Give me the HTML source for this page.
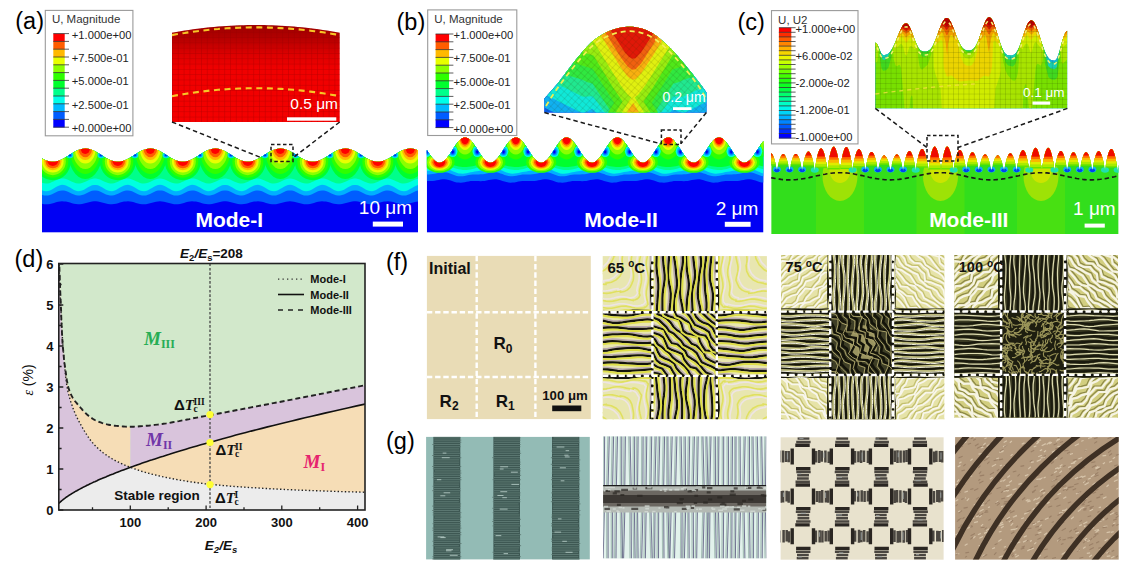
<!DOCTYPE html>
<html><head><meta charset="utf-8"><style>
html,body{margin:0;padding:0;background:#fff;}
body{width:1131px;height:568px;overflow:hidden;position:relative;}
svg{position:absolute;left:0;top:0;}
</style></head><body>
<svg width="1131" height="568" viewBox="0 0 1131 568">
<text x="15.3" y="29.3" text-anchor="start" style="font-family:'Liberation Sans',sans-serif;font-size:23.5px;font-weight:normal" fill="#000">(a)</text>
<text x="396.5" y="30.3" text-anchor="start" style="font-family:'Liberation Sans',sans-serif;font-size:23.5px;font-weight:normal" fill="#000">(b)</text>
<text x="737.5" y="29.5" text-anchor="start" style="font-family:'Liberation Sans',sans-serif;font-size:23.5px;font-weight:normal" fill="#000">(c)</text>
<text x="14.5" y="267" text-anchor="start" style="font-family:'Liberation Sans',sans-serif;font-size:23.5px;font-weight:normal" fill="#000">(d)</text>
<text x="386" y="269.5" text-anchor="start" style="font-family:'Liberation Sans',sans-serif;font-size:23.5px;font-weight:normal" fill="#000">(f)</text>
<text x="386" y="449" text-anchor="start" style="font-family:'Liberation Sans',sans-serif;font-size:23.5px;font-weight:normal" fill="#000">(g)</text>
<rect x="45.3" y="10.4" width="87.6" height="125.4" fill="#fff" stroke="#9a9a9a" stroke-width="1.1"/>
<text x="51.9" y="23.4" style="font-family:'Liberation Sans',sans-serif;font-size:11.5px" fill="#333">U, Magnitude</text>
<rect x="53.3" y="33.6" width="11.4" height="8.1" fill="#ff0000"/>
<rect x="53.3" y="41.4" width="11.4" height="8.1" fill="#ff5d00"/>
<rect x="53.3" y="49.2" width="11.4" height="8.1" fill="#ffb900"/>
<rect x="53.3" y="57" width="11.4" height="8.1" fill="#e8ff00"/>
<rect x="53.3" y="64.8" width="11.4" height="8.1" fill="#8bff00"/>
<rect x="53.3" y="72.6" width="11.4" height="8.1" fill="#2eff00"/>
<rect x="53.3" y="80.4" width="11.4" height="8.1" fill="#00ff2e"/>
<rect x="53.3" y="88.2" width="11.4" height="8.1" fill="#00ff8b"/>
<rect x="53.3" y="96" width="11.4" height="8.1" fill="#00ffe8"/>
<rect x="53.3" y="103.8" width="11.4" height="8.1" fill="#00b9ff"/>
<rect x="53.3" y="111.6" width="11.4" height="8.1" fill="#005dff"/>
<rect x="53.3" y="119.4" width="11.4" height="8.1" fill="#0000ff"/>
<line x1="53.3" y1="33.6" x2="69" y2="33.6" stroke="#333" stroke-width="0.8"/>
<line x1="53.3" y1="41.4" x2="69" y2="41.4" stroke="#333" stroke-width="0.8"/>
<line x1="53.3" y1="49.2" x2="69" y2="49.2" stroke="#333" stroke-width="0.8"/>
<line x1="53.3" y1="57" x2="69" y2="57" stroke="#333" stroke-width="0.8"/>
<line x1="53.3" y1="64.8" x2="69" y2="64.8" stroke="#333" stroke-width="0.8"/>
<line x1="53.3" y1="72.6" x2="69" y2="72.6" stroke="#333" stroke-width="0.8"/>
<line x1="53.3" y1="80.4" x2="69" y2="80.4" stroke="#333" stroke-width="0.8"/>
<line x1="53.3" y1="88.2" x2="69" y2="88.2" stroke="#333" stroke-width="0.8"/>
<line x1="53.3" y1="96" x2="69" y2="96" stroke="#333" stroke-width="0.8"/>
<line x1="53.3" y1="103.8" x2="69" y2="103.8" stroke="#333" stroke-width="0.8"/>
<line x1="53.3" y1="111.6" x2="69" y2="111.6" stroke="#333" stroke-width="0.8"/>
<line x1="53.3" y1="119.4" x2="69" y2="119.4" stroke="#333" stroke-width="0.8"/>
<line x1="53.3" y1="127.2" x2="69" y2="127.2" stroke="#333" stroke-width="0.8"/>
<text x="71.8" y="38.5" style="font-family:'Liberation Sans',sans-serif;font-size:11.2px" fill="#222">+1.000e+00</text>
<text x="71.8" y="61.9" style="font-family:'Liberation Sans',sans-serif;font-size:11.2px" fill="#222">+7.500e-01</text>
<text x="71.8" y="85.3" style="font-family:'Liberation Sans',sans-serif;font-size:11.2px" fill="#222">+5.000e-01</text>
<text x="71.8" y="108.7" style="font-family:'Liberation Sans',sans-serif;font-size:11.2px" fill="#222">+2.500e-01</text>
<text x="71.8" y="132.1" style="font-family:'Liberation Sans',sans-serif;font-size:11.2px" fill="#222">+0.000e+00</text>
<rect x="427.7" y="9.9" width="89.1" height="125.6" fill="#fff" stroke="#9a9a9a" stroke-width="1.1"/>
<text x="434.3" y="22.9" style="font-family:'Liberation Sans',sans-serif;font-size:11.5px" fill="#333">U, Magnitude</text>
<rect x="435.6" y="34" width="13.5" height="8.1" fill="#ff0000"/>
<rect x="435.6" y="41.8" width="13.5" height="8.1" fill="#ff5d00"/>
<rect x="435.6" y="49.6" width="13.5" height="8.1" fill="#ffb900"/>
<rect x="435.6" y="57.4" width="13.5" height="8.1" fill="#e8ff00"/>
<rect x="435.6" y="65.2" width="13.5" height="8.1" fill="#8bff00"/>
<rect x="435.6" y="73" width="13.5" height="8.1" fill="#2eff00"/>
<rect x="435.6" y="80.8" width="13.5" height="8.1" fill="#00ff2e"/>
<rect x="435.6" y="88.6" width="13.5" height="8.1" fill="#00ff8b"/>
<rect x="435.6" y="96.4" width="13.5" height="8.1" fill="#00ffe8"/>
<rect x="435.6" y="104.2" width="13.5" height="8.1" fill="#00b9ff"/>
<rect x="435.6" y="112" width="13.5" height="8.1" fill="#005dff"/>
<rect x="435.6" y="119.8" width="13.5" height="8.1" fill="#0000ff"/>
<line x1="435.6" y1="34" x2="453.4" y2="34" stroke="#333" stroke-width="0.8"/>
<line x1="435.6" y1="41.8" x2="453.4" y2="41.8" stroke="#333" stroke-width="0.8"/>
<line x1="435.6" y1="49.6" x2="453.4" y2="49.6" stroke="#333" stroke-width="0.8"/>
<line x1="435.6" y1="57.4" x2="453.4" y2="57.4" stroke="#333" stroke-width="0.8"/>
<line x1="435.6" y1="65.2" x2="453.4" y2="65.2" stroke="#333" stroke-width="0.8"/>
<line x1="435.6" y1="73" x2="453.4" y2="73" stroke="#333" stroke-width="0.8"/>
<line x1="435.6" y1="80.8" x2="453.4" y2="80.8" stroke="#333" stroke-width="0.8"/>
<line x1="435.6" y1="88.6" x2="453.4" y2="88.6" stroke="#333" stroke-width="0.8"/>
<line x1="435.6" y1="96.4" x2="453.4" y2="96.4" stroke="#333" stroke-width="0.8"/>
<line x1="435.6" y1="104.2" x2="453.4" y2="104.2" stroke="#333" stroke-width="0.8"/>
<line x1="435.6" y1="112" x2="453.4" y2="112" stroke="#333" stroke-width="0.8"/>
<line x1="435.6" y1="119.8" x2="453.4" y2="119.8" stroke="#333" stroke-width="0.8"/>
<line x1="435.6" y1="127.6" x2="453.4" y2="127.6" stroke="#333" stroke-width="0.8"/>
<text x="453.5" y="38.9" style="font-family:'Liberation Sans',sans-serif;font-size:11.2px" fill="#222">+1.000e+00</text>
<text x="453.5" y="62.3" style="font-family:'Liberation Sans',sans-serif;font-size:11.2px" fill="#222">+7.500e-01</text>
<text x="453.5" y="85.7" style="font-family:'Liberation Sans',sans-serif;font-size:11.2px" fill="#222">+5.000e-01</text>
<text x="453.5" y="109.1" style="font-family:'Liberation Sans',sans-serif;font-size:11.2px" fill="#222">+2.500e-01</text>
<text x="453.5" y="132.5" style="font-family:'Liberation Sans',sans-serif;font-size:11.2px" fill="#222">+0.000e+00</text>
<rect x="771.5" y="10.6" width="86.5" height="133.3" fill="#fff" stroke="#9a9a9a" stroke-width="1.1"/>
<text x="778.1" y="23.6" style="font-family:'Liberation Sans',sans-serif;font-size:11.5px" fill="#333">U, U2</text>
<rect x="778.9" y="27.7" width="12.4" height="4.9" fill="#ff0000"/>
<rect x="778.9" y="32.3" width="12.4" height="4.9" fill="#ff2c00"/>
<rect x="778.9" y="36.9" width="12.4" height="4.9" fill="#ff5800"/>
<rect x="778.9" y="41.5" width="12.4" height="4.9" fill="#ff8500"/>
<rect x="778.9" y="46.1" width="12.4" height="4.9" fill="#ffb000"/>
<rect x="778.9" y="50.7" width="12.4" height="4.9" fill="#f6d400"/>
<rect x="778.9" y="55.3" width="12.4" height="4.9" fill="#ebf500"/>
<rect x="778.9" y="59.9" width="12.4" height="4.9" fill="#c7ff00"/>
<rect x="778.9" y="64.5" width="12.4" height="4.9" fill="#9bff00"/>
<rect x="778.9" y="69.1" width="12.4" height="4.9" fill="#6eff00"/>
<rect x="778.9" y="73.7" width="12.4" height="4.9" fill="#42ff00"/>
<rect x="778.9" y="78.3" width="12.4" height="4.9" fill="#21ff0c"/>
<rect x="778.9" y="82.9" width="12.4" height="4.9" fill="#0cff21"/>
<rect x="778.9" y="87.5" width="12.4" height="4.9" fill="#00ff42"/>
<rect x="778.9" y="92.1" width="12.4" height="4.9" fill="#00ff6e"/>
<rect x="778.9" y="96.7" width="12.4" height="4.9" fill="#00ff9b"/>
<rect x="778.9" y="101.3" width="12.4" height="4.9" fill="#00ffc7"/>
<rect x="778.9" y="105.9" width="12.4" height="4.9" fill="#00f5eb"/>
<rect x="778.9" y="110.5" width="12.4" height="4.9" fill="#00d4f6"/>
<rect x="778.9" y="115.1" width="12.4" height="4.9" fill="#00b1ff"/>
<rect x="778.9" y="119.7" width="12.4" height="4.9" fill="#0085ff"/>
<rect x="778.9" y="124.3" width="12.4" height="4.9" fill="#0058ff"/>
<rect x="778.9" y="128.9" width="12.4" height="4.9" fill="#002cff"/>
<rect x="778.9" y="133.5" width="12.4" height="4.9" fill="#0000ff"/>
<line x1="778.9" y1="27.7" x2="795.6" y2="27.7" stroke="#333" stroke-width="0.8"/>
<line x1="778.9" y1="32.3" x2="795.6" y2="32.3" stroke="#333" stroke-width="0.8"/>
<line x1="778.9" y1="36.9" x2="795.6" y2="36.9" stroke="#333" stroke-width="0.8"/>
<line x1="778.9" y1="41.5" x2="795.6" y2="41.5" stroke="#333" stroke-width="0.8"/>
<line x1="778.9" y1="46.1" x2="795.6" y2="46.1" stroke="#333" stroke-width="0.8"/>
<line x1="778.9" y1="50.7" x2="795.6" y2="50.7" stroke="#333" stroke-width="0.8"/>
<line x1="778.9" y1="55.3" x2="795.6" y2="55.3" stroke="#333" stroke-width="0.8"/>
<line x1="778.9" y1="59.9" x2="795.6" y2="59.9" stroke="#333" stroke-width="0.8"/>
<line x1="778.9" y1="64.5" x2="795.6" y2="64.5" stroke="#333" stroke-width="0.8"/>
<line x1="778.9" y1="69.1" x2="795.6" y2="69.1" stroke="#333" stroke-width="0.8"/>
<line x1="778.9" y1="73.7" x2="795.6" y2="73.7" stroke="#333" stroke-width="0.8"/>
<line x1="778.9" y1="78.3" x2="795.6" y2="78.3" stroke="#333" stroke-width="0.8"/>
<line x1="778.9" y1="82.9" x2="795.6" y2="82.9" stroke="#333" stroke-width="0.8"/>
<line x1="778.9" y1="87.5" x2="795.6" y2="87.5" stroke="#333" stroke-width="0.8"/>
<line x1="778.9" y1="92.1" x2="795.6" y2="92.1" stroke="#333" stroke-width="0.8"/>
<line x1="778.9" y1="96.7" x2="795.6" y2="96.7" stroke="#333" stroke-width="0.8"/>
<line x1="778.9" y1="101.3" x2="795.6" y2="101.3" stroke="#333" stroke-width="0.8"/>
<line x1="778.9" y1="105.9" x2="795.6" y2="105.9" stroke="#333" stroke-width="0.8"/>
<line x1="778.9" y1="110.5" x2="795.6" y2="110.5" stroke="#333" stroke-width="0.8"/>
<line x1="778.9" y1="115.1" x2="795.6" y2="115.1" stroke="#333" stroke-width="0.8"/>
<line x1="778.9" y1="119.7" x2="795.6" y2="119.7" stroke="#333" stroke-width="0.8"/>
<line x1="778.9" y1="124.3" x2="795.6" y2="124.3" stroke="#333" stroke-width="0.8"/>
<line x1="778.9" y1="128.9" x2="795.6" y2="128.9" stroke="#333" stroke-width="0.8"/>
<line x1="778.9" y1="133.5" x2="795.6" y2="133.5" stroke="#333" stroke-width="0.8"/>
<line x1="778.9" y1="138.1" x2="795.6" y2="138.1" stroke="#333" stroke-width="0.8"/>
<text x="795.5" y="32.6" style="font-family:'Liberation Sans',sans-serif;font-size:11.2px" fill="#222">+1.000e+00</text>
<text x="795.5" y="59.8" style="font-family:'Liberation Sans',sans-serif;font-size:11.2px" fill="#222">+6.000e-02</text>
<text x="795.5" y="87" style="font-family:'Liberation Sans',sans-serif;font-size:11.2px" fill="#222">-2.000e-02</text>
<text x="795.5" y="114.2" style="font-family:'Liberation Sans',sans-serif;font-size:11.2px" fill="#222">-1.200e-01</text>
<text x="795.5" y="141.4" style="font-family:'Liberation Sans',sans-serif;font-size:11.2px" fill="#222">-1.000e+00</text>
<clipPath id="clipA"><path d="M42 158.5 L43 159.1 L44 159.6 L45 160 L46 160.4 L47 160.8 L48 161.1 L49 161.4 L50 161.6 L51 161.7 L52 161.8 L53 161.8 L54 161.8 L55 161.7 L56 161.5 L57 161.3 L58 161 L59 160.6 L60 160.3 L61 159.8 L62 159.4 L63 158.8 L64 158.3 L65 157.7 L66 157.1 L67 156.5 L68 155.9 L69 155.2 L70 154.6 L71 154 L72 153.3 L73 152.7 L74 152.2 L75 151.6 L76 151.1 L77 150.6 L78 150.2 L79 149.8 L80 149.4 L81 149.2 L82 148.9 L83 148.8 L84 148.7 L85 148.6 L86 148.6 L87 148.7 L88 148.8 L89 149 L90 149.3 L91 149.6 L92 149.9 L93 150.3 L94 150.8 L95 151.3 L96 151.8 L97 152.4 L98 153 L99 153.6 L100 154.2 L101 154.8 L102 155.5 L103 156.1 L104 156.7 L105 157.4 L106 158 L107 158.5 L108 159.1 L109 159.6 L110 160 L111 160.4 L112 160.8 L113 161.1 L114 161.4 L115 161.6 L116 161.7 L117 161.8 L118 161.8 L119 161.8 L120 161.7 L121 161.5 L122 161.3 L123 161 L124 160.6 L125 160.3 L126 159.8 L127 159.4 L128 158.8 L129 158.3 L130 157.7 L131 157.1 L132 156.5 L133 155.9 L134 155.2 L135 154.6 L136 154 L137 153.3 L138 152.7 L139 152.2 L140 151.6 L141 151.1 L142 150.6 L143 150.2 L144 149.8 L145 149.4 L146 149.2 L147 148.9 L148 148.8 L149 148.7 L150 148.6 L151 148.6 L152 148.7 L153 148.8 L154 149 L155 149.3 L156 149.6 L157 149.9 L158 150.3 L159 150.8 L160 151.3 L161 151.8 L162 152.4 L163 153 L164 153.6 L165 154.2 L166 154.8 L167 155.5 L168 156.1 L169 156.7 L170 157.4 L171 158 L172 158.5 L173 159.1 L174 159.6 L175 160 L176 160.4 L177 160.8 L178 161.1 L179 161.4 L180 161.6 L181 161.7 L182 161.8 L183 161.8 L184 161.8 L185 161.7 L186 161.5 L187 161.3 L188 161 L189 160.6 L190 160.3 L191 159.8 L192 159.4 L193 158.8 L194 158.3 L195 157.7 L196 157.1 L197 156.5 L198 155.9 L199 155.2 L200 154.6 L201 154 L202 153.3 L203 152.7 L204 152.2 L205 151.6 L206 151.1 L207 150.6 L208 150.2 L209 149.8 L210 149.4 L211 149.2 L212 148.9 L213 148.8 L214 148.7 L215 148.6 L216 148.6 L217 148.7 L218 148.8 L219 149 L220 149.3 L221 149.6 L222 149.9 L223 150.3 L224 150.8 L225 151.3 L226 151.8 L227 152.4 L228 153 L229 153.6 L230 154.2 L231 154.8 L232 155.5 L233 156.1 L234 156.7 L235 157.4 L236 158 L237 158.5 L238 159.1 L239 159.6 L240 160 L241 160.4 L242 160.8 L243 161.1 L244 161.4 L245 161.6 L246 161.7 L247 161.8 L248 161.8 L249 161.8 L250 161.7 L251 161.5 L252 161.3 L253 161 L254 160.6 L255 160.3 L256 159.8 L257 159.4 L258 158.8 L259 158.3 L260 157.7 L261 157.1 L262 156.5 L263 155.9 L264 155.2 L265 154.6 L266 154 L267 153.3 L268 152.7 L269 152.2 L270 151.6 L271 151.1 L272 150.6 L273 150.2 L274 149.8 L275 149.4 L276 149.2 L277 148.9 L278 148.8 L279 148.7 L280 148.6 L281 148.6 L282 148.7 L283 148.8 L284 149 L285 149.3 L286 149.6 L287 149.9 L288 150.3 L289 150.8 L290 151.3 L291 151.8 L292 152.4 L293 153 L294 153.6 L295 154.2 L296 154.8 L297 155.5 L298 156.1 L299 156.7 L300 157.4 L301 158 L302 158.5 L303 159.1 L304 159.6 L305 160 L306 160.4 L307 160.8 L308 161.1 L309 161.4 L310 161.6 L311 161.7 L312 161.8 L313 161.8 L314 161.8 L315 161.7 L316 161.5 L317 161.3 L318 161 L319 160.6 L320 160.3 L321 159.8 L322 159.4 L323 158.8 L324 158.3 L325 157.7 L326 157.1 L327 156.5 L328 155.9 L329 155.2 L330 154.6 L331 154 L332 153.3 L333 152.7 L334 152.2 L335 151.6 L336 151.1 L337 150.6 L338 150.2 L339 149.8 L340 149.4 L341 149.2 L342 148.9 L343 148.8 L344 148.7 L345 148.6 L346 148.6 L347 148.7 L348 148.8 L349 149 L350 149.3 L351 149.6 L352 149.9 L353 150.3 L354 150.8 L355 151.3 L356 151.8 L357 152.4 L358 153 L359 153.6 L360 154.2 L361 154.8 L362 155.5 L363 156.1 L364 156.7 L365 157.4 L366 158 L367 158.5 L368 159.1 L369 159.6 L370 160 L371 160.4 L372 160.8 L373 161.1 L374 161.4 L375 161.6 L376 161.7 L377 161.8 L378 161.8 L379 161.8 L380 161.7 L381 161.5 L382 161.3 L383 161 L384 160.6 L385 160.3 L386 159.8 L387 159.4 L388 158.8 L389 158.3 L390 157.7 L391 157.1 L392 156.5 L393 155.9 L394 155.2 L395 154.6 L396 154 L397 153.3 L398 152.7 L399 152.2 L400 151.6 L401 151.1 L402 150.6 L403 150.2 L404 149.8 L405 149.4 L406 149.2 L407 148.9 L408 148.8 L409 148.7 L410 148.6 L411 148.6 L412 148.7 L413 148.8 L414 149 L415 149.3 L416 149.6 L417 149.9 L418 150.3 L418 232.6 L42 232.6Z"/></clipPath>
<g clip-path="url(#clipA)">
<rect x="42" y="140" width="376" height="92.6" fill="#0000f4"/>
<path d="M42 140 L418 140 L418 201.4 L416 201.7 L414 202.2 L412 202.8 L410 203.3 L408 203.8 L406 204.2 L404 204.3 L402 204.2 L400 203.9 L398 203.5 L396 202.9 L394 202.3 L392 201.8 L390 201.5 L388 201.3 L386 201.4 L384 201.6 L382 202.1 L380 202.6 L378 203.2 L376 203.7 L374 204.1 L372 204.3 L370 204.3 L368 204 L366 203.6 L364 203.1 L362 202.5 L360 201.9 L358 201.5 L356 201.3 L354 201.3 L352 201.5 L350 201.9 L348 202.5 L346 203.1 L344 203.6 L342 204 L340 204.3 L338 204.3 L336 204.1 L334 203.7 L332 203.2 L330 202.6 L328 202.1 L326 201.6 L324 201.4 L322 201.3 L320 201.5 L318 201.8 L316 202.3 L314 202.9 L312 203.5 L310 203.9 L308 204.2 L306 204.3 L304 204.2 L302 203.8 L300 203.3 L298 202.8 L296 202.2 L294 201.7 L292 201.4 L290 201.3 L288 201.4 L286 201.7 L284 202.2 L282 202.8 L280 203.3 L278 203.8 L276 204.2 L274 204.3 L272 204.2 L270 203.9 L268 203.5 L266 202.9 L264 202.3 L262 201.8 L260 201.5 L258 201.3 L256 201.4 L254 201.6 L252 202.1 L250 202.6 L248 203.2 L246 203.7 L244 204.1 L242 204.3 L240 204.3 L238 204 L236 203.6 L234 203.1 L232 202.5 L230 201.9 L228 201.5 L226 201.3 L224 201.3 L222 201.5 L220 201.9 L218 202.5 L216 203.1 L214 203.6 L212 204 L210 204.3 L208 204.3 L206 204.1 L204 203.7 L202 203.2 L200 202.6 L198 202.1 L196 201.6 L194 201.4 L192 201.3 L190 201.5 L188 201.8 L186 202.3 L184 202.9 L182 203.5 L180 203.9 L178 204.2 L176 204.3 L174 204.2 L172 203.8 L170 203.3 L168 202.8 L166 202.2 L164 201.7 L162 201.4 L160 201.3 L158 201.4 L156 201.7 L154 202.2 L152 202.8 L150 203.3 L148 203.8 L146 204.2 L144 204.3 L142 204.2 L140 203.9 L138 203.5 L136 202.9 L134 202.3 L132 201.8 L130 201.5 L128 201.3 L126 201.4 L124 201.6 L122 202.1 L120 202.6 L118 203.2 L116 203.7 L114 204.1 L112 204.3 L110 204.3 L108 204 L106 203.6 L104 203.1 L102 202.5 L100 201.9 L98 201.5 L96 201.3 L94 201.3 L92 201.5 L90 201.9 L88 202.5 L86 203.1 L84 203.6 L82 204 L80 204.3 L78 204.3 L76 204.1 L74 203.7 L72 203.2 L70 202.6 L68 202.1 L66 201.6 L64 201.4 L62 201.3 L60 201.5 L58 201.8 L56 202.3 L54 202.9 L52 203.5 L50 203.9 L48 204.2 L46 204.3 L44 204.2 L42 203.8Z" fill="#005dff"/>
<path d="M42 140 L418 140 L418 190.6 L416 191.1 L414 192 L412 192.9 L410 193.9 L408 194.8 L406 195.4 L404 195.6 L402 195.5 L400 194.9 L398 194.2 L396 193.2 L394 192.2 L392 191.3 L390 190.7 L388 190.4 L386 190.5 L384 191 L382 191.7 L380 192.7 L378 193.7 L376 194.6 L374 195.2 L372 195.6 L370 195.5 L368 195.1 L366 194.4 L364 193.4 L362 192.4 L360 191.5 L358 190.8 L356 190.4 L354 190.4 L352 190.8 L350 191.5 L348 192.4 L346 193.4 L344 194.4 L342 195.1 L340 195.5 L338 195.6 L336 195.2 L334 194.6 L332 193.7 L330 192.7 L328 191.7 L326 191 L324 190.5 L322 190.4 L320 190.7 L318 191.3 L316 192.2 L314 193.2 L312 194.2 L310 194.9 L308 195.5 L306 195.6 L304 195.4 L302 194.8 L300 193.9 L298 192.9 L296 192 L294 191.1 L292 190.6 L290 190.4 L288 190.6 L286 191.1 L284 192 L282 192.9 L280 193.9 L278 194.8 L276 195.4 L274 195.6 L272 195.5 L270 194.9 L268 194.2 L266 193.2 L264 192.2 L262 191.3 L260 190.7 L258 190.4 L256 190.5 L254 191 L252 191.7 L250 192.7 L248 193.7 L246 194.6 L244 195.2 L242 195.6 L240 195.5 L238 195.1 L236 194.4 L234 193.4 L232 192.4 L230 191.5 L228 190.8 L226 190.4 L224 190.4 L222 190.8 L220 191.5 L218 192.4 L216 193.4 L214 194.4 L212 195.1 L210 195.5 L208 195.6 L206 195.2 L204 194.6 L202 193.7 L200 192.7 L198 191.7 L196 191 L194 190.5 L192 190.4 L190 190.7 L188 191.3 L186 192.2 L184 193.2 L182 194.2 L180 194.9 L178 195.5 L176 195.6 L174 195.4 L172 194.8 L170 193.9 L168 192.9 L166 192 L164 191.1 L162 190.6 L160 190.4 L158 190.6 L156 191.1 L154 192 L152 192.9 L150 193.9 L148 194.8 L146 195.4 L144 195.6 L142 195.5 L140 194.9 L138 194.2 L136 193.2 L134 192.2 L132 191.3 L130 190.7 L128 190.4 L126 190.5 L124 191 L122 191.7 L120 192.7 L118 193.7 L116 194.6 L114 195.2 L112 195.6 L110 195.5 L108 195.1 L106 194.4 L104 193.4 L102 192.4 L100 191.5 L98 190.8 L96 190.4 L94 190.4 L92 190.8 L90 191.5 L88 192.4 L86 193.4 L84 194.4 L82 195.1 L80 195.5 L78 195.6 L76 195.2 L74 194.6 L72 193.7 L70 192.7 L68 191.7 L66 191 L64 190.5 L62 190.4 L60 190.7 L58 191.3 L56 192.2 L54 193.2 L52 194.2 L50 194.9 L48 195.5 L46 195.6 L44 195.4 L42 194.8Z" fill="#00b0ff"/>
<path d="M42 140 L418 140 L418 185 L416 185.7 L414 186.7 L412 187.9 L410 189.1 L408 190.2 L406 190.9 L404 191.2 L402 191 L400 190.4 L398 189.4 L396 188.2 L394 187 L392 185.9 L390 185.2 L388 184.8 L386 184.9 L384 185.5 L382 186.4 L380 187.6 L378 188.8 L376 189.9 L374 190.8 L372 191.2 L370 191.1 L368 190.6 L366 189.7 L364 188.5 L362 187.3 L360 186.2 L358 185.3 L356 184.9 L354 184.9 L352 185.3 L350 186.2 L348 187.3 L346 188.5 L344 189.7 L342 190.6 L340 191.1 L338 191.2 L336 190.8 L334 189.9 L332 188.8 L330 187.6 L328 186.4 L326 185.5 L324 184.9 L322 184.8 L320 185.2 L318 185.9 L316 187 L314 188.2 L312 189.4 L310 190.4 L308 191 L306 191.2 L304 190.9 L302 190.2 L300 189.1 L298 187.9 L296 186.7 L294 185.7 L292 185 L290 184.8 L288 185 L286 185.7 L284 186.7 L282 187.9 L280 189.1 L278 190.2 L276 190.9 L274 191.2 L272 191 L270 190.4 L268 189.4 L266 188.2 L264 187 L262 185.9 L260 185.2 L258 184.8 L256 184.9 L254 185.5 L252 186.4 L250 187.6 L248 188.8 L246 189.9 L244 190.8 L242 191.2 L240 191.1 L238 190.6 L236 189.7 L234 188.5 L232 187.3 L230 186.2 L228 185.3 L226 184.9 L224 184.9 L222 185.3 L220 186.2 L218 187.3 L216 188.5 L214 189.7 L212 190.6 L210 191.1 L208 191.2 L206 190.8 L204 189.9 L202 188.8 L200 187.6 L198 186.4 L196 185.5 L194 184.9 L192 184.8 L190 185.2 L188 185.9 L186 187 L184 188.2 L182 189.4 L180 190.4 L178 191 L176 191.2 L174 190.9 L172 190.2 L170 189.1 L168 187.9 L166 186.7 L164 185.7 L162 185 L160 184.8 L158 185 L156 185.7 L154 186.7 L152 187.9 L150 189.1 L148 190.2 L146 190.9 L144 191.2 L142 191 L140 190.4 L138 189.4 L136 188.2 L134 187 L132 185.9 L130 185.2 L128 184.8 L126 184.9 L124 185.5 L122 186.4 L120 187.6 L118 188.8 L116 189.9 L114 190.8 L112 191.2 L110 191.1 L108 190.6 L106 189.7 L104 188.5 L102 187.3 L100 186.2 L98 185.3 L96 184.9 L94 184.9 L92 185.3 L90 186.2 L88 187.3 L86 188.5 L84 189.7 L82 190.6 L80 191.1 L78 191.2 L76 190.8 L74 189.9 L72 188.8 L70 187.6 L68 186.4 L66 185.5 L64 184.9 L62 184.8 L60 185.2 L58 185.9 L56 187 L54 188.2 L52 189.4 L50 190.4 L48 191 L46 191.2 L44 190.9 L42 190.2Z" fill="#00ffe0"/>
<path d="M42 140 L418 140 L418 178.7 L416 179.2 L414 180 L412 180.9 L410 181.9 L408 182.7 L406 183.3 L404 183.5 L402 183.4 L400 182.9 L398 182.1 L396 181.2 L394 180.2 L392 179.4 L390 178.8 L388 178.5 L386 178.6 L384 179.1 L382 179.8 L380 180.7 L378 181.7 L376 182.5 L374 183.2 L372 183.5 L370 183.4 L368 183 L366 182.3 L364 181.4 L362 180.5 L360 179.6 L358 178.9 L356 178.5 L354 178.5 L352 178.9 L350 179.6 L348 180.5 L346 181.4 L344 182.3 L342 183 L340 183.4 L338 183.5 L336 183.2 L334 182.5 L332 181.7 L330 180.7 L328 179.8 L326 179.1 L324 178.6 L322 178.5 L320 178.8 L318 179.4 L316 180.2 L314 181.2 L312 182.1 L310 182.9 L308 183.4 L306 183.5 L304 183.3 L302 182.7 L300 181.9 L298 180.9 L296 180 L294 179.2 L292 178.7 L290 178.5 L288 178.7 L286 179.2 L284 180 L282 180.9 L280 181.9 L278 182.7 L276 183.3 L274 183.5 L272 183.4 L270 182.9 L268 182.1 L266 181.2 L264 180.2 L262 179.4 L260 178.8 L258 178.5 L256 178.6 L254 179.1 L252 179.8 L250 180.7 L248 181.7 L246 182.5 L244 183.2 L242 183.5 L240 183.4 L238 183 L236 182.3 L234 181.4 L232 180.5 L230 179.6 L228 178.9 L226 178.5 L224 178.5 L222 178.9 L220 179.6 L218 180.5 L216 181.4 L214 182.3 L212 183 L210 183.4 L208 183.5 L206 183.2 L204 182.5 L202 181.7 L200 180.7 L198 179.8 L196 179.1 L194 178.6 L192 178.5 L190 178.8 L188 179.4 L186 180.2 L184 181.2 L182 182.1 L180 182.9 L178 183.4 L176 183.5 L174 183.3 L172 182.7 L170 181.9 L168 180.9 L166 180 L164 179.2 L162 178.7 L160 178.5 L158 178.7 L156 179.2 L154 180 L152 180.9 L150 181.9 L148 182.7 L146 183.3 L144 183.5 L142 183.4 L140 182.9 L138 182.1 L136 181.2 L134 180.2 L132 179.4 L130 178.8 L128 178.5 L126 178.6 L124 179.1 L122 179.8 L120 180.7 L118 181.7 L116 182.5 L114 183.2 L112 183.5 L110 183.4 L108 183 L106 182.3 L104 181.4 L102 180.5 L100 179.6 L98 178.9 L96 178.5 L94 178.5 L92 178.9 L90 179.6 L88 180.5 L86 181.4 L84 182.3 L82 183 L80 183.4 L78 183.5 L76 183.2 L74 182.5 L72 181.7 L70 180.7 L68 179.8 L66 179.1 L64 178.6 L62 178.5 L60 178.8 L58 179.4 L56 180.2 L54 181.2 L52 182.1 L50 182.9 L48 183.4 L46 183.5 L44 183.3 L42 182.7Z" fill="#00ff8b"/>
<ellipse cx="20.3" cy="148" rx="18" ry="31" fill="#00ff2e"/>
<ellipse cx="52.8" cy="161.2" rx="18" ry="19" fill="#00ff2e"/>
<ellipse cx="85.3" cy="148" rx="18" ry="31" fill="#00ff2e"/>
<ellipse cx="117.8" cy="161.2" rx="18" ry="19" fill="#00ff2e"/>
<ellipse cx="150.3" cy="148" rx="18" ry="31" fill="#00ff2e"/>
<ellipse cx="182.8" cy="161.2" rx="18" ry="19" fill="#00ff2e"/>
<ellipse cx="215.3" cy="148" rx="18" ry="31" fill="#00ff2e"/>
<ellipse cx="247.8" cy="161.2" rx="18" ry="19" fill="#00ff2e"/>
<ellipse cx="280.3" cy="148" rx="18" ry="31" fill="#00ff2e"/>
<ellipse cx="312.8" cy="161.2" rx="18" ry="19" fill="#00ff2e"/>
<ellipse cx="345.3" cy="148" rx="18" ry="31" fill="#00ff2e"/>
<ellipse cx="377.8" cy="161.2" rx="18" ry="19" fill="#00ff2e"/>
<ellipse cx="410.3" cy="148" rx="18" ry="31" fill="#00ff2e"/>
<ellipse cx="442.8" cy="161.2" rx="18" ry="19" fill="#00ff2e"/>
<ellipse cx="20.3" cy="148" rx="15.5" ry="26" fill="#2eff00"/>
<ellipse cx="52.8" cy="161.2" rx="15.5" ry="16.5" fill="#2eff00"/>
<ellipse cx="85.3" cy="148" rx="15.5" ry="26" fill="#2eff00"/>
<ellipse cx="117.8" cy="161.2" rx="15.5" ry="16.5" fill="#2eff00"/>
<ellipse cx="150.3" cy="148" rx="15.5" ry="26" fill="#2eff00"/>
<ellipse cx="182.8" cy="161.2" rx="15.5" ry="16.5" fill="#2eff00"/>
<ellipse cx="215.3" cy="148" rx="15.5" ry="26" fill="#2eff00"/>
<ellipse cx="247.8" cy="161.2" rx="15.5" ry="16.5" fill="#2eff00"/>
<ellipse cx="280.3" cy="148" rx="15.5" ry="26" fill="#2eff00"/>
<ellipse cx="312.8" cy="161.2" rx="15.5" ry="16.5" fill="#2eff00"/>
<ellipse cx="345.3" cy="148" rx="15.5" ry="26" fill="#2eff00"/>
<ellipse cx="377.8" cy="161.2" rx="15.5" ry="16.5" fill="#2eff00"/>
<ellipse cx="410.3" cy="148" rx="15.5" ry="26" fill="#2eff00"/>
<ellipse cx="442.8" cy="161.2" rx="15.5" ry="16.5" fill="#2eff00"/>
<ellipse cx="20.3" cy="148" rx="13" ry="21" fill="#8bff00"/>
<ellipse cx="52.8" cy="161.2" rx="13" ry="14" fill="#8bff00"/>
<ellipse cx="85.3" cy="148" rx="13" ry="21" fill="#8bff00"/>
<ellipse cx="117.8" cy="161.2" rx="13" ry="14" fill="#8bff00"/>
<ellipse cx="150.3" cy="148" rx="13" ry="21" fill="#8bff00"/>
<ellipse cx="182.8" cy="161.2" rx="13" ry="14" fill="#8bff00"/>
<ellipse cx="215.3" cy="148" rx="13" ry="21" fill="#8bff00"/>
<ellipse cx="247.8" cy="161.2" rx="13" ry="14" fill="#8bff00"/>
<ellipse cx="280.3" cy="148" rx="13" ry="21" fill="#8bff00"/>
<ellipse cx="312.8" cy="161.2" rx="13" ry="14" fill="#8bff00"/>
<ellipse cx="345.3" cy="148" rx="13" ry="21" fill="#8bff00"/>
<ellipse cx="377.8" cy="161.2" rx="13" ry="14" fill="#8bff00"/>
<ellipse cx="410.3" cy="148" rx="13" ry="21" fill="#8bff00"/>
<ellipse cx="442.8" cy="161.2" rx="13" ry="14" fill="#8bff00"/>
<ellipse cx="20.3" cy="148" rx="10.5" ry="15.5" fill="#e8ff00"/>
<ellipse cx="52.8" cy="161.2" rx="10.8" ry="11.3" fill="#e8ff00"/>
<ellipse cx="85.3" cy="148" rx="10.5" ry="15.5" fill="#e8ff00"/>
<ellipse cx="117.8" cy="161.2" rx="10.8" ry="11.3" fill="#e8ff00"/>
<ellipse cx="150.3" cy="148" rx="10.5" ry="15.5" fill="#e8ff00"/>
<ellipse cx="182.8" cy="161.2" rx="10.8" ry="11.3" fill="#e8ff00"/>
<ellipse cx="215.3" cy="148" rx="10.5" ry="15.5" fill="#e8ff00"/>
<ellipse cx="247.8" cy="161.2" rx="10.8" ry="11.3" fill="#e8ff00"/>
<ellipse cx="280.3" cy="148" rx="10.5" ry="15.5" fill="#e8ff00"/>
<ellipse cx="312.8" cy="161.2" rx="10.8" ry="11.3" fill="#e8ff00"/>
<ellipse cx="345.3" cy="148" rx="10.5" ry="15.5" fill="#e8ff00"/>
<ellipse cx="377.8" cy="161.2" rx="10.8" ry="11.3" fill="#e8ff00"/>
<ellipse cx="410.3" cy="148" rx="10.5" ry="15.5" fill="#e8ff00"/>
<ellipse cx="442.8" cy="161.2" rx="10.8" ry="11.3" fill="#e8ff00"/>
<ellipse cx="20.3" cy="148" rx="8.5" ry="12" fill="#ffb900"/>
<ellipse cx="52.8" cy="161.2" rx="8.8" ry="9" fill="#ffb900"/>
<ellipse cx="85.3" cy="148" rx="8.5" ry="12" fill="#ffb900"/>
<ellipse cx="117.8" cy="161.2" rx="8.8" ry="9" fill="#ffb900"/>
<ellipse cx="150.3" cy="148" rx="8.5" ry="12" fill="#ffb900"/>
<ellipse cx="182.8" cy="161.2" rx="8.8" ry="9" fill="#ffb900"/>
<ellipse cx="215.3" cy="148" rx="8.5" ry="12" fill="#ffb900"/>
<ellipse cx="247.8" cy="161.2" rx="8.8" ry="9" fill="#ffb900"/>
<ellipse cx="280.3" cy="148" rx="8.5" ry="12" fill="#ffb900"/>
<ellipse cx="312.8" cy="161.2" rx="8.8" ry="9" fill="#ffb900"/>
<ellipse cx="345.3" cy="148" rx="8.5" ry="12" fill="#ffb900"/>
<ellipse cx="377.8" cy="161.2" rx="8.8" ry="9" fill="#ffb900"/>
<ellipse cx="410.3" cy="148" rx="8.5" ry="12" fill="#ffb900"/>
<ellipse cx="442.8" cy="161.2" rx="8.8" ry="9" fill="#ffb900"/>
<ellipse cx="20.3" cy="148" rx="6.8" ry="9.3" fill="#ff5d00"/>
<ellipse cx="52.8" cy="161.2" rx="7.2" ry="7" fill="#ff5d00"/>
<ellipse cx="85.3" cy="148" rx="6.8" ry="9.3" fill="#ff5d00"/>
<ellipse cx="117.8" cy="161.2" rx="7.2" ry="7" fill="#ff5d00"/>
<ellipse cx="150.3" cy="148" rx="6.8" ry="9.3" fill="#ff5d00"/>
<ellipse cx="182.8" cy="161.2" rx="7.2" ry="7" fill="#ff5d00"/>
<ellipse cx="215.3" cy="148" rx="6.8" ry="9.3" fill="#ff5d00"/>
<ellipse cx="247.8" cy="161.2" rx="7.2" ry="7" fill="#ff5d00"/>
<ellipse cx="280.3" cy="148" rx="6.8" ry="9.3" fill="#ff5d00"/>
<ellipse cx="312.8" cy="161.2" rx="7.2" ry="7" fill="#ff5d00"/>
<ellipse cx="345.3" cy="148" rx="6.8" ry="9.3" fill="#ff5d00"/>
<ellipse cx="377.8" cy="161.2" rx="7.2" ry="7" fill="#ff5d00"/>
<ellipse cx="410.3" cy="148" rx="6.8" ry="9.3" fill="#ff5d00"/>
<ellipse cx="442.8" cy="161.2" rx="7.2" ry="7" fill="#ff5d00"/>
<ellipse cx="20.3" cy="148" rx="4.8" ry="6" fill="#ff0000"/>
<ellipse cx="52.8" cy="161.2" rx="5.3" ry="4.8" fill="#ff0000"/>
<ellipse cx="85.3" cy="148" rx="4.8" ry="6" fill="#ff0000"/>
<ellipse cx="117.8" cy="161.2" rx="5.3" ry="4.8" fill="#ff0000"/>
<ellipse cx="150.3" cy="148" rx="4.8" ry="6" fill="#ff0000"/>
<ellipse cx="182.8" cy="161.2" rx="5.3" ry="4.8" fill="#ff0000"/>
<ellipse cx="215.3" cy="148" rx="4.8" ry="6" fill="#ff0000"/>
<ellipse cx="247.8" cy="161.2" rx="5.3" ry="4.8" fill="#ff0000"/>
<ellipse cx="280.3" cy="148" rx="4.8" ry="6" fill="#ff0000"/>
<ellipse cx="312.8" cy="161.2" rx="5.3" ry="4.8" fill="#ff0000"/>
<ellipse cx="345.3" cy="148" rx="4.8" ry="6" fill="#ff0000"/>
<ellipse cx="377.8" cy="161.2" rx="5.3" ry="4.8" fill="#ff0000"/>
<ellipse cx="410.3" cy="148" rx="4.8" ry="6" fill="#ff0000"/>
<ellipse cx="442.8" cy="161.2" rx="5.3" ry="4.8" fill="#ff0000"/>
<ellipse cx="4.8" cy="155" rx="3.6" ry="3.2" fill="#00e8e0"/>
<ellipse cx="4.8" cy="155" rx="2.4" ry="2.2" fill="#00a0ff"/>
<ellipse cx="4.8" cy="155" rx="1.4" ry="1.3" fill="#0030f0"/>
<ellipse cx="36.1" cy="155" rx="3.6" ry="3.2" fill="#00e8e0"/>
<ellipse cx="36.1" cy="155" rx="2.4" ry="2.2" fill="#00a0ff"/>
<ellipse cx="36.1" cy="155" rx="1.4" ry="1.3" fill="#0030f0"/>
<ellipse cx="69.8" cy="155" rx="3.6" ry="3.2" fill="#00e8e0"/>
<ellipse cx="69.8" cy="155" rx="2.4" ry="2.2" fill="#00a0ff"/>
<ellipse cx="69.8" cy="155" rx="1.4" ry="1.3" fill="#0030f0"/>
<ellipse cx="101.1" cy="155" rx="3.6" ry="3.2" fill="#00e8e0"/>
<ellipse cx="101.1" cy="155" rx="2.4" ry="2.2" fill="#00a0ff"/>
<ellipse cx="101.1" cy="155" rx="1.4" ry="1.3" fill="#0030f0"/>
<ellipse cx="134.8" cy="155" rx="3.6" ry="3.2" fill="#00e8e0"/>
<ellipse cx="134.8" cy="155" rx="2.4" ry="2.2" fill="#00a0ff"/>
<ellipse cx="134.8" cy="155" rx="1.4" ry="1.3" fill="#0030f0"/>
<ellipse cx="166.1" cy="155" rx="3.6" ry="3.2" fill="#00e8e0"/>
<ellipse cx="166.1" cy="155" rx="2.4" ry="2.2" fill="#00a0ff"/>
<ellipse cx="166.1" cy="155" rx="1.4" ry="1.3" fill="#0030f0"/>
<ellipse cx="199.8" cy="155" rx="3.6" ry="3.2" fill="#00e8e0"/>
<ellipse cx="199.8" cy="155" rx="2.4" ry="2.2" fill="#00a0ff"/>
<ellipse cx="199.8" cy="155" rx="1.4" ry="1.3" fill="#0030f0"/>
<ellipse cx="231.1" cy="155" rx="3.6" ry="3.2" fill="#00e8e0"/>
<ellipse cx="231.1" cy="155" rx="2.4" ry="2.2" fill="#00a0ff"/>
<ellipse cx="231.1" cy="155" rx="1.4" ry="1.3" fill="#0030f0"/>
<ellipse cx="264.8" cy="155" rx="3.6" ry="3.2" fill="#00e8e0"/>
<ellipse cx="264.8" cy="155" rx="2.4" ry="2.2" fill="#00a0ff"/>
<ellipse cx="264.8" cy="155" rx="1.4" ry="1.3" fill="#0030f0"/>
<ellipse cx="296.1" cy="155" rx="3.6" ry="3.2" fill="#00e8e0"/>
<ellipse cx="296.1" cy="155" rx="2.4" ry="2.2" fill="#00a0ff"/>
<ellipse cx="296.1" cy="155" rx="1.4" ry="1.3" fill="#0030f0"/>
<ellipse cx="329.8" cy="155" rx="3.6" ry="3.2" fill="#00e8e0"/>
<ellipse cx="329.8" cy="155" rx="2.4" ry="2.2" fill="#00a0ff"/>
<ellipse cx="329.8" cy="155" rx="1.4" ry="1.3" fill="#0030f0"/>
<ellipse cx="361.1" cy="155" rx="3.6" ry="3.2" fill="#00e8e0"/>
<ellipse cx="361.1" cy="155" rx="2.4" ry="2.2" fill="#00a0ff"/>
<ellipse cx="361.1" cy="155" rx="1.4" ry="1.3" fill="#0030f0"/>
<ellipse cx="394.8" cy="155" rx="3.6" ry="3.2" fill="#00e8e0"/>
<ellipse cx="394.8" cy="155" rx="2.4" ry="2.2" fill="#00a0ff"/>
<ellipse cx="394.8" cy="155" rx="1.4" ry="1.3" fill="#0030f0"/>
<ellipse cx="426.1" cy="155" rx="3.6" ry="3.2" fill="#00e8e0"/>
<ellipse cx="426.1" cy="155" rx="2.4" ry="2.2" fill="#00a0ff"/>
<ellipse cx="426.1" cy="155" rx="1.4" ry="1.3" fill="#0030f0"/>
</g>
<clipPath id="clipB"><path d="M426.8 149.9 L427.8 151.5 L428.8 153 L429.8 154.5 L430.8 156 L431.8 157.3 L432.8 158.5 L433.8 159.6 L434.8 160.6 L435.8 161.4 L436.8 162 L437.8 162.4 L438.8 162.7 L439.8 162.7 L440.8 162.6 L441.8 162.3 L442.8 161.8 L443.8 161.1 L444.8 160.2 L445.8 159.2 L446.8 158.1 L447.8 156.8 L448.8 155.4 L449.8 154 L450.8 152.5 L451.8 150.9 L452.8 149.4 L453.8 147.8 L454.8 146.3 L455.8 144.8 L456.8 143.5 L457.8 142.2 L458.8 141 L459.8 140 L460.8 139.1 L461.8 138.4 L462.8 137.9 L463.8 137.6 L464.8 137.5 L465.8 137.5 L466.8 137.8 L467.8 138.2 L468.8 138.8 L469.8 139.6 L470.8 140.5 L471.8 141.6 L472.8 142.8 L473.8 144.2 L474.8 145.6 L475.8 147.1 L476.8 148.6 L477.8 150.2 L478.8 151.7 L479.8 153.3 L480.8 154.8 L481.8 156.2 L482.8 157.5 L483.7 158.7 L484.7 159.8 L485.7 160.7 L486.7 161.5 L487.7 162.1 L488.7 162.5 L489.7 162.7 L490.7 162.7 L491.7 162.6 L492.7 162.2 L493.7 161.7 L494.7 161 L495.7 160.1 L496.7 159.1 L497.7 157.9 L498.7 156.6 L499.7 155.2 L500.7 153.7 L501.7 152.2 L502.7 150.7 L503.7 149.1 L504.7 147.6 L505.7 146.1 L506.7 144.6 L507.7 143.2 L508.7 142 L509.7 140.9 L510.7 139.9 L511.7 139 L512.7 138.4 L513.7 137.9 L514.7 137.6 L515.7 137.5 L516.7 137.5 L517.7 137.8 L518.7 138.3 L519.7 138.9 L520.7 139.7 L521.7 140.7 L522.7 141.8 L523.7 143 L524.7 144.4 L525.7 145.8 L526.7 147.3 L527.7 148.9 L528.7 150.4 L529.7 152 L530.7 153.5 L531.7 155 L532.7 156.4 L533.7 157.7 L534.7 158.9 L535.7 159.9 L536.7 160.8 L537.7 161.6 L538.7 162.2 L539.7 162.5 L540.7 162.7 L541.7 162.7 L542.7 162.5 L543.7 162.2 L544.7 161.6 L545.7 160.8 L546.7 159.9 L547.7 158.9 L548.7 157.7 L549.7 156.4 L550.7 155 L551.7 153.5 L552.7 152 L553.7 150.4 L554.7 148.9 L555.7 147.3 L556.7 145.8 L557.7 144.4 L558.7 143 L559.7 141.8 L560.7 140.7 L561.7 139.7 L562.7 138.9 L563.7 138.3 L564.7 137.8 L565.7 137.5 L566.7 137.5 L567.7 137.6 L568.7 137.9 L569.7 138.4 L570.7 139 L571.7 139.9 L572.7 140.9 L573.7 142 L574.7 143.2 L575.7 144.6 L576.7 146.1 L577.7 147.6 L578.7 149.1 L579.7 150.7 L580.7 152.2 L581.7 153.7 L582.7 155.2 L583.7 156.6 L584.7 157.9 L585.7 159.1 L586.7 160.1 L587.7 161 L588.7 161.7 L589.7 162.2 L590.7 162.6 L591.7 162.7 L592.7 162.7 L593.7 162.5 L594.7 162.1 L595.6 161.5 L596.6 160.7 L597.6 159.8 L598.6 158.7 L599.6 157.5 L600.6 156.2 L601.6 154.8 L602.6 153.3 L603.6 151.7 L604.6 150.2 L605.6 148.6 L606.6 147.1 L607.6 145.6 L608.6 144.2 L609.6 142.8 L610.6 141.6 L611.6 140.5 L612.6 139.6 L613.6 138.8 L614.6 138.2 L615.6 137.8 L616.6 137.5 L617.6 137.5 L618.6 137.6 L619.6 137.9 L620.6 138.4 L621.6 139.1 L622.6 140 L623.6 141 L624.6 142.2 L625.6 143.4 L626.6 144.8 L627.6 146.3 L628.6 147.8 L629.6 149.3 L630.6 150.9 L631.6 152.5 L632.6 154 L633.6 155.4 L634.6 156.8 L635.6 158.1 L636.6 159.2 L637.6 160.2 L638.6 161.1 L639.6 161.8 L640.6 162.3 L641.6 162.6 L642.6 162.7 L643.6 162.7 L644.6 162.4 L645.6 162 L646.6 161.4 L647.6 160.6 L648.6 159.6 L649.6 158.5 L650.6 157.3 L651.6 156 L652.6 154.5 L653.6 153 L654.6 151.5 L655.6 149.9 L656.6 148.4 L657.6 146.9 L658.6 145.4 L659.6 144 L660.6 142.6 L661.6 141.4 L662.6 140.4 L663.6 139.5 L664.6 138.7 L665.6 138.1 L666.6 137.7 L667.6 137.5 L668.6 137.5 L669.6 137.6 L670.6 138 L671.6 138.5 L672.6 139.3 L673.6 140.1 L674.6 141.2 L675.6 142.4 L676.6 143.7 L677.6 145 L678.6 146.5 L679.6 148 L680.6 149.6 L681.6 151.2 L682.6 152.7 L683.6 154.2 L684.6 155.6 L685.6 157 L686.6 158.3 L687.6 159.4 L688.6 160.4 L689.6 161.2 L690.6 161.9 L691.6 162.4 L692.6 162.6 L693.6 162.7 L694.6 162.7 L695.6 162.4 L696.6 161.9 L697.6 161.3 L698.6 160.4 L699.6 159.5 L700.6 158.3 L701.6 157.1 L702.6 155.8 L703.6 154.3 L704.6 152.8 L705.6 151.3 L706.6 149.7 L707.5 148.2 L708.5 146.6 L709.5 145.2 L710.5 143.8 L711.5 142.5 L712.5 141.3 L713.5 140.2 L714.5 139.3 L715.5 138.6 L716.5 138 L717.5 137.7 L718.5 137.5 L719.5 137.5 L720.5 137.7 L721.5 138.1 L722.5 138.6 L723.5 139.4 L724.5 140.3 L725.5 141.4 L726.5 142.6 L727.5 143.9 L728.5 145.3 L729.5 146.7 L730.5 148.3 L731.5 149.8 L732.5 151.4 L733.5 152.9 L734.5 154.4 L735.5 155.9 L736.5 157.2 L737.5 158.4 L738.5 159.6 L739.5 160.5 L740.5 161.3 L741.5 162 L742.5 162.4 L743.5 162.7 L744.5 162.7 L745.5 162.6 L746.5 162.3 L747.5 161.8 L748.5 161.1 L749.5 160.3 L750.5 159.3 L751.5 158.2 L752.5 156.9 L753.5 155.5 L754.5 154.1 L755.5 152.6 L756.5 151 L757.5 149.5 L758.5 147.9 L759.5 146.4 L760.5 144.9 L761.5 143.5 L762.5 142.3 L763.5 141.1 L763.5 232.6 L426.8 232.6Z"/></clipPath>
<g clip-path="url(#clipB)">
<rect x="426.8" y="130" width="336.7" height="102.6" fill="#0000f4"/>
<path d="M426.8 130 L763.5 130 L763.5 182.6 L761.5 182.4 L759.5 181.9 L757.5 181.2 L755.5 180.5 L753.5 179.9 L751.5 179.5 L749.6 179.3 L747.6 179.3 L745.6 179.5 L743.6 179.9 L741.6 180.3 L739.6 180.7 L737.6 181 L735.6 181.1 L733.6 181.1 L731.6 181.1 L729.6 181 L727.6 180.9 L725.6 181 L723.7 181.3 L721.7 181.6 L719.7 182 L717.7 182.4 L715.7 182.6 L713.7 182.7 L711.7 182.5 L709.7 182.1 L707.7 181.5 L705.7 180.9 L703.7 180.2 L701.7 179.7 L699.7 179.3 L697.8 179.2 L695.8 179.4 L693.8 179.7 L691.8 180.1 L689.8 180.5 L687.8 180.9 L685.8 181.1 L683.8 181.2 L681.8 181.1 L679.8 181 L677.8 180.9 L675.8 181 L673.8 181.1 L671.9 181.4 L669.9 181.8 L667.9 182.2 L665.9 182.5 L663.9 182.7 L661.9 182.6 L659.9 182.4 L657.9 181.9 L655.9 181.2 L653.9 180.5 L651.9 179.9 L649.9 179.5 L647.9 179.3 L646 179.3 L644 179.5 L642 179.9 L640 180.3 L638 180.7 L636 181 L634 181.1 L632 181.1 L630 181.1 L628 181 L626 180.9 L624 181 L622 181.3 L620.1 181.6 L618.1 182 L616.1 182.4 L614.1 182.6 L612.1 182.7 L610.1 182.5 L608.1 182.1 L606.1 181.5 L604.1 180.9 L602.1 180.2 L600.1 179.7 L598.1 179.3 L596.1 179.2 L594.2 179.4 L592.2 179.7 L590.2 180.1 L588.2 180.5 L586.2 180.9 L584.2 181.1 L582.2 181.2 L580.2 181.1 L578.2 181 L576.2 180.9 L574.2 181 L572.2 181.1 L570.2 181.4 L568.3 181.8 L566.3 182.2 L564.3 182.5 L562.3 182.7 L560.3 182.6 L558.3 182.4 L556.3 181.9 L554.3 181.2 L552.3 180.5 L550.3 179.9 L548.3 179.5 L546.3 179.3 L544.3 179.3 L542.4 179.5 L540.4 179.9 L538.4 180.3 L536.4 180.7 L534.4 181 L532.4 181.1 L530.4 181.1 L528.4 181.1 L526.4 181 L524.4 180.9 L522.4 181 L520.4 181.3 L518.4 181.6 L516.5 182 L514.5 182.4 L512.5 182.6 L510.5 182.7 L508.5 182.5 L506.5 182.1 L504.5 181.5 L502.5 180.9 L500.5 180.2 L498.5 179.7 L496.5 179.3 L494.5 179.2 L492.5 179.4 L490.6 179.7 L488.6 180.1 L486.6 180.5 L484.6 180.9 L482.6 181.1 L480.6 181.2 L478.6 181.1 L476.6 181 L474.6 180.9 L472.6 181 L470.6 181.1 L468.6 181.4 L466.6 181.8 L464.7 182.2 L462.7 182.5 L460.7 182.7 L458.7 182.6 L456.7 182.4 L454.7 181.9 L452.7 181.2 L450.7 180.5 L448.7 179.9 L446.7 179.5 L444.7 179.3 L442.7 179.3 L440.7 179.5 L438.8 179.9 L436.8 180.3 L434.8 180.7 L432.8 181 L430.8 181.1 L428.8 181.1 L426.8 181.1Z" fill="#005dff"/>
<path d="M426.8 130 L763.5 130 L763.5 176.2 L761.5 175.9 L759.5 175.3 L757.5 174.5 L755.5 173.8 L753.5 173 L751.5 172.5 L749.6 172.2 L747.6 172.2 L745.6 172.4 L743.6 172.8 L741.6 173.3 L739.6 173.7 L737.6 174 L735.6 174.3 L733.6 174.3 L731.6 174.4 L729.6 174.4 L727.6 174.4 L725.6 174.6 L723.7 174.9 L721.7 175.3 L719.7 175.7 L717.7 176.1 L715.7 176.3 L713.7 176.3 L711.7 176.1 L709.7 175.6 L707.7 174.9 L705.7 174.1 L703.7 173.4 L701.7 172.8 L699.7 172.3 L697.8 172.2 L695.8 172.3 L693.8 172.6 L691.8 173 L689.8 173.5 L687.8 173.9 L685.8 174.2 L683.8 174.3 L681.8 174.4 L679.8 174.4 L677.8 174.4 L675.8 174.5 L673.8 174.7 L671.9 175.1 L669.9 175.5 L667.9 175.9 L665.9 176.2 L663.9 176.3 L661.9 176.2 L659.9 175.9 L657.9 175.3 L655.9 174.5 L653.9 173.8 L651.9 173 L649.9 172.5 L647.9 172.2 L646 172.2 L644 172.4 L642 172.8 L640 173.3 L638 173.7 L636 174 L634 174.3 L632 174.3 L630 174.4 L628 174.4 L626 174.4 L624 174.6 L622 174.9 L620.1 175.3 L618.1 175.7 L616.1 176.1 L614.1 176.3 L612.1 176.3 L610.1 176.1 L608.1 175.6 L606.1 174.9 L604.1 174.1 L602.1 173.4 L600.1 172.8 L598.1 172.3 L596.1 172.2 L594.2 172.3 L592.2 172.6 L590.2 173 L588.2 173.5 L586.2 173.9 L584.2 174.2 L582.2 174.3 L580.2 174.4 L578.2 174.4 L576.2 174.4 L574.2 174.5 L572.2 174.7 L570.2 175.1 L568.3 175.5 L566.3 175.9 L564.3 176.2 L562.3 176.3 L560.3 176.2 L558.3 175.9 L556.3 175.3 L554.3 174.5 L552.3 173.7 L550.3 173 L548.3 172.5 L546.3 172.2 L544.3 172.2 L542.4 172.4 L540.4 172.8 L538.4 173.3 L536.4 173.7 L534.4 174 L532.4 174.3 L530.4 174.4 L528.4 174.4 L526.4 174.4 L524.4 174.4 L522.4 174.6 L520.4 174.9 L518.4 175.3 L516.5 175.7 L514.5 176.1 L512.5 176.3 L510.5 176.3 L508.5 176.1 L506.5 175.6 L504.5 174.9 L502.5 174.1 L500.5 173.4 L498.5 172.7 L496.5 172.3 L494.5 172.2 L492.5 172.3 L490.6 172.6 L488.6 173 L486.6 173.5 L484.6 173.9 L482.6 174.2 L480.6 174.3 L478.6 174.4 L476.6 174.4 L474.6 174.4 L472.6 174.5 L470.6 174.7 L468.6 175.1 L466.6 175.5 L464.7 175.9 L462.7 176.2 L460.7 176.3 L458.7 176.2 L456.7 175.9 L454.7 175.3 L452.7 174.5 L450.7 173.7 L448.7 173 L446.7 172.5 L444.7 172.2 L442.7 172.2 L440.7 172.4 L438.8 172.8 L436.8 173.3 L434.8 173.7 L432.8 174 L430.8 174.3 L428.8 174.4 L426.8 174.4Z" fill="#00b0ff"/>
<path d="M426.8 130 L763.5 130 L763.5 173.4 L761.5 172.9 L759.5 172.1 L757.5 171.2 L755.5 170.3 L753.5 169.5 L751.5 168.8 L749.6 168.4 L747.6 168.2 L745.6 168.3 L743.6 168.6 L741.6 169 L739.6 169.5 L737.6 169.9 L735.6 170.4 L733.6 170.7 L731.6 171.1 L729.6 171.4 L727.6 171.7 L725.6 172.1 L723.7 172.5 L721.7 173 L719.7 173.3 L717.7 173.6 L715.7 173.7 L713.7 173.5 L711.7 173.1 L709.7 172.5 L707.7 171.7 L705.7 170.8 L703.7 169.9 L701.7 169.1 L699.7 168.6 L697.8 168.3 L695.8 168.2 L693.8 168.4 L691.8 168.8 L689.8 169.2 L687.8 169.7 L685.8 170.2 L683.8 170.6 L681.8 170.9 L679.8 171.2 L677.8 171.6 L675.8 171.9 L673.8 172.3 L671.9 172.7 L669.9 173.2 L667.9 173.5 L665.9 173.7 L663.9 173.7 L661.9 173.4 L659.9 172.8 L657.9 172.1 L655.9 171.2 L653.9 170.3 L651.9 169.5 L649.9 168.8 L647.9 168.4 L646 168.2 L644 168.3 L642 168.6 L640 169 L638 169.5 L636 169.9 L634 170.4 L632 170.7 L630 171.1 L628 171.4 L626 171.7 L624 172.1 L622 172.5 L620.1 173 L618.1 173.3 L616.1 173.6 L614.1 173.7 L612.1 173.5 L610.1 173.1 L608.1 172.5 L606.1 171.7 L604.1 170.8 L602.1 169.9 L600.1 169.1 L598.1 168.6 L596.1 168.3 L594.2 168.2 L592.2 168.4 L590.2 168.8 L588.2 169.2 L586.2 169.7 L584.2 170.2 L582.2 170.6 L580.2 170.9 L578.2 171.2 L576.2 171.6 L574.2 171.9 L572.2 172.3 L570.2 172.7 L568.3 173.2 L566.3 173.5 L564.3 173.7 L562.3 173.7 L560.3 173.4 L558.3 172.8 L556.3 172.1 L554.3 171.2 L552.3 170.3 L550.3 169.5 L548.3 168.8 L546.3 168.4 L544.3 168.2 L542.4 168.3 L540.4 168.6 L538.4 169 L536.4 169.5 L534.4 169.9 L532.4 170.4 L530.4 170.7 L528.4 171.1 L526.4 171.4 L524.4 171.7 L522.4 172.1 L520.4 172.5 L518.4 173 L516.5 173.3 L514.5 173.6 L512.5 173.7 L510.5 173.5 L508.5 173.1 L506.5 172.5 L504.5 171.7 L502.5 170.8 L500.5 169.9 L498.5 169.1 L496.5 168.6 L494.5 168.3 L492.5 168.2 L490.6 168.4 L488.6 168.8 L486.6 169.2 L484.6 169.7 L482.6 170.2 L480.6 170.6 L478.6 170.9 L476.6 171.2 L474.6 171.6 L472.6 171.9 L470.6 172.3 L468.6 172.8 L466.6 173.2 L464.7 173.5 L462.7 173.7 L460.7 173.6 L458.7 173.4 L456.7 172.8 L454.7 172.1 L452.7 171.2 L450.7 170.3 L448.7 169.5 L446.7 168.8 L444.7 168.4 L442.7 168.2 L440.7 168.3 L438.8 168.6 L436.8 169 L434.8 169.5 L432.8 169.9 L430.8 170.4 L428.8 170.7 L426.8 171.1Z" fill="#00ffe0"/>
<path d="M426.8 130 L763.5 130 L763.5 169.3 L761.5 168.8 L759.5 168.2 L757.5 167.6 L755.5 167 L753.5 166.4 L751.5 165.9 L749.6 165.5 L747.6 165.2 L745.6 165 L743.6 165 L741.6 165.2 L739.6 165.4 L737.6 165.8 L735.6 166.3 L733.6 166.9 L731.6 167.5 L729.6 168.1 L727.6 168.7 L725.6 169.2 L723.7 169.6 L721.7 169.9 L719.7 170 L717.7 170 L715.7 169.8 L713.7 169.5 L711.7 169 L709.7 168.5 L707.7 167.9 L705.7 167.3 L703.7 166.7 L701.7 166.2 L699.7 165.7 L697.8 165.3 L695.8 165.1 L693.8 165 L691.8 165.1 L689.8 165.3 L687.8 165.6 L685.8 166.1 L683.8 166.6 L681.8 167.2 L679.8 167.8 L677.8 168.4 L675.8 169 L673.8 169.4 L671.9 169.7 L669.9 169.9 L667.9 170 L665.9 169.9 L663.9 169.7 L661.9 169.3 L659.9 168.8 L657.9 168.2 L655.9 167.6 L653.9 167 L651.9 166.4 L649.9 165.9 L647.9 165.5 L646 165.2 L644 165 L642 165 L640 165.2 L638 165.4 L636 165.8 L634 166.3 L632 166.9 L630 167.5 L628 168.1 L626 168.7 L624 169.2 L622 169.6 L620.1 169.9 L618.1 170 L616.1 170 L614.1 169.8 L612.1 169.5 L610.1 169 L608.1 168.5 L606.1 167.9 L604.1 167.3 L602.1 166.7 L600.1 166.2 L598.1 165.7 L596.1 165.3 L594.2 165.1 L592.2 165 L590.2 165.1 L588.2 165.3 L586.2 165.6 L584.2 166.1 L582.2 166.6 L580.2 167.2 L578.2 167.8 L576.2 168.4 L574.2 169 L572.2 169.4 L570.2 169.8 L568.3 169.9 L566.3 170 L564.3 169.9 L562.3 169.7 L560.3 169.3 L558.3 168.8 L556.3 168.2 L554.3 167.6 L552.3 167 L550.3 166.4 L548.3 165.9 L546.3 165.5 L544.3 165.2 L542.4 165 L540.4 165 L538.4 165.2 L536.4 165.4 L534.4 165.8 L532.4 166.3 L530.4 166.9 L528.4 167.5 L526.4 168.1 L524.4 168.7 L522.4 169.2 L520.4 169.6 L518.4 169.9 L516.5 170 L514.5 170 L512.5 169.8 L510.5 169.5 L508.5 169 L506.5 168.5 L504.5 167.9 L502.5 167.3 L500.5 166.7 L498.5 166.2 L496.5 165.7 L494.5 165.3 L492.5 165.1 L490.6 165 L488.6 165.1 L486.6 165.3 L484.6 165.6 L482.6 166.1 L480.6 166.6 L478.6 167.2 L476.6 167.8 L474.6 168.4 L472.6 169 L470.6 169.4 L468.6 169.8 L466.6 169.9 L464.7 170 L462.7 169.9 L460.7 169.6 L458.7 169.3 L456.7 168.8 L454.7 168.2 L452.7 167.6 L450.7 167 L448.7 166.4 L446.7 165.9 L444.7 165.5 L442.7 165.2 L440.7 165 L438.8 165 L436.8 165.2 L434.8 165.4 L432.8 165.8 L430.8 166.3 L428.8 166.9 L426.8 167.5Z" fill="#00ff8b"/>
<path d="M426.8 130 L763.5 130 L763.5 166.4 L761.5 166 L759.5 165.6 L757.5 165.1 L755.5 164.6 L753.5 164.1 L751.5 163.7 L749.6 163.4 L747.6 163.2 L745.6 163 L743.6 163 L741.6 163.1 L739.6 163.3 L737.6 163.7 L735.6 164.1 L733.6 164.5 L731.6 165 L729.6 165.5 L727.6 166 L725.6 166.4 L723.7 166.7 L721.7 166.9 L719.7 167 L717.7 167 L715.7 166.8 L713.7 166.6 L711.7 166.2 L709.7 165.8 L707.7 165.3 L705.7 164.9 L703.7 164.4 L701.7 163.9 L699.7 163.6 L697.8 163.3 L695.8 163.1 L693.8 163 L691.8 163.1 L689.8 163.2 L687.8 163.5 L685.8 163.9 L683.8 164.3 L681.8 164.8 L679.8 165.3 L677.8 165.7 L675.8 166.2 L673.8 166.5 L671.9 166.8 L669.9 167 L667.9 167 L665.9 166.9 L663.9 166.7 L661.9 166.4 L659.9 166 L657.9 165.6 L655.9 165.1 L653.9 164.6 L651.9 164.1 L649.9 163.7 L647.9 163.4 L646 163.2 L644 163 L642 163 L640 163.1 L638 163.3 L636 163.7 L634 164.1 L632 164.5 L630 165 L628 165.5 L626 166 L624 166.4 L622 166.7 L620.1 166.9 L618.1 167 L616.1 167 L614.1 166.8 L612.1 166.6 L610.1 166.2 L608.1 165.8 L606.1 165.3 L604.1 164.9 L602.1 164.4 L600.1 163.9 L598.1 163.5 L596.1 163.3 L594.2 163.1 L592.2 163 L590.2 163.1 L588.2 163.2 L586.2 163.5 L584.2 163.9 L582.2 164.3 L580.2 164.8 L578.2 165.3 L576.2 165.7 L574.2 166.2 L572.2 166.5 L570.2 166.8 L568.3 167 L566.3 167 L564.3 166.9 L562.3 166.7 L560.3 166.4 L558.3 166 L556.3 165.6 L554.3 165.1 L552.3 164.6 L550.3 164.1 L548.3 163.7 L546.3 163.4 L544.3 163.1 L542.4 163 L540.4 163 L538.4 163.1 L536.4 163.3 L534.4 163.7 L532.4 164.1 L530.4 164.5 L528.4 165 L526.4 165.5 L524.4 166 L522.4 166.4 L520.4 166.7 L518.4 166.9 L516.5 167 L514.5 167 L512.5 166.8 L510.5 166.6 L508.5 166.2 L506.5 165.8 L504.5 165.3 L502.5 164.9 L500.5 164.4 L498.5 163.9 L496.5 163.5 L494.5 163.3 L492.5 163.1 L490.6 163 L488.6 163.1 L486.6 163.2 L484.6 163.5 L482.6 163.9 L480.6 164.3 L478.6 164.8 L476.6 165.3 L474.6 165.7 L472.6 166.2 L470.6 166.5 L468.6 166.8 L466.6 167 L464.7 167 L462.7 166.9 L460.7 166.7 L458.7 166.4 L456.7 166 L454.7 165.6 L452.7 165.1 L450.7 164.6 L448.7 164.1 L446.7 163.7 L444.7 163.4 L442.7 163.1 L440.7 163 L438.8 163 L436.8 163.1 L434.8 163.3 L432.8 163.7 L430.8 164.1 L428.8 164.5 L426.8 165Z" fill="#00ff2e"/>
<ellipse cx="414.2" cy="137.5" rx="13" ry="22" fill="#2eff00"/>
<ellipse cx="439.6" cy="162.3" rx="15" ry="10.5" fill="#2eff00"/>
<ellipse cx="465" cy="137.5" rx="13" ry="22" fill="#2eff00"/>
<ellipse cx="490.4" cy="162.3" rx="15" ry="10.5" fill="#2eff00"/>
<ellipse cx="515.8" cy="137.5" rx="13" ry="22" fill="#2eff00"/>
<ellipse cx="541.2" cy="162.3" rx="15" ry="10.5" fill="#2eff00"/>
<ellipse cx="566.6" cy="137.5" rx="13" ry="22" fill="#2eff00"/>
<ellipse cx="592" cy="162.3" rx="15" ry="10.5" fill="#2eff00"/>
<ellipse cx="617.4" cy="137.5" rx="13" ry="22" fill="#2eff00"/>
<ellipse cx="642.8" cy="162.3" rx="15" ry="10.5" fill="#2eff00"/>
<ellipse cx="668.2" cy="137.5" rx="13" ry="22" fill="#2eff00"/>
<ellipse cx="693.6" cy="162.3" rx="15" ry="10.5" fill="#2eff00"/>
<ellipse cx="719" cy="137.5" rx="13" ry="22" fill="#2eff00"/>
<ellipse cx="744.4" cy="162.3" rx="15" ry="10.5" fill="#2eff00"/>
<ellipse cx="769.8" cy="137.5" rx="13" ry="22" fill="#2eff00"/>
<ellipse cx="795.2" cy="162.3" rx="15" ry="10.5" fill="#2eff00"/>
<ellipse cx="414.2" cy="137.5" rx="10" ry="17" fill="#8bff00"/>
<ellipse cx="439.6" cy="162.3" rx="12.5" ry="9" fill="#8bff00"/>
<ellipse cx="465" cy="137.5" rx="10" ry="17" fill="#8bff00"/>
<ellipse cx="490.4" cy="162.3" rx="12.5" ry="9" fill="#8bff00"/>
<ellipse cx="515.8" cy="137.5" rx="10" ry="17" fill="#8bff00"/>
<ellipse cx="541.2" cy="162.3" rx="12.5" ry="9" fill="#8bff00"/>
<ellipse cx="566.6" cy="137.5" rx="10" ry="17" fill="#8bff00"/>
<ellipse cx="592" cy="162.3" rx="12.5" ry="9" fill="#8bff00"/>
<ellipse cx="617.4" cy="137.5" rx="10" ry="17" fill="#8bff00"/>
<ellipse cx="642.8" cy="162.3" rx="12.5" ry="9" fill="#8bff00"/>
<ellipse cx="668.2" cy="137.5" rx="10" ry="17" fill="#8bff00"/>
<ellipse cx="693.6" cy="162.3" rx="12.5" ry="9" fill="#8bff00"/>
<ellipse cx="719" cy="137.5" rx="10" ry="17" fill="#8bff00"/>
<ellipse cx="744.4" cy="162.3" rx="12.5" ry="9" fill="#8bff00"/>
<ellipse cx="769.8" cy="137.5" rx="10" ry="17" fill="#8bff00"/>
<ellipse cx="795.2" cy="162.3" rx="12.5" ry="9" fill="#8bff00"/>
<ellipse cx="414.2" cy="137.5" rx="7.5" ry="12.5" fill="#e8ff00"/>
<ellipse cx="439.6" cy="162.3" rx="10.5" ry="7.6" fill="#e8ff00"/>
<ellipse cx="465" cy="137.5" rx="7.5" ry="12.5" fill="#e8ff00"/>
<ellipse cx="490.4" cy="162.3" rx="10.5" ry="7.6" fill="#e8ff00"/>
<ellipse cx="515.8" cy="137.5" rx="7.5" ry="12.5" fill="#e8ff00"/>
<ellipse cx="541.2" cy="162.3" rx="10.5" ry="7.6" fill="#e8ff00"/>
<ellipse cx="566.6" cy="137.5" rx="7.5" ry="12.5" fill="#e8ff00"/>
<ellipse cx="592" cy="162.3" rx="10.5" ry="7.6" fill="#e8ff00"/>
<ellipse cx="617.4" cy="137.5" rx="7.5" ry="12.5" fill="#e8ff00"/>
<ellipse cx="642.8" cy="162.3" rx="10.5" ry="7.6" fill="#e8ff00"/>
<ellipse cx="668.2" cy="137.5" rx="7.5" ry="12.5" fill="#e8ff00"/>
<ellipse cx="693.6" cy="162.3" rx="10.5" ry="7.6" fill="#e8ff00"/>
<ellipse cx="719" cy="137.5" rx="7.5" ry="12.5" fill="#e8ff00"/>
<ellipse cx="744.4" cy="162.3" rx="10.5" ry="7.6" fill="#e8ff00"/>
<ellipse cx="769.8" cy="137.5" rx="7.5" ry="12.5" fill="#e8ff00"/>
<ellipse cx="795.2" cy="162.3" rx="10.5" ry="7.6" fill="#e8ff00"/>
<ellipse cx="414.2" cy="137.5" rx="6.2" ry="10" fill="#ffb900"/>
<ellipse cx="439.6" cy="162.3" rx="8.8" ry="6.4" fill="#ffb900"/>
<ellipse cx="465" cy="137.5" rx="6.2" ry="10" fill="#ffb900"/>
<ellipse cx="490.4" cy="162.3" rx="8.8" ry="6.4" fill="#ffb900"/>
<ellipse cx="515.8" cy="137.5" rx="6.2" ry="10" fill="#ffb900"/>
<ellipse cx="541.2" cy="162.3" rx="8.8" ry="6.4" fill="#ffb900"/>
<ellipse cx="566.6" cy="137.5" rx="6.2" ry="10" fill="#ffb900"/>
<ellipse cx="592" cy="162.3" rx="8.8" ry="6.4" fill="#ffb900"/>
<ellipse cx="617.4" cy="137.5" rx="6.2" ry="10" fill="#ffb900"/>
<ellipse cx="642.8" cy="162.3" rx="8.8" ry="6.4" fill="#ffb900"/>
<ellipse cx="668.2" cy="137.5" rx="6.2" ry="10" fill="#ffb900"/>
<ellipse cx="693.6" cy="162.3" rx="8.8" ry="6.4" fill="#ffb900"/>
<ellipse cx="719" cy="137.5" rx="6.2" ry="10" fill="#ffb900"/>
<ellipse cx="744.4" cy="162.3" rx="8.8" ry="6.4" fill="#ffb900"/>
<ellipse cx="769.8" cy="137.5" rx="6.2" ry="10" fill="#ffb900"/>
<ellipse cx="795.2" cy="162.3" rx="8.8" ry="6.4" fill="#ffb900"/>
<ellipse cx="414.2" cy="137.5" rx="5.2" ry="8.2" fill="#ff5d00"/>
<ellipse cx="439.6" cy="162.3" rx="7.2" ry="5.5" fill="#ff5d00"/>
<ellipse cx="465" cy="137.5" rx="5.2" ry="8.2" fill="#ff5d00"/>
<ellipse cx="490.4" cy="162.3" rx="7.2" ry="5.5" fill="#ff5d00"/>
<ellipse cx="515.8" cy="137.5" rx="5.2" ry="8.2" fill="#ff5d00"/>
<ellipse cx="541.2" cy="162.3" rx="7.2" ry="5.5" fill="#ff5d00"/>
<ellipse cx="566.6" cy="137.5" rx="5.2" ry="8.2" fill="#ff5d00"/>
<ellipse cx="592" cy="162.3" rx="7.2" ry="5.5" fill="#ff5d00"/>
<ellipse cx="617.4" cy="137.5" rx="5.2" ry="8.2" fill="#ff5d00"/>
<ellipse cx="642.8" cy="162.3" rx="7.2" ry="5.5" fill="#ff5d00"/>
<ellipse cx="668.2" cy="137.5" rx="5.2" ry="8.2" fill="#ff5d00"/>
<ellipse cx="693.6" cy="162.3" rx="7.2" ry="5.5" fill="#ff5d00"/>
<ellipse cx="719" cy="137.5" rx="5.2" ry="8.2" fill="#ff5d00"/>
<ellipse cx="744.4" cy="162.3" rx="7.2" ry="5.5" fill="#ff5d00"/>
<ellipse cx="769.8" cy="137.5" rx="5.2" ry="8.2" fill="#ff5d00"/>
<ellipse cx="795.2" cy="162.3" rx="7.2" ry="5.5" fill="#ff5d00"/>
<ellipse cx="414.2" cy="137.5" rx="4.2" ry="6.8" fill="#ff0000"/>
<ellipse cx="439.6" cy="162.3" rx="5.5" ry="4.6" fill="#ff0000"/>
<ellipse cx="465" cy="137.5" rx="4.2" ry="6.8" fill="#ff0000"/>
<ellipse cx="490.4" cy="162.3" rx="5.5" ry="4.6" fill="#ff0000"/>
<ellipse cx="515.8" cy="137.5" rx="4.2" ry="6.8" fill="#ff0000"/>
<ellipse cx="541.2" cy="162.3" rx="5.5" ry="4.6" fill="#ff0000"/>
<ellipse cx="566.6" cy="137.5" rx="4.2" ry="6.8" fill="#ff0000"/>
<ellipse cx="592" cy="162.3" rx="5.5" ry="4.6" fill="#ff0000"/>
<ellipse cx="617.4" cy="137.5" rx="4.2" ry="6.8" fill="#ff0000"/>
<ellipse cx="642.8" cy="162.3" rx="5.5" ry="4.6" fill="#ff0000"/>
<ellipse cx="668.2" cy="137.5" rx="4.2" ry="6.8" fill="#ff0000"/>
<ellipse cx="693.6" cy="162.3" rx="5.5" ry="4.6" fill="#ff0000"/>
<ellipse cx="719" cy="137.5" rx="4.2" ry="6.8" fill="#ff0000"/>
<ellipse cx="744.4" cy="162.3" rx="5.5" ry="4.6" fill="#ff0000"/>
<ellipse cx="769.8" cy="137.5" rx="4.2" ry="6.8" fill="#ff0000"/>
<ellipse cx="795.2" cy="162.3" rx="5.5" ry="4.6" fill="#ff0000"/>
<ellipse cx="401.9" cy="151.3" rx="4.8" ry="5.8" fill="#00ffe0"/>
<ellipse cx="401.9" cy="151.5" rx="3.4" ry="4.2" fill="#00b0ff"/>
<ellipse cx="401.9" cy="151.7" rx="2.2" ry="2.8" fill="#005dff"/>
<ellipse cx="401.9" cy="151.8" rx="1.2" ry="1.6" fill="#0000f0"/>
<ellipse cx="426.5" cy="151.3" rx="4.8" ry="5.8" fill="#00ffe0"/>
<ellipse cx="426.5" cy="151.5" rx="3.4" ry="4.2" fill="#00b0ff"/>
<ellipse cx="426.5" cy="151.7" rx="2.2" ry="2.8" fill="#005dff"/>
<ellipse cx="426.5" cy="151.8" rx="1.2" ry="1.6" fill="#0000f0"/>
<ellipse cx="452.7" cy="151.3" rx="4.8" ry="5.8" fill="#00ffe0"/>
<ellipse cx="452.7" cy="151.5" rx="3.4" ry="4.2" fill="#00b0ff"/>
<ellipse cx="452.7" cy="151.7" rx="2.2" ry="2.8" fill="#005dff"/>
<ellipse cx="452.7" cy="151.8" rx="1.2" ry="1.6" fill="#0000f0"/>
<ellipse cx="477.3" cy="151.3" rx="4.8" ry="5.8" fill="#00ffe0"/>
<ellipse cx="477.3" cy="151.5" rx="3.4" ry="4.2" fill="#00b0ff"/>
<ellipse cx="477.3" cy="151.7" rx="2.2" ry="2.8" fill="#005dff"/>
<ellipse cx="477.3" cy="151.8" rx="1.2" ry="1.6" fill="#0000f0"/>
<ellipse cx="503.5" cy="151.3" rx="4.8" ry="5.8" fill="#00ffe0"/>
<ellipse cx="503.5" cy="151.5" rx="3.4" ry="4.2" fill="#00b0ff"/>
<ellipse cx="503.5" cy="151.7" rx="2.2" ry="2.8" fill="#005dff"/>
<ellipse cx="503.5" cy="151.8" rx="1.2" ry="1.6" fill="#0000f0"/>
<ellipse cx="528.1" cy="151.3" rx="4.8" ry="5.8" fill="#00ffe0"/>
<ellipse cx="528.1" cy="151.5" rx="3.4" ry="4.2" fill="#00b0ff"/>
<ellipse cx="528.1" cy="151.7" rx="2.2" ry="2.8" fill="#005dff"/>
<ellipse cx="528.1" cy="151.8" rx="1.2" ry="1.6" fill="#0000f0"/>
<ellipse cx="554.3" cy="151.3" rx="4.8" ry="5.8" fill="#00ffe0"/>
<ellipse cx="554.3" cy="151.5" rx="3.4" ry="4.2" fill="#00b0ff"/>
<ellipse cx="554.3" cy="151.7" rx="2.2" ry="2.8" fill="#005dff"/>
<ellipse cx="554.3" cy="151.8" rx="1.2" ry="1.6" fill="#0000f0"/>
<ellipse cx="578.9" cy="151.3" rx="4.8" ry="5.8" fill="#00ffe0"/>
<ellipse cx="578.9" cy="151.5" rx="3.4" ry="4.2" fill="#00b0ff"/>
<ellipse cx="578.9" cy="151.7" rx="2.2" ry="2.8" fill="#005dff"/>
<ellipse cx="578.9" cy="151.8" rx="1.2" ry="1.6" fill="#0000f0"/>
<ellipse cx="605.1" cy="151.3" rx="4.8" ry="5.8" fill="#00ffe0"/>
<ellipse cx="605.1" cy="151.5" rx="3.4" ry="4.2" fill="#00b0ff"/>
<ellipse cx="605.1" cy="151.7" rx="2.2" ry="2.8" fill="#005dff"/>
<ellipse cx="605.1" cy="151.8" rx="1.2" ry="1.6" fill="#0000f0"/>
<ellipse cx="629.7" cy="151.3" rx="4.8" ry="5.8" fill="#00ffe0"/>
<ellipse cx="629.7" cy="151.5" rx="3.4" ry="4.2" fill="#00b0ff"/>
<ellipse cx="629.7" cy="151.7" rx="2.2" ry="2.8" fill="#005dff"/>
<ellipse cx="629.7" cy="151.8" rx="1.2" ry="1.6" fill="#0000f0"/>
<ellipse cx="655.9" cy="151.3" rx="4.8" ry="5.8" fill="#00ffe0"/>
<ellipse cx="655.9" cy="151.5" rx="3.4" ry="4.2" fill="#00b0ff"/>
<ellipse cx="655.9" cy="151.7" rx="2.2" ry="2.8" fill="#005dff"/>
<ellipse cx="655.9" cy="151.8" rx="1.2" ry="1.6" fill="#0000f0"/>
<ellipse cx="680.5" cy="151.3" rx="4.8" ry="5.8" fill="#00ffe0"/>
<ellipse cx="680.5" cy="151.5" rx="3.4" ry="4.2" fill="#00b0ff"/>
<ellipse cx="680.5" cy="151.7" rx="2.2" ry="2.8" fill="#005dff"/>
<ellipse cx="680.5" cy="151.8" rx="1.2" ry="1.6" fill="#0000f0"/>
<ellipse cx="706.7" cy="151.3" rx="4.8" ry="5.8" fill="#00ffe0"/>
<ellipse cx="706.7" cy="151.5" rx="3.4" ry="4.2" fill="#00b0ff"/>
<ellipse cx="706.7" cy="151.7" rx="2.2" ry="2.8" fill="#005dff"/>
<ellipse cx="706.7" cy="151.8" rx="1.2" ry="1.6" fill="#0000f0"/>
<ellipse cx="731.3" cy="151.3" rx="4.8" ry="5.8" fill="#00ffe0"/>
<ellipse cx="731.3" cy="151.5" rx="3.4" ry="4.2" fill="#00b0ff"/>
<ellipse cx="731.3" cy="151.7" rx="2.2" ry="2.8" fill="#005dff"/>
<ellipse cx="731.3" cy="151.8" rx="1.2" ry="1.6" fill="#0000f0"/>
<ellipse cx="757.5" cy="151.3" rx="4.8" ry="5.8" fill="#00ffe0"/>
<ellipse cx="757.5" cy="151.5" rx="3.4" ry="4.2" fill="#00b0ff"/>
<ellipse cx="757.5" cy="151.7" rx="2.2" ry="2.8" fill="#005dff"/>
<ellipse cx="757.5" cy="151.8" rx="1.2" ry="1.6" fill="#0000f0"/>
<ellipse cx="782.1" cy="151.3" rx="4.8" ry="5.8" fill="#00ffe0"/>
<ellipse cx="782.1" cy="151.5" rx="3.4" ry="4.2" fill="#00b0ff"/>
<ellipse cx="782.1" cy="151.7" rx="2.2" ry="2.8" fill="#005dff"/>
<ellipse cx="782.1" cy="151.8" rx="1.2" ry="1.6" fill="#0000f0"/>
</g>
<clipPath id="clipC"><path d="M771.2 153.2 L771.7 153.6 L772.2 154.2 L772.7 155 L773.2 156 L773.7 157.3 L774.2 158.7 L774.7 160.4 L775.2 162.3 L775.7 164.4 L776.2 166.9 L776.7 170.1 L777.2 169.4 L777.7 166.7 L778.2 164.4 L778.7 162.5 L779.2 160.7 L779.7 159.2 L780.2 157.9 L780.7 156.8 L781.2 155.9 L781.7 155.1 L782.2 154.6 L782.7 154.3 L783.2 154.2 L783.7 154.3 L784.2 154.6 L784.7 155.1 L785.2 155.8 L785.7 156.8 L786.2 157.9 L786.7 159.2 L787.2 160.7 L787.7 162.4 L788.2 164.4 L788.7 166.6 L789.2 169.4 L789.7 170.2 L790.2 167.2 L790.7 164.8 L791.2 162.8 L791.7 161 L792.2 159.4 L792.7 158 L793.2 156.8 L793.7 155.8 L794.2 155 L794.7 154.4 L795.2 154.1 L795.7 153.9 L796.2 154 L796.7 154.2 L797.2 154.7 L797.7 155.4 L798.2 156.3 L798.7 157.3 L799.2 158.6 L799.7 160.1 L800.2 161.8 L800.7 163.8 L801.2 166 L801.7 168.6 L802.2 171.1 L802.7 167.3 L803.2 164.5 L803.7 162.1 L804.2 160 L804.7 158.1 L805.2 156.5 L805.7 155.1 L806.2 153.9 L806.7 153 L807.2 152.2 L807.7 151.8 L808.2 151.5 L808.7 151.5 L809.2 151.8 L809.7 152.2 L810.2 153 L810.7 153.9 L811.2 155.1 L811.7 156.5 L812.2 158.1 L812.7 160 L813.2 162.1 L813.7 164.5 L814.2 167.3 L814.7 171.1 L815.2 167.5 L815.7 164.1 L816.2 161.2 L816.7 158.7 L817.2 156.5 L817.7 154.5 L818.2 152.8 L818.7 151.4 L819.2 150.2 L819.7 149.3 L820.2 148.7 L820.7 148.4 L821.2 148.3 L821.7 148.5 L822.2 149 L822.7 149.7 L823.2 150.8 L823.7 152.1 L824.2 153.6 L824.7 155.4 L825.2 157.5 L825.7 159.9 L826.2 162.6 L826.7 165.7 L827.2 169.6 L827.7 168.3 L828.2 164.4 L828.7 161.2 L829.2 158.4 L829.7 156 L830.2 153.8 L830.7 151.9 L831.2 150.3 L831.7 149 L832.2 148 L832.7 147.3 L833.2 146.8 L833.7 146.7 L834.2 146.8 L834.7 147.3 L835.2 148 L835.7 149 L836.2 150.4 L836.7 151.9 L837.2 153.8 L837.7 156 L838.2 158.4 L838.7 161.2 L839.2 164.4 L839.7 168.3 L840.2 169.5 L840.7 165.4 L841.2 162.1 L841.7 159.2 L842.2 156.7 L842.7 154.5 L843.2 152.6 L843.7 151 L844.2 149.6 L844.7 148.5 L845.2 147.7 L845.7 147.2 L846.2 147 L846.7 147.1 L847.2 147.4 L847.7 148.1 L848.2 149 L848.7 150.3 L849.2 151.8 L849.7 153.6 L850.2 155.6 L850.7 158 L851.2 160.6 L851.7 163.7 L852.2 167.3 L852.7 170.9 L853.2 166.7 L853.7 163.6 L854.2 160.9 L854.7 158.5 L855.2 156.5 L855.7 154.6 L856.2 153.1 L856.7 151.8 L857.2 150.7 L857.7 149.9 L858.2 149.4 L858.7 149.1 L859.2 149.1 L859.7 149.4 L860.2 149.9 L860.7 150.7 L861.2 151.8 L861.7 153.1 L862.2 154.7 L862.7 156.5 L863.2 158.6 L863.7 161 L864.2 163.7 L864.7 166.8 L865.2 171.1 L865.7 168.2 L866.2 165.3 L866.7 162.8 L867.2 160.7 L867.7 158.8 L868.2 157.1 L868.7 155.7 L869.2 154.5 L869.7 153.5 L870.2 152.8 L870.7 152.3 L871.2 152 L871.7 151.9 L872.2 152.1 L872.7 152.5 L873.2 153.1 L873.7 154 L874.2 155.1 L874.7 156.4 L875.2 158 L875.7 159.8 L876.2 161.8 L876.7 164.1 L877.2 166.7 L877.7 170 L878.2 169.5 L878.7 167 L879.2 164.9 L879.7 163.1 L880.2 161.5 L880.7 160.1 L881.2 158.9 L881.7 157.9 L882.2 157 L882.7 156.4 L883.2 155.9 L883.7 155.6 L884.2 155.5 L884.7 155.6 L885.2 155.9 L885.7 156.4 L886.2 157 L886.7 157.9 L887.2 158.9 L887.7 160.2 L888.2 161.6 L888.7 163.2 L889.2 165 L889.7 167.1 L890.2 169.6 L890.7 170.2 L891.2 167.3 L891.7 165 L892.2 163 L892.7 161.2 L893.2 159.7 L893.7 158.3 L894.2 157.2 L894.7 156.2 L895.2 155.5 L895.7 154.9 L896.2 154.6 L896.7 154.4 L897.2 154.5 L897.7 154.7 L898.2 155.2 L898.7 155.8 L899.2 156.7 L899.7 157.8 L900.2 159 L900.7 160.5 L901.2 162.1 L901.7 164 L902.2 166.2 L902.7 168.7 L903.2 171 L903.7 167.1 L904.2 164.3 L904.7 161.8 L905.2 159.6 L905.7 157.7 L906.2 156.1 L906.7 154.6 L907.2 153.4 L907.7 152.5 L908.2 151.7 L908.7 151.3 L909.2 151 L909.7 151 L910.2 151.3 L910.7 151.8 L911.2 152.5 L911.7 153.5 L912.2 154.7 L912.7 156.1 L913.2 157.8 L913.7 159.7 L914.2 161.9 L914.7 164.4 L915.2 167.3 L915.7 171.2 L916.2 167.5 L916.7 164.2 L917.2 161.4 L917.7 159 L918.2 156.8 L918.7 154.9 L919.2 153.3 L919.7 151.9 L920.2 150.8 L920.7 149.9 L921.2 149.3 L921.7 149 L922.2 148.9 L922.7 149.1 L923.2 149.6 L923.7 150.3 L924.2 151.3 L924.7 152.6 L925.2 154.1 L925.7 155.9 L926.2 158 L926.7 160.3 L927.2 162.9 L927.7 166 L928.2 169.8 L928.7 168.2 L929.2 164.3 L929.7 161.1 L930.2 158.3 L930.7 155.8 L931.2 153.7 L931.7 151.8 L932.2 150.2 L932.7 148.9 L933.2 147.9 L933.7 147.2 L934.2 146.7 L934.7 146.6 L935.2 146.8 L935.7 147.2 L936.2 147.9 L936.7 149 L937.2 150.3 L937.7 151.9 L938.2 153.8 L938.7 156 L939.2 158.4 L939.7 161.3 L940.2 164.5 L940.7 168.4 L941.2 169.3 L941.7 165.2 L942.2 161.8 L942.7 159 L943.2 156.4 L943.7 154.2 L944.2 152.2 L944.7 150.6 L945.1 149.2 L945.6 148.1 L946.1 147.3 L946.6 146.8 L947.1 146.6 L947.6 146.7 L948.1 147.1 L948.6 147.7 L949.1 148.7 L949.6 149.9 L950.1 151.5 L950.6 153.3 L951.1 155.4 L951.6 157.8 L952.1 160.5 L952.6 163.6 L953.1 167.3 L953.6 170.9 L954.1 166.9 L954.6 163.9 L955.1 161.3 L955.6 159 L956.1 157 L956.6 155.3 L957.1 153.8 L957.6 152.5 L958.1 151.5 L958.6 150.8 L959.1 150.3 L959.6 150 L960.1 150 L960.6 150.3 L961.1 150.8 L961.6 151.6 L962.1 152.6 L962.6 153.9 L963.1 155.4 L963.6 157.2 L964.1 159.2 L964.6 161.4 L965.1 164 L965.6 167.1 L966.1 171.2 L966.6 168.1 L967.1 165.3 L967.6 162.9 L968.1 160.8 L968.6 159 L969.1 157.3 L969.6 155.9 L970.1 154.7 L970.6 153.8 L971.1 153 L971.6 152.5 L972.1 152.3 L972.6 152.2 L973.1 152.4 L973.6 152.8 L974.1 153.4 L974.6 154.3 L975.1 155.4 L975.6 156.7 L976.1 158.2 L976.6 160 L977.1 162 L977.6 164.2 L978.1 166.9 L978.6 170.2 L979.1 169.3 L979.6 166.6 L980.1 164.4 L980.6 162.5 L981.1 160.8 L981.6 159.3 L982.1 158 L982.6 156.9 L983.1 156 L983.6 155.3 L984.1 154.8 L984.6 154.5 L985.1 154.4 L985.6 154.5 L986.1 154.8 L986.6 155.3 L987.1 156.1 L987.6 157 L988.1 158.1 L988.6 159.4 L989.1 160.9 L989.6 162.6 L990.1 164.6 L990.6 166.8 L991.1 169.5 L991.6 170.2 L992.1 167.5 L992.6 165.4 L993.1 163.5 L993.6 161.9 L994.1 160.4 L994.6 159.2 L995.1 158.1 L995.6 157.2 L996.1 156.5 L996.6 156 L997.1 155.6 L997.6 155.5 L998.1 155.6 L998.6 155.8 L999.1 156.2 L999.6 156.9 L1000.1 157.7 L1000.6 158.7 L1001.1 159.9 L1001.6 161.2 L1002.1 162.8 L1002.6 164.6 L1003.1 166.6 L1003.6 169 L1004.1 171 L1004.6 167.6 L1005.1 165.1 L1005.6 162.9 L1006.1 161 L1006.6 159.3 L1007.1 157.8 L1007.6 156.5 L1008.1 155.4 L1008.6 154.6 L1009.1 154 L1009.6 153.5 L1010.1 153.3 L1010.6 153.3 L1011.1 153.6 L1011.6 154 L1012.1 154.7 L1012.6 155.5 L1013.1 156.6 L1013.6 157.9 L1014.1 159.4 L1014.6 161.1 L1015.1 163.1 L1015.6 165.3 L1016.1 167.9 L1016.6 171.4 L1017.1 167.7 L1017.6 164.5 L1018.1 161.9 L1018.6 159.5 L1019.1 157.5 L1019.6 155.7 L1020.1 154.1 L1020.6 152.8 L1021.1 151.7 L1021.6 150.9 L1022.1 150.4 L1022.6 150.1 L1023.1 150 L1023.6 150.2 L1024.1 150.7 L1024.6 151.4 L1025.1 152.3 L1025.6 153.6 L1026.1 155 L1026.6 156.7 L1027.1 158.7 L1027.6 160.9 L1028.1 163.4 L1028.6 166.3 L1029.1 170 L1029.6 168.2 L1030.1 164.6 L1030.6 161.6 L1031.1 158.9 L1031.6 156.6 L1032.1 154.5 L1032.6 152.7 L1033.1 151.2 L1033.6 150 L1034.1 149 L1034.6 148.3 L1035.1 147.9 L1035.6 147.8 L1036.1 148 L1036.6 148.4 L1037.1 149.1 L1037.6 150.1 L1038.1 151.4 L1038.6 152.9 L1039.1 154.7 L1039.6 156.8 L1040.1 159.1 L1040.6 161.8 L1041.1 164.9 L1041.6 168.7 L1042.1 169.3 L1042.6 165.4 L1043.1 162.3 L1043.6 159.5 L1044.1 157.1 L1044.6 155 L1045.1 153.1 L1045.6 151.6 L1046.1 150.3 L1046.6 149.2 L1047.1 148.5 L1047.6 148 L1048.1 147.8 L1048.6 147.9 L1049.1 148.3 L1049.6 148.9 L1050.1 149.8 L1050.6 151 L1051.1 152.5 L1051.6 154.2 L1052.1 156.2 L1052.6 158.5 L1053.1 161.1 L1053.6 164.1 L1054.1 167.6 L1054.6 170.8 L1055.1 167 L1055.6 164.2 L1056.1 161.7 L1056.6 159.6 L1057.1 157.7 L1057.6 156 L1058.1 154.6 L1058.6 153.4 L1059.1 152.4 L1059.6 151.7 L1060.1 151.3 L1060.6 151 L1061.1 151 L1061.6 151.3 L1062.1 151.8 L1062.6 152.5 L1063.1 153.5 L1063.6 154.7 L1064.1 156.2 L1064.6 157.9 L1065.1 159.8 L1065.6 162 L1066.1 164.5 L1066.6 167.4 L1067.1 171.4 L1067.6 168.1 L1068.1 165.3 L1068.6 162.9 L1069.1 160.8 L1069.6 158.9 L1070.1 157.3 L1070.6 155.9 L1071.1 154.7 L1071.6 153.8 L1072.1 153 L1072.6 152.5 L1073.1 152.3 L1073.6 152.2 L1074.1 152.4 L1074.6 152.8 L1075.1 153.5 L1075.6 154.3 L1076.1 155.4 L1076.6 156.7 L1077.1 158.3 L1077.6 160 L1078.1 162 L1078.6 164.3 L1079.1 166.9 L1079.6 170.2 L1080.1 168.9 L1080.6 165.9 L1081.1 163.4 L1081.6 161.3 L1082.1 159.4 L1082.6 157.7 L1083.1 156.2 L1083.6 155 L1084.1 154 L1084.6 153.2 L1085.1 152.6 L1085.6 152.3 L1086.1 152.2 L1086.6 152.3 L1087.1 152.7 L1087.6 153.3 L1088.1 154.1 L1088.6 155.1 L1089.1 156.4 L1089.6 157.9 L1090.1 159.6 L1090.6 161.5 L1091.1 163.7 L1091.6 166.2 L1092.1 169.3 L1092.6 169.7 L1093.1 166.3 L1093.6 163.6 L1094.1 161.2 L1094.6 159.1 L1095.1 157.3 L1095.6 155.7 L1096.1 154.3 L1096.6 153.2 L1097.1 152.3 L1097.6 151.7 L1098.1 151.3 L1098.6 151.1 L1099.1 151.2 L1099.6 151.5 L1100.1 152.1 L1100.6 152.9 L1101.1 153.9 L1101.6 155.2 L1102.1 156.7 L1102.6 158.4 L1103.1 160.4 L1103.6 162.6 L1104.1 165.2 L1104.6 168.3 L1105.1 170.6 L1105.6 166.5 L1106.1 163.4 L1106.6 160.7 L1107.1 158.3 L1107.6 156.2 L1108.1 154.4 L1108.6 152.8 L1109.1 151.5 L1109.6 150.5 L1110.1 149.7 L1110.6 149.2 L1111.1 148.9 L1111.6 148.9 L1112.1 149.2 L1112.6 149.8 L1113.1 150.6 L1113.6 151.7 L1114.1 153 L1114.6 154.6 L1115.1 156.5 L1115.6 158.6 L1116.1 161 L1116.6 163.7 L1117.1 167 L1117.6 171.4 L1118.1 167.6 L1118.6 164.5 L1118.6 234 L771.2 234Z"/></clipPath>
<g clip-path="url(#clipC)">
<rect x="771.2" y="130" width="347.4" height="104" fill="#32de1c"/>
<rect x="816" y="160" width="48" height="80" fill="#48e012"/>
<ellipse cx="840" cy="176" rx="17.5" ry="25" fill="#9ee206"/>
<ellipse cx="840" cy="170" rx="10.5" ry="13" fill="#cce400"/>
<rect x="916.5" y="160" width="48" height="80" fill="#48e012"/>
<ellipse cx="940.5" cy="176" rx="17.5" ry="25" fill="#9ee206"/>
<ellipse cx="940.5" cy="170" rx="10.5" ry="13" fill="#cce400"/>
<rect x="1017" y="160" width="48" height="80" fill="#48e012"/>
<ellipse cx="1041" cy="176" rx="17.5" ry="25" fill="#9ee206"/>
<ellipse cx="1041" cy="170" rx="10.5" ry="13" fill="#cce400"/>
<rect x="764.3" y="151" width="12.6" height="14.6" fill="#60e400"/>
<rect x="764.3" y="151" width="12.6" height="13" fill="#a8ec00"/>
<rect x="764.3" y="151" width="12.6" height="10.6" fill="#e0ec00"/>
<rect x="764.3" y="151" width="12.6" height="8.7" fill="#f8b800"/>
<rect x="764.3" y="151" width="12.6" height="6.7" fill="#ff6800"/>
<rect x="764.3" y="151" width="12.6" height="4.5" fill="#ee0a00"/>
<rect x="776.9" y="152.2" width="12.6" height="13" fill="#60e400"/>
<rect x="776.9" y="152.2" width="12.6" height="11.4" fill="#a8ec00"/>
<rect x="776.9" y="152.2" width="12.6" height="9.1" fill="#e0ec00"/>
<rect x="776.9" y="152.2" width="12.6" height="7.3" fill="#f8b800"/>
<rect x="776.9" y="152.2" width="12.6" height="5.5" fill="#ff6800"/>
<rect x="776.9" y="152.2" width="12.6" height="3.4" fill="#ee0a00"/>
<rect x="789.5" y="151.9" width="12.6" height="13.4" fill="#60e400"/>
<rect x="789.5" y="151.9" width="12.6" height="11.8" fill="#a8ec00"/>
<rect x="789.5" y="151.9" width="12.6" height="9.5" fill="#e0ec00"/>
<rect x="789.5" y="151.9" width="12.6" height="7.7" fill="#f8b800"/>
<rect x="789.5" y="151.9" width="12.6" height="5.8" fill="#ff6800"/>
<rect x="789.5" y="151.9" width="12.6" height="3.7" fill="#ee0a00"/>
<rect x="802.1" y="149.5" width="12.6" height="16.7" fill="#60e400"/>
<rect x="802.1" y="149.5" width="12.6" height="15.2" fill="#a8ec00"/>
<rect x="802.1" y="149.5" width="12.6" height="12.7" fill="#e0ec00"/>
<rect x="802.1" y="149.5" width="12.6" height="10.6" fill="#f8b800"/>
<rect x="802.1" y="149.5" width="12.6" height="8.4" fill="#ff6800"/>
<rect x="802.1" y="149.5" width="12.6" height="6.1" fill="#ee0a00"/>
<rect x="814.8" y="146.3" width="12.6" height="21.8" fill="#60e400"/>
<rect x="814.8" y="146.3" width="12.6" height="20.4" fill="#a8ec00"/>
<rect x="814.8" y="146.3" width="12.6" height="17.7" fill="#e0ec00"/>
<rect x="814.8" y="146.3" width="12.6" height="15.4" fill="#f8b800"/>
<rect x="814.8" y="146.3" width="12.6" height="12.6" fill="#ff6800"/>
<rect x="814.8" y="146.3" width="12.6" height="10.2" fill="#ee0a00"/>
<rect x="827.4" y="144.7" width="12.6" height="24.7" fill="#60e400"/>
<rect x="827.4" y="144.7" width="12.6" height="23.4" fill="#a8ec00"/>
<rect x="827.4" y="144.7" width="12.6" height="20.6" fill="#e0ec00"/>
<rect x="827.4" y="144.7" width="12.6" height="18.1" fill="#f8b800"/>
<rect x="827.4" y="144.7" width="12.6" height="15" fill="#ff6800"/>
<rect x="827.4" y="144.7" width="12.6" height="12.5" fill="#ee0a00"/>
<rect x="840" y="145" width="12.6" height="24.1" fill="#60e400"/>
<rect x="840" y="145" width="12.6" height="22.8" fill="#a8ec00"/>
<rect x="840" y="145" width="12.6" height="20.1" fill="#e0ec00"/>
<rect x="840" y="145" width="12.6" height="17.6" fill="#f8b800"/>
<rect x="840" y="145" width="12.6" height="14.6" fill="#ff6800"/>
<rect x="840" y="145" width="12.6" height="12.1" fill="#ee0a00"/>
<rect x="852.6" y="147.1" width="12.6" height="20.5" fill="#60e400"/>
<rect x="852.6" y="147.1" width="12.6" height="19" fill="#a8ec00"/>
<rect x="852.6" y="147.1" width="12.6" height="16.4" fill="#e0ec00"/>
<rect x="852.6" y="147.1" width="12.6" height="14.1" fill="#f8b800"/>
<rect x="852.6" y="147.1" width="12.6" height="11.5" fill="#ff6800"/>
<rect x="852.6" y="147.1" width="12.6" height="9.1" fill="#ee0a00"/>
<rect x="865.2" y="149.9" width="12.6" height="16.1" fill="#60e400"/>
<rect x="865.2" y="149.9" width="12.6" height="14.6" fill="#a8ec00"/>
<rect x="865.2" y="149.9" width="12.6" height="12.1" fill="#e0ec00"/>
<rect x="865.2" y="149.9" width="12.6" height="10.1" fill="#f8b800"/>
<rect x="865.2" y="149.9" width="12.6" height="7.9" fill="#ff6800"/>
<rect x="865.2" y="149.9" width="12.6" height="5.7" fill="#ee0a00"/>
<rect x="877.9" y="153.5" width="12.6" height="11.4" fill="#60e400"/>
<rect x="877.9" y="153.5" width="12.6" height="9.8" fill="#a8ec00"/>
<rect x="877.9" y="153.5" width="12.6" height="7.6" fill="#e0ec00"/>
<rect x="877.9" y="153.5" width="12.6" height="6" fill="#f8b800"/>
<rect x="877.9" y="153.5" width="12.6" height="4.3" fill="#ff6800"/>
<rect x="877.9" y="153.5" width="12.6" height="2.4" fill="#ee0a00"/>
<rect x="890.5" y="152.4" width="12.6" height="12.7" fill="#60e400"/>
<rect x="890.5" y="152.4" width="12.6" height="11.1" fill="#a8ec00"/>
<rect x="890.5" y="152.4" width="12.6" height="8.9" fill="#e0ec00"/>
<rect x="890.5" y="152.4" width="12.6" height="7.1" fill="#f8b800"/>
<rect x="890.5" y="152.4" width="12.6" height="5.3" fill="#ff6800"/>
<rect x="890.5" y="152.4" width="12.6" height="3.3" fill="#ee0a00"/>
<rect x="903.1" y="149" width="12.6" height="17.5" fill="#60e400"/>
<rect x="903.1" y="149" width="12.6" height="15.9" fill="#a8ec00"/>
<rect x="903.1" y="149" width="12.6" height="13.4" fill="#e0ec00"/>
<rect x="903.1" y="149" width="12.6" height="11.3" fill="#f8b800"/>
<rect x="903.1" y="149" width="12.6" height="9" fill="#ff6800"/>
<rect x="903.1" y="149" width="12.6" height="6.7" fill="#ee0a00"/>
<rect x="915.7" y="146.9" width="12.6" height="20.8" fill="#60e400"/>
<rect x="915.7" y="146.9" width="12.6" height="19.4" fill="#a8ec00"/>
<rect x="915.7" y="146.9" width="12.6" height="16.7" fill="#e0ec00"/>
<rect x="915.7" y="146.9" width="12.6" height="14.4" fill="#f8b800"/>
<rect x="915.7" y="146.9" width="12.6" height="11.8" fill="#ff6800"/>
<rect x="915.7" y="146.9" width="12.6" height="9.3" fill="#ee0a00"/>
<rect x="928.3" y="144.6" width="12.6" height="24.9" fill="#60e400"/>
<rect x="928.3" y="144.6" width="12.6" height="23.6" fill="#a8ec00"/>
<rect x="928.3" y="144.6" width="12.6" height="20.8" fill="#e0ec00"/>
<rect x="928.3" y="144.6" width="12.6" height="18.3" fill="#f8b800"/>
<rect x="928.3" y="144.6" width="12.6" height="15.2" fill="#ff6800"/>
<rect x="928.3" y="144.6" width="12.6" height="12.7" fill="#ee0a00"/>
<rect x="941" y="144.6" width="12.6" height="24.9" fill="#60e400"/>
<rect x="941" y="144.6" width="12.6" height="23.6" fill="#a8ec00"/>
<rect x="941" y="144.6" width="12.6" height="20.8" fill="#e0ec00"/>
<rect x="941" y="144.6" width="12.6" height="18.3" fill="#f8b800"/>
<rect x="941" y="144.6" width="12.6" height="15.2" fill="#ff6800"/>
<rect x="941" y="144.6" width="12.6" height="12.7" fill="#ee0a00"/>
<rect x="953.6" y="148" width="12.6" height="19" fill="#60e400"/>
<rect x="953.6" y="148" width="12.6" height="17.5" fill="#a8ec00"/>
<rect x="953.6" y="148" width="12.6" height="14.9" fill="#e0ec00"/>
<rect x="953.6" y="148" width="12.6" height="12.7" fill="#f8b800"/>
<rect x="953.6" y="148" width="12.6" height="10.3" fill="#ff6800"/>
<rect x="953.6" y="148" width="12.6" height="7.9" fill="#ee0a00"/>
<rect x="966.2" y="150.2" width="12.6" height="15.7" fill="#60e400"/>
<rect x="966.2" y="150.2" width="12.6" height="14.1" fill="#a8ec00"/>
<rect x="966.2" y="150.2" width="12.6" height="11.7" fill="#e0ec00"/>
<rect x="966.2" y="150.2" width="12.6" height="9.7" fill="#f8b800"/>
<rect x="966.2" y="150.2" width="12.6" height="7.6" fill="#ff6800"/>
<rect x="966.2" y="150.2" width="12.6" height="5.4" fill="#ee0a00"/>
<rect x="978.8" y="152.4" width="12.6" height="12.7" fill="#60e400"/>
<rect x="978.8" y="152.4" width="12.6" height="11.1" fill="#a8ec00"/>
<rect x="978.8" y="152.4" width="12.6" height="8.9" fill="#e0ec00"/>
<rect x="978.8" y="152.4" width="12.6" height="7.1" fill="#f8b800"/>
<rect x="978.8" y="152.4" width="12.6" height="5.3" fill="#ff6800"/>
<rect x="978.8" y="152.4" width="12.6" height="3.3" fill="#ee0a00"/>
<rect x="991.4" y="153.5" width="12.6" height="11.4" fill="#60e400"/>
<rect x="991.4" y="153.5" width="12.6" height="9.8" fill="#a8ec00"/>
<rect x="991.4" y="153.5" width="12.6" height="7.6" fill="#e0ec00"/>
<rect x="991.4" y="153.5" width="12.6" height="6" fill="#f8b800"/>
<rect x="991.4" y="153.5" width="12.6" height="4.3" fill="#ff6800"/>
<rect x="991.4" y="153.5" width="12.6" height="2.4" fill="#ee0a00"/>
<rect x="1004.1" y="151.3" width="12.6" height="14.2" fill="#60e400"/>
<rect x="1004.1" y="151.3" width="12.6" height="12.6" fill="#a8ec00"/>
<rect x="1004.1" y="151.3" width="12.6" height="10.2" fill="#e0ec00"/>
<rect x="1004.1" y="151.3" width="12.6" height="8.4" fill="#f8b800"/>
<rect x="1004.1" y="151.3" width="12.6" height="6.4" fill="#ff6800"/>
<rect x="1004.1" y="151.3" width="12.6" height="4.3" fill="#ee0a00"/>
<rect x="1016.7" y="148" width="12.6" height="19" fill="#60e400"/>
<rect x="1016.7" y="148" width="12.6" height="17.5" fill="#a8ec00"/>
<rect x="1016.7" y="148" width="12.6" height="14.9" fill="#e0ec00"/>
<rect x="1016.7" y="148" width="12.6" height="12.7" fill="#f8b800"/>
<rect x="1016.7" y="148" width="12.6" height="10.3" fill="#ff6800"/>
<rect x="1016.7" y="148" width="12.6" height="7.9" fill="#ee0a00"/>
<rect x="1029.3" y="145.8" width="12.6" height="22.7" fill="#60e400"/>
<rect x="1029.3" y="145.8" width="12.6" height="21.3" fill="#a8ec00"/>
<rect x="1029.3" y="145.8" width="12.6" height="18.6" fill="#e0ec00"/>
<rect x="1029.3" y="145.8" width="12.6" height="16.2" fill="#f8b800"/>
<rect x="1029.3" y="145.8" width="12.6" height="13.3" fill="#ff6800"/>
<rect x="1029.3" y="145.8" width="12.6" height="10.9" fill="#ee0a00"/>
<rect x="1041.9" y="145.8" width="12.6" height="22.7" fill="#60e400"/>
<rect x="1041.9" y="145.8" width="12.6" height="21.3" fill="#a8ec00"/>
<rect x="1041.9" y="145.8" width="12.6" height="18.6" fill="#e0ec00"/>
<rect x="1041.9" y="145.8" width="12.6" height="16.2" fill="#f8b800"/>
<rect x="1041.9" y="145.8" width="12.6" height="13.3" fill="#ff6800"/>
<rect x="1041.9" y="145.8" width="12.6" height="10.9" fill="#ee0a00"/>
<rect x="1054.5" y="149" width="12.6" height="17.5" fill="#60e400"/>
<rect x="1054.5" y="149" width="12.6" height="15.9" fill="#a8ec00"/>
<rect x="1054.5" y="149" width="12.6" height="13.4" fill="#e0ec00"/>
<rect x="1054.5" y="149" width="12.6" height="11.3" fill="#f8b800"/>
<rect x="1054.5" y="149" width="12.6" height="9" fill="#ff6800"/>
<rect x="1054.5" y="149" width="12.6" height="6.7" fill="#ee0a00"/>
<rect x="1067.2" y="150.2" width="12.6" height="15.7" fill="#60e400"/>
<rect x="1067.2" y="150.2" width="12.6" height="14.1" fill="#a8ec00"/>
<rect x="1067.2" y="150.2" width="12.6" height="11.7" fill="#e0ec00"/>
<rect x="1067.2" y="150.2" width="12.6" height="9.7" fill="#f8b800"/>
<rect x="1067.2" y="150.2" width="12.6" height="7.6" fill="#ff6800"/>
<rect x="1067.2" y="150.2" width="12.6" height="5.4" fill="#ee0a00"/>
<rect x="1079.8" y="150.2" width="12.6" height="15.7" fill="#60e400"/>
<rect x="1079.8" y="150.2" width="12.6" height="14.1" fill="#a8ec00"/>
<rect x="1079.8" y="150.2" width="12.6" height="11.7" fill="#e0ec00"/>
<rect x="1079.8" y="150.2" width="12.6" height="9.7" fill="#f8b800"/>
<rect x="1079.8" y="150.2" width="12.6" height="7.6" fill="#ff6800"/>
<rect x="1079.8" y="150.2" width="12.6" height="5.4" fill="#ee0a00"/>
<rect x="1092.4" y="149.1" width="12.6" height="17.3" fill="#60e400"/>
<rect x="1092.4" y="149.1" width="12.6" height="15.8" fill="#a8ec00"/>
<rect x="1092.4" y="149.1" width="12.6" height="13.3" fill="#e0ec00"/>
<rect x="1092.4" y="149.1" width="12.6" height="11.2" fill="#f8b800"/>
<rect x="1092.4" y="149.1" width="12.6" height="8.9" fill="#ff6800"/>
<rect x="1092.4" y="149.1" width="12.6" height="6.6" fill="#ee0a00"/>
<rect x="1105" y="146.9" width="12.6" height="20.8" fill="#60e400"/>
<rect x="1105" y="146.9" width="12.6" height="19.4" fill="#a8ec00"/>
<rect x="1105" y="146.9" width="12.6" height="16.7" fill="#e0ec00"/>
<rect x="1105" y="146.9" width="12.6" height="14.4" fill="#f8b800"/>
<rect x="1105" y="146.9" width="12.6" height="11.8" fill="#ff6800"/>
<rect x="1105" y="146.9" width="12.6" height="9.3" fill="#ee0a00"/>
<rect x="1117.6" y="148" width="12.6" height="19" fill="#60e400"/>
<rect x="1117.6" y="148" width="12.6" height="17.5" fill="#a8ec00"/>
<rect x="1117.6" y="148" width="12.6" height="14.9" fill="#e0ec00"/>
<rect x="1117.6" y="148" width="12.6" height="12.7" fill="#f8b800"/>
<rect x="1117.6" y="148" width="12.6" height="10.3" fill="#ff6800"/>
<rect x="1117.6" y="148" width="12.6" height="7.9" fill="#ee0a00"/>
<ellipse cx="776.9" cy="169.6" rx="4" ry="3" fill="#10b0f0"/>
<ellipse cx="776.9" cy="170.3" rx="2.6" ry="1.9" fill="#0040f0"/>
<ellipse cx="789.5" cy="169.6" rx="4" ry="3" fill="#10b0f0"/>
<ellipse cx="789.5" cy="170.3" rx="2.6" ry="1.9" fill="#0040f0"/>
<ellipse cx="802.1" cy="169.6" rx="4" ry="3" fill="#10b0f0"/>
<ellipse cx="802.1" cy="170.3" rx="2.6" ry="1.9" fill="#0040f0"/>
<ellipse cx="814.8" cy="170" rx="4" ry="2.8" fill="#20e0b0"/>
<ellipse cx="852.6" cy="170" rx="4" ry="2.8" fill="#20e0b0"/>
<ellipse cx="865.2" cy="169.6" rx="4" ry="3" fill="#10b0f0"/>
<ellipse cx="865.2" cy="170.3" rx="2.6" ry="1.9" fill="#0040f0"/>
<ellipse cx="877.9" cy="169.6" rx="4" ry="3" fill="#10b0f0"/>
<ellipse cx="877.9" cy="170.3" rx="2.6" ry="1.9" fill="#0040f0"/>
<ellipse cx="890.5" cy="169.6" rx="4" ry="3" fill="#10b0f0"/>
<ellipse cx="890.5" cy="170.3" rx="2.6" ry="1.9" fill="#0040f0"/>
<ellipse cx="903.1" cy="169.6" rx="4" ry="3" fill="#10b0f0"/>
<ellipse cx="903.1" cy="170.3" rx="2.6" ry="1.9" fill="#0040f0"/>
<ellipse cx="915.7" cy="170" rx="4" ry="2.8" fill="#20e0b0"/>
<ellipse cx="953.6" cy="170" rx="4" ry="2.8" fill="#20e0b0"/>
<ellipse cx="966.2" cy="169.6" rx="4" ry="3" fill="#10b0f0"/>
<ellipse cx="966.2" cy="170.3" rx="2.6" ry="1.9" fill="#0040f0"/>
<ellipse cx="978.8" cy="169.6" rx="4" ry="3" fill="#10b0f0"/>
<ellipse cx="978.8" cy="170.3" rx="2.6" ry="1.9" fill="#0040f0"/>
<ellipse cx="991.4" cy="169.6" rx="4" ry="3" fill="#10b0f0"/>
<ellipse cx="991.4" cy="170.3" rx="2.6" ry="1.9" fill="#0040f0"/>
<ellipse cx="1004" cy="169.6" rx="4" ry="3" fill="#10b0f0"/>
<ellipse cx="1004" cy="170.3" rx="2.6" ry="1.9" fill="#0040f0"/>
<ellipse cx="1016.7" cy="169.6" rx="4" ry="3" fill="#10b0f0"/>
<ellipse cx="1016.7" cy="170.3" rx="2.6" ry="1.9" fill="#0040f0"/>
<ellipse cx="1029.3" cy="170" rx="4" ry="2.8" fill="#20e0b0"/>
<ellipse cx="1054.5" cy="170" rx="4" ry="2.8" fill="#20e0b0"/>
<ellipse cx="1067.2" cy="169.6" rx="4" ry="3" fill="#10b0f0"/>
<ellipse cx="1067.2" cy="170.3" rx="2.6" ry="1.9" fill="#0040f0"/>
<ellipse cx="1079.8" cy="169.6" rx="4" ry="3" fill="#10b0f0"/>
<ellipse cx="1079.8" cy="170.3" rx="2.6" ry="1.9" fill="#0040f0"/>
<ellipse cx="1092.4" cy="169.6" rx="4" ry="3" fill="#10b0f0"/>
<ellipse cx="1092.4" cy="170.3" rx="2.6" ry="1.9" fill="#0040f0"/>
<ellipse cx="1105" cy="170" rx="4" ry="2.8" fill="#20e0b0"/>
<ellipse cx="1117.6" cy="170" rx="4" ry="2.8" fill="#20e0b0"/>
</g>
<path d="M771.2 177.7 L773.2 178.1 L775.2 178.5 L777.2 178.8 L779.2 179.1 L781.2 179.4 L783.2 179.6 L785.2 179.8 L787.2 179.9 L789.2 179.9 L791.2 179.9 L793.2 179.8 L795.2 179.7 L797.2 179.5 L799.2 179.3 L801.1 179 L803.1 178.7 L805.1 178.4 L807.1 178 L809.1 177.6 L811.1 177.1 L813.1 176.7 L815.1 176.2 L817.1 175.8 L819.1 175.4 L821.1 174.9 L823.1 174.5 L825.1 174.2 L827.1 173.8 L829.1 173.5 L831.1 173.2 L833.1 173 L835.1 172.9 L837.1 172.8 L839.1 172.7 L841.1 172.7 L843.1 172.8 L845.1 172.9 L847.1 173 L849.1 173.3 L851.1 173.5 L853.1 173.8 L855.1 174.2 L857.1 174.6 L859 175 L861 175.4 L863 175.8 L865 176.3 L867 176.7 L869 177.2 L871 177.6 L873 178 L875 178.4 L877 178.7 L879 179 L881 179.3 L883 179.5 L885 179.7 L887 179.8 L889 179.9 L891 179.9 L893 179.8 L895 179.7 L897 179.6 L899 179.4 L901 179.1 L903 178.8 L905 178.5 L907 178.1 L909 177.7 L911 177.3 L913 176.8 L915 176.4 L916.9 175.9 L918.9 175.5 L920.9 175.1 L922.9 174.7 L924.9 174.3 L926.9 173.9 L928.9 173.6 L930.9 173.3 L932.9 173.1 L934.9 172.9 L936.9 172.8 L938.9 172.7 L940.9 172.7 L942.9 172.7 L944.9 172.8 L946.9 173 L948.9 173.2 L950.9 173.4 L952.9 173.7 L954.9 174.1 L956.9 174.4 L958.9 174.8 L960.9 175.2 L962.9 175.7 L964.9 176.1 L966.9 176.6 L968.9 177 L970.9 177.5 L972.9 177.9 L974.8 178.3 L976.8 178.6 L978.8 178.9 L980.8 179.2 L982.8 179.5 L984.8 179.7 L986.8 179.8 L988.8 179.9 L990.8 179.9 L992.8 179.9 L994.8 179.8 L996.8 179.6 L998.8 179.5 L1000.8 179.2 L1002.8 178.9 L1004.8 178.6 L1006.8 178.2 L1008.8 177.8 L1010.8 177.4 L1012.8 177 L1014.8 176.5 L1016.8 176.1 L1018.8 175.7 L1020.8 175.2 L1022.8 174.8 L1024.8 174.4 L1026.8 174 L1028.8 173.7 L1030.8 173.4 L1032.7 173.2 L1034.7 173 L1036.7 172.8 L1038.7 172.7 L1040.7 172.7 L1042.7 172.7 L1044.7 172.8 L1046.7 172.9 L1048.7 173.1 L1050.7 173.3 L1052.7 173.6 L1054.7 173.9 L1056.7 174.3 L1058.7 174.7 L1060.7 175.1 L1062.7 175.5 L1064.7 176 L1066.7 176.4 L1068.7 176.9 L1070.7 177.3 L1072.7 177.7 L1074.7 178.1 L1076.7 178.5 L1078.7 178.8 L1080.7 179.1 L1082.7 179.4 L1084.7 179.6 L1086.7 179.8 L1088.7 179.9 L1090.6 179.9 L1092.6 179.9 L1094.6 179.8 L1096.6 179.7 L1098.6 179.5 L1100.6 179.3 L1102.6 179 L1104.6 178.7 L1106.6 178.4 L1108.6 178 L1110.6 177.6 L1112.6 177.1 L1114.6 176.7 L1116.6 176.2 L1118.6 175.8" fill="none" stroke="#1a1a1a" stroke-width="1.6" stroke-dasharray="4.5 3"/>
<defs><linearGradient id="gA" x1="0" y1="0" x2="0" y2="1"><stop offset="0" stop-color="#9e0000"/><stop offset="0.12" stop-color="#b00000"/><stop offset="0.3" stop-color="#dc0000"/><stop offset="0.45" stop-color="#f00000"/><stop offset="1" stop-color="#f40000"/></linearGradient><pattern id="meshA" x="172" y="0" width="5.8" height="5.3" patternUnits="userSpaceOnUse"><path d="M0 0H5.8M0 0V5.3" stroke="#900000" stroke-width="0.9" fill="none" opacity="0.55"/></pattern></defs>
<path d="M172 32.7 L176.2 31.9 L180.4 31.2 L184.6 30.6 L188.8 29.9 L193 29.3 L197.2 28.8 L201.3 28.3 L205.5 27.8 L209.7 27.3 L213.9 26.9 L218.1 26.6 L222.3 26.2 L226.5 25.9 L230.7 25.7 L234.9 25.5 L239.1 25.3 L243.3 25.2 L247.5 25.1 L251.7 25 L255.8 25 L260 25 L264.2 25.1 L268.4 25.2 L272.6 25.3 L276.8 25.5 L281 25.7 L285.2 25.9 L289.4 26.2 L293.6 26.6 L297.8 26.9 L302 27.3 L306.2 27.8 L310.4 28.3 L314.5 28.8 L318.7 29.3 L322.9 29.9 L327.1 30.6 L331.3 31.3 L335.5 32 L339.7 32.7 L339.7 121.9 L172 121.9Z" fill="url(#gA)"/>
<path d="M172 32.7 L176.2 31.9 L180.4 31.2 L184.6 30.6 L188.8 29.9 L193 29.3 L197.2 28.8 L201.3 28.3 L205.5 27.8 L209.7 27.3 L213.9 26.9 L218.1 26.6 L222.3 26.2 L226.5 25.9 L230.7 25.7 L234.9 25.5 L239.1 25.3 L243.3 25.2 L247.5 25.1 L251.7 25 L255.8 25 L260 25 L264.2 25.1 L268.4 25.2 L272.6 25.3 L276.8 25.5 L281 25.7 L285.2 25.9 L289.4 26.2 L293.6 26.6 L297.8 26.9 L302 27.3 L306.2 27.8 L310.4 28.3 L314.5 28.8 L318.7 29.3 L322.9 29.9 L327.1 30.6 L331.3 31.3 L335.5 32 L339.7 32.7 L339.7 121.9 L172 121.9Z" fill="url(#meshA)"/>
<path d="M172 35.1 L176.2 34.3 L180.4 33.6 L184.6 33 L188.8 32.3 L193 31.7 L197.2 31.2 L201.3 30.7 L205.5 30.2 L209.7 29.7 L213.9 29.3 L218.1 29 L222.3 28.6 L226.5 28.3 L230.7 28.1 L234.9 27.9 L239.1 27.7 L243.3 27.6 L247.5 27.5 L251.7 27.4 L255.8 27.4 L260 27.4 L264.2 27.5 L268.4 27.6 L272.6 27.7 L276.8 27.9 L281 28.1 L285.2 28.3 L289.4 28.6 L293.6 29 L297.8 29.3 L302 29.7 L306.2 30.2 L310.4 30.7 L314.5 31.2 L318.7 31.7 L322.9 32.3 L327.1 33 L331.3 33.7 L335.5 34.4 L339.7 35.1" fill="none" stroke="#f7c626" stroke-width="2.1" stroke-dasharray="6 4.6"/>
<path d="M172 96.2 L176.2 95.4 L180.4 94.7 L184.6 94 L188.8 93.3 L193 92.7 L197.2 92.1 L201.3 91.6 L205.5 91.1 L209.7 90.6 L213.9 90.2 L218.1 89.8 L222.3 89.5 L226.5 89.2 L230.7 88.9 L234.9 88.7 L239.1 88.5 L243.3 88.4 L247.5 88.3 L251.7 88.2 L255.8 88.2 L260 88.2 L264.2 88.3 L268.4 88.4 L272.6 88.5 L276.8 88.7 L281 88.9 L285.2 89.2 L289.4 89.5 L293.6 89.8 L297.8 90.2 L302 90.6 L306.2 91.1 L310.4 91.6 L314.5 92.1 L318.7 92.7 L322.9 93.3 L327.1 94 L331.3 94.7 L335.5 95.4 L339.7 96.2" fill="none" stroke="#f7c626" stroke-width="2.1" stroke-dasharray="6 4.6"/>
<text x="338" y="108.6" text-anchor="end" style="font-family:'Liberation Sans',sans-serif;font-size:15.5px" fill="#fff">0.5 μm</text>
<rect x="287" y="117.3" width="49.3" height="3.4" fill="#fff"/>
<path d="M172 122 L262 158" stroke="#1a1a1a" stroke-width="1.5" fill="none" stroke-dasharray="4.5 3"/>
<path d="M339.7 122 L294 157" stroke="#1a1a1a" stroke-width="1.5" fill="none" stroke-dasharray="4.5 3"/>
<rect x="271" y="144.6" width="22" height="16.8" fill="none" stroke="#1a1a1a" stroke-width="1.5" stroke-dasharray="3.5 2.5"/>
<defs><clipPath id="clipIB"><path d="M544.4 112.5 L544.4 98.4 L545.4 97.3 L546.7 95.9 L548.2 94.2 L549.9 92.3 L551.7 90.3 L553.7 88.1 L555.6 85.8 L557.6 83.4 L559.6 80.9 L561.7 78.1 L563.9 75.2 L566.1 72.2 L568.4 69.2 L570.7 66.2 L573 63.2 L575.2 60.5 L577.4 57.8 L579.6 55.2 L581.8 52.6 L584 50 L586.2 47.6 L588.4 45.2 L590.6 43.1 L592.8 41.1 L595 39.3 L597.2 37.7 L599.3 36.2 L601.5 34.9 L603.7 33.7 L605.9 32.6 L608.1 31.5 L610.4 30.6 L612.7 29.7 L615.1 29 L617.5 28.3 L620 27.7 L622.4 27.2 L624.9 26.9 L627.4 26.7 L629.8 26.7 L632.2 26.8 L634.7 27.1 L637.2 27.5 L639.6 28 L642.1 28.6 L644.5 29.4 L646.9 30.3 L649.2 31.4 L651.5 32.6 L653.7 34 L655.9 35.5 L658.1 37.1 L660.3 38.9 L662.4 40.8 L664.6 42.7 L666.8 44.7 L669 46.8 L671.3 49.1 L673.6 51.6 L675.8 54.1 L678.1 56.6 L680.2 59.2 L682.4 61.6 L684.4 64 L686.4 66.3 L688.3 68.7 L690.2 71 L692.1 73.3 L693.8 75.6 L695.5 77.7 L697.1 79.7 L698.5 81.6 L699.8 83.3 L701.1 85 L702.3 86.6 L703.3 88 L704.3 89.3 L705.1 90.5 L705.8 91.4 L706.4 92.2 L706.4 112.5Z"/></clipPath>
<pattern id="meshB" x="0" y="0" width="5" height="5" patternUnits="userSpaceOnUse" patternTransform="rotate(42)"><path d="M0 0H5M0 0V5" stroke="#303000" stroke-width="0.55" fill="none" opacity="0.4"/></pattern></defs>
<g clip-path="url(#clipIB)">
<rect x="540" y="22" width="170" height="92" fill="#1030e8"/>
<path d="M540.2 22.2l0 91.6 169.6 0 0 -91.6z" fill="#0860f0" fill-rule="evenodd"/>
<path d="M540.2 22.2l0 83.3 16.6 8.3 153 -0.3 0 -91.3z" fill="#10b0f0" fill-rule="evenodd"/>
<path d="M540.2 22.2l0 70 42.6 21.3 9.7 -4.7 4.7 5 71.6 0 4.4 -5 10 4.7 26.6 -13.3 0 -78z" fill="#10e8d8" fill-rule="evenodd"/>
<path d="M540.2 22.2l0 55 8.3 2.3 34.3 17.3 10 -0.6 13 17.6 54.4 0 13 -17.6 10 0.6 26.6 -13.3 0 -61.3z" fill="#20e890" fill-rule="evenodd"/>
<path d="M540.2 22.2l0 45 41.6 12.3 5.7 2.7 5 1.3 17 26 -2 4.3 51 0 -2 -4.3 17 -26 5 -1.3 5.7 -2.7 25.6 -7.7 0 -49.6z" fill="#30e840" fill-rule="evenodd"/>
<path d="M540.2 22.2l0 31 52.6 15.6 21.4 34 -6.7 11 51 0 -6.7 -11 20.7 -33.3 37.3 -11.7 0 -35.6z" fill="#50e818" fill-rule="evenodd"/>
<path d="M540.2 22.2l0 17 53.3 16.3 19.3 31.7 9.7 14.3 -7.7 12.3 36.4 0 -7.7 -12.3 9.7 -14.3 19.3 -31.7 37.3 -11.7 0 -21.6z" fill="#98ec10" fill-rule="evenodd"/>
<path d="M540.2 22.2l0 3 53.3 16.3 27.3 44 7 9.3 3.4 2.7 -10 16.3 23.6 0 -10 -16.3 3.4 -2.7 7 -9.3 28 -44.7 36.6 -11 0 -7.6z" fill="#e0f010" fill-rule="evenodd"/>
<path d="M626.2 113.5l13.6 0.3 -6.6 -11zM589.8 22.2l3.7 1.3 27.3 44 7 9.3 4.4 3 3.3 -0.6 5.7 -6 12 -18 19.3 -31.7 3.7 -1.3z" fill="#f8b010" fill-rule="evenodd"/>
<path d="M598.8 22.2l22 35.3 7 9.3 4.4 3 3.3 -0.6 5.7 -6 26 -40.7z" fill="#f06010" fill-rule="evenodd"/>
<path d="M605.5 22.2l19.3 30 4 4.6 3.4 2 3.3 -0.6 5.7 -6 19.3 -30z" fill="#e01808" fill-rule="evenodd"/>
<rect x="540" y="20" width="170" height="95" fill="url(#meshB)"/>
</g>
<path d="M546 106 L547.2 104.1 L548.8 101.5 L550.7 98.4 L552.9 95 L555.2 91.5 L557.6 88 L560.2 84.4 L563 80.6 L566 76.6 L569.1 72.6 L572.2 68.7 L575.2 65 L578.1 61.4 L581.1 57.9 L584 54.5 L586.9 51.2 L589.9 48.2 L592.8 45.5 L595.7 43.2 L598.6 41.1 L601.5 39.3 L604.4 37.7 L607.4 36.3 L610.4 35 L613.5 33.9 L616.7 32.9 L620 32.2 L623.3 31.6 L626.5 31.3 L629.8 31.2 L633.1 31.4 L636.3 31.8 L639.6 32.4 L642.9 33.3 L646.1 34.4 L649.2 35.8 L652.2 37.4 L655.2 39.3 L658.1 41.5 L661 43.9 L663.9 46.4 L666.8 49 L669.8 51.8 L672.8 54.9 L675.8 58.2 L678.8 61.5 L681.7 64.8 L684.4 68 L687 71.1 L689.6 74.3 L692.1 77.5 L694.5 80.6 L696.6 83.4 L698.5 86 L700.1 88.4 L701.5 90.6 L702.6 92.6 L703.6 94.4 L704.4 95.9 L705 97" fill="none" stroke="#f2ee50" stroke-width="1.8" stroke-dasharray="5 4"/>
<text x="705.6" y="101.7" text-anchor="end" style="font-family:'Liberation Sans',sans-serif;font-size:14px" fill="#fff">0.2 μm</text>
<rect x="673" y="107.2" width="18.5" height="2.8" fill="#fff"/>
<path d="M544.4 112.5 L661.5 144" stroke="#1a1a1a" stroke-width="1.5" fill="none" stroke-dasharray="4.5 3"/>
<path d="M706.4 112.5 L681 143.5" stroke="#1a1a1a" stroke-width="1.5" fill="none" stroke-dasharray="4.5 3"/>
<rect x="661.4" y="130" width="19.6" height="14.4" fill="none" stroke="#1a1a1a" stroke-width="1.5" stroke-dasharray="3.5 2.5"/>
<defs><clipPath id="clipIC"><path d="M875.3 42.6 L875.9 42.8 L876.4 43.2 L877 43.9 L877.6 44.9 L878.1 46.1 L878.7 47.4 L879.2 48.8 L879.8 50.1 L880.4 51.4 L880.9 52.6 L881.5 53.6 L882.1 54.3 L882.6 54.7 L883.2 54.9 L884.8 54.9 L886.5 54.6 L888.1 53.8 L889.7 52.3 L891.4 50.1 L893 47.2 L894.7 43.7 L896.3 39.8 L897.9 35.7 L899.6 31.7 L901.2 28.2 L902.8 25.5 L904.5 23.8 L906.1 23.2 L907.4 23.7 L908.7 25.3 L910.1 27.7 L911.4 30.8 L912.7 34.3 L914 37.9 L915.4 41.4 L916.7 44.6 L918 47.2 L919.3 49.1 L920.6 50.4 L922 51.1 L923.3 51.4 L924.6 51.4 L926.2 51.4 L927.7 51 L929.3 50.2 L930.9 48.7 L932.5 46.4 L934 43.3 L935.6 39.6 L937.2 35.4 L938.7 31.1 L940.3 26.9 L941.9 23.2 L943.5 20.4 L945 18.5 L946.6 17.9 L948.2 18.5 L949.7 20.3 L951.3 23.1 L952.9 26.7 L954.5 30.7 L956 34.9 L957.6 39 L959.2 42.6 L960.7 45.6 L962.3 47.8 L963.9 49.3 L965.5 50.1 L967 50.5 L968.6 50.5 L970.1 50.5 L971.6 50.1 L973 49.3 L974.5 47.8 L976 45.5 L977.5 42.4 L979 38.7 L980.4 34.6 L981.9 30.3 L983.4 26.1 L984.9 22.5 L986.3 19.6 L987.8 17.8 L989.3 17.2 L990.8 17.9 L992.3 20 L993.8 23.3 L995.3 27.5 L996.8 32.2 L998.3 37.1 L999.8 41.9 L1001.3 46.1 L1002.8 49.6 L1004.3 52.3 L1005.8 54 L1007.3 55 L1008.8 55.3 L1010.3 55.4 L1011.8 55.4 L1013.3 55 L1014.8 54.1 L1016.3 52.5 L1017.8 50.1 L1019.3 46.9 L1020.8 43 L1022.2 38.6 L1023.7 34 L1025.2 29.7 L1026.7 25.8 L1028.2 22.8 L1029.7 20.9 L1031.2 20.2 L1032.9 21 L1034.5 23.1 L1036.2 26.6 L1037.9 31 L1039.6 36 L1041.2 41.2 L1042.9 46.2 L1044.6 50.7 L1046.2 54.3 L1047.9 57.1 L1049.6 59 L1051.3 60 L1052.9 60.3 L1054.6 60.4 L1055.5 60 L1056.4 58.9 L1057.3 57.2 L1058.3 54.8 L1059.2 52 L1060.1 48.9 L1061 45.6 L1061.9 42.3 L1062.8 39.2 L1063.7 36.4 L1064.7 34 L1065.6 32.3 L1066.5 31.2 L1067.4 30.8 L1067.4 108.4 L875.3 108.4Z"/></clipPath>
<pattern id="meshC" x="875" y="0" width="5.2" height="5.2" patternUnits="userSpaceOnUse"><path d="M0 0H5.2M0 0V5.2" stroke="#203000" stroke-width="0.6" fill="none" opacity="0.45"/></pattern></defs>
<g clip-path="url(#clipIC)">
<rect x="875.3" y="10" width="192" height="98.3" fill="#40c8a0"/>
<path d="M875.5 10.2l0 98 191.6 0 0 -98z" fill="#10a8e0" fill-rule="evenodd"/>
<path d="M875.5 10.2l0 98 191.6 0 0 -98 -9.3 0 0 47 -1 3 -2 2 -3.3 -0.4 -1.7 -1 -2.3 -3.6 0 -47z" fill="#18d0b0" fill-rule="evenodd"/>
<path d="M875.5 10.2l0 98 191.6 0 0 -98 -8 0 0 45 -2.3 12 -2.3 2 -4 -1 -2.4 -2.4 -3 -12.3 0 -43.3 -28.3 0 0 42 -2 5.3 -2.7 2.3 -4.3 -0.6 -2.3 -2.7 -1.4 -3.7 0 -42.6 -114 0 0 42 -3 6.3 -2 1.3 -2.3 0 -2.3 -7.3 0 -42.3z" fill="#40d820" fill-rule="evenodd"/>
<path d="M875.5 10.2l0 98 191.6 0 0 -98 -7 0 -0.3 48.6 -2.3 17.7 -0.7 1.7 -2 1.6 -3.3 -0.3 -3 -2.3 -3.4 -13 -1.3 -13.7 0 -40.3 -25.3 0 -0.4 42.3 -2 9.3 -1 2.4 -2.3 2.3 -4.7 -1 -2.6 -3.3 -3 -11.7 0 -40.3 -29.4 0 0 39.3 -1.6 2 -2 0.7 -3 -0.4 -2.7 -2.3 0 -39.3 -33.3 0 0 39.3 -2 5 -3 2.3 -2.7 0 -1.3 -1 -2 -5.3 0 -40.3 -27.4 0 0 39.6 -0.6 6.4 -3 11.3 -2.4 2.7 -3 0.6 -1.6 -2.6 -2 -14 0 -44z" fill="#78e000" fill-rule="evenodd"/>
<path d="M1067.1 10.2l-6.3 0 0 44.3 0.7 7.3 1.3 2 4.3 -4.3zM893.1 10.2l0 39.3 0.7 10 1.7 6 1.6 0.7 2 -1.4 1 0.7 1 2.7 3.4 40 5 0 1 -10 1 -3 1 1.6 0.6 11.4 109.7 0 0.7 -17.4 1.6 -6.6 1 0.3 2.7 22.7 0.3 1 3 0 3.7 -41.4 1.3 -3 1.7 0.4 2 1.6 1.7 -4.3 0.6 -10 0 -41.3 -23.6 0 -0.4 48.3 -1.3 14.3 -1.3 5.4 -1.7 2.6 -2.7 -0.6 -4.6 -5.4 -2 -4.3 -2.4 -9.7 -1.6 -13 0 -37.6 -26.4 0 0 37.3 -2.3 5.3 -3 2 -4.3 -0.6 -1.7 -1.7 -2 -4.3 0 -38 -29.7 0 0 38 -0.6 5 -3.7 11.3 -5.7 5.3 -1.6 -1.3 -1 -2.7 -1.4 -9 -0.3 -46.6zM878.5 10.2l-3 0 0 52.6 1.3 -0.6 0.7 -1.7 1 -10.3z" fill="#a8e400" fill-rule="evenodd"/>
<path d="M1067.1 10.2l-5.6 0 0 35.6 1 1.7 4.6 -4.3zM1020.1 10.2l0.4 36.3 1 2.3 1 0.4 2.3 -4.4 2 -1.6 1.3 1.3 2.4 8 1 0.3 2.6 -9 1.7 -2 4.7 6 1.6 -2 0 -35.6zM933.5 10.2l0.3 56 1.3 7 5.4 15 1.3 20 52.3 0 1.4 -19.7 4 -11.7 1.3 -6.6 -0.3 -60 -24 0 0 36.6 -3 9.4 -2 2 -2.4 0.6 -3.6 -0.6 -2 -2 -3 -8 -0.4 -38zM894.5 10.2l0 35.3 2.3 2.3 4.3 -4.3 2 2.7 1.7 7.3 1.7 2.7 3 -9.4 1.6 -1 3.7 3.4 1.7 -3 0 -36zM877.1 10.2l-1.6 0 0 36.3 1.6 -1z" fill="#d0ec00" fill-rule="evenodd"/>
<path d="M1067.1 10.2l-4.6 0 0 31.3 4.6 -4zM1021.5 10.2l0 31.3 1.3 0 3.7 -6 1.3 0 2.3 3.7 1.4 0.6 3.3 -5 2.3 1.4 3 5.3 1 0 0 -31.3zM935.1 10.2l0 32 1.4 2 4.3 -4.4 1.7 1.4 1 9.6 0 13.4 1 6.3 2 5.7 2 0.6 1.6 -1.3 1.7 0 5.3 4.7 2.7 1.3 11 -1.3 6.7 0.6 6.6 -5.3 4.7 1.3 2 -4 1.3 -6.3 1 -24 1.4 -2 4 4 1 -2.3 0 -32 -21.4 0 -0.3 38.6 -3 11.7 -2.7 4.3 -1.6 1 -3.7 0 -3 -2.3 -3 -6.3 -2.3 -11 0 -36zM895.8 10.2l0 31.3 1.3 0 4.4 -5 1.6 1 2.7 5.3 1.3 -0.6 1.4 -3 1.6 -1.4 4.7 4 0.3 -31.6z" fill="#ecd400" fill-rule="evenodd"/>
<path d="M1067.1 10.2l-4 0 0 28.3 4 -4zM1022.5 10.2l0 28.6 4.3 -7 1.3 0 3.4 3 3.3 -3.6 1.7 1 4 6.6 0 -28.6zM998.8 10.2l-19.7 0 0 29.6 1.4 0.7 4 -5.7 1.6 1.4 2.7 16 2 -12.7 1.7 -5.3 1.3 -1.4 4 5.7 1 0.3zM936.1 10.2l0 29 5.7 -6.7 1.3 1 2.4 8.3 1.6 13.7 1 -11.7 2 -8 1.7 -1 4 5.7 1.3 0 0.4 -30.3zM896.8 10.2l0 28.6 5 -5.6 1.7 1 2.3 3.3 4.3 -3.3 4 4.6 0 -28.6z" fill="#f0a000" fill-rule="evenodd"/>
<path d="M1067.1 10.2l-2.6 0 0 24.3 2.6 -2.3zM1023.8 10.2l-0.3 24.6 3.6 -5.6 1 -0.4 3.4 2.4 3 -2.7 2.3 1.7 2.3 4.3 0 -24.3zM980.5 10.2l0 24.3 4.3 -5.3 1.7 1 1.6 3.6 1.4 0.7 3.3 -5.7 2 1 2.7 4.7 0 -24.3zM937.5 10.2l0 24.3 4.3 -6 2 1 2.7 5.7 1 -0.4 2 -4.3 1.6 -1.3 4.7 5.3 0 -24.3zM898.5 10.2l0 24.3 3 -3.7 1.3 0 3 3 4.3 -2.3 2.7 3 0 -24.3z" fill="#e86000" fill-rule="evenodd"/>
<path d="M1025.1 10.2l0 20 1.4 -2.7 1.6 -1 2.4 1.7 4.6 -1.7 2.4 3.3 0 -19.6zM982.1 10.2l0 19.6 2.7 -4 1.3 0 2.7 3.4 1 0 2 -3 1.3 -0.7 2 2 1 2.7 -0.3 -20zM939.5 10.2l-0.4 19.6 3 -4.3 2 1 2 3.3 1 0 2 -3 2 -1 3 4 0 -19.6zM900.5 10.2l-0.4 20.3 1.4 -1.7 1.3 -0.3 2.7 2.3 1.3 0 2.3 -1.6 2.4 1.6 -0.7 -20.6z" fill="#d81800" fill-rule="evenodd"/>
<path d="M901.8 23.5l0 3.3 1.3 0 2.4 1.7 3 -1 1.6 0.3 0 -4.3zM1031.1 10.2l0 10 -4.3 0.3 0 5 2 -0.7 3.3 1 2 -1.3 1.4 0.7 0.3 -4.7 -4.7 -0.3zM986.1 10.2l0 7 -1.6 0.3 0 6 2 -0.3 2 2.3 1.3 0 2.3 -2.3 2 1 0 -6.7 -2 -0.3 0 -7zM943.8 10.2l0 7.6 -2.3 0.4 0.3 5.3 1.7 -0.3 2.6 3 1 0 2.4 -2.7 2 0 0 -5.3 -2 -0.4 0 -7.6z" fill="#b80000" fill-rule="evenodd"/>
<rect x="870" y="10" width="200" height="100" fill="url(#meshC)"/>
</g>
<path d="M877 47.4 L877.6 48.4 L878.1 49.6 L878.7 50.9 L879.2 52.2 L879.8 53.6 L880.4 54.9 L880.9 56.1 L881.5 57.1 L882.1 57.8 L882.6 58.2 L883.2 58.4 L884.8 58.4 L886.5 58.1 L888.1 57.3 L889.7 55.8 L891.4 53.6 L893 50.7 L894.7 47.2 L896.3 43.3 L897.9 39.2 L899.6 35.2 L901.2 31.7 L902.8 29 L904.5 27.3 L906.1 26.7 L907.4 27.2 L908.7 28.8 L910.1 31.2 L911.4 34.3 L912.7 37.8 L914 41.4 L915.4 44.9 L916.7 48.1 L918 50.7 L919.3 52.6 L920.6 53.9 L922 54.6 L923.3 54.9 L924.6 54.9 L926.2 54.9 L927.7 54.5 L929.3 53.7 L930.9 52.2 L932.5 49.9 L934 46.8 L935.6 43.1 L937.2 38.9 L938.7 34.6 L940.3 30.4 L941.9 26.7 L943.5 23.9 L945 22 L946.6 21.4 L948.2 22 L949.7 23.8 L951.3 26.6 L952.9 30.2 L954.5 34.2 L956 38.4 L957.6 42.5 L959.2 46.1 L960.7 49.1 L962.3 51.3 L963.9 52.8 L965.5 53.6 L967 54 L968.6 54 L970.1 54 L971.6 53.6 L973 52.8 L974.5 51.3 L976 49 L977.5 45.9 L979 42.2 L980.4 38.1 L981.9 33.8 L983.4 29.6 L984.9 26 L986.3 23.1 L987.8 21.3 L989.3 20.7 L990.8 21.4 L992.3 23.5 L993.8 26.8 L995.3 31 L996.8 35.7 L998.3 40.6 L999.8 45.4 L1001.3 49.6 L1002.8 53.1 L1004.3 55.8 L1005.8 57.5 L1007.3 58.5 L1008.8 58.8 L1010.3 58.9 L1011.8 58.9 L1013.3 58.5 L1014.8 57.6 L1016.3 56 L1017.8 53.6 L1019.3 50.4 L1020.8 46.5 L1022.2 42.1 L1023.7 37.5 L1025.2 33.2 L1026.7 29.3 L1028.2 26.3 L1029.7 24.4 L1031.2 23.7 L1032.9 24.5 L1034.5 26.6 L1036.2 30.1 L1037.9 34.5 L1039.6 39.5 L1041.2 44.7 L1042.9 49.7 L1044.6 54.2 L1046.2 57.8 L1047.9 60.6 L1049.6 62.5 L1051.3 63.5 L1052.9 63.8 L1054.6 63.9 L1055.5 63.5 L1056.4 62.4 L1057.3 60.7 L1058.3 58.3 L1059.2 55.5 L1060.1 52.4 L1061 49.1 L1061.9 45.8 L1062.8 42.7 L1063.7 39.9" fill="none" stroke="#f4f070" stroke-width="1.5" stroke-dasharray="3.5 4"/>
<path d="M875.3 94 Q 935 86 975 84" fill="none" stroke="#f0e040" stroke-width="1.4" stroke-dasharray="4 4" opacity="0.8"/>
<text x="1064.5" y="96.6" text-anchor="end" style="font-family:'Liberation Sans',sans-serif;font-size:13.5px" fill="#fff">0.1 μm</text>
<rect x="1032.5" y="101.5" width="17.7" height="3.2" fill="#fff"/>
<path d="M875.3 108.4 L927 147.5" stroke="#1a1a1a" stroke-width="1.5" fill="none" stroke-dasharray="4.5 3"/>
<path d="M1067.4 108.4 L958 147.5" stroke="#1a1a1a" stroke-width="1.5" fill="none" stroke-dasharray="4.5 3"/>
<rect x="927" y="135.5" width="31" height="25.5" fill="none" stroke="#1a1a1a" stroke-width="1.5" stroke-dasharray="3.5 2.5"/>
<defs><clipPath id="clipD"><rect x="58.8" y="263.5" width="306.2" height="246.5"/></clipPath></defs>
<g clip-path="url(#clipD)">
<rect x="58.8" y="263.5" width="306.2" height="246.5" fill="#d2e8cb"/>
<path d="M58.8 258.5 L58.9 258.5 L59 258.5 L59 258.5 L59.1 259.9 L59.2 262.3 L59.3 264.7 L59.4 267.1 L59.5 269.6 L59.5 272.1 L59.6 274.6 L59.7 277.1 L59.8 279.7 L59.9 282.2 L60 284.8 L60.1 287.3 L60.2 289.9 L60.3 292.5 L60.4 295.1 L60.5 297.6 L60.6 300.2 L60.7 302.8 L60.9 305.6 L61 308.5 L61.1 311.5 L61.2 314.6 L61.3 317.7 L61.4 320.8 L61.6 323.9 L61.7 326.9 L61.8 329.8 L62 332.6 L62.1 335.3 L62.2 337.8 L62.4 340.2 L62.5 342.3 L62.7 344.3 L62.8 346.3 L62.9 348.1 L63.1 349.9 L63.3 351.6 L63.4 353.3 L63.6 354.9 L63.7 356.5 L63.9 358 L64.1 359.5 L64.2 361 L64.4 362.4 L64.6 363.9 L64.8 365.3 L65 366.8 L65.2 368.2 L65.4 369.7 L65.5 371.2 L65.7 372.6 L66 374.1 L66.2 375.6 L66.4 377.1 L66.6 378.5 L66.8 379.9 L67 381.3 L67.3 382.5 L67.5 383.8 L67.7 384.9 L68 385.9 L68.2 386.9 L68.4 387.7 L68.7 388.6 L69 389.4 L69.2 390.2 L69.5 390.9 L69.8 391.6 L70 392.3 L70.3 393 L70.6 393.7 L70.9 394.3 L71.2 394.9 L71.5 395.5 L71.8 396.1 L72.1 396.7 L72.4 397.2 L72.8 397.8 L73.1 398.3 L73.4 398.8 L73.8 399.4 L74.1 399.9 L74.5 400.4 L74.8 400.9 L75.2 401.4 L75.6 401.9 L76 402.3 L76.4 402.8 L76.8 403.3 L77.2 403.8 L77.6 404.3 L78 404.8 L78.4 405.3 L78.9 405.8 L79.3 406.3 L79.7 406.8 L80.2 407.3 L80.7 407.9 L81.1 408.4 L81.6 408.9 L82.1 409.5 L82.6 410 L83.1 410.6 L83.7 411.1 L84.2 411.7 L84.7 412.3 L85.3 412.8 L85.8 413.4 L86.4 413.9 L87 414.4 L87.6 415 L88.2 415.5 L88.8 416 L89.4 416.5 L90.1 417 L90.7 417.5 L91.4 417.9 L92 418.4 L92.7 418.8 L93.4 419.2 L94.1 419.6 L94.8 420 L95.6 420.4 L96.3 420.7 L97.1 421.1 L97.9 421.4 L98.6 421.7 L99.4 422 L100.3 422.3 L101.1 422.6 L101.9 422.9 L102.8 423.2 L103.7 423.4 L104.6 423.7 L105.5 424 L106.4 424.2 L107.4 424.4 L108.3 424.6 L109.3 424.8 L110.3 425 L111.3 425.2 L112.4 425.4 L113.4 425.5 L114.5 425.6 L115.6 425.8 L116.7 425.9 L117.8 426 L119 426.1 L120.2 426.3 L121.3 426.4 L122.6 426.5 L123.8 426.5 L125.1 426.6 L126.4 426.7 L127.7 426.7 L129 426.8 L130.4 426.8 L130.3 510 L58.8 510Z" fill="#f6ddb6"/>
<path d="M130.4 426.8 L131 426.8 L131.7 426.8 L132.4 426.7 L133.1 426.7 L133.8 426.7 L134.5 426.7 L135.2 426.6 L135.9 426.6 L136.6 426.6 L137.3 426.5 L138.1 426.5 L138.8 426.4 L139.5 426.4 L140.3 426.3 L141.1 426.2 L141.8 426.2 L142.6 426.1 L143.4 426 L144.2 426 L145 425.9 L145.8 425.8 L146.6 425.8 L147.4 425.7 L148.2 425.6 L149 425.5 L149.9 425.4 L150.7 425.4 L151.6 425.3 L152.4 425.2 L153.3 425.1 L154.2 425 L155 424.9 L155.9 424.8 L156.8 424.7 L157.7 424.6 L158.6 424.5 L159.6 424.4 L160.5 424.3 L161.4 424.1 L162.4 424 L163.3 423.8 L164.3 423.7 L165.3 423.5 L166.2 423.4 L167.2 423.2 L168.2 423 L169.2 422.9 L170.2 422.7 L171.3 422.5 L172.3 422.3 L173.3 422.1 L174.4 422 L175.5 421.8 L176.5 421.6 L177.6 421.4 L178.7 421.1 L179.8 420.9 L180.9 420.7 L182 420.5 L183.2 420.3 L184.3 420.1 L185.4 419.8 L186.6 419.6 L187.8 419.4 L188.9 419.2 L190.1 418.9 L191.3 418.7 L192.5 418.4 L193.8 418.2 L195 418 L196.2 417.7 L197.5 417.5 L198.8 417.2 L200 417 L201.3 416.7 L202.6 416.5 L203.9 416.3 L205.3 416 L206.6 415.8 L207.9 415.5 L209.3 415.3 L210.7 415 L212 414.8 L213.4 414.5 L214.8 414.2 L216.3 414 L217.7 413.7 L219.1 413.5 L220.6 413.2 L222.1 412.9 L223.6 412.6 L225 412.4 L226.6 412.1 L228.1 411.8 L229.6 411.5 L231.2 411.2 L232.7 410.9 L234.3 410.6 L235.9 410.3 L237.5 410 L239.1 409.7 L240.8 409.4 L242.4 409.1 L244.1 408.8 L245.7 408.4 L247.4 408.1 L249.1 407.8 L250.9 407.5 L252.6 407.1 L254.4 406.8 L256.1 406.5 L257.9 406.1 L259.7 405.8 L261.5 405.4 L263.4 405.1 L265.2 404.7 L267.1 404.4 L269 404 L270.9 403.6 L272.8 403.3 L274.7 402.9 L276.6 402.5 L278.6 402.1 L280.6 401.7 L282.6 401.4 L284.6 401 L286.7 400.6 L288.7 400.2 L290.8 399.8 L292.9 399.4 L295 398.9 L297.1 398.5 L299.3 398.1 L301.4 397.7 L303.6 397.3 L305.8 396.8 L308 396.4 L310.3 396 L312.5 395.5 L314.8 395.1 L317.1 394.6 L319.5 394.2 L321.8 393.7 L324.2 393.2 L326.6 392.8 L329 392.3 L331.4 391.8 L333.8 391.3 L336.3 390.9 L338.8 390.4 L341.3 389.9 L343.9 389.4 L346.4 388.9 L349 388.4 L351.6 387.9 L354.2 387.3 L356.9 386.8 L359.6 386.3 L362.3 385.8 L365 385.2 L365 510 L130.3 510Z" fill="#d9c4dc"/>
<path d="M58.8 258.5 L58.9 258.5 L59 259.5 L59 262 L59.1 264.6 L59.2 267.2 L59.3 269.7 L59.4 272.3 L59.5 274.8 L59.5 277.3 L59.6 279.8 L59.7 282.3 L59.8 284.8 L59.9 287.3 L60 289.8 L60.1 292.2 L60.2 294.7 L60.3 297.1 L60.4 299.5 L60.5 301.9 L60.6 304.3 L60.7 306.7 L60.9 309.1 L61 311.5 L61.1 313.9 L61.2 316.2 L61.3 318.6 L61.4 321 L61.6 323.3 L61.7 325.7 L61.8 328 L62 330.3 L62.1 332.6 L62.2 334.9 L62.4 337.1 L62.5 339.3 L62.7 341.6 L62.8 343.7 L62.9 345.9 L63.1 348.1 L63.3 350.2 L63.4 352.3 L63.6 354.3 L63.7 356.4 L63.9 358.4 L64.1 360.3 L64.2 362.3 L64.4 364.2 L64.6 366.1 L64.8 368 L65 370 L65.2 371.9 L65.4 373.8 L65.5 375.7 L65.7 377.6 L66 379.3 L66.2 381 L66.4 382.6 L66.6 384.1 L66.8 385.5 L67 386.8 L67.3 388 L67.5 389.2 L67.7 390.4 L68 391.5 L68.2 392.5 L68.4 393.6 L68.7 394.6 L69 395.6 L69.2 396.5 L69.5 397.5 L69.8 398.4 L70 399.3 L70.3 400.2 L70.6 401.1 L70.9 402 L71.2 402.9 L71.5 403.8 L71.8 404.7 L72.1 405.6 L72.4 406.5 L72.8 407.4 L73.1 408.4 L73.4 409.3 L73.8 410.2 L74.1 411.1 L74.5 412 L74.8 412.8 L75.2 413.7 L75.6 414.5 L76 415.4 L76.4 416.2 L76.8 417.1 L77.2 417.9 L77.6 418.7 L78 419.6 L78.4 420.4 L78.9 421.3 L79.3 422.1 L79.7 422.9 L80.2 423.8 L80.7 424.6 L81.1 425.4 L81.6 426.3 L82.1 427.1 L82.6 428 L83.1 428.9 L83.7 429.7 L84.2 430.6 L84.7 431.5 L85.3 432.4 L85.8 433.3 L86.4 434.2 L87 435.1 L87.6 436 L88.2 436.9 L88.8 437.8 L89.4 438.7 L90.1 439.6 L90.7 440.4 L91.4 441.3 L92 442.1 L92.7 442.9 L93.4 443.8 L94.1 444.5 L94.8 445.3 L95.6 446.1 L96.3 446.8 L97.1 447.6 L97.9 448.3 L98.6 449 L99.4 449.7 L100.3 450.4 L101.1 451.1 L101.9 451.8 L102.8 452.5 L103.7 453.2 L104.6 453.9 L105.5 454.5 L106.4 455.2 L107.4 455.8 L108.3 456.4 L109.3 457.1 L110.3 457.7 L111.3 458.3 L112.4 458.9 L113.4 459.5 L114.5 460.1 L115.6 460.7 L116.7 461.3 L117.8 461.9 L119 462.4 L120.2 463 L121.3 463.6 L122.6 464.1 L123.8 464.7 L125.1 465.2 L126.4 465.8 L127.7 466.3 L129 466.8 L130.4 467.4 L130.3 510 L58.8 510Z" fill="#d9c4dc"/>
<path d="M130.4 467.4 L131 467.1 L131.7 466.9 L132.4 466.6 L133.1 466.4 L133.8 466.1 L134.5 465.9 L135.2 465.6 L135.9 465.4 L136.6 465.1 L137.3 464.9 L138.1 464.6 L138.8 464.3 L139.5 464.1 L140.3 463.8 L141.1 463.6 L141.8 463.3 L142.6 463 L143.4 462.8 L144.2 462.5 L145 462.2 L145.8 462 L146.6 461.7 L147.4 461.4 L148.2 461.1 L149 460.8 L149.9 460.6 L150.7 460.3 L151.6 460 L152.4 459.7 L153.3 459.4 L154.2 459.1 L155 458.9 L155.9 458.6 L156.8 458.3 L157.7 458 L158.6 457.7 L159.6 457.4 L160.5 457.1 L161.4 456.8 L162.4 456.5 L163.3 456.2 L164.3 455.9 L165.3 455.6 L166.2 455.2 L167.2 454.9 L168.2 454.6 L169.2 454.3 L170.2 454 L171.3 453.7 L172.3 453.3 L173.3 453 L174.4 452.7 L175.5 452.4 L176.5 452 L177.6 451.7 L178.7 451.4 L179.8 451 L180.9 450.7 L182 450.4 L183.2 450 L184.3 449.7 L185.4 449.3 L186.6 449 L187.8 448.6 L188.9 448.3 L190.1 447.9 L191.3 447.6 L192.5 447.2 L193.8 446.9 L195 446.5 L196.2 446.2 L197.5 445.8 L198.8 445.4 L200 445.1 L201.3 444.7 L202.6 444.3 L203.9 443.9 L205.3 443.6 L206.6 443.2 L207.9 442.8 L209.3 442.4 L210.7 442 L212 441.6 L213.4 441.3 L214.8 440.9 L216.3 440.5 L217.7 440.1 L219.1 439.7 L220.6 439.3 L222.1 438.9 L223.6 438.5 L225 438.1 L226.6 437.6 L228.1 437.2 L229.6 436.8 L231.2 436.4 L232.7 436 L234.3 435.6 L235.9 435.1 L237.5 434.7 L239.1 434.3 L240.8 433.8 L242.4 433.4 L244.1 433 L245.7 432.5 L247.4 432.1 L249.1 431.7 L250.9 431.2 L252.6 430.8 L254.4 430.3 L256.1 429.8 L257.9 429.4 L259.7 428.9 L261.5 428.5 L263.4 428 L265.2 427.5 L267.1 427.1 L269 426.6 L270.9 426.1 L272.8 425.6 L274.7 425.2 L276.6 424.7 L278.6 424.2 L280.6 423.7 L282.6 423.2 L284.6 422.7 L286.7 422.2 L288.7 421.7 L290.8 421.2 L292.9 420.7 L295 420.2 L297.1 419.7 L299.3 419.2 L301.4 418.7 L303.6 418.1 L305.8 417.6 L308 417.1 L310.3 416.5 L312.5 416 L314.8 415.5 L317.1 414.9 L319.5 414.4 L321.8 413.9 L324.2 413.3 L326.6 412.8 L329 412.2 L331.4 411.6 L333.8 411.1 L336.3 410.5 L338.8 410 L341.3 409.4 L343.9 408.8 L346.4 408.2 L349 407.6 L351.6 407.1 L354.2 406.5 L356.9 405.9 L359.6 405.3 L362.3 404.7 L365 404.1 L365 510 L130.3 510Z" fill="#f6ddb6"/>
<path d="M58.8 503.4 L58.9 503.3 L59 503.2 L59.2 503 L59.3 502.9 L59.4 502.8 L59.5 502.7 L59.7 502.5 L59.8 502.4 L60 502.3 L60.1 502.1 L60.2 502 L60.4 501.9 L60.6 501.7 L60.7 501.6 L60.9 501.4 L61.1 501.3 L61.2 501.1 L61.4 501 L61.6 500.8 L61.8 500.7 L62 500.5 L62.2 500.3 L62.4 500.2 L62.6 500 L62.8 499.8 L63.1 499.6 L63.3 499.5 L63.5 499.3 L63.8 499.1 L64 498.9 L64.3 498.7 L64.5 498.5 L64.8 498.3 L65.1 498.1 L65.4 497.9 L65.7 497.7 L66 497.5 L66.3 497.2 L66.6 497 L66.9 496.8 L67.3 496.6 L67.6 496.3 L67.9 496.1 L68.3 495.8 L68.7 495.6 L69.1 495.3 L69.5 495.1 L69.9 494.8 L70.3 494.6 L70.7 494.3 L71.2 494 L71.6 493.7 L72.1 493.4 L72.5 493.2 L73 492.9 L73.5 492.6 L74.1 492.3 L74.6 491.9 L75.1 491.6 L75.7 491.3 L76.3 491 L76.9 490.7 L77.5 490.3 L78.1 490 L78.7 489.6 L79.4 489.3 L80.1 488.9 L80.7 488.5 L81.5 488.2 L82.2 487.8 L82.9 487.4 L83.7 487 L84.5 486.6 L85.3 486.2 L86.2 485.8 L87 485.3 L87.9 484.9 L88.8 484.5 L89.7 484 L90.7 483.6 L91.7 483.1 L92.7 482.6 L93.7 482.1 L94.8 481.7 L95.9 481.2 L97 480.7 L98.2 480.1 L99.4 479.6 L100.6 479.1 L101.8 478.6 L103.1 478 L104.5 477.4 L105.8 476.9 L107.2 476.3 L108.6 475.7 L110.1 475.1 L111.6 474.5 L113.2 473.9 L114.8 473.2 L116.4 472.6 L118.1 471.9 L119.8 471.3 L121.6 470.6 L123.4 469.9 L125.3 469.2 L127.3 468.5 L129.2 467.8 L131.3 467.7 L133.4 468.5 L135.5 469.2 L137.7 470 L140 470.7 L142.3 471.5 L144.7 472.2 L147.1 472.9 L149.7 473.6 L152.3 474.3 L154.9 474.9 L157.7 475.6 L160.5 476.2 L163.4 476.9 L166.3 477.5 L169.4 478.1 L172.5 478.7 L175.7 479.3 L179 480 L182.4 480.5 L185.9 481.1 L189.5 481.7 L193.1 482.2 L196.9 482.7 L200.8 483.2 L204.8 483.7 L208.9 484.1 L213.1 484.6 L217.4 485 L221.8 485.4 L226.4 485.8 L231.1 486.2 L235.9 486.5 L240.8 486.9 L245.9 487.3 L251.1 487.6 L256.5 487.9 L262 488.3 L267.6 488.6 L273.4 488.9 L279.4 489.2 L285.5 489.5 L291.8 489.8 L298.3 490.1 L304.9 490.3 L311.7 490.6 L318.7 490.8 L325.9 491.1 L333.3 491.3 L340.9 491.6 L348.7 491.8 L356.8 492 L365 492.2 L365 510 L58.8 510Z" fill="#ececec"/>
<path d="M58.8 503.4 L58.9 503.3 L59 503.2 L59.2 503 L59.3 502.9 L59.4 502.8 L59.5 502.7 L59.7 502.5 L59.8 502.4 L60 502.3 L60.1 502.1 L60.2 502 L60.4 501.9 L60.6 501.7 L60.7 501.6 L60.9 501.4 L61.1 501.3 L61.2 501.1 L61.4 501 L61.6 500.8 L61.8 500.7 L62 500.5 L62.2 500.3 L62.4 500.2 L62.6 500 L62.8 499.8 L63.1 499.6 L63.3 499.5 L63.5 499.3 L63.8 499.1 L64 498.9 L64.3 498.7 L64.5 498.5 L64.8 498.3 L65.1 498.1 L65.4 497.9 L65.7 497.7 L66 497.5 L66.3 497.2 L66.6 497 L66.9 496.8 L67.3 496.6 L67.6 496.3 L67.9 496.1 L68.3 495.8 L68.7 495.6 L69.1 495.3 L69.5 495.1 L69.9 494.8 L70.3 494.6 L70.7 494.3 L71.2 494 L71.6 493.7 L72.1 493.4 L72.5 493.2 L73 492.9 L73.5 492.6 L74.1 492.3 L74.6 491.9 L75.1 491.6 L75.7 491.3 L76.3 491 L76.9 490.7 L77.5 490.3 L78.1 490 L78.7 489.6 L79.4 489.3 L80.1 488.9 L80.7 488.5 L81.5 488.2 L82.2 487.8 L82.9 487.4 L83.7 487 L84.5 486.6 L85.3 486.2 L86.2 485.8 L87 485.3 L87.9 484.9 L88.8 484.5 L89.7 484 L90.7 483.6 L91.7 483.1 L92.7 482.6 L93.7 482.1 L94.8 481.7 L95.9 481.2 L97 480.7 L98.2 480.1 L99.4 479.6 L100.6 479.1 L101.8 478.6 L103.1 478 L104.5 477.4 L105.8 476.9 L107.2 476.3 L108.6 475.7 L110.1 475.1 L111.6 474.5 L113.2 473.9 L114.8 473.2 L116.4 472.6 L118.1 471.9 L119.8 471.3 L121.6 470.6 L123.4 469.9 L125.3 469.2 L127.3 468.5 L129.2 467.8 L131.3 467 L133.4 466.3 L135.5 465.5 L137.7 464.7 L140 463.9 L142.3 463.1 L144.7 462.3 L147.1 461.5 L149.7 460.6 L152.3 459.8 L154.9 458.9 L157.7 458 L160.5 457.1 L163.4 456.2 L166.3 455.2 L169.4 454.3 L172.5 453.3 L175.7 452.3 L179 451.3 L182.4 450.3 L185.9 449.2 L189.5 448.1 L193.1 447.1 L196.9 446 L200.8 444.8 L204.8 443.7 L208.9 442.5 L213.1 441.4 L217.4 440.2 L221.8 438.9 L226.4 437.7 L231.1 436.4 L235.9 435.1 L240.8 433.8 L245.9 432.5 L251.1 431.1 L256.5 429.8 L262 428.4 L267.6 426.9 L273.4 425.5 L279.4 424 L285.5 422.5 L291.8 421 L298.3 419.4 L304.9 417.8 L311.7 416.2 L318.7 414.6 L325.9 412.9 L333.3 411.2 L340.9 409.5 L348.7 407.7 L356.8 405.9 L365 404.1" fill="none" stroke="#111" stroke-width="1.6"/>
<path d="M58.8 254.3 L58.9 258.1 L59 262 L59.2 265.8 L59.3 269.6 L59.4 273.4 L59.5 277.1 L59.7 280.9 L59.8 284.6 L60 288.3 L60.1 291.9 L60.2 295.6 L60.4 299.2 L60.6 302.8 L60.7 306.3 L60.9 309.8 L61.1 313.4 L61.2 316.9 L61.4 320.4 L61.6 323.9 L61.8 327.4 L62 330.8 L62.2 334.2 L62.4 337.6 L62.6 340.9 L62.8 344.2 L63.1 347.4 L63.3 350.5 L63.5 353.6 L63.8 356.6 L64 359.6 L64.3 362.5 L64.5 365.3 L64.8 368.2 L65.1 371.1 L65.4 374 L65.7 376.8 L66 379.4 L66.3 381.9 L66.6 384.1 L66.9 386.1 L67.3 388 L67.6 389.8 L67.9 391.4 L68.3 393 L68.7 394.5 L69.1 396 L69.5 397.4 L69.9 398.8 L70.3 400.1 L70.7 401.5 L71.2 402.8 L71.6 404.1 L72.1 405.5 L72.5 406.8 L73 408.2 L73.5 409.6 L74.1 410.9 L74.6 412.2 L75.1 413.5 L75.7 414.8 L76.3 416 L76.9 417.3 L77.5 418.5 L78.1 419.8 L78.7 421 L79.4 422.2 L80.1 423.5 L80.7 424.7 L81.5 426 L82.2 427.3 L82.9 428.5 L83.7 429.8 L84.5 431.2 L85.3 432.5 L86.2 433.9 L87 435.2 L87.9 436.5 L88.8 437.9 L89.7 439.2 L90.7 440.5 L91.7 441.7 L92.7 442.9 L93.7 444.1 L94.8 445.3 L95.9 446.4 L97 447.5 L98.2 448.6 L99.4 449.7 L100.6 450.7 L101.8 451.8 L103.1 452.8 L104.5 453.8 L105.8 454.7 L107.2 455.7 L108.6 456.6 L110.1 457.6 L111.6 458.5 L113.2 459.4 L114.8 460.3 L116.4 461.2 L118.1 462 L119.8 462.9 L121.6 463.7 L123.4 464.5 L125.3 465.3 L127.3 466.1 L129.2 466.9 L131.3 467.7 L133.4 468.5 L135.5 469.2 L137.7 470 L140 470.7 L142.3 471.5 L144.7 472.2 L147.1 472.9 L149.7 473.6 L152.3 474.3 L154.9 474.9 L157.7 475.6 L160.5 476.2 L163.4 476.9 L166.3 477.5 L169.4 478.1 L172.5 478.7 L175.7 479.3 L179 480 L182.4 480.5 L185.9 481.1 L189.5 481.7 L193.1 482.2 L196.9 482.7 L200.8 483.2 L204.8 483.7 L208.9 484.1 L213.1 484.6 L217.4 485 L221.8 485.4 L226.4 485.8 L231.1 486.2 L235.9 486.5 L240.8 486.9 L245.9 487.3 L251.1 487.6 L256.5 487.9 L262 488.3 L267.6 488.6 L273.4 488.9 L279.4 489.2 L285.5 489.5 L291.8 489.8 L298.3 490.1 L304.9 490.3 L311.7 490.6 L318.7 490.8 L325.9 491.1 L333.3 491.3 L340.9 491.6 L348.7 491.8 L356.8 492 L365 492.2" fill="none" stroke="#222" stroke-width="1.4" stroke-dasharray="1.4 2.2"/>
<path d="M58.8 250.8 L58.9 254.1 L59 257.5 L59.2 261 L59.3 264.5 L59.4 268.2 L59.5 271.9 L59.7 275.6 L59.8 279.4 L60 283.2 L60.1 287 L60.2 290.9 L60.4 294.7 L60.6 298.5 L60.7 302.3 L60.9 306.5 L61.1 310.9 L61.2 315.5 L61.4 320.1 L61.6 324.7 L61.8 329.1 L62 333.3 L62.2 337.2 L62.4 340.7 L62.6 343.8 L62.8 346.6 L63.1 349.3 L63.3 351.9 L63.5 354.3 L63.8 356.7 L64 358.9 L64.3 361.1 L64.5 363.3 L64.8 365.4 L65.1 367.6 L65.4 369.8 L65.7 372 L66 374.2 L66.3 376.4 L66.6 378.6 L66.9 380.6 L67.3 382.5 L67.6 384.3 L67.9 385.9 L68.3 387.3 L68.7 388.5 L69.1 389.7 L69.5 390.9 L69.9 391.9 L70.3 393 L70.7 393.9 L71.2 394.9 L71.6 395.7 L72.1 396.6 L72.5 397.4 L73 398.2 L73.5 399 L74.1 399.8 L74.6 400.5 L75.1 401.3 L75.7 402 L76.3 402.7 L76.9 403.4 L77.5 404.2 L78.1 404.9 L78.7 405.6 L79.4 406.4 L80.1 407.2 L80.7 407.9 L81.5 408.7 L82.2 409.6 L82.9 410.4 L83.7 411.2 L84.5 412 L85.3 412.9 L86.2 413.7 L87 414.5 L87.9 415.2 L88.8 416 L89.7 416.7 L90.7 417.5 L91.7 418.1 L92.7 418.8 L93.7 419.4 L94.8 420 L95.9 420.5 L97 421 L98.2 421.5 L99.4 422 L100.6 422.4 L101.8 422.9 L103.1 423.3 L104.5 423.7 L105.8 424 L107.2 424.4 L108.6 424.7 L110.1 425 L111.6 425.3 L113.2 425.5 L114.8 425.7 L116.4 425.9 L118.1 426 L119.8 426.2 L121.6 426.4 L123.4 426.5 L125.3 426.6 L127.3 426.7 L129.2 426.8 L131.3 426.8 L133.4 426.7 L135.5 426.6 L137.7 426.5 L140 426.3 L142.3 426.1 L144.7 425.9 L147.1 425.7 L149.7 425.5 L152.3 425.2 L154.9 424.9 L157.7 424.6 L160.5 424.3 L163.4 423.8 L166.3 423.4 L169.4 422.9 L172.5 422.3 L175.7 421.7 L179 421.1 L182.4 420.4 L185.9 419.8 L189.5 419.1 L193.1 418.3 L196.9 417.6 L200.8 416.8 L204.8 416.1 L208.9 415.3 L213.1 414.6 L217.4 413.8 L221.8 413 L226.4 412.1 L231.1 411.2 L235.9 410.3 L240.8 409.4 L245.9 408.4 L251.1 407.4 L256.5 406.4 L262 405.3 L267.6 404.3 L273.4 403.1 L279.4 402 L285.5 400.8 L291.8 399.6 L298.3 398.3 L304.9 397 L311.7 395.7 L318.7 394.3 L325.9 392.9 L333.3 391.4 L340.9 390 L348.7 388.4 L356.8 386.9 L365 385.2" fill="none" stroke="#222" stroke-width="1.9" stroke-dasharray="5 3"/>
<line x1="210" y1="263.5" x2="210" y2="510" stroke="#444" stroke-width="1.3" stroke-dasharray="2.6 1.8"/>
</g>
<rect x="58.8" y="263.5" width="306.2" height="246.5" fill="none" stroke="#222" stroke-width="1.6"/>
<path d="M58.8 510H63.3M58.8 489.5H61.6M58.8 469H63.3M58.8 448.5H61.6M58.8 428H63.3M58.8 407.5H61.6M58.8 387H63.3M58.8 366.5H61.6M58.8 346H63.3M58.8 325.5H61.6M58.8 305H63.3M58.8 284.5H61.6M58.8 264H63.3M92.5 510V507.2M130.3 510V505.5M168.2 510V507.2M206.1 510V505.5M244 510V507.2M281.8 510V505.5M319.7 510V507.2M357.6 510V505.5" stroke="#222" stroke-width="1.3" fill="none"/>
<text x="53.5" y="514.7" text-anchor="end" style="font-family:'Liberation Sans',sans-serif;font-size:13px;font-weight:bold" fill="#111">0</text>
<text x="53.5" y="473.7" text-anchor="end" style="font-family:'Liberation Sans',sans-serif;font-size:13px;font-weight:bold" fill="#111">1</text>
<text x="53.5" y="432.7" text-anchor="end" style="font-family:'Liberation Sans',sans-serif;font-size:13px;font-weight:bold" fill="#111">2</text>
<text x="53.5" y="391.7" text-anchor="end" style="font-family:'Liberation Sans',sans-serif;font-size:13px;font-weight:bold" fill="#111">3</text>
<text x="53.5" y="350.7" text-anchor="end" style="font-family:'Liberation Sans',sans-serif;font-size:13px;font-weight:bold" fill="#111">4</text>
<text x="53.5" y="309.7" text-anchor="end" style="font-family:'Liberation Sans',sans-serif;font-size:13px;font-weight:bold" fill="#111">5</text>
<text x="53.5" y="268.7" text-anchor="end" style="font-family:'Liberation Sans',sans-serif;font-size:13px;font-weight:bold" fill="#111">6</text>
<text x="130.3" y="526.6" text-anchor="middle" style="font-family:'Liberation Sans',sans-serif;font-size:13px;font-weight:bold" fill="#111">100</text>
<text x="206.1" y="526.6" text-anchor="middle" style="font-family:'Liberation Sans',sans-serif;font-size:13px;font-weight:bold" fill="#111">200</text>
<text x="281.8" y="526.6" text-anchor="middle" style="font-family:'Liberation Sans',sans-serif;font-size:13px;font-weight:bold" fill="#111">300</text>
<text x="357.6" y="526.6" text-anchor="middle" style="font-family:'Liberation Sans',sans-serif;font-size:13px;font-weight:bold" fill="#111">400</text>
<circle cx="210" cy="414.6" r="3.6" fill="#ffff33"/>
<circle cx="210" cy="442.5" r="3.6" fill="#ffff33"/>
<circle cx="210" cy="484.6" r="3.6" fill="#ffff33"/>
<text x="221" y="550" text-anchor="middle" style="font-family:'Liberation Sans',sans-serif;font-size:13.5px;font-weight:bold;font-style:italic" fill="#111">E<tspan dy="3" font-size="9.5">2</tspan><tspan dy="-3">/E</tspan><tspan dy="3" font-size="9.5">s</tspan></text>
<text transform="translate(33,380) rotate(-90)" text-anchor="middle" style="font-family:'Liberation Serif',serif;font-size:14px;font-style:italic" fill="#111">ε<tspan style="font-family:'Liberation Sans',sans-serif;font-style:normal"> (%)</tspan></text>
<text x="211.5" y="257.7" text-anchor="middle" style="font-family:'Liberation Sans',sans-serif;font-size:13.5px;font-weight:bold" fill="#111"><tspan font-style="italic">E</tspan><tspan dy="3" font-size="9.5">2</tspan><tspan dy="-3" font-style="italic">/E</tspan><tspan dy="3" font-size="9.5">s</tspan><tspan dy="-3">=208</tspan></text>
<path d="M278 279.1H304" stroke="#333" stroke-width="1.3" stroke-dasharray="1.3 3.2"/>
<path d="M278 294.5H304" stroke="#111" stroke-width="1.6"/>
<path d="M278 310H304" stroke="#222" stroke-width="1.6" stroke-dasharray="5 5"/>
<text x="310.3" y="283.1" style="font-family:'Liberation Sans',sans-serif;font-size:11px;font-weight:bold" fill="#111">Mode-I</text>
<text x="310.3" y="298.5" style="font-family:'Liberation Sans',sans-serif;font-size:11px;font-weight:bold" fill="#111">Mode-II</text>
<text x="310.3" y="314" style="font-family:'Liberation Sans',sans-serif;font-size:11px;font-weight:bold" fill="#111">Mode-III</text>
<text x="144" y="345.2" style="font-family:'Liberation Serif',serif;font-size:19px;font-weight:bold;font-style:italic" fill="#27ad55">M<tspan dy="3" font-size="12" font-style="normal">III</tspan></text>
<text x="146" y="445.5" style="font-family:'Liberation Serif',serif;font-size:19px;font-weight:bold;font-style:italic" fill="#7136a8">M<tspan dy="3" font-size="12" font-style="normal">II</tspan></text>
<text x="303.6" y="467.5" style="font-family:'Liberation Serif',serif;font-size:19px;font-weight:bold;font-style:italic" fill="#e6246e">M<tspan dy="3" font-size="12" font-style="normal">I</tspan></text>
<text x="174" y="409.7" style="font-family:'Liberation Sans',sans-serif;font-size:15px;font-weight:bold" fill="#111">Δ<tspan style="font-family:'Liberation Serif',serif;font-style:italic">T</tspan></text><text x="193.5" y="405.2" style="font-family:'Liberation Serif',serif;font-size:9.5px;font-weight:bold" fill="#111">III</text><text x="193.5" y="412.2" style="font-family:'Liberation Serif',serif;font-size:9.5px;font-weight:bold" fill="#111">c</text>
<text x="215.5" y="454.5" style="font-family:'Liberation Sans',sans-serif;font-size:15px;font-weight:bold" fill="#111">Δ<tspan style="font-family:'Liberation Serif',serif;font-style:italic">T</tspan></text><text x="235" y="450" style="font-family:'Liberation Serif',serif;font-size:9.5px;font-weight:bold" fill="#111">II</text><text x="235" y="457" style="font-family:'Liberation Serif',serif;font-size:9.5px;font-weight:bold" fill="#111">c</text>
<text x="215" y="502.5" style="font-family:'Liberation Sans',sans-serif;font-size:15px;font-weight:bold" fill="#111">Δ<tspan style="font-family:'Liberation Serif',serif;font-style:italic">T</tspan></text><text x="234.5" y="498" style="font-family:'Liberation Serif',serif;font-size:9.5px;font-weight:bold" fill="#111">I</text><text x="234.5" y="505" style="font-family:'Liberation Serif',serif;font-size:9.5px;font-weight:bold" fill="#111">c</text>
<text x="114.3" y="499.5" style="font-family:'Liberation Sans',sans-serif;font-size:13.5px;font-weight:bold" fill="#111">Stable region</text>
<rect x="426.9" y="255.9" width="163.9" height="163.2" fill="#e9dcb6"/>
<line x1="476.7" y1="255.9" x2="476.7" y2="419.1" stroke="#fff" stroke-width="2.4" stroke-dasharray="5.4 2.8"/>
<line x1="535.4" y1="255.9" x2="535.4" y2="419.1" stroke="#fff" stroke-width="2.4" stroke-dasharray="5.4 2.8"/>
<line x1="426.9" y1="312.3" x2="590.8" y2="312.3" stroke="#fff" stroke-width="2.4" stroke-dasharray="5.4 2.8"/>
<line x1="426.9" y1="377" x2="590.8" y2="377" stroke="#fff" stroke-width="2.4" stroke-dasharray="5.4 2.8"/>
<text x="429" y="273.5" style="font-family:'Liberation Sans',sans-serif;font-size:16px;font-weight:bold" fill="#111">Initial</text>
<text x="493.5" y="349.4" style="font-family:'Liberation Sans',sans-serif;font-size:17px;font-weight:bold" fill="#111">R<tspan dy="3.5" font-size="12">0</tspan></text>
<text x="439.6" y="406.5" style="font-family:'Liberation Sans',sans-serif;font-size:17px;font-weight:bold" fill="#111">R<tspan dy="3.5" font-size="12">2</tspan></text>
<text x="495.7" y="406.5" style="font-family:'Liberation Sans',sans-serif;font-size:17px;font-weight:bold" fill="#111">R<tspan dy="3.5" font-size="12">1</tspan></text>
<text x="587.7" y="399.5" text-anchor="end" style="font-family:'Liberation Sans',sans-serif;font-size:13.2px;font-weight:bold" fill="#111">100 μm</text>
<rect x="552.2" y="405.5" width="29.1" height="5.7" fill="#111"/>
<defs><clipPath id="cf2"><rect x="602.7" y="256.1" width="164.2" height="163.2"/></clipPath><clipPath id="cf2t"><rect x="649.4" y="256.1" width="70.4" height="56.1"/></clipPath><clipPath id="cf2b"><rect x="649.4" y="375.9" width="70.4" height="43.4"/></clipPath><clipPath id="cf2l"><rect x="602.7" y="309.2" width="49.7" height="69.7"/></clipPath><clipPath id="cf2r"><rect x="716.8" y="309.2" width="50.1" height="69.7"/></clipPath><clipPath id="cf2c"><rect x="652.4" y="312.2" width="64.4" height="63.7"/></clipPath></defs>
<rect x="602.7" y="256.1" width="164.2" height="163.2" fill="#e8e6b0"/>
<g clip-path="url(#cf2)">
<path d="M647.5 256.1l-1 4.4 -0.3 4.3 0.7 4.4 1 4.4 0.7 4.4 -0.3 4.3 -1 4.4 -0.9 4.4 -0.1 4.4 0.7 4.3 1 4.4 -0.7 0.9 -0.5 0.9 -0.6 0.6 -0.9 0.5 -0.9 0.1 0 0.5 -4.6 0.7 -4.7 -0.4 -4.6 -1.1 -4.6 -0.8 -4.7 0.1 -4.6 1 -4.6 1 -4.7 0.1 -4.6 -0.8M640.6 256.1l-0.9 3.4 -0.4 3.3 0 3.4 0.6 3.3 0.8 3.4 0.7 3.3 0.2 3.4 -0.3 3.3 -0.8 3.4 -0.8 3.3 -0.5 3.4 0.8 2.2 -1 2 -1.6 1.6 -2 1 -2.2 0.4 0 0.3 -3.4 -0.8 -3.4 -0.6 -3.4 -0.1 -3.4 0.5 -3.3 0.9 -3.4 0.7 -3.4 0.3 -3.4 -0.3 -3.4 -0.7M631.8 256.1l-0.4 2.2 -0.2 2.2 0.1 2.2 0.3 2.2 0.5 2.2 0.5 2.1 0.5 2.2 0.4 2.2 0.1 2.2 -0.1 2.2 -0.3 2.2 -1.4 3.7 -1.7 3.4 -2.6 2.6 -3.4 1.7 -3.7 0.6 0 -1.2 -2 0.2 -1.9 0.3 -2 0.5 -2 0.5 -1.9 0.4 -2 0.3 -2 0.2 -1.9 -0.1 -2 -0.2M622.6 256.1l-0.2 0.9 -0.1 0.9 -0.1 0.8 0 0.9 0 0.9 0 0.9 0.1 0.9 0.1 0.9 0.2 0.8 0.2 0.9 0.2 0.9 -0.5 5.4 -2.4 4.8 -3.9 3.9 -4.8 2.4 -5.4 0.9 0 1.2 -0.4 0 -0.3 0 -0.4 0 -0.4 0 -0.3 0 -0.4 -0.1 -0.4 0 -0.3 0 -0.4 -0.1M615.3 256.1l0.1 -0.4 0 -0.5 0.1 -0.4 0 -0.4 0 -0.4 0.1 -0.5 0 -0.4 0 -0.4 0 -0.4 0 -0.5 0 -0.4 -2.3 7 -3.3 6.4 -5 5 -6.4 3.3 -7 1.1 0 -0.3 1.2 -0.3 1.3 -0.3 1.2 -0.1 1.2 -0.2 1.3 0 1.2 0 1.2 0.2 1.3 0.1 1.2 0.3M723 256.1l-0.6 4.4 -1 4.3 -0.8 4.4 0.2 4.4 1 4.4 0.9 4.3 0.3 4.4 -0.7 4.4 -1.1 4.4 -0.6 4.3 0.3 4.4 1 0.9 0.5 0.9 0.6 0.6 0.9 0.5 0.9 0.1 0 -0.8 4.2 1 4.2 0.8 4.2 0.1 4.2 -0.7 4.2 -1 4.3 -0.6 4.2 0.3 4.2 0.9 4.2 1 4.2 0.2M729.9 256.1l0 3.4 -0.6 3.3 -0.8 3.4 -0.7 3.3 -0.2 3.4 0.3 3.3 0.8 3.4 0.8 3.3 0.5 3.4 -0.1 3.3 -0.6 3.4 -0.1 2.2 1 2 1.6 1.6 2 1 2.2 0.4 0 1.1 3.1 0.1 3.1 -0.5 3.1 -0.7 3.1 -0.7 3.1 -0.5 3 0.1 3.1 0.5 3.1 0.7 3.1 0.7 3.1 0.4M735.8 256.1l0.4 2.2 0.5 2.2 0.5 2.2 0.5 2.2 0.3 2.2 0 2.1 -0.2 2.2 -0.5 2.2 -0.5 2.2 -0.5 2.2 -0.4 2.2 1.5 3.7 1.7 3.4 2.6 2.6 3.4 1.7 3.7 0.6 0 1.2 1.8 -0.1 1.8 -0.3 1.8 -0.3 1.8 -0.5 1.8 -0.4 1.9 -0.4 1.8 -0.3 1.8 -0.1 1.8 0.1 1.8 0.2M746.7 256.1l0.1 0.9 0.1 0.9 0.1 0.8 0 0.9 0 0.9 -0.1 0.9 -0.1 0.9 -0.1 0.9 -0.2 0.8 -0.2 0.9 -0.2 0.9 0.6 5.4 2.4 4.8 3.9 3.9 4.8 2.4 5.4 0.9 0 0.2 0.4 0.1 0.3 0.1 0.4 0.1 0.4 0.1 0.3 0.1 0.4 0 0.4 0.1 0.4 0.1 0.3 0 0.4 0.1M755.7 256.1l-0.1 -0.4 0 -0.5 -0.1 -0.4 -0.1 -0.4 -0.1 -0.4 -0.1 -0.5 -0.1 -0.4 -0.1 -0.4 -0.1 -0.4 -0.1 -0.5 -0.1 -0.4 1.2 7 3.3 6.4 5 5 6.4 3.3 7 1.1 0 -0.1 -1.1 0.3 -1 0.2 -1.1 0.3 -1.1 0.2 -1.1 0.1 -1 0.1 -1.1 0.1 -1.1 0 -1 -0.1 -1.1 -0.1M647 419.3l1.1 -4.4 0.5 -4.5 -0.4 -4.4 -1.1 -4.4 -0.8 -4.4 0.1 -4.4 0.9 -4.5 1 -4.4 -1 -0.9 -0.5 -0.9 -0.6 -0.6 -0.9 -0.5 -0.9 -0.1 0 0.4 -4.6 -1.1 -4.7 -0.5 -4.6 0.6 -4.6 1.1 -4.7 0.7 -4.6 -0.4 -4.6 -1 -4.7 -0.9 -4.6 0.1M641.3 419.3l-0.7 -3 -0.7 -3.1 -0.6 -3 -0.1 -3 0.4 -3 0.6 -3.1 0.8 -3 0.5 -3 -1.5 -2.2 -1 -2 -1.6 -1.6 -2 -1 -2.2 -0.4 0 1.2 -3.4 -0.3 -3.4 -0.7 -3.4 -0.8 -3.4 -0.5 -3.3 0 -3.4 0.5 -3.4 0.9 -3.4 0.7 -3.4 0.2M633.1 419.3l0.3 -1.4 0.1 -1.5 0.1 -1.4 0 -1.4 -0.2 -1.4 -0.2 -1.4 -0.3 -1.5 -0.3 -1.4 -0.8 -3.7 -1.7 -3.4 -2.6 -2.6 -3.4 -1.7 -3.7 -0.6 0 0.7 -2 -0.4 -1.9 -0.5 -2 -0.5 -2 -0.3 -1.9 -0.2 -2 0 -2 0.3 -1.9 0.3 -2 0.5M624.3 419.3l-0.1 0.4 0 0.4 -0.1 0.3 -0.1 0.4 -0.1 0.4 0 0.3 -0.1 0.4 -0.1 0.4 -1.2 -5.4 -2.4 -4.8 -3.9 -3.9 -4.8 -2.4 -5.4 -0.9 0 -0.6 -0.4 0.1 -0.3 0.1 -0.4 0.1 -0.4 0 -0.3 0.1 -0.4 0.1 -0.4 0.1 -0.3 0.1 -0.4 0.1M613.3 419.3l-0.1 2.2 0.2 2.1 0.4 2.2 0.5 2.2 0.5 2.2 0.5 2.2 0.2 2.1 0.1 2.2 -2.3 -7 -3.3 -6.4 -5 -5 -6.4 -3.3 -7 -1.1 0 0.5 1.2 -0.3 1.3 -0.3 1.2 -0.3 1.2 -0.3 1.3 -0.2 1.2 -0.2 1.2 -0.1 1.3 0 1.2 0.1M721.5 419.3l-0.8 -4.4 0.1 -4.5 0.8 -4.4 1.1 -4.4 0.3 -4.4 -0.6 -4.4 -1.1 -4.5 -0.7 -4.4 1.3 -0.9 0.5 -0.9 0.6 -0.6 0.9 -0.5 0.9 -0.1 0 0.9 4.2 0.3 4.2 -0.6 4.2 -1.1 4.2 -0.6 4.2 0.1 4.3 0.9 4.2 0.9 4.2 0.4 4.2 -0.5 4.2 -1M728.2 419.3l-0.5 -3 -0.1 -3.1 0.4 -3 0.7 -3 0.7 -3 0.5 -3.1 0.1 -3 -0.4 -3 -0.4 -2.2 1 -2 1.6 -1.6 2 -1 2.2 -0.4 0 0.2 3.1 -0.7 3.1 -0.6 3.1 -0.1 3.1 0.4 3.1 0.7 3 0.7 3.1 0.5 3.1 0.1 3.1 -0.5 3.1 -0.7M736.7 419.3l0.4 -1.4 0.3 -1.5 0.3 -1.4 0.2 -1.4 0.1 -1.4 0 -1.4 -0.1 -1.5 -0.2 -1.4 -0.3 -3.7 1.7 -3.4 2.6 -2.6 3.4 -1.7 3.7 -0.6 0 0.1 1.8 -0.5 1.8 -0.4 1.8 -0.3 1.8 -0.1 1.8 0 1.9 0.2 1.8 0.4 1.8 0.4 1.8 0.5 1.8 0.4M746.4 419.3l-0.1 0.4 -0.1 0.4 0 0.3 -0.1 0.4 -0.1 0.4 -0.1 0.3 -0.1 0.4 -0.1 0.4 1 -5.4 2.4 -4.8 3.9 -3.9 4.8 -2.4 5.4 -0.9 0 -0.9 0.4 0.1 0.3 0.1 0.4 0 0.4 0.1 0.3 0.1 0.4 0.1 0.4 0.1 0.4 0.1 0.3 0.1 0.4 0.1M756 419.3l-0.1 2.2 -0.3 2.1 -0.5 2.2 -0.5 2.2 -0.5 2.2 -0.4 2.2 -0.1 2.1 0.1 2.2 2.2 -7 3.3 -6.4 5 -5 6.4 -3.3 7 -1.1 0 1.1 -1.1 -0.2 -1 -0.2 -1.1 -0.2 -1.1 -0.3 -1.1 -0.2 -1 -0.3 -1.1 -0.2 -1.1 -0.3 -1 -0.2 -1.1 -0.1" fill="none" stroke="#e0e060" stroke-width="1.6"/>
<path d="M645.1 253.7l-1 4.4 -0.3 4.3 0.7 4.4 1 4.4 0.7 4.4 -0.3 4.3 -1 4.4 -0.9 4.4 -0.1 4.4 0.7 4.3 1 4.4 -0.7 0.9 -0.5 0.9 -0.6 0.6 -0.9 0.5 -0.9 0.1 0 0.5 -4.6 0.7 -4.7 -0.4 -4.6 -1.1 -4.6 -0.8 -4.7 0.1 -4.6 1 -4.6 1 -4.7 0.1 -4.6 -0.8M638.2 253.7l-0.9 3.4 -0.4 3.3 0 3.4 0.6 3.3 0.8 3.4 0.7 3.3 0.2 3.4 -0.3 3.3 -0.8 3.4 -0.8 3.3 -0.5 3.4 0.8 2.2 -1 2 -1.6 1.6 -2 1 -2.2 0.4 0 0.3 -3.4 -0.8 -3.4 -0.6 -3.4 -0.1 -3.4 0.5 -3.3 0.9 -3.4 0.7 -3.4 0.3 -3.4 -0.3 -3.4 -0.7M629.4 253.7l-0.4 2.2 -0.2 2.2 0.1 2.2 0.3 2.2 0.5 2.2 0.5 2.1 0.5 2.2 0.4 2.2 0.1 2.2 -0.1 2.2 -0.3 2.2 -1.4 3.7 -1.7 3.4 -2.6 2.6 -3.4 1.7 -3.7 0.6 0 -1.2 -2 0.2 -1.9 0.3 -2 0.5 -2 0.5 -1.9 0.4 -2 0.3 -2 0.2 -1.9 -0.1 -2 -0.2M620.2 253.7l-0.2 0.9 -0.1 0.9 -0.1 0.8 0 0.9 0 0.9 0 0.9 0.1 0.9 0.1 0.9 0.2 0.8 0.2 0.9 0.2 0.9 -0.5 5.4 -2.4 4.8 -3.9 3.9 -4.8 2.4 -5.4 0.9 0 1.2 -0.4 0 -0.3 0 -0.4 0 -0.4 0 -0.3 0 -0.4 -0.1 -0.4 0 -0.3 0 -0.4 -0.1M612.9 253.7l0.1 -0.4 0 -0.5 0.1 -0.4 0 -0.4 0 -0.4 0.1 -0.5 0 -0.4 0 -0.4 0 -0.4 0 -0.5 0 -0.4 -2.3 7 -3.3 6.4 -5 5 -6.4 3.3 -7 1.1 0 -0.3 1.2 -0.3 1.3 -0.3 1.2 -0.1 1.2 -0.2 1.3 0 1.2 0 1.2 0.2 1.3 0.1 1.2 0.3M725.4 253.7l-0.6 4.4 -1 4.3 -0.8 4.4 0.2 4.4 1 4.4 0.9 4.3 0.3 4.4 -0.7 4.4 -1.1 4.4 -0.6 4.3 0.3 4.4 1 0.9 0.5 0.9 0.6 0.6 0.9 0.5 0.9 0.1 0 -0.8 4.2 1 4.2 0.8 4.2 0.1 4.2 -0.7 4.2 -1 4.3 -0.6 4.2 0.3 4.2 0.9 4.2 1 4.2 0.2M732.3 253.7l0 3.4 -0.6 3.3 -0.8 3.4 -0.7 3.3 -0.2 3.4 0.3 3.3 0.8 3.4 0.8 3.3 0.5 3.4 -0.1 3.3 -0.6 3.4 -0.1 2.2 1 2 1.6 1.6 2 1 2.2 0.4 0 1.1 3.1 0.1 3.1 -0.5 3.1 -0.7 3.1 -0.7 3.1 -0.5 3 0.1 3.1 0.5 3.1 0.7 3.1 0.7 3.1 0.4M738.2 253.7l0.4 2.2 0.5 2.2 0.5 2.2 0.5 2.2 0.3 2.2 0 2.1 -0.2 2.2 -0.5 2.2 -0.5 2.2 -0.5 2.2 -0.4 2.2 1.5 3.7 1.7 3.4 2.6 2.6 3.4 1.7 3.7 0.6 0 1.2 1.8 -0.1 1.8 -0.3 1.8 -0.3 1.8 -0.5 1.8 -0.4 1.9 -0.4 1.8 -0.3 1.8 -0.1 1.8 0.1 1.8 0.2M749.1 253.7l0.1 0.9 0.1 0.9 0.1 0.8 0 0.9 0 0.9 -0.1 0.9 -0.1 0.9 -0.1 0.9 -0.2 0.8 -0.2 0.9 -0.2 0.9 0.6 5.4 2.4 4.8 3.9 3.9 4.8 2.4 5.4 0.9 0 0.2 0.4 0.1 0.3 0.1 0.4 0.1 0.4 0.1 0.3 0.1 0.4 0 0.4 0.1 0.4 0.1 0.3 0 0.4 0.1M758.1 253.7l-0.1 -0.4 0 -0.5 -0.1 -0.4 -0.1 -0.4 -0.1 -0.4 -0.1 -0.5 -0.1 -0.4 -0.1 -0.4 -0.1 -0.4 -0.1 -0.5 -0.1 -0.4 1.2 7 3.3 6.4 5 5 6.4 3.3 7 1.1 0 -0.1 -1.1 0.3 -1 0.2 -1.1 0.3 -1.1 0.2 -1.1 0.1 -1 0.1 -1.1 0.1 -1.1 0 -1 -0.1 -1.1 -0.1M644.6 421.7l1.1 -4.4 0.5 -4.5 -0.4 -4.4 -1.1 -4.4 -0.8 -4.4 0.1 -4.5 0.9 -4.4 1 -4.4 -1 -0.9 -0.5 -0.9 -0.6 -0.6 -0.9 -0.5 -0.9 -0.1 0 0.4 -4.6 -1.1 -4.7 -0.5 -4.6 0.6 -4.6 1.1 -4.7 0.7 -4.6 -0.4 -4.6 -1 -4.7 -0.9 -4.6 0.1M638.9 421.7l-0.7 -3 -0.7 -3.1 -0.6 -3 -0.1 -3 0.4 -3 0.6 -3.1 0.8 -3 0.5 -3 -1.5 -2.2 -1 -2 -1.6 -1.6 -2 -1 -2.2 -0.4 0 1.2 -3.4 -0.3 -3.4 -0.7 -3.4 -0.8 -3.4 -0.5 -3.3 0 -3.4 0.5 -3.4 0.9 -3.4 0.7 -3.4 0.2M630.7 421.7l0.3 -1.4 0.1 -1.5 0.1 -1.4 0 -1.4 -0.2 -1.4 -0.2 -1.5 -0.3 -1.4 -0.3 -1.4 -0.8 -3.7 -1.7 -3.4 -2.6 -2.6 -3.4 -1.7 -3.7 -0.6 0 0.7 -2 -0.4 -1.9 -0.5 -2 -0.5 -2 -0.3 -1.9 -0.2 -2 0 -2 0.3 -1.9 0.3 -2 0.5M621.9 421.7l-0.1 0.4 0 0.3 -0.1 0.4 -0.1 0.4 -0.1 0.4 0 0.3 -0.1 0.4 -0.1 0.4 -1.2 -5.4 -2.4 -4.8 -3.9 -3.9 -4.8 -2.4 -5.4 -0.9 0 -0.6 -0.4 0.1 -0.3 0.1 -0.4 0.1 -0.4 0 -0.3 0.1 -0.4 0.1 -0.4 0.1 -0.3 0.1 -0.4 0.1M610.9 421.7l-0.1 2.2 0.2 2.1 0.4 2.2 0.5 2.2 0.5 2.2 0.5 2.2 0.2 2.1 0.1 2.2 -2.3 -7 -3.3 -6.4 -5 -5 -6.4 -3.3 -7 -1.1 0 0.5 1.2 -0.3 1.3 -0.3 1.2 -0.3 1.2 -0.3 1.3 -0.2 1.2 -0.2 1.2 -0.1 1.3 0 1.2 0.1M723.9 421.7l-0.8 -4.4 0.1 -4.5 0.8 -4.4 1.1 -4.4 0.3 -4.4 -0.6 -4.5 -1.1 -4.4 -0.7 -4.4 1.3 -0.9 0.5 -0.9 0.6 -0.6 0.9 -0.5 0.9 -0.1 0 0.9 4.2 0.3 4.2 -0.6 4.2 -1.1 4.2 -0.6 4.2 0.1 4.3 0.9 4.2 0.9 4.2 0.4 4.2 -0.5 4.2 -1M730.6 421.7l-0.5 -3 -0.1 -3.1 0.4 -3 0.7 -3 0.7 -3 0.5 -3.1 0.1 -3 -0.4 -3 -0.4 -2.2 1 -2 1.6 -1.6 2 -1 2.2 -0.4 0 0.2 3.1 -0.7 3.1 -0.6 3.1 -0.1 3.1 0.4 3.1 0.7 3 0.7 3.1 0.5 3.1 0.1 3.1 -0.5 3.1 -0.7M739.1 421.7l0.4 -1.4 0.3 -1.5 0.3 -1.4 0.2 -1.4 0.1 -1.4 0 -1.5 -0.1 -1.4 -0.2 -1.4 -0.3 -3.7 1.7 -3.4 2.6 -2.6 3.4 -1.7 3.7 -0.6 0 0.1 1.8 -0.5 1.8 -0.4 1.8 -0.3 1.8 -0.1 1.8 0 1.9 0.2 1.8 0.4 1.8 0.4 1.8 0.5 1.8 0.4M748.8 421.7l-0.1 0.4 -0.1 0.3 0 0.4 -0.1 0.4 -0.1 0.4 -0.1 0.3 -0.1 0.4 -0.1 0.4 1 -5.4 2.4 -4.8 3.9 -3.9 4.8 -2.4 5.4 -0.9 0 -0.9 0.4 0.1 0.3 0.1 0.4 0 0.4 0.1 0.3 0.1 0.4 0.1 0.4 0.1 0.4 0.1 0.3 0.1 0.4 0.1M758.4 421.7l-0.1 2.2 -0.3 2.1 -0.5 2.2 -0.5 2.2 -0.5 2.2 -0.4 2.2 -0.1 2.1 0.1 2.2 2.2 -7 3.3 -6.4 5 -5 6.4 -3.3 7 -1.1 0 1.1 -1.1 -0.2 -1 -0.2 -1.1 -0.2 -1.1 -0.3 -1.1 -0.2 -1 -0.3 -1.1 -0.2 -1.1 -0.3 -1 -0.2 -1.1 -0.1" fill="none" stroke="#ede4e4" stroke-width="1.6"/>
</g>
<g clip-path="url(#cf2t)">
<path d="M642.6 256.1l0.7 4.7 0.7 4.7 0.3 4.6 0 4.7 -0.1 4.7 -0.2 4.6 -0.3 4.7 -0.6 4.7 -0.7 4.7 -0.3 4.7 0.3 4.6 0.6 4.7M650.1 256.1l0.1 4.7 -0.3 4.7 -0.6 4.6 -0.5 4.7 -0.2 4.7 0.1 4.6 0.2 4.7 0.2 4.7 0.3 4.7 0.4 4.7 0.4 4.6 0.1 4.7M654.7 256.1l-0.1 4.7 -0.1 4.7 0.3 4.6 0.6 4.7 0.7 4.7 0.3 4.6 0 4.7 -0.4 4.7 -0.3 4.7 -0.3 4.7 -0.4 4.6 -0.4 4.7M660.8 256.1l0.4 4.7 0.4 4.7 0.6 4.6 0.5 4.7 0 4.7 -0.6 4.6 -0.8 4.7 -0.6 4.7 -0.2 4.7 0 4.7 0 4.6 0.1 4.7M667.2 256.1l-0.4 4.7 -0.3 4.7 -0.2 4.6 -0.2 4.7 0.4 4.7 0.8 4.6 1 4.7 0.5 4.7 -0.1 4.7 -0.4 4.7 -0.5 4.6 -0.3 4.7M671.9 256.1l0.8 4.7 0.7 4.7 0.5 4.6 0.4 4.7 0.5 4.7 0.2 4.6 -0.4 4.7 -1 4.7 -1.1 4.7 -0.6 4.7 0.1 4.6 0.3 4.7M680.8 256.1l0.2 4.7 -0.4 4.7 -0.9 4.6 -0.7 4.7 -0.4 4.7 -0.2 4.6 -0.2 4.7 0 4.7 0.4 4.7 1 4.7 0.9 4.6 0.4 4.7M684.3 256.1l0.1 4.7 0.2 4.7 0.4 4.6 0.7 4.7 0.8 4.7 0.4 4.6 -0.2 4.7 -0.7 4.7 -0.7 4.7 -0.4 4.7 -0.3 4.6 -0.3 4.7M691.2 256.1l0.5 4.7 0.5 4.7 0.6 4.6 0.3 4.7 -0.4 4.7 -1 4.6 -1.1 4.7 -0.6 4.7 0 4.7 0.3 4.7 0.2 4.6 0.4 4.7M698.6 256.1l0.6 4.7 -0.2 4.7 -0.8 4.6 -0.8 4.7 -0.5 4.7 -0.4 4.6 -0.4 4.7 -0.3 4.7 0.3 4.7 1 4.7 1.1 4.6 0.7 4.7M704.4 256.1l-0.6 4.7 -0.8 4.7 -0.5 4.6 -0.1 4.7 0.2 4.7 0.2 4.6 0.2 4.7 0.5 4.7 0.7 4.7 0.4 4.7 0 4.6 -0.5 4.7M709.5 256.1l-0.5 4.7 -0.5 4.7 -0.4 4.6 -0.3 4.7 0.2 4.7 0.9 4.6 1.2 4.7 0.8 4.7 0.1 4.7 -0.4 4.7 -0.4 4.6 -0.4 4.7M715.3 256.1l-0.6 4.7 -0.2 4.7 0.1 4.6 0.4 4.7 0.3 4.7 0.2 4.6 0.3 4.7 0.4 4.7 0.1 4.7 -0.2 4.7 -0.5 4.6 -0.6 4.7M720.8 256.1l0.3 4.7 0.4 4.7 0.5 4.6 0.6 4.7 0.1 4.7 -0.4 4.6 -0.8 4.7 -0.7 4.7 -0.2 4.7 -0.1 4.7 0 4.6 0.1 4.7M728.4 256.1l-0.3 4.7 -0.3 4.7 -0.4 4.6 -0.7 4.7 -0.6 4.7 -0.1 4.6 0.5 4.7 0.8 4.7 0.6 4.7 0.3 4.7 0.1 4.6 0.1 4.7" fill="none" stroke="#b8a8b0" stroke-width="1.6"/>
<path d="M644.6 256.1l0.7 4.7 0.7 4.7 0.3 4.6 0 4.7 -0.1 4.7 -0.2 4.6 -0.3 4.7 -0.6 4.7 -0.7 4.7 -0.3 4.7 0.3 4.6 0.6 4.7M652.1 256.1l0.1 4.7 -0.3 4.7 -0.6 4.6 -0.5 4.7 -0.2 4.7 0.1 4.6 0.2 4.7 0.2 4.7 0.3 4.7 0.4 4.7 0.4 4.6 0.1 4.7M656.7 256.1l-0.1 4.7 -0.1 4.7 0.3 4.6 0.6 4.7 0.7 4.7 0.3 4.6 0 4.7 -0.4 4.7 -0.3 4.7 -0.3 4.7 -0.4 4.6 -0.4 4.7M662.8 256.1l0.4 4.7 0.4 4.7 0.6 4.6 0.5 4.7 0 4.7 -0.6 4.6 -0.8 4.7 -0.6 4.7 -0.2 4.7 0 4.7 0 4.6 0.1 4.7M669.2 256.1l-0.4 4.7 -0.3 4.7 -0.2 4.6 -0.2 4.7 0.4 4.7 0.8 4.6 1 4.7 0.5 4.7 -0.1 4.7 -0.4 4.7 -0.5 4.6 -0.3 4.7M673.9 256.1l0.8 4.7 0.7 4.7 0.5 4.6 0.4 4.7 0.5 4.7 0.2 4.6 -0.4 4.7 -1 4.7 -1.1 4.7 -0.6 4.7 0.1 4.6 0.3 4.7M682.8 256.1l0.2 4.7 -0.4 4.7 -0.9 4.6 -0.7 4.7 -0.4 4.7 -0.2 4.6 -0.2 4.7 0 4.7 0.4 4.7 1 4.7 0.9 4.6 0.4 4.7M686.3 256.1l0.1 4.7 0.2 4.7 0.4 4.6 0.7 4.7 0.8 4.7 0.4 4.6 -0.2 4.7 -0.7 4.7 -0.7 4.7 -0.4 4.7 -0.3 4.6 -0.3 4.7M693.2 256.1l0.5 4.7 0.5 4.7 0.6 4.6 0.3 4.7 -0.4 4.7 -1 4.6 -1.1 4.7 -0.6 4.7 0 4.7 0.3 4.7 0.2 4.6 0.4 4.7M700.6 256.1l0.6 4.7 -0.2 4.7 -0.8 4.6 -0.8 4.7 -0.5 4.7 -0.4 4.6 -0.4 4.7 -0.3 4.7 0.3 4.7 1 4.7 1.1 4.6 0.7 4.7M706.4 256.1l-0.6 4.7 -0.8 4.7 -0.5 4.6 -0.1 4.7 0.2 4.7 0.2 4.6 0.2 4.7 0.5 4.7 0.7 4.7 0.4 4.7 0 4.6 -0.5 4.7M711.5 256.1l-0.5 4.7 -0.5 4.7 -0.4 4.6 -0.3 4.7 0.2 4.7 0.9 4.6 1.2 4.7 0.8 4.7 0.1 4.7 -0.4 4.7 -0.4 4.6 -0.4 4.7M717.3 256.1l-0.6 4.7 -0.2 4.7 0.1 4.6 0.4 4.7 0.3 4.7 0.2 4.6 0.3 4.7 0.4 4.7 0.1 4.7 -0.2 4.7 -0.5 4.6 -0.6 4.7M722.8 256.1l0.3 4.7 0.4 4.7 0.5 4.6 0.6 4.7 0.1 4.7 -0.4 4.6 -0.8 4.7 -0.7 4.7 -0.2 4.7 -0.1 4.7 0 4.6 0.1 4.7M730.4 256.1l-0.3 4.7 -0.3 4.7 -0.4 4.6 -0.7 4.7 -0.6 4.7 -0.1 4.6 0.5 4.7 0.8 4.7 0.6 4.7 0.3 4.7 0.1 4.6 0.1 4.7" fill="none" stroke="#14140c" stroke-width="2.3"/>
<path d="M646.7 256.1l0.7 4.7 0.7 4.7 0.3 4.6 0 4.7 -0.1 4.7 -0.2 4.6 -0.3 4.7 -0.6 4.7 -0.7 4.7 -0.3 4.7 0.3 4.6 0.6 4.7M654.2 256.1l0.1 4.7 -0.3 4.7 -0.6 4.6 -0.5 4.7 -0.2 4.7 0.1 4.6 0.2 4.7 0.2 4.7 0.3 4.7 0.4 4.7 0.4 4.6 0.1 4.7M658.8 256.1l-0.1 4.7 -0.1 4.7 0.3 4.6 0.6 4.7 0.7 4.7 0.3 4.6 0 4.7 -0.4 4.7 -0.3 4.7 -0.3 4.7 -0.4 4.6 -0.4 4.7M664.9 256.1l0.4 4.7 0.4 4.7 0.6 4.6 0.5 4.7 0 4.7 -0.6 4.6 -0.8 4.7 -0.6 4.7 -0.2 4.7 0 4.7 0 4.6 0.1 4.7M671.3 256.1l-0.4 4.7 -0.3 4.7 -0.2 4.6 -0.2 4.7 0.4 4.7 0.8 4.6 1 4.7 0.5 4.7 -0.1 4.7 -0.4 4.7 -0.5 4.6 -0.3 4.7M676 256.1l0.8 4.7 0.7 4.7 0.5 4.6 0.4 4.7 0.5 4.7 0.2 4.6 -0.4 4.7 -1 4.7 -1.1 4.7 -0.6 4.7 0.1 4.6 0.3 4.7M684.9 256.1l0.2 4.7 -0.4 4.7 -0.9 4.6 -0.7 4.7 -0.4 4.7 -0.2 4.6 -0.2 4.7 0 4.7 0.4 4.7 1 4.7 0.9 4.6 0.4 4.7M688.4 256.1l0.1 4.7 0.2 4.7 0.4 4.6 0.7 4.7 0.8 4.7 0.4 4.6 -0.2 4.7 -0.7 4.7 -0.7 4.7 -0.4 4.7 -0.3 4.6 -0.3 4.7M695.3 256.1l0.5 4.7 0.5 4.7 0.6 4.6 0.3 4.7 -0.4 4.7 -1 4.6 -1.1 4.7 -0.6 4.7 0 4.7 0.3 4.7 0.2 4.6 0.4 4.7M702.7 256.1l0.6 4.7 -0.2 4.7 -0.8 4.6 -0.8 4.7 -0.5 4.7 -0.4 4.6 -0.4 4.7 -0.3 4.7 0.3 4.7 1 4.7 1.1 4.6 0.7 4.7M708.5 256.1l-0.6 4.7 -0.8 4.7 -0.5 4.6 -0.1 4.7 0.2 4.7 0.2 4.6 0.2 4.7 0.5 4.7 0.7 4.7 0.4 4.7 0 4.6 -0.5 4.7M713.6 256.1l-0.5 4.7 -0.5 4.7 -0.4 4.6 -0.3 4.7 0.2 4.7 0.9 4.6 1.2 4.7 0.8 4.7 0.1 4.7 -0.4 4.7 -0.4 4.6 -0.4 4.7M719.4 256.1l-0.6 4.7 -0.2 4.7 0.1 4.6 0.4 4.7 0.3 4.7 0.2 4.6 0.3 4.7 0.4 4.7 0.1 4.7 -0.2 4.7 -0.5 4.6 -0.6 4.7M724.9 256.1l0.3 4.7 0.4 4.7 0.5 4.6 0.6 4.7 0.1 4.7 -0.4 4.6 -0.8 4.7 -0.7 4.7 -0.2 4.7 -0.1 4.7 0 4.6 0.1 4.7M732.5 256.1l-0.3 4.7 -0.3 4.7 -0.4 4.6 -0.7 4.7 -0.6 4.7 -0.1 4.6 0.5 4.7 0.8 4.7 0.6 4.7 0.3 4.7 0.1 4.6 0.1 4.7" fill="none" stroke="#dede48" stroke-width="1.9"/>
</g>
<g clip-path="url(#cf2b)">
<path d="M644.1 375.9l0.2 4.8 0 4.8 -0.1 4.9 -0.2 4.8 -0.4 4.8 -0.7 4.8 -0.7 4.9 -0.1 4.8 0.5 4.8M649.5 375.9l0.5 4.8 0.2 4.8 0.1 4.9 0.1 4.8 -0.3 4.8 -0.7 4.8 -0.8 4.9 -0.4 4.8 0.1 4.8M653.9 375.9l0.5 4.8 0.5 4.8 0.5 4.9 0.6 4.8 0.7 4.8 0.4 4.8 -0.4 4.9 -0.9 4.8 -1 4.8M661.5 375.9l0.5 4.8 0.5 4.8 0 4.9 -0.5 4.8 -0.7 4.8 -0.5 4.8 -0.1 4.9 -0.1 4.8 0 4.8M667.6 375.9l0.3 4.8 0.2 4.8 0.1 4.9 0 4.8 -0.3 4.8 -0.6 4.8 -0.7 4.9 -0.2 4.8 0.2 4.8M671.9 375.9l0.6 4.8 0.5 4.8 0.4 4.9 0.7 4.8 0.7 4.8 0.3 4.8 -0.4 4.9 -1 4.8 -1 4.8M678.8 375.9l-0.5 4.8 0 4.8 0.4 4.9 0.7 4.8 0.6 4.8 0.2 4.8 0 4.9 0 4.8 -0.2 4.8M685.6 375.9l-0.4 4.8 -0.6 4.8 -0.7 4.9 -0.2 4.8 0.6 4.8 1.1 4.8 1 4.9 0.4 4.8 -0.1 4.8M690.4 375.9l-0.2 4.8 0.1 4.8 0.7 4.9 1 4.8 0.7 4.8 0.1 4.8 -0.4 4.9 -0.5 4.8 -0.5 4.8M697.2 375.9l-0.4 4.8 -0.1 4.8 0 4.9 0 4.8 0.2 4.8 0.5 4.8 0.6 4.9 0.4 4.8 -0.1 4.8M705.2 375.9l-0.7 4.8 -1.2 4.8 -0.8 4.9 -0.3 4.8 -0.1 4.8 0 4.8 0.3 4.9 0.8 4.8 1.1 4.8M708.3 375.9l0 4.8 0.5 4.8 0.5 4.9 0.4 4.8 0.3 4.8 0.3 4.8 0.1 4.9 -0.2 4.8 -0.7 4.8M713.5 375.9l0.4 4.8 0.9 4.8 0.9 4.9 0.5 4.8 0.3 4.8 0.3 4.8 0.1 4.9 -0.6 4.8 -1.2 4.8M720.2 375.9l0 4.8 0.4 4.8 0.6 4.9 0.4 4.8 0.4 4.8 0.3 4.8 0.2 4.9 -0.1 4.8 -0.7 4.8M727.7 375.9l-0.6 4.8 -0.2 4.8 -0.1 4.9 -0.1 4.8 0 4.8 0.3 4.8 0.6 4.9 0.6 4.8 0.2 4.8" fill="none" stroke="#b8a8b0" stroke-width="1.6"/>
<path d="M646.1 375.9l0.2 4.8 0 4.8 -0.1 4.9 -0.2 4.8 -0.4 4.8 -0.7 4.8 -0.7 4.9 -0.1 4.8 0.5 4.8M651.5 375.9l0.5 4.8 0.2 4.8 0.1 4.9 0.1 4.8 -0.3 4.8 -0.7 4.8 -0.8 4.9 -0.4 4.8 0.1 4.8M655.9 375.9l0.5 4.8 0.5 4.8 0.5 4.9 0.6 4.8 0.7 4.8 0.4 4.8 -0.4 4.9 -0.9 4.8 -1 4.8M663.5 375.9l0.5 4.8 0.5 4.8 0 4.9 -0.5 4.8 -0.7 4.8 -0.5 4.8 -0.1 4.9 -0.1 4.8 0 4.8M669.6 375.9l0.3 4.8 0.2 4.8 0.1 4.9 0 4.8 -0.3 4.8 -0.6 4.8 -0.7 4.9 -0.2 4.8 0.2 4.8M673.9 375.9l0.6 4.8 0.5 4.8 0.4 4.9 0.7 4.8 0.7 4.8 0.3 4.8 -0.4 4.9 -1 4.8 -1 4.8M680.8 375.9l-0.5 4.8 0 4.8 0.4 4.9 0.7 4.8 0.6 4.8 0.2 4.8 0 4.9 0 4.8 -0.2 4.8M687.6 375.9l-0.4 4.8 -0.6 4.8 -0.7 4.9 -0.2 4.8 0.6 4.8 1.1 4.8 1 4.9 0.4 4.8 -0.1 4.8M692.4 375.9l-0.2 4.8 0.1 4.8 0.7 4.9 1 4.8 0.7 4.8 0.1 4.8 -0.4 4.9 -0.5 4.8 -0.5 4.8M699.2 375.9l-0.4 4.8 -0.1 4.8 0 4.9 0 4.8 0.2 4.8 0.5 4.8 0.6 4.9 0.4 4.8 -0.1 4.8M707.2 375.9l-0.7 4.8 -1.2 4.8 -0.8 4.9 -0.3 4.8 -0.1 4.8 0 4.8 0.3 4.9 0.8 4.8 1.1 4.8M710.3 375.9l0 4.8 0.5 4.8 0.5 4.9 0.4 4.8 0.3 4.8 0.3 4.8 0.1 4.9 -0.2 4.8 -0.7 4.8M715.5 375.9l0.4 4.8 0.9 4.8 0.9 4.9 0.5 4.8 0.3 4.8 0.3 4.8 0.1 4.9 -0.6 4.8 -1.2 4.8M722.2 375.9l0 4.8 0.4 4.8 0.6 4.9 0.4 4.8 0.4 4.8 0.3 4.8 0.2 4.9 -0.1 4.8 -0.7 4.8M729.7 375.9l-0.6 4.8 -0.2 4.8 -0.1 4.9 -0.1 4.8 0 4.8 0.3 4.8 0.6 4.9 0.6 4.8 0.2 4.8" fill="none" stroke="#14140c" stroke-width="2.3"/>
<path d="M648.2 375.9l0.2 4.8 0 4.8 -0.1 4.9 -0.2 4.8 -0.4 4.8 -0.7 4.8 -0.7 4.9 -0.1 4.8 0.5 4.8M653.6 375.9l0.5 4.8 0.2 4.8 0.1 4.9 0.1 4.8 -0.3 4.8 -0.7 4.8 -0.8 4.9 -0.4 4.8 0.1 4.8M658 375.9l0.5 4.8 0.5 4.8 0.5 4.9 0.6 4.8 0.7 4.8 0.4 4.8 -0.4 4.9 -0.9 4.8 -1 4.8M665.6 375.9l0.5 4.8 0.5 4.8 0 4.9 -0.5 4.8 -0.7 4.8 -0.5 4.8 -0.1 4.9 -0.1 4.8 0 4.8M671.7 375.9l0.3 4.8 0.2 4.8 0.1 4.9 0 4.8 -0.3 4.8 -0.6 4.8 -0.7 4.9 -0.2 4.8 0.2 4.8M676 375.9l0.6 4.8 0.5 4.8 0.4 4.9 0.7 4.8 0.7 4.8 0.3 4.8 -0.4 4.9 -1 4.8 -1 4.8M682.9 375.9l-0.5 4.8 0 4.8 0.4 4.9 0.7 4.8 0.6 4.8 0.2 4.8 0 4.9 0 4.8 -0.2 4.8M689.7 375.9l-0.4 4.8 -0.6 4.8 -0.7 4.9 -0.2 4.8 0.6 4.8 1.1 4.8 1 4.9 0.4 4.8 -0.1 4.8M694.5 375.9l-0.2 4.8 0.1 4.8 0.7 4.9 1 4.8 0.7 4.8 0.1 4.8 -0.4 4.9 -0.5 4.8 -0.5 4.8M701.3 375.9l-0.4 4.8 -0.1 4.8 0 4.9 0 4.8 0.2 4.8 0.5 4.8 0.6 4.9 0.4 4.8 -0.1 4.8M709.3 375.9l-0.7 4.8 -1.2 4.8 -0.8 4.9 -0.3 4.8 -0.1 4.8 0 4.8 0.3 4.9 0.8 4.8 1.1 4.8M712.4 375.9l0 4.8 0.5 4.8 0.5 4.9 0.4 4.8 0.3 4.8 0.3 4.8 0.1 4.9 -0.2 4.8 -0.7 4.8M717.6 375.9l0.4 4.8 0.9 4.8 0.9 4.9 0.5 4.8 0.3 4.8 0.3 4.8 0.1 4.9 -0.6 4.8 -1.2 4.8M724.3 375.9l0 4.8 0.4 4.8 0.6 4.9 0.4 4.8 0.4 4.8 0.3 4.8 0.2 4.9 -0.1 4.8 -0.7 4.8M731.8 375.9l-0.6 4.8 -0.2 4.8 -0.1 4.9 -0.1 4.8 0 4.8 0.3 4.8 0.6 4.9 0.6 4.8 0.2 4.8" fill="none" stroke="#dede48" stroke-width="1.9"/>
</g>
<g clip-path="url(#cf2l)">
<path d="M602.7 304.7l5 -0.5 4.9 -0.4 5 -0.1 5 0.7 4.9 1.2 5 0.9 5 0.2 5 -0.4 4.9 -0.3 5 -0.4M602.7 311.4l5 1 4.9 0.6 5 0.3 5 0.3 4.9 0.1 5 -0.6 5 -1.1 5 -1.2 4.9 -0.4 5 0.4M602.7 318.7l5 1.2 4.9 1 5 0.1 5 -0.6 4.9 -0.8 5 -0.6 5 -0.6 5 -0.6 4.9 -0.4 5 0.4M602.7 325.9l5 -0.4 4.9 -0.2 5 0.2 5 0.6 4.9 0.5 5 0.3 5 0 5 -0.1 4.9 -0.1 5 -0.4M602.7 333.7l5 -0.8 4.9 -0.5 5 -0.1 5 -0.1 4.9 0 5 0.5 5 0.9 5 0.8 4.9 0.2 5 -0.4M602.7 340.2l5 -0.7 4.9 -0.4 5 0.2 5 0.5 4.9 0.4 5 0.3 5 0.3 5 0.3 4.9 0 5 -0.4M602.7 348.9l5 -0.3 4.9 -0.9 5 -0.8 5 -0.4 4.9 -0.3 5 -0.4 5 0.1 5 0.7 4.9 1.1 5 0.9M602.7 354.9l5 0.2 4.9 -0.1 5 -0.4 5 -0.3 4.9 -0.3 5 -0.3 5 -0.4 5 0 4.9 0.5 5 0.6M602.7 360.9l5 -0.4 4.9 -0.1 5 0.3 5 0.3 4.9 0.3 5 0.2 5 0.3 5 0.1 4.9 -0.1 5 -0.5M602.7 367.3l5 0.2 4.9 0.7 5 0.7 5 0.3 4.9 -0.2 5 -0.3 5 -0.3 5 -0.3 4.9 -0.4 5 -0.5M602.7 375l5 0.5 4.9 0.2 5 0.3 5 0.2 4.9 -0.2 5 -0.6 5 -0.7 5 -0.5 4.9 0 5 0.4M602.7 381.3l5 1.1 4.9 0.8 5 0.3 5 -0.2 4.9 -0.3 5 -0.3 5 -0.6 5 -0.9 4.9 -0.6 5 0.2M602.7 390.6l5 0 4.9 -0.5 5 -0.5 5 -0.4 4.9 -0.6 5 -0.7 5 -0.3 5 0.5 4.9 1 5 0.9" fill="none" stroke="#b8a8b0" stroke-width="1.6"/>
<path d="M602.7 306.7l5 -0.5 4.9 -0.4 5 -0.1 5 0.7 4.9 1.2 5 0.9 5 0.2 5 -0.4 4.9 -0.3 5 -0.4M602.7 313.4l5 1 4.9 0.6 5 0.3 5 0.3 4.9 0.1 5 -0.6 5 -1.1 5 -1.2 4.9 -0.4 5 0.4M602.7 320.7l5 1.2 4.9 1 5 0.1 5 -0.6 4.9 -0.8 5 -0.6 5 -0.6 5 -0.6 4.9 -0.4 5 0.4M602.7 327.9l5 -0.4 4.9 -0.2 5 0.2 5 0.6 4.9 0.5 5 0.3 5 0 5 -0.1 4.9 -0.1 5 -0.4M602.7 335.7l5 -0.8 4.9 -0.5 5 -0.1 5 -0.1 4.9 0 5 0.5 5 0.9 5 0.8 4.9 0.2 5 -0.4M602.7 342.2l5 -0.7 4.9 -0.4 5 0.2 5 0.5 4.9 0.4 5 0.3 5 0.3 5 0.3 4.9 0 5 -0.4M602.7 350.9l5 -0.3 4.9 -0.9 5 -0.8 5 -0.4 4.9 -0.3 5 -0.4 5 0.1 5 0.7 4.9 1.1 5 0.9M602.7 356.9l5 0.2 4.9 -0.1 5 -0.4 5 -0.3 4.9 -0.3 5 -0.3 5 -0.4 5 0 4.9 0.5 5 0.6M602.7 362.9l5 -0.4 4.9 -0.1 5 0.3 5 0.3 4.9 0.3 5 0.2 5 0.3 5 0.1 4.9 -0.1 5 -0.5M602.7 369.3l5 0.2 4.9 0.7 5 0.7 5 0.3 4.9 -0.2 5 -0.3 5 -0.3 5 -0.3 4.9 -0.4 5 -0.5M602.7 377l5 0.5 4.9 0.2 5 0.3 5 0.2 4.9 -0.2 5 -0.6 5 -0.7 5 -0.5 4.9 0 5 0.4M602.7 383.3l5 1.1 4.9 0.8 5 0.3 5 -0.2 4.9 -0.3 5 -0.3 5 -0.6 5 -0.9 4.9 -0.6 5 0.2M602.7 392.6l5 0 4.9 -0.5 5 -0.5 5 -0.4 4.9 -0.6 5 -0.7 5 -0.3 5 0.5 4.9 1 5 0.9" fill="none" stroke="#14140c" stroke-width="2.3"/>
<path d="M602.7 308.8l5 -0.5 4.9 -0.4 5 -0.1 5 0.7 4.9 1.2 5 0.9 5 0.2 5 -0.4 4.9 -0.3 5 -0.4M602.7 315.5l5 1 4.9 0.6 5 0.3 5 0.3 4.9 0.1 5 -0.6 5 -1.1 5 -1.2 4.9 -0.4 5 0.4M602.7 322.8l5 1.2 4.9 1 5 0.1 5 -0.6 4.9 -0.8 5 -0.6 5 -0.6 5 -0.6 4.9 -0.4 5 0.4M602.7 330l5 -0.4 4.9 -0.2 5 0.2 5 0.6 4.9 0.5 5 0.3 5 0 5 -0.1 4.9 -0.1 5 -0.4M602.7 337.8l5 -0.8 4.9 -0.5 5 -0.1 5 -0.1 4.9 0 5 0.5 5 0.9 5 0.8 4.9 0.2 5 -0.4M602.7 344.3l5 -0.7 4.9 -0.4 5 0.2 5 0.5 4.9 0.4 5 0.3 5 0.3 5 0.3 4.9 0 5 -0.4M602.7 353l5 -0.3 4.9 -0.9 5 -0.8 5 -0.4 4.9 -0.3 5 -0.4 5 0.1 5 0.7 4.9 1.1 5 0.9M602.7 359l5 0.2 4.9 -0.1 5 -0.4 5 -0.3 4.9 -0.3 5 -0.3 5 -0.4 5 0 4.9 0.5 5 0.6M602.7 365l5 -0.4 4.9 -0.1 5 0.3 5 0.3 4.9 0.3 5 0.2 5 0.3 5 0.1 4.9 -0.1 5 -0.5M602.7 371.4l5 0.2 4.9 0.7 5 0.7 5 0.3 4.9 -0.2 5 -0.3 5 -0.3 5 -0.3 4.9 -0.4 5 -0.5M602.7 379.1l5 0.5 4.9 0.2 5 0.3 5 0.2 4.9 -0.2 5 -0.6 5 -0.7 5 -0.5 4.9 0 5 0.4M602.7 385.4l5 1.1 4.9 0.8 5 0.3 5 -0.2 4.9 -0.3 5 -0.3 5 -0.6 5 -0.9 4.9 -0.6 5 0.2M602.7 394.7l5 0 4.9 -0.5 5 -0.5 5 -0.4 4.9 -0.6 5 -0.7 5 -0.3 5 0.5 4.9 1 5 0.9" fill="none" stroke="#dede48" stroke-width="1.9"/>
</g>
<g clip-path="url(#cf2r)">
<path d="M716.8 303.9l4.6 0.6 4.5 0.8 4.6 0.6 4.5 0.2 4.6 0.1 4.5 -0.1 4.6 -0.1 4.5 -0.4 4.6 -0.8 4.5 -0.7 4.6 -0.3M716.8 313.4l4.6 0 4.5 -0.6 4.6 -0.9 4.5 -0.9 4.6 -0.3 4.5 0.3 4.6 0.5 4.5 0.4 4.6 0.4 4.5 0.5 4.6 0.6M716.8 319l4.6 -0.4 4.5 -0.2 4.6 -0.1 4.5 0 4.6 0.2 4.5 0.5 4.6 0.7 4.5 0.6 4.6 0.1 4.5 -0.3 4.6 -0.5M716.8 325.1l4.6 0.2 4.5 0.4 4.6 0.6 4.5 0.9 4.6 0.7 4.5 0 4.6 -0.7 4.5 -0.9 4.6 -0.7 4.5 -0.3 4.6 -0.2M716.8 332.2l4.6 -0.1 4.5 0.3 4.6 0.7 4.5 0.9 4.6 0.5 4.5 0 4.6 -0.4 4.5 -0.5 4.6 -0.4 4.5 -0.4 4.6 -0.5M716.8 339.2l4.6 0 4.5 0.1 4.6 0.3 4.5 0.7 4.6 0.9 4.5 0.4 4.6 -0.1 4.5 -0.6 4.6 -0.6 4.5 -0.4 4.6 -0.3M716.8 346.2l4.6 0.4 4.5 0.4 4.6 0.6 4.5 0.8 4.6 0.5 4.5 -0.1 4.6 -0.8 4.5 -1 4.6 -0.7 4.5 -0.3 4.6 0M716.8 353l4.6 0.2 4.5 0.5 4.6 0.4 4.5 0.3 4.6 0.3 4.5 0.4 4.6 0.2 4.5 -0.2 4.6 -0.6 4.5 -0.7 4.6 -0.5M716.8 361.9l4.6 0.6 4.5 0.3 4.6 -0.2 4.5 -0.9 4.6 -1.1 4.5 -0.6 4.6 -0.1 4.5 0.1 4.6 0.2 4.5 0.4 4.6 0.6M716.8 368.4l4.6 -0.3 4.5 -0.5 4.6 -0.4 4.5 0 4.6 0.4 4.5 0.6 4.6 0.4 4.5 0.2 4.6 0.1 4.5 0 4.6 0M716.8 374.1l4.6 -0.4 4.5 -0.1 4.6 0.4 4.5 1.1 4.6 1.1 4.5 0.6 4.6 0 4.5 -0.5 4.6 -0.4 4.5 -0.4 4.6 -0.7M716.8 381.5l4.6 -0.3 4.5 -0.3 4.6 0 4.5 0.7 4.6 0.9 4.5 0.8 4.6 0.3 4.5 -0.3 4.6 -0.3 4.5 -0.3 4.6 -0.5M716.8 390l4.6 -0.4 4.5 -0.6 4.6 -0.9 4.5 -0.7 4.6 0 4.5 0.7 4.6 1 4.5 0.8 4.6 0.4 4.5 0.1 4.6 0.1" fill="none" stroke="#b8a8b0" stroke-width="1.6"/>
<path d="M716.8 305.9l4.6 0.6 4.5 0.8 4.6 0.6 4.5 0.2 4.6 0.1 4.5 -0.1 4.6 -0.1 4.5 -0.4 4.6 -0.8 4.5 -0.7 4.6 -0.3M716.8 315.4l4.6 0 4.5 -0.6 4.6 -0.9 4.5 -0.9 4.6 -0.3 4.5 0.3 4.6 0.5 4.5 0.4 4.6 0.4 4.5 0.5 4.6 0.6M716.8 321l4.6 -0.4 4.5 -0.2 4.6 -0.1 4.5 0 4.6 0.2 4.5 0.5 4.6 0.7 4.5 0.6 4.6 0.1 4.5 -0.3 4.6 -0.5M716.8 327.1l4.6 0.2 4.5 0.4 4.6 0.6 4.5 0.9 4.6 0.7 4.5 0 4.6 -0.7 4.5 -0.9 4.6 -0.7 4.5 -0.3 4.6 -0.2M716.8 334.2l4.6 -0.1 4.5 0.3 4.6 0.7 4.5 0.9 4.6 0.5 4.5 0 4.6 -0.4 4.5 -0.5 4.6 -0.4 4.5 -0.4 4.6 -0.5M716.8 341.2l4.6 0 4.5 0.1 4.6 0.3 4.5 0.7 4.6 0.9 4.5 0.4 4.6 -0.1 4.5 -0.6 4.6 -0.6 4.5 -0.4 4.6 -0.3M716.8 348.2l4.6 0.4 4.5 0.4 4.6 0.6 4.5 0.8 4.6 0.5 4.5 -0.1 4.6 -0.8 4.5 -1 4.6 -0.7 4.5 -0.3 4.6 0M716.8 355l4.6 0.2 4.5 0.5 4.6 0.4 4.5 0.3 4.6 0.3 4.5 0.4 4.6 0.2 4.5 -0.2 4.6 -0.6 4.5 -0.7 4.6 -0.5M716.8 363.9l4.6 0.6 4.5 0.3 4.6 -0.2 4.5 -0.9 4.6 -1.1 4.5 -0.6 4.6 -0.1 4.5 0.1 4.6 0.2 4.5 0.4 4.6 0.6M716.8 370.4l4.6 -0.3 4.5 -0.5 4.6 -0.4 4.5 0 4.6 0.4 4.5 0.6 4.6 0.4 4.5 0.2 4.6 0.1 4.5 0 4.6 0M716.8 376.1l4.6 -0.4 4.5 -0.1 4.6 0.4 4.5 1.1 4.6 1.1 4.5 0.6 4.6 0 4.5 -0.5 4.6 -0.4 4.5 -0.4 4.6 -0.7M716.8 383.5l4.6 -0.3 4.5 -0.3 4.6 0 4.5 0.7 4.6 0.9 4.5 0.8 4.6 0.3 4.5 -0.3 4.6 -0.3 4.5 -0.3 4.6 -0.5M716.8 392l4.6 -0.4 4.5 -0.6 4.6 -0.9 4.5 -0.7 4.6 0 4.5 0.7 4.6 1 4.5 0.8 4.6 0.4 4.5 0.1 4.6 0.1" fill="none" stroke="#14140c" stroke-width="2.3"/>
<path d="M716.8 308l4.6 0.6 4.5 0.8 4.6 0.6 4.5 0.2 4.6 0.1 4.5 -0.1 4.6 -0.1 4.5 -0.4 4.6 -0.8 4.5 -0.7 4.6 -0.3M716.8 317.5l4.6 0 4.5 -0.6 4.6 -0.9 4.5 -0.9 4.6 -0.3 4.5 0.3 4.6 0.5 4.5 0.4 4.6 0.4 4.5 0.5 4.6 0.6M716.8 323.1l4.6 -0.4 4.5 -0.2 4.6 -0.1 4.5 0 4.6 0.2 4.5 0.5 4.6 0.7 4.5 0.6 4.6 0.1 4.5 -0.3 4.6 -0.5M716.8 329.2l4.6 0.2 4.5 0.4 4.6 0.6 4.5 0.9 4.6 0.7 4.5 0 4.6 -0.7 4.5 -0.9 4.6 -0.7 4.5 -0.3 4.6 -0.2M716.8 336.3l4.6 -0.1 4.5 0.3 4.6 0.7 4.5 0.9 4.6 0.5 4.5 0 4.6 -0.4 4.5 -0.5 4.6 -0.4 4.5 -0.4 4.6 -0.5M716.8 343.3l4.6 0 4.5 0.1 4.6 0.3 4.5 0.7 4.6 0.9 4.5 0.4 4.6 -0.1 4.5 -0.6 4.6 -0.6 4.5 -0.4 4.6 -0.3M716.8 350.3l4.6 0.4 4.5 0.4 4.6 0.6 4.5 0.8 4.6 0.5 4.5 -0.1 4.6 -0.8 4.5 -1 4.6 -0.7 4.5 -0.3 4.6 0M716.8 357.1l4.6 0.2 4.5 0.5 4.6 0.4 4.5 0.3 4.6 0.3 4.5 0.4 4.6 0.2 4.5 -0.2 4.6 -0.6 4.5 -0.7 4.6 -0.5M716.8 366l4.6 0.6 4.5 0.3 4.6 -0.2 4.5 -0.9 4.6 -1.1 4.5 -0.6 4.6 -0.1 4.5 0.1 4.6 0.2 4.5 0.4 4.6 0.6M716.8 372.5l4.6 -0.3 4.5 -0.5 4.6 -0.4 4.5 0 4.6 0.4 4.5 0.6 4.6 0.4 4.5 0.2 4.6 0.1 4.5 0 4.6 0M716.8 378.2l4.6 -0.4 4.5 -0.1 4.6 0.4 4.5 1.1 4.6 1.1 4.5 0.6 4.6 0 4.5 -0.5 4.6 -0.4 4.5 -0.4 4.6 -0.7M716.8 385.6l4.6 -0.3 4.5 -0.3 4.6 0 4.5 0.7 4.6 0.9 4.5 0.8 4.6 0.3 4.5 -0.3 4.6 -0.3 4.5 -0.3 4.6 -0.5M716.8 394.1l4.6 -0.4 4.5 -0.6 4.6 -0.9 4.5 -0.7 4.6 0 4.5 0.7 4.6 1 4.5 0.8 4.6 0.4 4.5 0.1 4.6 0.1" fill="none" stroke="#dede48" stroke-width="1.9"/>
</g>
<g clip-path="url(#cf2c)">
<path d="M679.3 275.3l3.9 3 4.4 2.6 3.9 3.2 2.4 4.8 4.2 2.8 4.2 2.9 5 1.8 2 5.2 3 4.2 3.4 3.7 6 0.8 4.2 2.8 2.7 4.5 1.8 5.5 3.7 3.3 5.9 1 4.4 2.5 3.2 4 1.4 5.9 4.3 2.7M676.7 278.1l1.9 5.3 4 3.1 4.3 2.7 5 1.9 2.7 4.5 3.5 3.6 3.4 3.7 4.6 2.3 3.3 3.8 3.4 3.8 3.7 3.3 4.4 2.6 4.3 2.6 2.6 4.7 3 4.1 3.5 3.5 5.8 1.1 3.9 3.2 3.1 4 1.6 5.6M672.8 282.4l2.3 5 3.7 3.4 4.1 2.9 4.8 2.1 3.2 3.9 3.5 3.6 3.3 3.8 4.2 2.8 3.5 3.5 3.6 3.5 3.9 3.2 4.1 2.9 4.1 3 2.7 4.4 3.3 3.8 3.6 3.4 5.3 1.7 3.9 3.1 3.2 4 2.1 5M668.1 287.7l4.2 2.8 3.3 3.7 3.5 3.7 3.1 4 4.9 2.1 4.1 2.8 3.8 3.3 2.2 5.1 3.4 3.7 4.4 2.5 5.1 1.7 3.7 3.4 2.4 4.9 2.9 4.2 4.1 3 5.2 1.6 3.7 3.4 3.3 3.8 2.5 4.7 4.3 2.7M664 292.2l4.4 2.6 3.4 3.7 3.4 3.7 3.3 3.8 4.4 2.5 4.6 2.4 3.4 3.7 2.7 4.5 2.8 4.4 4.9 2 4.7 2.2 4.2 2.8 2 5.3 3.1 4.1 3.9 3.1 5.3 1.5 3.9 3.2 3 4.2 2.8 4.3 3.9 3.2M659.9 296.8l3 4.1 5.1 1.8 4.2 2.9 3.6 3.3 2.1 5.3 4.9 2 4 3 4.5 2.4 1.6 5.8 3.6 3.4 4.5 2.5 5.7 1.1 3.1 4 1.6 5.8 3 4.1 5 1.9 6.3 0.5 2.7 4.5 2.2 5 1.9 5.4M657.4 299.5l3.8 3.3 3.4 3.7 1.2 6.1 4.6 2.4 5.3 1.5 5.2 1.8 2.1 5.2 1.5 5.8 4.1 2.8 5.5 1.4 5.6 1.3 1.6 5.6 2.6 4.6 2.9 4.2 6.3 0.5 3.8 3.3 3.4 3.8 2 5.2 4.6 2.4 4.6 2.3M653.1 304.3l2.8 4.4 2.9 4.2 5.1 1.8 4.3 2.7 3.6 3.5 2.8 4.3 3.6 3.5 4.4 2.6 3.5 3.6 3.7 3.4 3.2 3.9 4.8 2.1 3.7 3.5 3.5 3.5 2.2 5 4.3 2.7 4.7 2.2 4.8 2.2 2.6 4.6 2.2 5M649 308.9l2.7 4.4 3.8 3.3 4.9 2 3.5 3.6 3.7 3.4 2.9 4.2 4.7 2.3 3.4 3.7 3.7 3.4 2.8 4.3 4.5 2.5 4.5 2.4 3.8 3.2 2.6 4.7 2.6 4.6 4.8 2.1 4.9 2.1 4.4 2.5 1.8 5.5 3 4.2M646.6 311.5l2.4 4.8 1.9 5.4 3.9 3.2 5.2 1.6 5.3 1.6 2.2 5 2.7 4.5 2.9 4.2 5.7 1.2 4 3.1 3.6 3.4 2.3 4.9 4.2 2.8 4.3 2.7 3.8 3.3 3 4.1 3.4 3.8 5 1.9 3.8 3.2 3.4 3.7M642.2 316.4l3.3 3.8 2.9 4.3 2 5.2 5 2 5.2 1.6 4.3 2.8 2.1 5.1 2.1 5.2 4.6 2.3 5.1 1.8 4.8 2.2 1.9 5.3 3.1 4.1 3.4 3.6 5.5 1.4 3.4 3.7 3.4 3.7 3 4.1 4.5 2.5 4.1 3M637.7 321.5l2.6 4.5 3.1 4 5 1.9 4.1 3 3.9 3.1 2.6 4.6 4.1 3 3.7 3.3 4 3 3.1 4 3.9 3.2 4.4 2.6 3.9 3.1 3.1 4 2.5 4.7 4.4 2.6 4.6 2.4 4.8 2.1 2.3 4.9 2.7 4.5M634.5 324.9l3 4.2 2.9 4.3 2.4 4.8 5.2 1.7 4.8 2.1 4.1 2.9 2 5.3 2.7 4.4 4.5 2.5 5 2 4.3 2.7 2.3 4.9 3.3 3.8 3.6 3.5 5 1.9 3.2 3.8 3.7 3.4 3.3 3.9 4.5 2.5 3.5 3.5M630.1 329.8l3.6 3.5 3.3 3.9 2.1 5 4.6 2.4 4.8 2.2 4.7 2.2 2.3 5 2.4 4.8 3.8 3.2 5.2 1.7 4.8 2.1 2.6 4.6 2.8 4.4 3.1 4 5.3 1.7 3.8 3.1 3.8 3.3 2.6 4.6 4.2 2.8 3.9 3.2M626.7 333.6l3 4.2 2.1 5.1 3.6 3.5 5.3 1.6 4.5 2.4 3.5 3.6 1.9 5.4 3.8 3.3 4.2 2.8 5.1 1.8 3 4.1 3.3 3.8 3.3 3.8 4.3 2.7 3.8 3.3 3.3 3.8 3.8 3.3 4 2.9 4.5 2.6 2.6 4.5M622.3 338.5l4 3 3.3 3.8 1.3 6 4.8 2.3 4.9 2 5.5 1.3 1.6 5.7 2.2 5 3.5 3.7 6 0.7 5 2 2.3 4.9 2.2 5.1 3.2 3.8 6 0.9 3.8 3.2 3.5 3.5 1.9 5.5 4.8 2 4.1 3M619.8 341.3l2.5 4.7 2 5.2 2.5 4.7 5.6 1.2 5.8 1.1 3.1 4.1 1.8 5.4 2.2 5.1 5.9 0.8 4.7 2.3 4.2 2.8 1.2 6.2 4 3 4.1 2.9 5.2 1.7 2.6 4.6 3 4.2 4.1 2.9 4.8 2.2 4 3" fill="none" stroke="#b8a8b0" stroke-width="1.6"/>
<path d="M677.9 276.7l4 3.1 4.4 2.6 3.9 3.2 2.4 4.8 4.2 2.8 4.1 2.8 5 1.9 2.1 5.2 3 4.2 3.3 3.7 6 0.8 4.3 2.8 2.6 4.5 1.8 5.5 3.8 3.3 5.8 1 4.5 2.5 3.1 4 1.5 5.9 4.3 2.6M675.3 279.6l2 5.3 4 3.1 4.3 2.7 5 1.9 2.7 4.5 3.5 3.5 3.3 3.8 4.6 2.3 3.4 3.8 3.3 3.8 3.7 3.3 4.5 2.5 4.3 2.7 2.5 4.7 3.1 4.1 3.5 3.5 5.7 1.1 3.9 3.2 3.2 4 1.6 5.6M671.5 283.9l2.2 5 3.7 3.3 4.1 2.9 4.9 2.2 3.2 3.9 3.5 3.5 3.3 3.9 4.1 2.8 3.6 3.5 3.6 3.5 3.8 3.2 4.2 2.9 4 3 2.8 4.4 3.2 3.8 3.7 3.4 5.3 1.6 3.9 3.2 3.1 3.9 2.2 5.1M666.8 289.1l4.1 2.9 3.4 3.7 3.4 3.7 3.2 3.9 4.8 2.1 4.2 2.9 3.8 3.2 2.1 5.1 3.4 3.7 4.4 2.6 5.2 1.7 3.7 3.4 2.4 4.9 2.9 4.2 4 3 5.3 1.6 3.7 3.4 3.3 3.8 2.5 4.7 4.3 2.7M662.7 293.6l4.4 2.6 3.3 3.8 3.4 3.7 3.3 3.8 4.5 2.5 4.6 2.4 3.4 3.7 2.7 4.5 2.7 4.4 5 2 4.7 2.2 4.2 2.8 1.9 5.3 3.1 4 4 3.2 5.3 1.5 3.9 3.2 2.9 4.2 2.9 4.3 3.8 3.2M658.5 298.3l3.1 4.1 5.1 1.8 4.1 2.8 3.7 3.4 2 5.3 4.9 2 4.1 2.9 4.5 2.5 1.5 5.8 3.7 3.4 4.5 2.5 5.7 1.1 3.1 4 1.5 5.8 3.1 4.1 5 1.9 6.3 0.5 2.6 4.5 2.3 5 1.8 5.4M656.1 301l3.8 3.3 3.4 3.6 1.2 6.2 4.6 2.3 5.3 1.6 5.2 1.7 2 5.2 1.5 5.8 4.1 2.9 5.6 1.4 5.5 1.3 1.7 5.6 2.6 4.6 2.9 4.2 6.3 0.5 3.8 3.3 3.3 3.7 2 5.3 4.6 2.4 4.6 2.3M651.8 305.8l2.7 4.4 3 4.2 5.1 1.8 4.3 2.7 3.6 3.5 2.8 4.3 3.6 3.5 4.4 2.6 3.5 3.5 3.6 3.5 3.2 3.9 4.9 2.1 3.6 3.4 3.5 3.6 2.3 5 4.3 2.7 4.7 2.2 4.7 2.2 2.7 4.6 2.2 5M647.6 310.4l2.8 4.4 3.7 3.3 4.9 2 3.6 3.5 3.7 3.5 2.9 4.2 4.6 2.3 3.5 3.7 3.6 3.4 2.8 4.3 4.6 2.4 4.5 2.5 3.8 3.2 2.5 4.7 2.7 4.6 4.7 2.1 4.9 2 4.5 2.6 1.8 5.5 2.9 4.2M645.3 313l2.4 4.8 1.9 5.4 3.8 3.1 5.3 1.7 5.3 1.6 2.2 5 2.7 4.5 2.9 4.2 5.7 1.2 3.9 3.1 3.7 3.4 2.3 4.9 4.2 2.8 4.3 2.7 3.7 3.3 3.1 4.1 3.3 3.8 5.1 1.8 3.8 3.3 3.4 3.6M640.9 317.9l3.3 3.8 2.9 4.3 2 5.2 4.9 2 5.3 1.6 4.2 2.7 2.1 5.2 2.1 5.1 4.6 2.4 5.1 1.8 4.8 2.2 1.9 5.3 3.1 4 3.5 3.7 5.5 1.4 3.4 3.7 3.4 3.6 2.9 4.2 4.5 2.5 4.1 3M636.3 322.9l2.7 4.6 3.1 4 5 1.9 4 3 3.9 3.1 2.6 4.6 4.1 2.9 3.7 3.4 4.1 3 3.1 4 3.9 3.2 4.3 2.6 3.9 3.1 3.2 4 2.5 4.7 4.3 2.6 4.7 2.4 4.8 2.1 2.3 4.9 2.7 4.5M633.2 326.4l3 4.1 2.8 4.4 2.4 4.8 5.2 1.7 4.9 2 4.1 3 2 5.2 2.7 4.5 4.4 2.5 5 1.9 4.3 2.8 2.3 4.9 3.3 3.8 3.6 3.5 5 1.9 3.3 3.8 3.7 3.4 3.2 3.9 4.5 2.4 3.6 3.6M628.8 331.3l3.5 3.5 3.3 3.9 2.2 5 4.6 2.4 4.8 2.2 4.7 2.2 2.3 4.9 2.3 4.9 3.9 3.2 5.2 1.7 4.8 2.1 2.6 4.6 2.7 4.4 3.2 4 5.2 1.6 3.9 3.2 3.7 3.3 2.7 4.6 4.2 2.8 3.8 3.2M625.4 335.1l2.9 4.2 2.2 5.1 3.5 3.5 5.3 1.6 4.6 2.4 3.5 3.6 1.8 5.4 3.8 3.3 4.2 2.8 5.1 1.8 3 4.1 3.4 3.8 3.2 3.8 4.4 2.7 3.8 3.3 3.3 3.8 3.7 3.2 4.1 3 4.4 2.6 2.7 4.5M621 340l4 3 3.3 3.8 1.3 6 4.7 2.2 5 2 5.5 1.4 1.6 5.7 2.2 5 3.4 3.6 6.1 0.8 4.9 2 2.3 4.9 2.2 5 3.2 3.9 6 0.9 3.9 3.2 3.5 3.5 1.8 5.4 4.9 2.1 4 3M618.4 342.8l2.6 4.7 2 5.2 2.5 4.7 5.6 1.2 5.8 1.1 3 4.1 1.9 5.4 2.2 5 5.9 0.9 4.7 2.3 4.2 2.8 1.2 6.2 3.9 3 4.2 2.9 5.2 1.7 2.6 4.6 2.9 4.1 4.1 3 4.8 2.1 4 3.1" fill="none" stroke="#14140c" stroke-width="2.3"/>
<path d="M676.5 278.3l4 3.1 4.4 2.6 3.8 3.1 2.5 4.8 4.1 2.8 4.2 2.9 5 1.9 2.1 5.2 3 4.2 3.3 3.7 6 0.8 4.3 2.7 2.6 4.6 1.8 5.5 3.8 3.3 5.8 1 4.5 2.5 3.1 3.9 1.5 5.9 4.3 2.7M673.9 281.2l2 5.3 4 3 4.3 2.7 4.9 2 2.8 4.4 3.5 3.6 3.3 3.8 4.6 2.3 3.4 3.7 3.3 3.8 3.7 3.4 4.5 2.5 4.3 2.7 2.5 4.6 3 4.2 3.6 3.5 5.7 1.1 3.9 3.1 3.1 4 1.7 5.7M670.1 285.5l2.2 4.9 3.7 3.4 4.1 2.9 4.9 2.1 3.2 3.9 3.5 3.6 3.3 3.8 4.1 2.9 3.6 3.5 3.6 3.5 3.8 3.2 4.2 2.9 4 2.9 2.8 4.4 3.2 3.9 3.7 3.4 5.3 1.6 3.9 3.2 3.1 3.9 2.2 5.1M665.4 290.7l4.1 2.8 3.4 3.8 3.4 3.6 3.2 4 4.8 2.1 4.2 2.9 3.8 3.2 2.1 5.1 3.4 3.7 4.4 2.6 5.2 1.7 3.7 3.4 2.3 4.8 3 4.3 4 2.9 5.3 1.6 3.7 3.4 3.2 3.9 2.6 4.6 4.3 2.7M661.3 295.2l4.4 2.6 3.3 3.8 3.4 3.6 3.3 3.9 4.5 2.5 4.6 2.3 3.4 3.8 2.7 4.5 2.7 4.3 5 2 4.7 2.3 4.2 2.8 1.9 5.3 3.1 4 4 3.1 5.3 1.6 3.8 3.2 3 4.1 2.9 4.3 3.8 3.2M657.1 299.8l3.1 4.1 5.1 1.8 4.1 2.9 3.7 3.4 2 5.2 4.9 2 4.1 3 4.5 2.5 1.5 5.8 3.7 3.4 4.5 2.4 5.7 1.1 3.1 4.1 1.5 5.7 3.1 4.2 5 1.9 6.3 0.5 2.6 4.5 2.3 4.9 1.8 5.5M654.7 302.5l3.8 3.3 3.4 3.7 1.2 6.1 4.6 2.4 5.3 1.6 5.2 1.7 2 5.2 1.5 5.8 4.1 2.9 5.6 1.3 5.5 1.3 1.7 5.7 2.6 4.6 2.9 4.2 6.3 0.5 3.7 3.3 3.4 3.7 2 5.2 4.6 2.4 4.6 2.4M650.4 307.3l2.7 4.4 2.9 4.3 5.2 1.8 4.3 2.7 3.6 3.5 2.8 4.3 3.6 3.5 4.3 2.6 3.6 3.5 3.6 3.5 3.2 3.9 4.9 2.1 3.6 3.4 3.5 3.5 2.3 5 4.3 2.8 4.7 2.2 4.7 2.2 2.7 4.5 2.2 5.1M646.2 311.9l2.8 4.5 3.7 3.3 4.9 2 3.6 3.5 3.7 3.4 2.9 4.2 4.6 2.4 3.5 3.6 3.6 3.4 2.8 4.4 4.6 2.4 4.5 2.4 3.8 3.3 2.5 4.7 2.7 4.5 4.7 2.2 4.9 2 4.5 2.6 1.8 5.4 2.9 4.2M643.9 314.5l2.3 4.9 1.9 5.4 3.9 3.1 5.3 1.7 5.3 1.5 2.2 5 2.7 4.6 2.9 4.2 5.7 1.1 3.9 3.1 3.6 3.5 2.4 4.9 4.2 2.8 4.3 2.7 3.7 3.3 3.1 4.1 3.3 3.7 5 1.9 3.9 3.2 3.4 3.7M639.5 319.4l3.3 3.9 2.9 4.2 2 5.2 4.9 2 5.3 1.7 4.2 2.7 2.1 5.2 2.1 5.1 4.6 2.4 5.1 1.8 4.8 2.1 1.9 5.4 3.1 4 3.5 3.7 5.4 1.3 3.5 3.7 3.4 3.7 2.9 4.2 4.5 2.5 4.1 2.9M634.9 324.5l2.6 4.6 3.2 4 5 1.8 4 3 3.9 3.2 2.6 4.6 4.1 2.9 3.7 3.3 4.1 3 3.1 4.1 3.9 3.1 4.3 2.6 3.9 3.2 3.2 3.9 2.5 4.8 4.3 2.6 4.7 2.3 4.8 2.1 2.2 5 2.8 4.4M631.8 328l3 4.1 2.8 4.4 2.4 4.7 5.2 1.8 4.9 2 4.1 3 2 5.2 2.7 4.5 4.4 2.5 5 1.9 4.3 2.7 2.3 4.9 3.3 3.8 3.6 3.5 5 1.9 3.3 3.9 3.7 3.4 3.2 3.8 4.5 2.5 3.6 3.5M627.4 332.8l3.5 3.6 3.3 3.8 2.2 5.1 4.6 2.4 4.8 2.1 4.7 2.3 2.3 4.9 2.3 4.8 3.9 3.2 5.2 1.8 4.8 2.1 2.6 4.6 2.7 4.4 3.2 4 5.2 1.6 3.9 3.2 3.7 3.3 2.7 4.5 4.2 2.8 3.8 3.2M624 336.7l2.9 4.2 2.2 5 3.5 3.6 5.3 1.5 4.6 2.4 3.5 3.7 1.8 5.4 3.8 3.2 4.2 2.8 5.1 1.9 3 4.1 3.3 3.8 3.3 3.8 4.4 2.6 3.7 3.3 3.4 3.8 3.7 3.3 4.1 2.9 4.4 2.6 2.7 4.5M619.6 341.5l4 3.1 3.3 3.8 1.3 6 4.7 2.2 5 2 5.5 1.3 1.6 5.7 2.2 5.1 3.4 3.6 6.1 0.7 4.9 2.1 2.3 4.8 2.2 5.1 3.2 3.9 6 0.8 3.9 3.2 3.5 3.6 1.8 5.4 4.9 2.1 4 3M617 344.4l2.5 4.6 2.1 5.3 2.5 4.7 5.6 1.2 5.8 1 3 4.1 1.9 5.4 2.2 5.1 5.9 0.9 4.6 2.3 4.3 2.8 1.1 6.1 4 3.1 4.2 2.8 5.2 1.7 2.6 4.6 2.9 4.2 4.1 2.9 4.8 2.2 4 3" fill="none" stroke="#dede48" stroke-width="1.9"/>
</g>
<line x1="652.4" y1="256.1" x2="652.4" y2="419.3" stroke="#111" stroke-width="2.2" stroke-dasharray="1.6 6.6" stroke-dashoffset="-5.9"/>
<line x1="716.8" y1="256.1" x2="716.8" y2="419.3" stroke="#111" stroke-width="2.2" stroke-dasharray="1.6 6.6" stroke-dashoffset="-5.9"/>
<line x1="602.7" y1="312.2" x2="766.9" y2="312.2" stroke="#111" stroke-width="2.2" stroke-dasharray="1.6 6.6" stroke-dashoffset="-5.9"/>
<line x1="602.7" y1="375.9" x2="766.9" y2="375.9" stroke="#111" stroke-width="2.2" stroke-dasharray="1.6 6.6" stroke-dashoffset="-5.9"/>
<line x1="652.4" y1="256.1" x2="652.4" y2="419.3" stroke="#fff" stroke-width="2.4" stroke-dasharray="5.4 2.8"/>
<line x1="716.8" y1="256.1" x2="716.8" y2="419.3" stroke="#fff" stroke-width="2.4" stroke-dasharray="5.4 2.8"/>
<line x1="602.7" y1="312.2" x2="766.9" y2="312.2" stroke="#fff" stroke-width="2.4" stroke-dasharray="5.4 2.8"/>
<line x1="602.7" y1="375.9" x2="766.9" y2="375.9" stroke="#fff" stroke-width="2.4" stroke-dasharray="5.4 2.8"/>
<text x="607.4" y="272.9" style="font-family:'Liberation Sans',sans-serif;font-size:15px;font-weight:bold" fill="#111">65 <tspan dy="-5.5" font-size="10">o</tspan><tspan dy="5.5">C</tspan></text>
<defs><clipPath id="cf3"><rect x="781.1" y="255.1" width="163.2" height="164.2"/></clipPath><clipPath id="cf3t"><rect x="827.2" y="255.1" width="68.8" height="56.5"/></clipPath><clipPath id="cf3b"><rect x="827.2" y="375" width="68.8" height="44.3"/></clipPath><clipPath id="cf3l"><rect x="781.1" y="308.6" width="49.1" height="69.4"/></clipPath><clipPath id="cf3r"><rect x="893" y="308.6" width="51.3" height="69.4"/></clipPath><clipPath id="cf3c"><rect x="830.2" y="311.6" width="62.8" height="63.4"/></clipPath></defs>
<rect x="781.1" y="255.1" width="163.2" height="164.2" fill="#e6e3a8"/>
<g clip-path="url(#cf3)">
<path d="M730 269.4l2.6 -4.7 6.6 0 3.9 -3.3 5 -1.9 0.7 -6.9 3.9 -3.4 5 -1.9 5 -1.8 4.9 -2 0.6 -7.2 4.3 -2.7 3.5 -3.7 6.7 0.1 3.7 -3.4 1.9 -5.6 3.5 -3.8 3.1 -4 7.3 0.8 3 -4.3M733.6 273.7l2.7 -4.7 6.3 -0.3 3.8 -3.4 4.5 -2.5 1.6 -5.8 3.6 -3.7 5.3 -1.6 4.4 -2.6 4.7 -2.1 1.2 -6.5 4.3 -2.8 3.9 -3.2 5.7 -1.1 4 -3 1.9 -5.6 3.9 -3.2 3.3 -4 6.5 0 3.3 -4M739 280.1l1.5 -6 4.1 -3.1 3.2 -3.9 6.6 -0.1 3.4 -3.8 2.9 -4.4 2.9 -4.4 3.5 -3.6 6.6 -0.1 3.1 -4.1 4 -3.1 1.6 -6 4.5 -2.5 5.4 -1.4 4.1 -2.9 4.1 -3.1 1.1 -6.5 5 -1.9 4.2 -2.8M740.5 281.9l5.2 -1.6 3.3 -3.9 3.7 -3.5 2.1 -5.4 5.3 -1.5 4.4 -2.7 4.4 -2.6 3 -4.2 2.5 -5 5 -1.9 4 -3 5.3 -1.6 2.3 -5.1 3.3 -4 3.9 -3.1 4.6 -2.4 5.3 -1.6 2.2 -5.1 3.8 -3.5M744.9 287.1l4.2 -2.8 1.5 -6.1 4 -3.1 5.5 -1.2 4.3 -2.8 4.4 -2.6 0.9 -6.8 4.7 -2.3 4.2 -2.9 5.7 -1 3.6 -3.6 1.6 -5.9 4.2 -2.8 3.7 -3.6 6.6 0.1 2.7 -4.6 3.1 -4.3 2.7 -4.5 4.3 -2.8M748.5 291.5l4.7 -2.3 0.4 -7.4 4.6 -2.3 4 -3.2 6.3 -0.3 3.7 -3.5 1.4 -6.2 3.9 -3.1 3.5 -3.8 7.3 0.8 2.6 -4.7 3.1 -4.2 2.2 -5.2 4.3 -2.8 6.8 0.3 2.9 -4.4 3.9 -3.2 0.8 -6.8 5.5 -1.4M750 293.2l4.6 -2.3 5.1 -1.8 2.9 -4.4 3.7 -3.4 2.7 -4.8 5.2 -1.6 4.4 -2.6 3.8 -3.3 3.2 -4 2.7 -4.7 5.3 -1.6 4 -3.1 4.6 -2.3 2.5 -4.9 3.3 -3.9 4.6 -2.5 4.3 -2.7 4.9 -2 2.2 -5.2M755 299.2l3.3 -3.9 3.7 -3.4 2.7 -4.8 5 -1.8 4.2 -2.8 4.2 -2.9 3.2 -4.1 2.8 -4.5 4.9 -2 4 -3.1 4.8 -2.1 2.6 -4.8 3.5 -3.7 4.1 -3 4.4 -2.6 4.8 -2.1 2.5 -4.9 3.9 -3.3 3.3 -3.9M758.4 303.3l2.7 -4.7 3.5 -3.7 4.4 -2.6 4.3 -2.8 4.6 -2.3 2.4 -5 3.9 -3.2 3.7 -3.5 4.9 -2 4.3 -2.8 2.9 -4.4 3.7 -3.4 3.2 -4 5.5 -1.4 3.7 -3.4 3.7 -3.5 3 -4.2 3.6 -3.6 5.1 -1.7M760.5 305.7l2.1 -5.3 6.8 0.3 4 -3.2 4.2 -2.8 1.8 -5.7 2.9 -4.5 6.1 -0.6 4.1 -2.9 5.1 -1.8 0.8 -6.9 3.9 -3.2 4.4 -2.6 5.5 -1.4 4.7 -2.2 1 -6.6 4.2 -3 3.1 -4 6.9 0.2 3.6 -3.5M763 308.7l4.1 -2.9 5.7 -1.2 3.7 -3.3 4.2 -3 1.4 -6.2 4.8 -2.1 4.4 -2.5 5 -1.9 3.6 -3.6 1.8 -5.8 4.6 -2.4 3.8 -3.2 6.1 -0.7 2.7 -4.6 2.8 -4.5 3.5 -3.7 4.2 -2.8 6.1 -0.7 2.6 -4.8M767.1 313.6l3.9 -3.2 5.7 -1 2.7 -4.8 3.3 -3.8 3.2 -4.1 4.6 -2.3 5.4 -1.5 2.9 -4.4 3.7 -3.4 2.4 -5.1 5.3 -1.5 4.5 -2.5 3.9 -3.2 3.2 -4 2.4 -5 5.3 -1.5 4.1 -3.1 4.9 -2 2.4 -5M771.7 319.1l5 -1.9 0.8 -6.9 4.2 -2.9 3.5 -3.7 6.4 -0.2 4 -3.1 1.9 -5.6 3.5 -3.6 3.1 -4.3 7.1 0.7 3.2 -4.1 3.5 -3.7 1.9 -5.5 3.9 -3.3 6.4 -0.2 3.5 -3.7 4.3 -2.7 0.8 -7 4.9 -2M774 321.8l4.1 -3 5 -1.8 3.1 -4.3 2.6 -4.6 4.3 -2.8 4.1 -3 5.5 -1.2 2.6 -4.9 3.5 -3.7 3.2 -4 4.7 -2.2 5.2 -1.7 2.9 -4.5 3.6 -3.4 2.6 -4.9 5.3 -1.5 4.4 -2.6 3.9 -3.2 3.1 -4.2M778 326.6l2.8 -4.6 2.6 -4.7 6.8 0.2 3.6 -3.5 4.4 -2.6 1.4 -6.2 3.7 -3.5 5.6 -1.2 4.3 -2.7 4.8 -2.2 0.7 -6.9 4.5 -2.6 4.1 -3 5.8 -0.9 3.9 -3.1 1.5 -6.1 4.1 -3 3.4 -3.9 6.9 0.4M780 329l4.2 -2.9 3.8 -3.4 5.5 -1.2 4 -3.1 2.3 -5.1 3.8 -3.4 3.3 -3.8 6.2 -0.5 3.3 -4 3.5 -3.7 2.6 -4.7 3.9 -3.2 5.8 -1 3.5 -3.7 4 -3 1.8 -5.8 4.7 -2.3 4.7 -2.2 4.5 -2.5M784.4 334.2l4.7 -2.2 2.7 -4.7 3.5 -3.6 4.1 -3.1 4.4 -2.6 4.7 -2.2 2.6 -4.7 3.9 -3.3 3.3 -3.9 5.1 -1.8 4.2 -2.9 3.2 -4 3.5 -3.6 3.2 -4.1 5.3 -1.6 3.8 -3.3 4 -3.1 2.9 -4.4 3.5 -3.7M788 338.5l3.7 -3.5 2 -5.4 5.5 -1.3 4.7 -2.3 4 -3.1 3.1 -4.2 2 -5.4 5.6 -1.2 4.1 -3 5.1 -1.7 2.2 -5.3 2.9 -4.4 4.6 -2.4 4.4 -2.6 5.5 -1.3 1.8 -5.7 3.7 -3.5 3.2 -4 5.5 -1.3M791.9 343.2l3.2 -4 3.8 -3.4 2.7 -4.7 4.5 -2.5 4.8 -2.1 3.8 -3.4 3.7 -3.3 2.4 -5.1 4.8 -2.1 4.2 -2.9 4.6 -2.3 3.2 -4 2.8 -4.6 4.5 -2.6 4 -3 5.1 -1.7 2.8 -4.6 3.4 -3.8 3.6 -3.6M921.2 207.2l3.9 3.2 2.1 5.3 3.6 3.6 3.2 4 6.8 -0.2 3.2 4.1 3.5 3.7 2.1 5.3 4 3.1 6.2 0.5 3.5 3.7 4.1 2.9 1.2 6.5 4.8 2.1 4.8 2.1 4.9 2.1 3.7 3.5 1.3 6.3 4.8 2M915.9 213.5l4.1 3 5.9 0.8 2.6 4.8 3.5 3.6 2.7 4.7 4.9 2 5.2 1.6 3.2 4.1 3.7 3.5 2 5.4 5.5 1.3 4.4 2.7 4.4 2.6 2.9 4.4 2.4 5 5.1 1.7 4.1 3 5.3 1.6 2.1 5.4M913.3 216.5l4.3 2.8 5 1.9 2.2 5.3 2.4 5 5.1 1.7 4.3 2.8 5.8 0.9 1.4 6.2 3.5 3.8 3.6 3.5 5.3 1.5 5.4 1.5 1.8 5.7 3.6 3.5 2.5 4.9 6.5 0.2 4.3 2.7 3.2 4 2.7 4.6M911.1 219.2l3.6 3.6 1.3 6.3 5.1 1.8 4 3.1 6 0.7 2.5 4.8 2.4 5 4 3.2 4.2 2.8 6.4 0.2 2.1 5.4 3.5 3.7 2.4 4.9 5.3 1.6 5.6 1.3 2.9 4.3 3.5 3.7 1.7 5.9 6 0.7M905.4 226l5.5 1.4 3.8 3.2 4.4 2.6 2.4 5.1 3.6 3.6 4.7 2.2 4.3 2.7 4.6 2.4 2 5.4 4.1 3.1 3.8 3.3 5.1 1.7 4.1 3 2.6 4.8 3.8 3.3 3.4 3.8 5.7 1.1 3.5 3.7 3.5 3.7M902.9 229l2.2 5.2 6.1 0.6 4.1 3 5.4 1.4 1.1 6.6 3.4 3.8 4.5 2.5 5.1 1.7 5.3 1.5 1.1 6.7 3.9 3.1 3.1 4.3 6.5 0.1 4.2 2.8 2.3 5.1 3.2 4 2.8 4.6 7 -0.5 3.5 3.7M899.1 233.5l4.1 2.9 5 2 4.6 2.3 2.1 5.5 3.9 3.1 3.2 4 5.9 0.9 3.9 3.3 3 4.2 3.2 4.1 3.3 3.9 6 0.7 3.5 3.7 4 3.1 2.2 5.3 3.9 3.1 5.2 1.6 4.1 3.1 4.3 2.8M897.2 235.8l3.6 3.5 4 3.2 2.7 4.5 3.9 3.3 4.9 2 3.9 3.2 4.2 2.9 2.3 5.1 4.3 2.8 4.1 2.9 4.7 2.3 3.8 3.2 2.6 4.8 4.2 2.9 3.7 3.4 5.3 1.6 3.3 3.9 3.3 4 3.5 3.6M892.6 241.3l3.2 4 6.4 0.2 3.4 3.8 3.3 4 2.7 4.7 3.7 3.4 6.1 0.6 3.4 3.8 4.1 2.9 1.6 6 4.6 2.4 4.9 1.9 4.5 2.6 3.9 3.2 1.4 6.2 4.9 2.1 4 3.1 5.7 1 3 4.3M888.8 245.8l3.6 3.6 7.3 -0.9 2.5 4.9 3.5 3.7 1.7 5.8 4.7 2.3 6.3 0.3 3.3 3.9 3.9 3.3 0.7 7 5.7 1.1 4.8 2.2 5 1.8 3 4.3 1.1 6.5 5.4 1.5 4.1 3 6.5 0.1 1.7 5.7M885.3 249.9l5.3 1.6 4 3.1 4.5 2.5 2.6 4.8 3.3 3.9 4.6 2.3 4.3 2.8 4.8 2.2 2.2 5.2 3.9 3.2 3.7 3.5 5 1.9 4.3 2.6 2.7 4.7 3.7 3.4 3.3 4 5.5 1.2 3.8 3.4 3.6 3.7M883.1 252.6l4.8 2.1 3.4 3.8 3.6 3.6 2.5 4.9 5.2 1.6 4.2 2.9 4.4 2.6 2.9 4.4 2.8 4.5 4.9 2.1 4.1 3 5 1.9 2.3 5 3.6 3.7 3.9 3.2 4.6 2.3 4.9 2 2.4 5 3.8 3.3M880.7 255.4l2.5 4.9 3.9 3.2 3.6 3.6 5.7 1.1 3.3 3.9 3.4 3.8 3.1 4.2 3.9 3.2 5.5 1.3 3.4 3.8 3.9 3.2 2.3 5.2 4.5 2.4 4.7 2.2 4.2 3 3.7 3.3 2.2 5.3 4.7 2.2 4.1 3.1M876.2 260.8l3.8 3.4 2.9 4.3 5.9 0.9 4.2 2.8 3.1 4.2 3.1 4.1 2.9 4.4 6.1 0.6 3.7 3.5 4.3 2.8 2 5.4 3.6 3.6 5.3 1.5 4.2 2.9 4.6 2.4 1.5 6.1 4.2 2.8 4.1 3 5.3 1.5M873.9 263.6l4 3 1.6 5.9 4.8 2.2 4.2 2.9 5.2 1.6 3.4 3.9 2.1 5.3 4.4 2.6 3.8 3.3 6 0.8 2.7 4.6 3.2 4.1 3.2 4.1 4.4 2.5 5.7 1.1 2.8 4.5 3.7 3.4 2.2 5.3 5.3 1.6M868.9 269.5l3.4 3.9 6 0.7 5.2 1.6 1.5 6 3.6 3.6 2.3 5.2 7.1 -0.7 4.1 3.1 3.3 3.9 2.2 5.1 2.7 4.7 6.9 -0.4 3.7 3.5 4.8 2.2 0.7 6.9 3.9 3.3 5.4 1.4 4.8 2.2 4.8 2.1M865.9 273.1l3.5 3.6 4.7 2.3 5.4 1.4 2.5 4.9 3.7 3.5 2.6 4.8 5.5 1.3 4.6 2.4 3.5 3.6 3.2 4.1 2.4 4.9 5.7 1.1 4 3.1 4.7 2.3 2.2 5.2 3.2 4.1 4.9 2 4.2 2.8 5.1 1.8M863.7 275.7l4.6 2.4 3.1 4.1 3 4.3 2.3 5.2 6.4 0.2 3.9 3.2 4.6 2.3 1.7 5.9 3.2 4.1 5.4 1.4 4.4 2.6 5.1 1.8 1 6.6 4.1 3.1 3.9 3.2 5.6 1.1 4.5 2.5 1.7 5.9 3.8 3.3M858.3 282.1l5.3 1.5 4.8 2.2 3.6 3.5 3.4 3.9 2.2 5.3 5.5 1.2 4.1 3 4.8 2.2 2.5 4.9 2.8 4.5 4.8 2.1 4.3 2.8 5.3 1.5 1.9 5.6 3.6 3.5 3.6 3.6 5.2 1.7 4.8 2.1 2.4 5.1M790.6 338.9l5 1.8 4.2 2.9 3.3 4 1.4 6.1 5.6 1.3 4.1 2.9 5.7 1.1 2.1 5.3 2.5 4.9 4.5 2.5 4.4 2.7 6.1 0.5 1.6 5.9 3.5 3.7 2.9 4.4 5.5 1.3 5.4 1.5 2.4 5 3.5 3.7M787.4 342.7l3.3 4 4.2 2.7 4.5 2.6 5.1 1.8 2.2 5.2 3.7 3.4 3.3 4 5.3 1.5 4.5 2.5 2.9 4.5 3.5 3.6 2.9 4.4 5.7 1 3.9 3.3 3.9 3.2 2.7 4.7 3.3 3.8 5.4 1.5 3.9 3.2M782.4 348.6l6 0.8 5 1.9 3.1 4.1 3.2 4.1 1.8 5.7 6.4 0.2 4.1 3 4.7 2.2 1.9 5.6 2.7 4.7 5.5 1.3 4.3 2.7 5.5 1.4 1.1 6.5 3.7 3.5 3.9 3.2 5.5 1.3 5 1.9 1.4 6.1M779.8 351.7l5.2 1.7 4 3 4.7 2.4 2 5.5 3.9 3.1 4.2 2.9 4.8 2.1 4.4 2.7 2.2 5.3 4 3 3.5 3.7 5.6 1.2 3.7 3.4 3 4.3 3.4 3.8 3.5 3.7 5.8 1 3.4 3.8 3.9 3.2M776.4 355.8l7 -0.5 2.5 4.9 3.5 3.6 1.9 5.7 4.9 2.1 6 0.6 3.3 3.9 3.8 3.4 0.9 6.7 5.7 1.1 4.7 2.3 5 1.9 2.8 4.5 1.5 6.1 5.3 1.5 4.1 3 6.3 0.4 1.7 5.8 2.8 4.5M775.5 356.9l2.5 4.9 3.7 3.4 2.9 4.4 5.8 1 4 3.1 3.5 3.6 3 4.4 3.1 4.1 5.6 1.2 3.8 3.3 4.4 2.6 2.1 5.4 3.8 3.3 4.8 2.2 4.4 2.6 4.4 2.5 1.9 5.7 4.2 2.9 3.8 3.3M770.2 363.2l3.8 3.3 6.6 0 2.6 4.8 2.5 4.9 3.4 3.8 4.1 2.9 6.8 -0.2 2.3 5.1 3.6 3.6 1.8 5.7 5.3 1.6 5.7 1 3.4 3.9 3.5 3.6 1.1 6.5 6 0.8 4.4 2.5 5.1 1.9 2.5 4.9M768.6 365.1l1 6.6 4.9 2.1 5 1.9 4.8 2.2 3.7 3.4 1.1 6.5 5 2 3.9 3.1 6.3 0.4 2.6 4.7 2.3 5.2 3.8 3.3 4.1 2.9 6.7 0 2.2 5.2 3.4 3.8 2.2 5.2 5.2 1.7 5.8 1M764.1 370.5l2.7 4.6 5.3 1.6 4.7 2.3 3.3 3.8 3.4 3.8 2.5 4.9 5.6 1.3 4 3 4.5 2.6 2.5 4.7 3.1 4.3 4.9 1.9 4.2 2.9 5 2 2 5.4 3.7 3.5 3.9 3.2 4.9 1.9 4.7 2.4M760.4 374.9l3.6 3.5 3 4.3 6.9 -0.3 3.4 3.8 3.4 3.8 2.2 5.2 3.6 3.6 6.5 0.1 3.4 3.8 4.4 2.7 1 6.6 4.6 2.4 5.1 1.8 4.7 2.2 4 3.1 1 6.7 4.8 2.1 4 3.2 6.2 0.4M758.1 377.6l4.4 2.6 1.6 6 4.4 2.6 4.3 2.7 5 1.9 3.9 3.2 2 5.5 4.3 2.8 3.6 3.5 6 0.8 3.1 4.1 3 4.3 3.3 3.9 3.9 3.2 6 0.8 3 4.2 3.8 3.4 2.2 5.2 4.7 2.3M754.2 382.2l5 2 2.7 4.6 3.2 4 4.1 3 4.3 2.7 5.1 1.8 2.6 4.8 3.7 3.5 3.2 4 5 1.9 4.6 2.4 3.1 4.1 3.6 3.7 2.8 4.4 5.4 1.4 4 3.1 4.1 3.1 2.8 4.4 3.2 4.1M751.9 385l0.7 7 5 1.9 5.5 1.3 4.5 2.5 3.8 3.3 0.6 7.2 5.3 1.5 4.1 3 6.4 0.3 2.5 4.8 1.8 5.8 4.2 2.8 4.1 3 7.1 -0.6 1.8 5.7 3.2 4.1 2.3 5.1 5.2 1.6 6.3 0.3M748.5 389.1l3 4.2 1.6 5.9 6.1 0.7 4.1 2.9 5.4 1.5 1.7 5.8 2.7 4.7 4.9 2 4.5 2.4 5.8 1 1.3 6.4 3.6 3.5 3.3 3.9 5.8 1 5 1.8 2 5.6 3.6 3.6 2.4 5 6.7 -0.2M743.3 395.2l4.6 2.4 4.8 2.1 4.3 2.8 1.6 5.9 4.3 2.7 3.7 3.6 5.9 0.8 3.5 3.7 2.6 4.7 3.5 3.7 3.6 3.6 6.3 0.4 3 4.2 3.7 3.5 2.3 5.1 4.3 2.7 5.6 1.2 3.6 3.6 3.9 3.2M739.4 399.9l5.6 1.2 4.9 2 2.8 4.5 3.4 3.9 2.3 5 6.2 0.5 4 3.1 4.2 2.9 2.3 5.1 2.9 4.4 5.7 1.1 4 3 5 2 1.4 6.1 3.8 3.3 4.4 2.7 5 1.9 4.7 2.2 1.6 6M736.3 403.6l6.5 0.1 3 4.3 3.9 3.2 1.7 5.8 4.6 2.4 5.5 1.3 3.9 3.2 4 3.2 1.2 6.4 5.1 1.7 4.3 2.8 5.4 1.4 3.1 4.2 1.9 5.6 4.5 2.4 4 3.2 6.3 0.3 2.2 5.2 3.1 4.2M734.4 405.9l4.7 2.3 3.6 3.5 1.6 5.9 4.9 2.1 3.9 3.2 5.8 0.9 2.8 4.6 2.6 4.7 3.8 3.3 4.2 2.9 6.1 0.6 2.4 5 3.6 3.6 2.5 4.9 5 1.8 5.4 1.5 3.2 4.1 3.5 3.6 1.9 5.6M729.9 411.2l5.4 1.4 4.1 3 3 4.3 3.4 3.8 3.2 4 5.8 1 3.6 3.6 3.9 3.2 2.6 4.8 3.7 3.4 5.2 1.6 3.9 3.3 4.3 2.7 2 5.5 4.3 2.7 4.3 2.8 4.8 2.1 3.9 3.2 2.2 5.2M860.7 401.3l3.5 -3.8 2.4 -5 3.3 -3.9 6.3 -0.3 3.6 -3.6 4.5 -2.6 1.2 -6.4 4.3 -2.7 5 -1.9 4.7 -2.3 4.2 -2.8 1.1 -6.5 4.7 -2.4 3.8 -3.2 6.1 -0.7 3.3 -3.9 2.1 -5.3 3.8 -3.3 3.7 -3.5M864.1 405.3l3.6 -3.6 3.4 -3.8 2.9 -4.4 3.6 -3.5 5.7 -1.1 3.5 -3.7 4.2 -2.9 2 -5.5 4.3 -2.7 4.8 -2.1 4.3 -2.7 4 -3.2 1.9 -5.5 4.6 -2.4 4 -3.2 5.3 -1.5 3.3 -3.9 2.6 -4.8 4 -3.1M865.7 407.1l5.1 -1.7 4.7 -2.3 2.4 -5 3.7 -3.4 3 -4.3 5.8 -0.9 3.9 -3.2 3.5 -3.7 2.9 -4.4 3.2 -4 5.8 -1.1 3.7 -3.4 4.4 -2.7 1.9 -5.5 4 -3.1 4.8 -2.1 4.4 -2.6 4.4 -2.7 1.7 -5.8M869.3 411.5l4 -3.2 6.3 -0.2 2.1 -5.4 2.7 -4.6 3.6 -3.6 4.6 -2.4 6.4 -0.3 2 -5.5 3.6 -3.5 2 -5.5 5.8 -1 5.3 -1.5 3.2 -4.1 3.2 -3.9 1.6 -6 6.3 -0.4 4.2 -2.8 4.9 -2.1 2 -5.4M875.3 418.6l1.8 -5.7 2.4 -5 4.4 -2.6 4.6 -2.4 6.4 -0.2 1.3 -6.3 3.5 -3.7 2.6 -4.7 6 -0.8 5.4 -1.4 2.3 -5.1 3.4 -3.8 1.8 -5.8 6.8 0.2 4.2 -2.7 4.1 -3 2.1 -5.4 2.3 -5.1 6.4 -0.3M877 420.7l1.5 -6.1 5 -1.9 5.7 -1.1 3.8 -3.4 3.7 -3.4 0.9 -6.7 5.6 -1.2 4.4 -2.7 5.5 -1.3 2.6 -4.7 1.8 -5.8 4.8 -2 4.1 -3 6.5 -0.2 1.8 -5.7 3 -4.3 3.2 -4 5 -1.9 6.2 -0.5M878.8 422.8l4.8 -2.1 4.8 -2.2 4.5 -2.5 1.3 -6.3 4.4 -2.7 3.6 -3.5 6 -0.7 3.7 -3.5 2.3 -5.1 3.6 -3.5 3.4 -3.8 6.6 -0.1 3 -4.2 3.5 -3.7 2.3 -5.1 4.2 -2.8 5.9 -0.9 3.5 -3.7 4 -3.1M882.2 426.9l5 -2 4.7 -2.2 4.2 -2.8 1.2 -6.5 4.6 -2.4 3.8 -3.3 6.2 -0.5 3.2 -4.1 2.2 -5.2 3.7 -3.4 3.8 -3.4 6.6 0.1 2.6 -4.8 3.5 -3.7 2.2 -5.2 4.7 -2.3 5.9 -0.8 3.2 -4 3.8 -3.4M887.7 433.4l2.5 -4.9 3.6 -3.5 3.7 -3.5 4.7 -2.3 4.7 -2.2 2.8 -4.6 3.7 -3.4 3 -4.2 5.4 -1.5 4.1 -3 3.6 -3.6 3.2 -4 3.1 -4.2 5.3 -1.5 3.8 -3.3 4.4 -2.7 2.5 -4.9 3.6 -3.5 4.7 -2.3M890.4 436.6l3.5 -3.7 2.1 -5.4 5.6 -1.1 4.3 -2.8 4.4 -2.5 2.7 -4.6 2.6 -4.9 5.2 -1.7 4.1 -3 5.3 -1.5 1.9 -5.6 3.4 -3.8 4 -3 4.8 -2.2 5.2 -1.7 2 -5.4 3.8 -3.4 2.9 -4.3 5.8 -1M894.8 441.9l2.8 -4.6 3.7 -3.4 1.8 -5.8 5.2 -1.5 5.2 -1.8 3.9 -3.2 3.4 -3.8 1.5 -6 5.6 -1.2 4.2 -2.9 5.3 -1.5 2.4 -5 2.4 -5 4.7 -2.3 4.2 -2.8 6 -0.7 1.8 -5.8 3.4 -3.8 3.2 -4.1M896.5 443.9l4.8 -2.2 3.5 -3.6 2.6 -4.8 4.3 -2.8 3.8 -3.3 5.4 -1.4 3 -4.2 3.3 -4 3.5 -3.7 4.2 -2.9 5.3 -1.5 3 -4.2 3.8 -3.4 2.6 -4.7 4.9 -2.1 4.6 -2.3 3.8 -3.4 3.5 -3.6 2.5 -5M898.9 446.8l4.4 -2.6 5.3 -1.6 3.3 -3.9 3.8 -3.3 2.3 -5.2 5 -1.9 4.4 -2.6 4.3 -2.8 3.3 -3.9 2.4 -4.9 4.9 -2.1 4 -3.1 5.2 -1.7 2.6 -4.7 3.1 -4.1 4.1 -3.1 4.3 -2.6 5.3 -1.7 2.5 -4.9M903.9 452.7l4.2 -2.8 1.5 -6.1 4.5 -2.6 4.8 -2 4.6 -2.4 4.1 -3.1 1.4 -6.1 4.7 -2.3 3.9 -3.2 5.8 -0.9 3.1 -4.1 2.4 -5 3.9 -3.3 3.8 -3.3 6.4 -0.3 2.6 -4.7 3.5 -3.8 2.4 -4.9 4.7 -2.2M907.7 457.3l2.1 -5.5 4.1 -2.9 3.5 -3.6 5.5 -1.3 3.9 -3.4 2.8 -4.5 3.5 -3.6 3.5 -3.7 5.8 -0.9 3.4 -3.9 3.7 -3.4 2.6 -4.8 4 -3 5.3 -1.6 3.8 -3.4 4 -3 2 -5.5 4.6 -2.4 4.4 -2.6M909.9 459.9l4.2 -2.9 4.7 -2.3 2.2 -5.2 3.9 -3.2 3.9 -3.2 4.9 -2.1 4.3 -2.7 2.5 -4.8 3.9 -3.3 3.3 -3.8 5.6 -1.3 3.7 -3.5 3.4 -3.7 3.2 -4.1 3.5 -3.7 5.4 -1.4 3.6 -3.5 4.1 -3 2.4 -5M913.1 463.6l5.1 -1.7 3.2 -4.1 3.6 -3.5 2.3 -5.2 5.4 -1.4 4.3 -2.7 4.3 -2.8 3 -4.3 2.5 -4.8 5.1 -1.7 4.1 -3.1 5.1 -1.8 2.2 -5.2 3.3 -3.9 4.2 -2.9 4.6 -2.4 5.1 -1.7 2.1 -5.3 3.8 -3.4M917.1 468.4l4.1 -2.9 2.8 -4.6 3.3 -3.9 4.9 -2 4.1 -3 4.6 -2.3 2.3 -5.2 3.8 -3.3 4 -3 4.8 -2.2 4.4 -2.7 2.4 -4.9 4 -3.2 3.4 -3.8 5.4 -1.4 3.8 -3.3 3.2 -4 3.4 -3.9 3.4 -3.7M918.9 470.5l4.4 -2.6 4.4 -2.5 5.6 -1.2 1.9 -5.7 3.6 -3.5 3.1 -4.1 5.5 -1.4 4.9 -2 2.6 -4.8 3.5 -3.6 2.5 -5 6.1 -0.5 4.1 -3 3.9 -3.2 2.5 -4.9 2.9 -4.4 5.7 -1 4 -3.1 4.8 -2.2" fill="none" stroke="#c4c070" stroke-width="1.3"/>
<path d="M731.2 270.9l2.6 -4.8 6.6 0 3.9 -3.2 5 -1.9 0.8 -7 3.8 -3.3 5 -1.9 5 -1.8 4.9 -2.1 0.6 -7.1 4.4 -2.7 3.4 -3.7 6.7 0 3.7 -3.4 1.9 -5.5 3.5 -3.8 3.2 -4.1 7.3 0.9 2.9 -4.4M734.8 275.2l2.7 -4.7 6.3 -0.4 3.8 -3.3 4.5 -2.5 1.7 -5.9 3.5 -3.6 5.3 -1.6 4.4 -2.6 4.8 -2.2 1.1 -6.4 4.3 -2.8 3.9 -3.2 5.7 -1.1 4 -3 1.9 -5.7 3.9 -3.2 3.3 -3.9 6.6 -0.1 3.2 -4M740.2 281.5l1.5 -6 4.1 -3 3.2 -4 6.6 -0.1 3.4 -3.7 2.9 -4.5 2.9 -4.3 3.5 -3.7 6.6 -0.1 3.2 -4 3.9 -3.1 1.6 -6 4.5 -2.5 5.5 -1.4 4.1 -3 4 -3 1.1 -6.6 5 -1.8 4.3 -2.9M741.7 283.3l5.2 -1.6 3.4 -3.9 3.7 -3.4 2 -5.4 5.3 -1.6 4.4 -2.6 4.4 -2.6 3.1 -4.2 2.4 -5 5 -1.9 4 -3.1 5.3 -1.5 2.3 -5.1 3.3 -4 3.9 -3.2 4.6 -2.4 5.3 -1.5 2.3 -5.2 3.7 -3.4M746.1 288.6l4.2 -2.8 1.5 -6.2 4 -3 5.5 -1.3 4.3 -2.8 4.4 -2.6 0.9 -6.7 4.7 -2.3 4.2 -2.9 5.7 -1.1 3.6 -3.5 1.6 -5.9 4.3 -2.9 3.6 -3.5 6.7 0.1 2.7 -4.6 3 -4.3 2.8 -4.6 4.2 -2.8M749.7 292.9l4.7 -2.3 0.4 -7.4 4.7 -2.3 3.9 -3.1 6.3 -0.3 3.7 -3.6 1.4 -6.2 4 -3.1 3.4 -3.8 7.3 0.9 2.6 -4.7 3.1 -4.2 2.3 -5.2 4.2 -2.8 6.8 0.3 2.9 -4.4 4 -3.2 0.8 -6.9 5.4 -1.4M751.2 294.7l4.6 -2.4 5.1 -1.8 2.9 -4.4 3.7 -3.4 2.7 -4.7 5.2 -1.6 4.4 -2.6 3.8 -3.4 3.3 -4 2.6 -4.6 5.3 -1.7 4 -3.1 4.6 -2.3 2.6 -4.8 3.3 -4 4.5 -2.4 4.3 -2.8 4.9 -2 2.2 -5.2M756.3 300.7l3.3 -3.9 3.7 -3.5 2.6 -4.7 5.1 -1.8 4.2 -2.9 4.1 -2.9 3.2 -4.1 2.9 -4.4 4.8 -2.1 4 -3.1 4.9 -2.1 2.5 -4.8 3.5 -3.7 4.1 -3 4.4 -2.5 4.8 -2.2 2.6 -4.8 3.8 -3.3 3.3 -3.9M759.7 304.7l2.6 -4.7 3.5 -3.7 4.4 -2.6 4.3 -2.7 4.6 -2.3 2.5 -5 3.9 -3.2 3.6 -3.6 5 -1.9 4.2 -2.8 2.9 -4.4 3.7 -3.5 3.3 -3.9 5.4 -1.4 3.7 -3.5 3.7 -3.4 3 -4.3 3.6 -3.6 5.2 -1.7M761.7 307.2l2.1 -5.4 6.8 0.3 4 -3.1 4.2 -2.8 1.8 -5.7 2.9 -4.5 6.1 -0.6 4.1 -3 5.1 -1.7 0.8 -7 3.9 -3.1 4.5 -2.6 5.4 -1.4 4.7 -2.2 1 -6.7 4.2 -2.9 3.2 -4.1 6.8 0.3 3.6 -3.6M764.2 310.2l4.1 -3 5.7 -1.1 3.7 -3.4 4.2 -2.9 1.4 -6.2 4.8 -2.1 4.5 -2.6 5 -1.9 3.5 -3.6 1.8 -5.8 4.6 -2.3 3.8 -3.3 6.1 -0.6 2.7 -4.7 2.8 -4.5 3.5 -3.7 4.2 -2.8 6.1 -0.6 2.6 -4.8M768.3 315l3.9 -3.1 5.8 -1.1 2.6 -4.7 3.4 -3.8 3.1 -4.1 4.6 -2.4 5.4 -1.5 2.9 -4.4 3.7 -3.4 2.4 -5 5.3 -1.6 4.5 -2.4 3.9 -3.2 3.2 -4.1 2.4 -5 5.4 -1.5 4 -3 4.9 -2 2.4 -5M772.9 320.5l5 -1.8 0.8 -7 4.2 -2.8 3.5 -3.7 6.4 -0.2 4 -3.1 1.9 -5.6 3.5 -3.7 3.1 -4.2 7.1 0.6 3.2 -4.1 3.5 -3.7 1.9 -5.5 3.9 -3.2 6.5 -0.2 3.5 -3.7 4.2 -2.8 0.8 -6.9 4.9 -2M775.2 323.3l4.1 -3 5.1 -1.8 3 -4.3 2.7 -4.7 4.2 -2.7 4.1 -3 5.6 -1.3 2.5 -4.8 3.5 -3.7 3.2 -4 4.7 -2.3 5.2 -1.7 2.9 -4.4 3.7 -3.5 2.5 -4.8 5.3 -1.5 4.4 -2.6 3.9 -3.3 3.1 -4.1M779.2 328l2.8 -4.5 2.6 -4.7 6.8 0.2 3.6 -3.5 4.4 -2.6 1.4 -6.2 3.7 -3.6 5.6 -1.1 4.3 -2.7 4.8 -2.2 0.8 -6.9 4.4 -2.6 4.1 -3 5.8 -0.9 4 -3.2 1.5 -6.1 4 -3 3.4 -3.8 6.9 0.3M781.2 330.5l4.2 -2.9 3.8 -3.4 5.5 -1.2 4 -3.2 2.3 -5.1 3.8 -3.3 3.4 -3.9 6.1 -0.5 3.3 -3.9 3.5 -3.7 2.6 -4.8 3.9 -3.2 5.8 -0.9 3.5 -3.8 4.1 -3 1.7 -5.7 4.7 -2.3 4.7 -2.3 4.5 -2.5M785.6 335.7l4.8 -2.2 2.6 -4.7 3.5 -3.7 4.1 -3 4.4 -2.6 4.7 -2.3 2.7 -4.7 3.8 -3.3 3.3 -3.8 5.1 -1.9 4.2 -2.8 3.2 -4 3.6 -3.7 3.1 -4.1 5.3 -1.5 3.8 -3.3 4 -3.1 2.9 -4.5 3.6 -3.6M789.2 339.9l3.7 -3.4 2 -5.5 5.5 -1.2 4.7 -2.3 4 -3.2 3.1 -4.1 2.1 -5.4 5.5 -1.2 4.1 -3.1 5.2 -1.6 2.1 -5.4 2.9 -4.3 4.6 -2.5 4.4 -2.5 5.5 -1.3 1.8 -5.8 3.7 -3.4 3.2 -4 5.5 -1.4M793.1 344.7l3.3 -4.1 3.7 -3.3 2.7 -4.7 4.5 -2.5 4.8 -2.1 3.8 -3.4 3.8 -3.4 2.3 -5 4.8 -2.1 4.2 -2.9 4.6 -2.4 3.3 -4 2.7 -4.5 4.5 -2.6 4 -3.1 5.2 -1.7 2.7 -4.6 3.4 -3.7 3.6 -3.6M920 208.6l3.9 3.2 2.1 5.4 3.6 3.6 3.2 4 6.8 -0.2 3.1 4.1 3.6 3.6 2.1 5.3 4 3.2 6.1 0.5 3.5 3.7 4.2 2.9 1.1 6.5 4.9 2 4.8 2.1 4.9 2.1 3.6 3.5 1.3 6.3 4.9 2.1M914.7 215l4.1 2.9 5.9 0.9 2.5 4.8 3.6 3.6 2.7 4.7 4.9 2 5.2 1.6 3.2 4 3.6 3.6 2.1 5.4 5.5 1.3 4.3 2.7 4.5 2.6 2.8 4.4 2.5 5 5.1 1.7 4.1 3 5.3 1.5 2.1 5.4M912.1 218l4.3 2.8 5 1.9 2.1 5.3 2.4 5 5.2 1.7 4.3 2.7 5.8 1 1.4 6.2 3.4 3.7 3.6 3.6 5.4 1.5 5.3 1.5 1.8 5.7 3.7 3.4 2.5 4.9 6.5 0.2 4.2 2.8 3.3 4 2.7 4.6M909.9 220.6l3.5 3.7 1.4 6.3 5.1 1.8 4 3.1 6 0.6 2.5 4.9 2.4 5 4 3.1 4.2 2.8 6.4 0.3 2.1 5.3 3.5 3.8 2.4 4.9 5.3 1.6 5.5 1.2 3 4.4 3.5 3.7 1.6 5.8 6.1 0.7M904.2 227.5l5.4 1.3 3.9 3.3 4.4 2.6 2.4 5 3.6 3.6 4.7 2.2 4.3 2.8 4.5 2.4 2.1 5.4 4.1 3 3.8 3.3 5.1 1.8 4.1 3 2.6 4.8 3.8 3.3 3.4 3.8 5.7 1.1 3.5 3.6 3.5 3.8M901.7 230.5l2.2 5.2 6.1 0.6 4.1 3 5.4 1.3 1.1 6.6 3.4 3.8 4.5 2.5 5.1 1.8 5.3 1.5 1.1 6.6 3.9 3.2 3 4.2 6.5 0.1 4.3 2.8 2.3 5.1 3.2 4.1 2.7 4.6 7.1 -0.5 3.4 3.7M897.9 234.9l4.1 3 5 2 4.6 2.3 2 5.4 4 3.2 3.2 4 5.9 0.9 3.8 3.2 3.1 4.3 3.2 4 3.2 4 6 0.7 3.6 3.7 4 3 2.1 5.3 4 3.2 5.2 1.6 4.1 3 4.2 2.8M896 237.2l3.6 3.6 3.9 3.1 2.8 4.6 3.8 3.3 4.9 2 4 3.2 4.2 2.9 2.3 5 4.3 2.8 4.1 2.9 4.7 2.3 3.8 3.3 2.6 4.8 4.2 2.9 3.7 3.4 5.3 1.6 3.3 3.8 3.3 4 3.5 3.7M891.4 242.7l3.2 4 6.4 0.2 3.4 3.9 3.3 3.9 2.6 4.7 3.8 3.4 6.1 0.6 3.4 3.8 4.1 3 1.6 6 4.5 2.4 5 1.9 4.5 2.6 3.8 3.2 1.5 6.1 4.8 2.1 4 3.1 5.7 1.1 3.1 4.2M887.6 247.3l3.6 3.5 7.2 -0.8 2.6 4.9 3.4 3.7 1.8 5.8 4.7 2.2 6.3 0.3 3.3 4 3.9 3.2 0.7 7.1 5.6 1.1 4.8 2.1 5.1 1.8 3 4.4 1.1 6.5 5.4 1.4 4 3.1 6.6 0 1.7 5.8M884.1 251.4l5.3 1.5 4 3.2 4.5 2.4 2.5 4.9 3.4 3.8 4.6 2.4 4.3 2.8 4.8 2.1 2.2 5.2 3.8 3.3 3.7 3.4 5.1 1.9 4.3 2.7 2.7 4.7 3.7 3.4 3.2 4 5.6 1.2 3.8 3.4 3.5 3.6M881.9 254.1l4.8 2 3.4 3.8 3.6 3.6 2.5 5 5.2 1.6 4.2 2.9 4.4 2.6 2.9 4.4 2.8 4.4 4.9 2.1 4 3 5.1 1.9 2.3 5.1 3.5 3.6 4 3.2 4.6 2.3 4.9 2.1 2.4 4.9 3.8 3.4M879.5 256.9l2.5 4.9 3.9 3.2 3.6 3.6 5.6 1.1 3.4 3.8 3.4 3.9 3.1 4.2 3.9 3.2 5.5 1.3 3.3 3.8 4 3.2 2.3 5.1 4.5 2.5 4.7 2.2 4.2 2.9 3.7 3.4 2.2 5.3 4.7 2.2 4 3.1M875 262.3l3.8 3.3 2.9 4.4 5.9 0.8 4.2 2.9 3.1 4.1 3.1 4.2 2.9 4.4 6.1 0.6 3.7 3.4 4.3 2.8 2 5.4 3.6 3.6 5.3 1.6 4.1 2.9 4.7 2.3 1.5 6.1 4.2 2.8 4.1 3 5.3 1.6M872.7 265l4 3.1 1.6 5.9 4.8 2.2 4.2 2.8 5.2 1.7 3.3 3.9 2.2 5.2 4.4 2.7 3.8 3.3 6 0.7 2.6 4.7 3.2 4.1 3.2 4 4.5 2.6 5.7 1.1 2.8 4.5 3.7 3.4 2.2 5.2 5.2 1.6M867.7 271l3.3 3.8 6 0.7 5.3 1.6 1.5 6.1 3.6 3.6 2.3 5.1 7.1 -0.7 4 3.1 3.4 3.9 2.2 5.2 2.7 4.7 6.9 -0.4 3.7 3.4 4.8 2.2 0.7 7 3.9 3.2 5.4 1.5 4.8 2.1 4.8 2.2M864.7 274.5l3.5 3.7 4.7 2.3 5.4 1.4 2.5 4.8 3.7 3.5 2.5 4.8 5.6 1.3 4.5 2.4 3.6 3.7 3.2 4 2.4 5 5.7 1.1 4 3.1 4.6 2.3 2.3 5.1 3.1 4.2 4.9 2 4.3 2.7 5.1 1.9M862.4 277.2l4.6 2.4 3.2 4 3 4.4 2.3 5.1 6.4 0.3 3.9 3.1 4.6 2.4 1.7 5.8 3.2 4.1 5.4 1.4 4.3 2.7 5.2 1.7 1 6.7 4 3 3.9 3.2 5.7 1.1 4.5 2.6 1.6 5.9 3.9 3.2M857.1 283.5l5.3 1.6 4.8 2.1 3.6 3.6 3.4 3.9 2.1 5.2 5.6 1.3 4.1 2.9 4.8 2.2 2.4 4.9 2.9 4.5 4.8 2.1 4.3 2.8 5.3 1.6 1.9 5.5 3.6 3.6 3.6 3.5 5.1 1.8 4.9 2 2.3 5.1M789.4 340.3l5 1.9 4.2 2.9 3.3 3.9 1.4 6.2 5.6 1.2 4.1 2.9 5.6 1.2 2.2 5.2 2.5 5 4.5 2.5 4.3 2.6 6.2 0.6 1.6 5.9 3.5 3.7 2.9 4.4 5.5 1.3 5.4 1.4 2.4 5 3.5 3.7M786.1 344.2l3.3 3.9 4.3 2.8 4.5 2.5 5 1.9 2.2 5.2 3.8 3.3 3.3 4 5.3 1.5 4.5 2.6 2.8 4.4 3.6 3.7 2.9 4.4 5.7 1 3.9 3.3 3.9 3.1 2.7 4.7 3.3 3.9 5.3 1.5 4 3.2M781.2 350.1l5.9 0.8 5.1 1.8 3.1 4.2 3.1 4.1 1.9 5.6 6.4 0.3 4.1 2.9 4.7 2.3 1.9 5.6 2.7 4.7 5.5 1.2 4.3 2.8 5.5 1.3 1 6.6 3.7 3.5 4 3.1 5.5 1.3 4.9 2 1.5 6.1M778.6 353.2l5.2 1.6 4 3.1 4.7 2.3 2 5.5 3.9 3.2 4.2 2.8 4.8 2.2 4.4 2.6 2.1 5.3 4.1 3.1 3.4 3.7 5.7 1.1 3.7 3.5 3 4.2 3.4 3.9 3.5 3.7 5.7 1 3.4 3.8 3.9 3.2M775.2 357.2l7 -0.5 2.5 4.9 3.5 3.7 1.9 5.7 4.8 2 6.1 0.7 3.3 3.9 3.8 3.4 0.9 6.7 5.7 1 4.7 2.4 5 1.8 2.8 4.5 1.5 6.2 5.3 1.5 4.1 3 6.3 0.3 1.7 5.8 2.8 4.6M774.3 358.4l2.5 4.8 3.7 3.5 2.9 4.4 5.7 1 4 3.1 3.6 3.6 2.9 4.3 3.1 4.2 5.7 1.1 3.8 3.4 4.4 2.6 2.1 5.4 3.8 3.3 4.7 2.2 4.4 2.6 4.5 2.5 1.8 5.7 4.3 2.8 3.8 3.3M769 364.6l3.8 3.4 6.6 0 2.6 4.7 2.4 5 3.5 3.7 4.1 3 6.8 -0.3 2.3 5.2 3.6 3.5 1.8 5.7 5.3 1.6 5.7 1.1 3.3 3.8 3.6 3.7 1.1 6.5 6 0.7 4.4 2.6 5.1 1.8 2.4 5M767.4 366.5l1 6.7 4.9 2 4.9 2 4.9 2.1 3.7 3.4 1.1 6.6 5 1.9 3.9 3.2 6.2 0.4 2.7 4.7 2.3 5.1 3.8 3.3 4.1 3 6.7 -0.1 2.1 5.3 3.5 3.7 2.2 5.2 5.2 1.7 5.8 1M762.9 371.9l2.7 4.6 5.3 1.6 4.6 2.3 3.4 3.9 3.4 3.8 2.5 4.9 5.5 1.2 4.1 3 4.4 2.6 2.6 4.8 3 4.2 5 2 4.2 2.9 4.9 1.9 2 5.5 3.8 3.4 3.9 3.2 4.9 2 4.7 2.3M759.1 376.4l3.7 3.5 3 4.3 6.9 -0.4 3.4 3.8 3.3 3.9 2.3 5.1 3.6 3.7 6.5 0.1 3.4 3.7 4.3 2.7 1.1 6.7 4.5 2.4 5.2 1.7 4.7 2.3 4 3 0.9 6.8 4.9 2 3.9 3.2 6.2 0.5M756.9 379l4.4 2.7 1.6 5.9 4.4 2.6 4.3 2.8 5 1.8 3.9 3.3 2 5.5 4.2 2.8 3.7 3.4 5.9 0.8 3.2 4.2 3 4.3 3.3 3.9 3.9 3.1 6 0.8 3 4.3 3.7 3.4 2.2 5.2 4.8 2.2M753 383.7l5 1.9 2.7 4.7 3.2 4 4.1 3 4.3 2.7 5.1 1.8 2.5 4.8 3.8 3.4 3.2 4.1 5 1.8 4.6 2.5 3.1 4.1 3.5 3.6 2.9 4.5 5.4 1.4 4 3.1 4 3 2.9 4.5 3.2 4M750.7 386.4l0.7 7 5 1.9 5.5 1.4 4.5 2.4 3.8 3.4 0.5 7.2 5.4 1.5 4.1 2.9 6.3 0.4 2.6 4.8 1.7 5.7 4.3 2.9 4.1 3 7 -0.6 1.8 5.7 3.2 4 2.4 5.1 5.2 1.6 6.3 0.4M747.3 390.5l3 4.3 1.6 5.9 6.1 0.6 4.1 3 5.3 1.5 1.8 5.7 2.7 4.7 4.9 2 4.5 2.5 5.8 0.9 1.2 6.4 3.7 3.6 3.3 3.9 5.7 1 5.1 1.8 2 5.5 3.5 3.6 2.4 5 6.7 -0.1M742.1 396.7l4.6 2.4 4.8 2.1 4.3 2.7 1.6 6 4.3 2.7 3.7 3.5 5.9 0.8 3.5 3.7 2.6 4.8 3.5 3.7 3.6 3.5 6.3 0.4 3 4.3 3.7 3.4 2.2 5.2 4.4 2.6 5.6 1.3 3.6 3.6 3.9 3.1M738.2 401.4l5.6 1.1 4.9 2.1 2.8 4.5 3.4 3.8 2.3 5.1 6.2 0.5 4 3 4.2 2.9 2.3 5.1 2.9 4.4 5.6 1.2 4.1 3 5 1.9 1.4 6.2 3.8 3.3 4.3 2.7 5.1 1.8 4.7 2.3 1.6 5.9M735 405.1l6.5 0.1 3.1 4.2 3.9 3.2 1.7 5.9 4.6 2.4 5.5 1.3 3.9 3.2 3.9 3.1 1.3 6.4 5.1 1.8 4.3 2.7 5.4 1.5 3 4.2 1.9 5.6 4.6 2.4 4 3.1 6.2 0.4 2.3 5.2 3.1 4.2M733.2 407.3l4.6 2.3 3.7 3.5 1.6 6 4.8 2.1 4 3.1 5.8 0.9 2.8 4.6 2.6 4.7 3.8 3.3 4.2 2.9 6.1 0.6 2.4 5 3.6 3.6 2.5 4.9 5 1.8 5.4 1.5 3.1 4.1 3.6 3.6 1.9 5.7M728.7 412.7l5.4 1.4 4.1 2.9 2.9 4.4 3.5 3.7 3.2 4.1 5.8 1 3.6 3.5 3.9 3.2 2.6 4.8 3.7 3.5 5.2 1.6 3.9 3.2 4.3 2.7 2 5.5 4.3 2.8 4.3 2.7 4.7 2.2 4 3.2 2.2 5.2M862 402.7l3.4 -3.7 2.4 -5 3.3 -4 6.3 -0.3 3.6 -3.5 4.5 -2.6 1.2 -6.4 4.3 -2.8 5 -1.9 4.7 -2.2 4.3 -2.8 1.1 -6.5 4.6 -2.4 3.8 -3.3 6.1 -0.6 3.3 -3.9 2.1 -5.3 3.8 -3.4 3.7 -3.4M865.3 406.7l3.6 -3.6 3.4 -3.8 2.9 -4.4 3.7 -3.5 5.6 -1.1 3.6 -3.6 4.1 -3 2 -5.4 4.4 -2.7 4.7 -2.2 4.4 -2.7 3.9 -3.1 2 -5.6 4.5 -2.4 4 -3.1 5.3 -1.5 3.3 -4 2.6 -4.7 4 -3.1M866.9 408.6l5.1 -1.7 4.7 -2.4 2.4 -4.9 3.7 -3.5 3 -4.3 5.9 -0.8 3.9 -3.2 3.5 -3.7 2.9 -4.4 3.2 -4.1 5.7 -1 3.7 -3.4 4.4 -2.7 2 -5.5 3.9 -3.2 4.8 -2.1 4.4 -2.6 4.4 -2.7 1.8 -5.7M870.5 412.9l4 -3.1 6.4 -0.3 2.1 -5.3 2.7 -4.7 3.5 -3.6 4.6 -2.4 6.4 -0.2 2 -5.5 3.6 -3.6 2 -5.4 5.8 -1 5.3 -1.5 3.2 -4.1 3.2 -4 1.6 -6 6.3 -0.3 4.2 -2.8 4.9 -2.1 2 -5.5M876.5 420.1l1.8 -5.7 2.4 -5.1 4.4 -2.5 4.6 -2.4 6.4 -0.3 1.3 -6.3 3.5 -3.7 2.7 -4.7 5.9 -0.8 5.5 -1.3 2.2 -5.2 3.4 -3.8 1.8 -5.7 6.8 0.2 4.3 -2.8 4 -3 2.2 -5.3 2.3 -5.1 6.3 -0.3M878.2 422.1l1.5 -6 5 -2 5.7 -1.1 3.8 -3.3 3.7 -3.4 1 -6.8 5.5 -1.2 4.4 -2.6 5.5 -1.4 2.7 -4.6 1.7 -5.8 4.9 -2.1 4.1 -3 6.4 -0.1 1.8 -5.8 3 -4.2 3.3 -4 5 -1.9 6.1 -0.6M880 424.3l4.9 -2.1 4.7 -2.2 4.5 -2.5 1.4 -6.3 4.3 -2.7 3.6 -3.5 6 -0.7 3.7 -3.5 2.3 -5.1 3.6 -3.6 3.5 -3.7 6.5 -0.1 3 -4.3 3.6 -3.6 2.2 -5.1 4.3 -2.9 5.8 -0.8 3.5 -3.8 4 -3M883.5 428.3l4.9 -1.9 4.8 -2.2 4.1 -2.9 1.2 -6.5 4.6 -2.3 3.8 -3.3 6.2 -0.6 3.2 -4 2.2 -5.2 3.7 -3.4 3.8 -3.4 6.6 0 2.7 -4.7 3.4 -3.8 2.3 -5.1 4.6 -2.3 5.9 -0.8 3.2 -4.1 3.9 -3.3M888.9 434.9l2.5 -4.9 3.6 -3.6 3.7 -3.5 4.7 -2.2 4.7 -2.2 2.8 -4.6 3.7 -3.4 3.1 -4.3 5.3 -1.5 4.1 -2.9 3.6 -3.6 3.2 -4.1 3.1 -4.1 5.3 -1.5 3.9 -3.3 4.3 -2.7 2.5 -4.9 3.7 -3.5 4.6 -2.3M891.6 438l3.5 -3.6 2.1 -5.4 5.6 -1.2 4.3 -2.7 4.4 -2.6 2.8 -4.6 2.5 -4.9 5.2 -1.6 4.1 -3 5.3 -1.5 1.9 -5.6 3.4 -3.8 4 -3.1 4.8 -2.1 5.2 -1.7 2 -5.5 3.8 -3.3 3 -4.4 5.7 -0.9M896 443.3l2.8 -4.6 3.7 -3.3 1.8 -5.8 5.3 -1.6 5.1 -1.7 3.9 -3.2 3.4 -3.8 1.5 -6.1 5.6 -1.2 4.2 -2.9 5.3 -1.5 2.4 -5 2.4 -5 4.7 -2.3 4.3 -2.7 5.9 -0.8 1.8 -5.8 3.4 -3.7 3.2 -4.1M897.7 445.3l4.8 -2.1 3.6 -3.6 2.5 -4.9 4.3 -2.7 3.8 -3.3 5.4 -1.4 3.1 -4.3 3.3 -3.9 3.4 -3.8 4.2 -2.8 5.3 -1.5 3.1 -4.3 3.7 -3.3 2.7 -4.8 4.8 -2.1 4.6 -2.3 3.8 -3.4 3.6 -3.6 2.4 -4.9M900.2 448.2l4.4 -2.6 5.2 -1.6 3.3 -3.9 3.8 -3.3 2.3 -5.2 5 -1.9 4.4 -2.6 4.3 -2.7 3.3 -3.9 2.5 -5 4.8 -2 4 -3.1 5.2 -1.7 2.6 -4.8 3.2 -4.1 4 -3 4.4 -2.7 5.2 -1.6 2.5 -4.9M905.1 454.1l4.2 -2.8 1.5 -6.1 4.5 -2.5 4.9 -2.1 4.6 -2.3 4 -3.1 1.4 -6.2 4.7 -2.2 3.9 -3.3 5.8 -0.8 3.2 -4.2 2.4 -5 3.8 -3.3 3.9 -3.2 6.3 -0.4 2.6 -4.7 3.5 -3.7 2.5 -4.9 4.7 -2.3M908.9 458.7l2.1 -5.4 4.1 -3 3.6 -3.6 5.5 -1.3 3.8 -3.3 2.8 -4.5 3.5 -3.6 3.5 -3.8 5.8 -0.9 3.4 -3.8 3.7 -3.4 2.6 -4.8 4.1 -3.1 5.3 -1.5 3.7 -3.4 4.1 -3 1.9 -5.5 4.6 -2.4 4.4 -2.6M911.2 461.4l4.1 -2.9 4.7 -2.3 2.2 -5.2 3.9 -3.2 3.9 -3.3 4.9 -2 4.3 -2.8 2.6 -4.7 3.8 -3.3 3.4 -3.9 5.5 -1.3 3.7 -3.4 3.4 -3.8 3.2 -4.1 3.5 -3.6 5.5 -1.4 3.6 -3.6 4 -3 2.4 -5M914.3 465.1l5.2 -1.7 3.1 -4.1 3.7 -3.5 2.2 -5.2 5.4 -1.4 4.3 -2.7 4.3 -2.8 3 -4.3 2.5 -4.9 5.2 -1.7 4 -3 5.1 -1.8 2.2 -5.2 3.4 -3.9 4.1 -2.9 4.6 -2.4 5.1 -1.8 2.2 -5.3 3.8 -3.3M918.3 469.8l4.2 -2.8 2.7 -4.6 3.3 -4 4.9 -1.9 4.1 -3.1 4.6 -2.3 2.3 -5.2 3.8 -3.3 4.1 -3 4.7 -2.2 4.4 -2.6 2.4 -5 4 -3.1 3.4 -3.9 5.4 -1.3 3.8 -3.3 3.3 -4.1 3.3 -3.8 3.4 -3.8M920.1 472l4.4 -2.6 4.5 -2.6 5.5 -1.1 1.9 -5.7 3.7 -3.5 3 -4.2 5.5 -1.3 4.9 -2 2.6 -4.8 3.5 -3.7 2.5 -4.9 6.1 -0.5 4.1 -3.1 3.9 -3.2 2.5 -4.8 2.9 -4.4 5.8 -1 3.9 -3.2 4.8 -2.1" fill="none" stroke="#f8f6ec" stroke-width="1.7"/>
</g>
<rect x="827.2" y="255.1" width="68.8" height="164.2" fill="#5c5a36"/>
<rect x="781.1" y="308.6" width="163.2" height="69.4" fill="#5c5a36"/>
<g clip-path="url(#cf3t)">
<path d="M823.5 255.1l-0.1 4.7 -0.5 4.7 -0.7 4.7 -0.4 4.7 0 4.7 0.2 4.8 0.2 4.7 0.3 4.7 0.6 4.7 0.4 4.7 0.1 4.7 -0.5 4.7M826.7 255.1l-0.5 4.7 0 4.7 0.4 4.7 0.5 4.7 0.3 4.7 0.4 4.8 0.4 4.7 0 4.7 -0.5 4.7 -0.8 4.7 -0.5 4.7 0 4.7M831.2 255.1l0.7 4.7 0.5 4.7 0.1 4.7 -0.1 4.7 -0.2 4.7 -0.2 4.8 -0.4 4.7 -0.5 4.7 -0.2 4.7 0.2 4.7 0.5 4.7 0.5 4.7M837.1 255.1l-0.4 4.7 -0.5 4.7 -0.3 4.7 0 4.7 0 4.7 0 4.8 0.3 4.7 0.6 4.7 0.4 4.7 -0.1 4.7 -0.3 4.7 -0.4 4.7M840.2 255.1l-0.3 4.7 0.2 4.7 0.7 4.7 0.7 4.7 0.3 4.7 0 4.8 -0.2 4.7 -0.2 4.7 -0.4 4.7 -0.7 4.7 -0.4 4.7 0.1 4.7M846 255.1l-0.3 4.7 -0.2 4.7 -0.1 4.7 -0.2 4.7 -0.1 4.7 0.1 4.8 0.4 4.7 0.3 4.7 0.2 4.7 -0.1 4.7 -0.1 4.7 -0.1 4.7M850.9 255.1l0.4 4.7 -0.1 4.7 -0.5 4.7 -0.4 4.7 -0.4 4.7 -0.4 4.8 -0.3 4.7 0 4.7 0.6 4.7 0.8 4.7 0.5 4.7 0 4.7M854.3 255.1l-0.2 4.7 0.2 4.7 0.5 4.7 0.5 4.7 0.2 4.7 -0.1 4.8 -0.2 4.7 -0.2 4.7 -0.3 4.7 -0.4 4.7 -0.3 4.7 0.2 4.7M858.9 255.1l-0.7 4.7 0 4.7 0.6 4.7 0.6 4.7 0.4 4.7 0.3 4.8 0.2 4.7 0.1 4.7 -0.5 4.7 -0.8 4.7 -0.7 4.7 -0.1 4.7M864.2 255.1l-0.7 4.7 -0.4 4.7 0.1 4.7 0.2 4.7 0.2 4.7 0.4 4.8 0.6 4.7 0.5 4.7 -0.1 4.7 -0.6 4.7 -0.6 4.7 -0.4 4.7M869.5 255.1l-0.2 4.7 -0.4 4.7 -0.4 4.7 -0.3 4.7 -0.2 4.7 -0.1 4.8 0.1 4.7 0.4 4.7 0.6 4.7 0.4 4.7 -0.1 4.7 -0.3 4.7M872.5 255.1l-0.2 4.7 0.3 4.7 0.4 4.7 0.3 4.7 0.3 4.7 0.3 4.8 0.1 4.7 -0.2 4.7 -0.6 4.7 -0.6 4.7 -0.1 4.7 0.1 4.7M878.9 255.1l-0.5 4.7 -0.6 4.7 -0.4 4.7 -0.3 4.7 -0.2 4.7 0 4.8 0.4 4.7 0.8 4.7 0.6 4.7 0.1 4.7 -0.3 4.7 -0.3 4.7M883 255.1l-0.2 4.7 -0.5 4.7 -0.4 4.7 -0.1 4.7 0.1 4.7 0.2 4.8 0.2 4.7 0.3 4.7 0.3 4.7 0.2 4.7 -0.2 4.7 -0.4 4.7M887.6 255.1l0.3 4.7 -0.1 4.7 -0.2 4.7 -0.2 4.7 -0.4 4.7 -0.7 4.8 -0.4 4.7 0.2 4.7 0.5 4.7 0.6 4.7 0.3 4.7 0.2 4.7M890.8 255.1l0.7 4.7 0.5 4.7 0.3 4.7 0 4.7 0 4.7 -0.1 4.8 -0.6 4.7 -0.7 4.7 -0.4 4.7 0.2 4.7 0.5 4.7 0.4 4.7M897 255.1l0.1 4.7 -0.2 4.7 -0.6 4.7 -0.8 4.7 -0.4 4.7 0.2 4.8 0.4 4.7 0.4 4.7 0.3 4.7 0.5 4.7 0.4 4.7 -0.1 4.7M902 255.1l-0.5 4.7 -0.8 4.7 -0.5 4.7 -0.2 4.7 0 4.7 0 4.8 0.3 4.7 0.7 4.7 0.8 4.7 0.2 4.7 -0.4 4.7 -0.6 4.7" fill="none" stroke="#16160a" stroke-width="2.1"/>
<path d="M825.6 255.1l-0.1 4.7 -0.5 4.7 -0.7 4.7 -0.4 4.7 0 4.7 0.2 4.8 0.2 4.7 0.3 4.7 0.6 4.7 0.4 4.7 0.1 4.7 -0.5 4.7M828.8 255.1l-0.5 4.7 0 4.7 0.4 4.7 0.5 4.7 0.3 4.7 0.4 4.8 0.4 4.7 0 4.7 -0.5 4.7 -0.8 4.7 -0.5 4.7 0 4.7M833.3 255.1l0.7 4.7 0.5 4.7 0.1 4.7 -0.1 4.7 -0.2 4.7 -0.2 4.8 -0.4 4.7 -0.5 4.7 -0.2 4.7 0.2 4.7 0.5 4.7 0.5 4.7M839.2 255.1l-0.4 4.7 -0.5 4.7 -0.3 4.7 0 4.7 0 4.7 0 4.8 0.3 4.7 0.6 4.7 0.4 4.7 -0.1 4.7 -0.3 4.7 -0.4 4.7M842.3 255.1l-0.3 4.7 0.2 4.7 0.7 4.7 0.7 4.7 0.3 4.7 0 4.8 -0.2 4.7 -0.2 4.7 -0.4 4.7 -0.7 4.7 -0.4 4.7 0.1 4.7M848.1 255.1l-0.3 4.7 -0.2 4.7 -0.1 4.7 -0.2 4.7 -0.1 4.7 0.1 4.8 0.4 4.7 0.3 4.7 0.2 4.7 -0.1 4.7 -0.1 4.7 -0.1 4.7M853 255.1l0.4 4.7 -0.1 4.7 -0.5 4.7 -0.4 4.7 -0.4 4.7 -0.4 4.8 -0.3 4.7 0 4.7 0.6 4.7 0.8 4.7 0.5 4.7 0 4.7M856.4 255.1l-0.2 4.7 0.2 4.7 0.5 4.7 0.5 4.7 0.2 4.7 -0.1 4.8 -0.2 4.7 -0.2 4.7 -0.3 4.7 -0.4 4.7 -0.3 4.7 0.2 4.7M861 255.1l-0.7 4.7 0 4.7 0.6 4.7 0.6 4.7 0.4 4.7 0.3 4.8 0.2 4.7 0.1 4.7 -0.5 4.7 -0.8 4.7 -0.7 4.7 -0.1 4.7M866.3 255.1l-0.7 4.7 -0.4 4.7 0.1 4.7 0.2 4.7 0.2 4.7 0.4 4.8 0.6 4.7 0.5 4.7 -0.1 4.7 -0.6 4.7 -0.6 4.7 -0.4 4.7M871.6 255.1l-0.2 4.7 -0.4 4.7 -0.4 4.7 -0.3 4.7 -0.2 4.7 -0.1 4.8 0.1 4.7 0.4 4.7 0.6 4.7 0.4 4.7 -0.1 4.7 -0.3 4.7M874.6 255.1l-0.2 4.7 0.3 4.7 0.4 4.7 0.3 4.7 0.3 4.7 0.3 4.8 0.1 4.7 -0.2 4.7 -0.6 4.7 -0.6 4.7 -0.1 4.7 0.1 4.7M881 255.1l-0.5 4.7 -0.6 4.7 -0.4 4.7 -0.3 4.7 -0.2 4.7 0 4.8 0.4 4.7 0.8 4.7 0.6 4.7 0.1 4.7 -0.3 4.7 -0.3 4.7M885.1 255.1l-0.2 4.7 -0.5 4.7 -0.4 4.7 -0.1 4.7 0.1 4.7 0.2 4.8 0.2 4.7 0.3 4.7 0.3 4.7 0.2 4.7 -0.2 4.7 -0.4 4.7M889.7 255.1l0.3 4.7 -0.1 4.7 -0.2 4.7 -0.2 4.7 -0.4 4.7 -0.7 4.8 -0.4 4.7 0.2 4.7 0.5 4.7 0.6 4.7 0.3 4.7 0.2 4.7M892.9 255.1l0.7 4.7 0.5 4.7 0.3 4.7 0 4.7 0 4.7 -0.1 4.8 -0.6 4.7 -0.7 4.7 -0.4 4.7 0.2 4.7 0.5 4.7 0.4 4.7M899.1 255.1l0.1 4.7 -0.2 4.7 -0.6 4.7 -0.8 4.7 -0.4 4.7 0.2 4.8 0.4 4.7 0.4 4.7 0.3 4.7 0.5 4.7 0.4 4.7 -0.1 4.7M904.1 255.1l-0.5 4.7 -0.8 4.7 -0.5 4.7 -0.2 4.7 0 4.7 0 4.8 0.3 4.7 0.7 4.7 0.8 4.7 0.2 4.7 -0.4 4.7 -0.6 4.7" fill="none" stroke="#d8d690" stroke-width="1.3"/>
<path d="M826.9 255.1l-0.1 4.7 -0.5 4.7 -0.7 4.7 -0.4 4.7 0 4.7 0.2 4.8 0.2 4.7 0.3 4.7 0.6 4.7 0.4 4.7 0.1 4.7 -0.5 4.7M830.1 255.1l-0.5 4.7 0 4.7 0.4 4.7 0.5 4.7 0.3 4.7 0.4 4.8 0.4 4.7 0 4.7 -0.5 4.7 -0.8 4.7 -0.5 4.7 0 4.7M834.6 255.1l0.7 4.7 0.5 4.7 0.1 4.7 -0.1 4.7 -0.2 4.7 -0.2 4.8 -0.4 4.7 -0.5 4.7 -0.2 4.7 0.2 4.7 0.5 4.7 0.5 4.7M840.5 255.1l-0.4 4.7 -0.5 4.7 -0.3 4.7 0 4.7 0 4.7 0 4.8 0.3 4.7 0.6 4.7 0.4 4.7 -0.1 4.7 -0.3 4.7 -0.4 4.7M843.6 255.1l-0.3 4.7 0.2 4.7 0.7 4.7 0.7 4.7 0.3 4.7 0 4.8 -0.2 4.7 -0.2 4.7 -0.4 4.7 -0.7 4.7 -0.4 4.7 0.1 4.7M849.4 255.1l-0.3 4.7 -0.2 4.7 -0.1 4.7 -0.2 4.7 -0.1 4.7 0.1 4.8 0.4 4.7 0.3 4.7 0.2 4.7 -0.1 4.7 -0.1 4.7 -0.1 4.7M854.3 255.1l0.4 4.7 -0.1 4.7 -0.5 4.7 -0.4 4.7 -0.4 4.7 -0.4 4.8 -0.3 4.7 0 4.7 0.6 4.7 0.8 4.7 0.5 4.7 0 4.7M857.7 255.1l-0.2 4.7 0.2 4.7 0.5 4.7 0.5 4.7 0.2 4.7 -0.1 4.8 -0.2 4.7 -0.2 4.7 -0.3 4.7 -0.4 4.7 -0.3 4.7 0.2 4.7M862.3 255.1l-0.7 4.7 0 4.7 0.6 4.7 0.6 4.7 0.4 4.7 0.3 4.8 0.2 4.7 0.1 4.7 -0.5 4.7 -0.8 4.7 -0.7 4.7 -0.1 4.7M867.6 255.1l-0.7 4.7 -0.4 4.7 0.1 4.7 0.2 4.7 0.2 4.7 0.4 4.8 0.6 4.7 0.5 4.7 -0.1 4.7 -0.6 4.7 -0.6 4.7 -0.4 4.7M872.9 255.1l-0.2 4.7 -0.4 4.7 -0.4 4.7 -0.3 4.7 -0.2 4.7 -0.1 4.8 0.1 4.7 0.4 4.7 0.6 4.7 0.4 4.7 -0.1 4.7 -0.3 4.7M875.9 255.1l-0.2 4.7 0.3 4.7 0.4 4.7 0.3 4.7 0.3 4.7 0.3 4.8 0.1 4.7 -0.2 4.7 -0.6 4.7 -0.6 4.7 -0.1 4.7 0.1 4.7M882.3 255.1l-0.5 4.7 -0.6 4.7 -0.4 4.7 -0.3 4.7 -0.2 4.7 0 4.8 0.4 4.7 0.8 4.7 0.6 4.7 0.1 4.7 -0.3 4.7 -0.3 4.7M886.4 255.1l-0.2 4.7 -0.5 4.7 -0.4 4.7 -0.1 4.7 0.1 4.7 0.2 4.8 0.2 4.7 0.3 4.7 0.3 4.7 0.2 4.7 -0.2 4.7 -0.4 4.7M891 255.1l0.3 4.7 -0.1 4.7 -0.2 4.7 -0.2 4.7 -0.4 4.7 -0.7 4.8 -0.4 4.7 0.2 4.7 0.5 4.7 0.6 4.7 0.3 4.7 0.2 4.7M894.2 255.1l0.7 4.7 0.5 4.7 0.3 4.7 0 4.7 0 4.7 -0.1 4.8 -0.6 4.7 -0.7 4.7 -0.4 4.7 0.2 4.7 0.5 4.7 0.4 4.7M900.4 255.1l0.1 4.7 -0.2 4.7 -0.6 4.7 -0.8 4.7 -0.4 4.7 0.2 4.8 0.4 4.7 0.4 4.7 0.3 4.7 0.5 4.7 0.4 4.7 -0.1 4.7M905.4 255.1l-0.5 4.7 -0.8 4.7 -0.5 4.7 -0.2 4.7 0 4.7 0 4.8 0.3 4.7 0.7 4.7 0.8 4.7 0.2 4.7 -0.4 4.7 -0.6 4.7" fill="none" stroke="#f4f2e0" stroke-width="1"/>
</g>
<g clip-path="url(#cf3b)">
<path d="M822.6 375l-0.1 4.9 -0.2 4.9 -0.1 5 -0.1 4.9 0.3 4.9 0.4 4.9 0.2 5 0 4.9 -0.1 4.9M827.1 375l-0.2 4.9 -0.1 4.9 -0.1 5 0.1 4.9 0.3 4.9 0.5 4.9 0.2 5 -0.1 4.9 -0.2 4.9M832.6 375l0.4 4.9 -0.3 4.9 -0.7 5 -0.6 4.9 -0.3 4.9 -0.1 4.9 -0.1 5 0.3 4.9 0.8 4.9M835.7 375l0 4.9 0.4 4.9 0.5 5 0.3 4.9 0 4.9 0 4.9 -0.1 5 -0.4 4.9 -0.5 4.9M841.4 375l0.3 4.9 0.2 4.9 -0.2 5 -0.6 4.9 -0.7 4.9 -0.3 4.9 0.2 5 0.3 4.9 0.2 4.9M845.9 375l-0.4 4.9 -0.3 4.9 -0.1 5 0.2 4.9 0.1 4.9 0.1 4.9 0.3 5 0.3 4.9 0 4.9M850.8 375l-0.5 4.9 -0.5 4.9 -0.2 5 0 4.9 0.2 4.9 0.2 4.9 0.3 5 0.5 4.9 0.2 4.9M854 375l-0.2 4.9 0.4 4.9 0.6 5 0.5 4.9 0.1 4.9 0.1 4.9 -0.1 5 -0.3 4.9 -0.6 4.9M859.9 375l-0.9 4.9 -0.5 4.9 0 5 0.2 4.9 0.2 4.9 0.4 4.9 0.8 5 0.5 4.9 -0.1 4.9M864.4 375l0.2 4.9 0.1 4.9 0 5 -0.3 4.9 -0.6 4.9 -0.6 4.9 -0.1 5 0.3 4.9 0.5 4.9M867.9 375l0.1 4.9 0.4 4.9 0.5 5 0.2 4.9 0 4.9 0 4.9 -0.2 5 -0.4 4.9 -0.5 4.9M873.9 375l-0.2 4.9 -0.3 4.9 -0.4 5 -0.5 4.9 -0.3 4.9 0.3 4.9 0.7 5 0.5 4.9 0.2 4.9M877.2 375l-0.4 4.9 0.2 4.9 0.6 5 0.5 4.9 0.3 4.9 0.1 4.9 0.1 5 -0.2 4.9 -0.7 4.9M881.5 375l0.1 4.9 0.4 4.9 0.4 5 0.3 4.9 0.2 4.9 0.3 4.9 -0.1 5 -0.5 4.9 -0.7 4.9M886.8 375l-0.5 4.9 0 4.9 0.2 5 0.2 4.9 0.3 4.9 0.4 4.9 0.5 5 -0.1 4.9 -0.5 4.9M891.7 375l0.6 4.9 0.1 4.9 -0.2 5 -0.2 4.9 -0.3 4.9 -0.5 4.9 -0.5 5 -0.1 4.9 0.5 4.9M896.5 375l-0.2 4.9 -0.5 4.9 -0.4 5 0 4.9 0.5 4.9 0.4 4.9 0.3 5 0.1 4.9 0.1 4.9M901.1 375l0.6 4.9 0 4.9 -0.4 5 -0.5 4.9 -0.3 4.9 -0.3 4.9 -0.2 5 0 4.9 0.5 4.9" fill="none" stroke="#16160a" stroke-width="2.1"/>
<path d="M824.7 375l-0.1 4.9 -0.2 4.9 -0.1 5 -0.1 4.9 0.3 4.9 0.4 4.9 0.2 5 0 4.9 -0.1 4.9M829.2 375l-0.2 4.9 -0.1 4.9 -0.1 5 0.1 4.9 0.3 4.9 0.5 4.9 0.2 5 -0.1 4.9 -0.2 4.9M834.7 375l0.4 4.9 -0.3 4.9 -0.7 5 -0.6 4.9 -0.3 4.9 -0.1 4.9 -0.1 5 0.3 4.9 0.8 4.9M837.8 375l0 4.9 0.4 4.9 0.5 5 0.3 4.9 0 4.9 0 4.9 -0.1 5 -0.4 4.9 -0.5 4.9M843.5 375l0.3 4.9 0.2 4.9 -0.2 5 -0.6 4.9 -0.7 4.9 -0.3 4.9 0.2 5 0.3 4.9 0.2 4.9M848 375l-0.4 4.9 -0.3 4.9 -0.1 5 0.2 4.9 0.1 4.9 0.1 4.9 0.3 5 0.3 4.9 0 4.9M852.9 375l-0.5 4.9 -0.5 4.9 -0.2 5 0 4.9 0.2 4.9 0.2 4.9 0.3 5 0.5 4.9 0.2 4.9M856.1 375l-0.2 4.9 0.4 4.9 0.6 5 0.5 4.9 0.1 4.9 0.1 4.9 -0.1 5 -0.3 4.9 -0.6 4.9M862 375l-0.9 4.9 -0.5 4.9 0 5 0.2 4.9 0.2 4.9 0.4 4.9 0.8 5 0.5 4.9 -0.1 4.9M866.5 375l0.2 4.9 0.1 4.9 0 5 -0.3 4.9 -0.6 4.9 -0.6 4.9 -0.1 5 0.3 4.9 0.5 4.9M870 375l0.1 4.9 0.4 4.9 0.5 5 0.2 4.9 0 4.9 0 4.9 -0.2 5 -0.4 4.9 -0.5 4.9M876 375l-0.2 4.9 -0.3 4.9 -0.4 5 -0.5 4.9 -0.3 4.9 0.3 4.9 0.7 5 0.5 4.9 0.2 4.9M879.3 375l-0.4 4.9 0.2 4.9 0.6 5 0.5 4.9 0.3 4.9 0.1 4.9 0.1 5 -0.2 4.9 -0.7 4.9M883.6 375l0.1 4.9 0.4 4.9 0.4 5 0.3 4.9 0.2 4.9 0.3 4.9 -0.1 5 -0.5 4.9 -0.7 4.9M888.9 375l-0.5 4.9 0 4.9 0.2 5 0.2 4.9 0.3 4.9 0.4 4.9 0.5 5 -0.1 4.9 -0.5 4.9M893.8 375l0.6 4.9 0.1 4.9 -0.2 5 -0.2 4.9 -0.3 4.9 -0.5 4.9 -0.5 5 -0.1 4.9 0.5 4.9M898.6 375l-0.2 4.9 -0.5 4.9 -0.4 5 0 4.9 0.5 4.9 0.4 4.9 0.3 5 0.1 4.9 0.1 4.9M903.2 375l0.6 4.9 0 4.9 -0.4 5 -0.5 4.9 -0.3 4.9 -0.3 4.9 -0.2 5 0 4.9 0.5 4.9" fill="none" stroke="#d8d690" stroke-width="1.3"/>
<path d="M826 375l-0.1 4.9 -0.2 4.9 -0.1 5 -0.1 4.9 0.3 4.9 0.4 4.9 0.2 5 0 4.9 -0.1 4.9M830.5 375l-0.2 4.9 -0.1 4.9 -0.1 5 0.1 4.9 0.3 4.9 0.5 4.9 0.2 5 -0.1 4.9 -0.2 4.9M836 375l0.4 4.9 -0.3 4.9 -0.7 5 -0.6 4.9 -0.3 4.9 -0.1 4.9 -0.1 5 0.3 4.9 0.8 4.9M839.1 375l0 4.9 0.4 4.9 0.5 5 0.3 4.9 0 4.9 0 4.9 -0.1 5 -0.4 4.9 -0.5 4.9M844.8 375l0.3 4.9 0.2 4.9 -0.2 5 -0.6 4.9 -0.7 4.9 -0.3 4.9 0.2 5 0.3 4.9 0.2 4.9M849.3 375l-0.4 4.9 -0.3 4.9 -0.1 5 0.2 4.9 0.1 4.9 0.1 4.9 0.3 5 0.3 4.9 0 4.9M854.2 375l-0.5 4.9 -0.5 4.9 -0.2 5 0 4.9 0.2 4.9 0.2 4.9 0.3 5 0.5 4.9 0.2 4.9M857.4 375l-0.2 4.9 0.4 4.9 0.6 5 0.5 4.9 0.1 4.9 0.1 4.9 -0.1 5 -0.3 4.9 -0.6 4.9M863.3 375l-0.9 4.9 -0.5 4.9 0 5 0.2 4.9 0.2 4.9 0.4 4.9 0.8 5 0.5 4.9 -0.1 4.9M867.8 375l0.2 4.9 0.1 4.9 0 5 -0.3 4.9 -0.6 4.9 -0.6 4.9 -0.1 5 0.3 4.9 0.5 4.9M871.3 375l0.1 4.9 0.4 4.9 0.5 5 0.2 4.9 0 4.9 0 4.9 -0.2 5 -0.4 4.9 -0.5 4.9M877.3 375l-0.2 4.9 -0.3 4.9 -0.4 5 -0.5 4.9 -0.3 4.9 0.3 4.9 0.7 5 0.5 4.9 0.2 4.9M880.6 375l-0.4 4.9 0.2 4.9 0.6 5 0.5 4.9 0.3 4.9 0.1 4.9 0.1 5 -0.2 4.9 -0.7 4.9M884.9 375l0.1 4.9 0.4 4.9 0.4 5 0.3 4.9 0.2 4.9 0.3 4.9 -0.1 5 -0.5 4.9 -0.7 4.9M890.2 375l-0.5 4.9 0 4.9 0.2 5 0.2 4.9 0.3 4.9 0.4 4.9 0.5 5 -0.1 4.9 -0.5 4.9M895.1 375l0.6 4.9 0.1 4.9 -0.2 5 -0.2 4.9 -0.3 4.9 -0.5 4.9 -0.5 5 -0.1 4.9 0.5 4.9M899.9 375l-0.2 4.9 -0.5 4.9 -0.4 5 0 4.9 0.5 4.9 0.4 4.9 0.3 5 0.1 4.9 0.1 4.9M904.5 375l0.6 4.9 0 4.9 -0.4 5 -0.5 4.9 -0.3 4.9 -0.3 4.9 -0.2 5 0 4.9 0.5 4.9" fill="none" stroke="#f4f2e0" stroke-width="1"/>
</g>
<g clip-path="url(#cf3l)">
<path d="M781.1 303.6l4.9 -0.5 4.9 0 4.9 0.2 4.9 0.3 5 0.4 4.9 0.7 4.9 0.5 4.9 -0.2 4.9 -0.7 4.9 -0.6M781.1 308.1l4.9 -0.2 4.9 0.1 4.9 0.5 4.9 0.6 5 0.3 4.9 -0.2 4.9 -0.3 4.9 -0.2 4.9 -0.3 4.9 -0.4M781.1 313.5l4.9 0.3 4.9 0 4.9 -0.4 4.9 -0.4 5 -0.3 4.9 0 4.9 0.1 4.9 0.1 4.9 0.3 4.9 0.4M781.1 318l4.9 0.5 4.9 0.2 4.9 -0.4 4.9 -0.4 5 -0.3 4.9 -0.2 4.9 -0.3 4.9 0 4.9 0.3 4.9 0.7M781.1 321.5l4.9 0 4.9 0.3 4.9 0.3 4.9 0.3 5 0.5 4.9 0.5 4.9 0 4.9 -0.6 4.9 -0.7 4.9 -0.4M781.1 327.4l4.9 0.4 4.9 0 4.9 -0.1 4.9 -0.2 5 -0.5 4.9 -0.7 4.9 -0.4 4.9 0.2 4.9 0.6 4.9 0.5M781.1 331.3l4.9 0.7 4.9 0.6 4.9 0 4.9 -0.4 5 -0.5 4.9 -0.4 4.9 -0.3 4.9 -0.3 4.9 0 4.9 0.6M781.1 337.1l4.9 -0.2 4.9 -0.4 4.9 -0.3 4.9 -0.3 5 -0.4 4.9 -0.3 4.9 0.4 4.9 0.6 4.9 0.6 4.9 0.1M781.1 340.4l4.9 -0.3 4.9 -0.2 4.9 0.1 4.9 0.6 5 0.8 4.9 0.4 4.9 -0.2 4.9 -0.3 4.9 -0.3 4.9 -0.4M781.1 345.5l4.9 0.3 4.9 0.2 4.9 0.2 4.9 -0.1 5 -0.4 4.9 -0.8 4.9 -0.4 4.9 0.1 4.9 0.3 4.9 0.4M781.1 349.5l4.9 0.6 4.9 0.6 4.9 0.1 4.9 -0.2 5 -0.3 4.9 -0.3 4.9 -0.4 4.9 -0.4 4.9 0 4.9 0.4M781.1 355.4l4.9 -0.5 4.9 -0.6 4.9 -0.3 4.9 0 5 0 4.9 0.2 4.9 0.4 4.9 0.5 4.9 0.4 4.9 -0.2M781.1 359.7l4.9 0 4.9 -0.2 4.9 -0.5 4.9 -0.4 5 0 4.9 0.2 4.9 0.3 4.9 0.2 4.9 0.2 4.9 0.3M781.1 363.6l4.9 0.2 4.9 0.4 4.9 0.3 4.9 -0.1 5 -0.4 4.9 -0.4 4.9 -0.2 4.9 -0.1 4.9 0 4.9 0.1M781.1 367.8l4.9 0.2 4.9 0.3 4.9 0.2 4.9 0.1 5 0.2 4.9 0.1 4.9 -0.2 4.9 -0.4 4.9 -0.3 4.9 -0.1M781.1 372.6l4.9 0.3 4.9 0.4 4.9 0.5 4.9 0.3 5 -0.3 4.9 -0.8 4.9 -0.6 4.9 -0.2 4.9 0 4.9 0.2M781.1 377.4l4.9 0.5 4.9 0.2 4.9 0 4.9 0 5 -0.1 4.9 -0.4 4.9 -0.5 4.9 -0.2 4.9 0.2 4.9 0.3M781.1 381.8l4.9 0.3 4.9 0.5 4.9 0.5 4.9 0 5 -0.5 4.9 -0.6 4.9 -0.3 4.9 -0.1 4.9 -0.1 4.9 0.1M781.1 385.9l4.9 0.8 4.9 0.7 4.9 0.3 4.9 -0.1 5 -0.2 4.9 -0.2 4.9 -0.6 4.9 -0.6 4.9 -0.3 4.9 0.3" fill="none" stroke="#16160a" stroke-width="2.1"/>
<path d="M781.1 305.7l4.9 -0.5 4.9 0 4.9 0.2 4.9 0.3 5 0.4 4.9 0.7 4.9 0.5 4.9 -0.2 4.9 -0.7 4.9 -0.6M781.1 310.2l4.9 -0.2 4.9 0.1 4.9 0.5 4.9 0.6 5 0.3 4.9 -0.2 4.9 -0.3 4.9 -0.2 4.9 -0.3 4.9 -0.4M781.1 315.6l4.9 0.3 4.9 0 4.9 -0.4 4.9 -0.4 5 -0.3 4.9 0 4.9 0.1 4.9 0.1 4.9 0.3 4.9 0.4M781.1 320.1l4.9 0.5 4.9 0.2 4.9 -0.4 4.9 -0.4 5 -0.3 4.9 -0.2 4.9 -0.3 4.9 0 4.9 0.3 4.9 0.7M781.1 323.6l4.9 0 4.9 0.3 4.9 0.3 4.9 0.3 5 0.5 4.9 0.5 4.9 0 4.9 -0.6 4.9 -0.7 4.9 -0.4M781.1 329.5l4.9 0.4 4.9 0 4.9 -0.1 4.9 -0.2 5 -0.5 4.9 -0.7 4.9 -0.4 4.9 0.2 4.9 0.6 4.9 0.5M781.1 333.4l4.9 0.7 4.9 0.6 4.9 0 4.9 -0.4 5 -0.5 4.9 -0.4 4.9 -0.3 4.9 -0.3 4.9 0 4.9 0.6M781.1 339.2l4.9 -0.2 4.9 -0.4 4.9 -0.3 4.9 -0.3 5 -0.4 4.9 -0.3 4.9 0.4 4.9 0.6 4.9 0.6 4.9 0.1M781.1 342.5l4.9 -0.3 4.9 -0.2 4.9 0.1 4.9 0.6 5 0.8 4.9 0.4 4.9 -0.2 4.9 -0.3 4.9 -0.3 4.9 -0.4M781.1 347.6l4.9 0.3 4.9 0.2 4.9 0.2 4.9 -0.1 5 -0.4 4.9 -0.8 4.9 -0.4 4.9 0.1 4.9 0.3 4.9 0.4M781.1 351.6l4.9 0.6 4.9 0.6 4.9 0.1 4.9 -0.2 5 -0.3 4.9 -0.3 4.9 -0.4 4.9 -0.4 4.9 0 4.9 0.4M781.1 357.5l4.9 -0.5 4.9 -0.6 4.9 -0.3 4.9 0 5 0 4.9 0.2 4.9 0.4 4.9 0.5 4.9 0.4 4.9 -0.2M781.1 361.8l4.9 0 4.9 -0.2 4.9 -0.5 4.9 -0.4 5 0 4.9 0.2 4.9 0.3 4.9 0.2 4.9 0.2 4.9 0.3M781.1 365.7l4.9 0.2 4.9 0.4 4.9 0.3 4.9 -0.1 5 -0.4 4.9 -0.4 4.9 -0.2 4.9 -0.1 4.9 0 4.9 0.1M781.1 369.9l4.9 0.2 4.9 0.3 4.9 0.2 4.9 0.1 5 0.2 4.9 0.1 4.9 -0.2 4.9 -0.4 4.9 -0.3 4.9 -0.1M781.1 374.7l4.9 0.3 4.9 0.4 4.9 0.5 4.9 0.3 5 -0.3 4.9 -0.8 4.9 -0.6 4.9 -0.2 4.9 0 4.9 0.2M781.1 379.5l4.9 0.5 4.9 0.2 4.9 0 4.9 0 5 -0.1 4.9 -0.4 4.9 -0.5 4.9 -0.2 4.9 0.2 4.9 0.3M781.1 383.9l4.9 0.3 4.9 0.5 4.9 0.5 4.9 0 5 -0.5 4.9 -0.6 4.9 -0.3 4.9 -0.1 4.9 -0.1 4.9 0.1M781.1 388l4.9 0.8 4.9 0.7 4.9 0.3 4.9 -0.1 5 -0.2 4.9 -0.2 4.9 -0.6 4.9 -0.6 4.9 -0.3 4.9 0.3" fill="none" stroke="#d8d690" stroke-width="1.3"/>
<path d="M781.1 307l4.9 -0.5 4.9 0 4.9 0.2 4.9 0.3 5 0.4 4.9 0.7 4.9 0.5 4.9 -0.2 4.9 -0.7 4.9 -0.6M781.1 311.5l4.9 -0.2 4.9 0.1 4.9 0.5 4.9 0.6 5 0.3 4.9 -0.2 4.9 -0.3 4.9 -0.2 4.9 -0.3 4.9 -0.4M781.1 316.9l4.9 0.3 4.9 0 4.9 -0.4 4.9 -0.4 5 -0.3 4.9 0 4.9 0.1 4.9 0.1 4.9 0.3 4.9 0.4M781.1 321.4l4.9 0.5 4.9 0.2 4.9 -0.4 4.9 -0.4 5 -0.3 4.9 -0.2 4.9 -0.3 4.9 0 4.9 0.3 4.9 0.7M781.1 324.9l4.9 0 4.9 0.3 4.9 0.3 4.9 0.3 5 0.5 4.9 0.5 4.9 0 4.9 -0.6 4.9 -0.7 4.9 -0.4M781.1 330.8l4.9 0.4 4.9 0 4.9 -0.1 4.9 -0.2 5 -0.5 4.9 -0.7 4.9 -0.4 4.9 0.2 4.9 0.6 4.9 0.5M781.1 334.7l4.9 0.7 4.9 0.6 4.9 0 4.9 -0.4 5 -0.5 4.9 -0.4 4.9 -0.3 4.9 -0.3 4.9 0 4.9 0.6M781.1 340.5l4.9 -0.2 4.9 -0.4 4.9 -0.3 4.9 -0.3 5 -0.4 4.9 -0.3 4.9 0.4 4.9 0.6 4.9 0.6 4.9 0.1M781.1 343.8l4.9 -0.3 4.9 -0.2 4.9 0.1 4.9 0.6 5 0.8 4.9 0.4 4.9 -0.2 4.9 -0.3 4.9 -0.3 4.9 -0.4M781.1 348.9l4.9 0.3 4.9 0.2 4.9 0.2 4.9 -0.1 5 -0.4 4.9 -0.8 4.9 -0.4 4.9 0.1 4.9 0.3 4.9 0.4M781.1 352.9l4.9 0.6 4.9 0.6 4.9 0.1 4.9 -0.2 5 -0.3 4.9 -0.3 4.9 -0.4 4.9 -0.4 4.9 0 4.9 0.4M781.1 358.8l4.9 -0.5 4.9 -0.6 4.9 -0.3 4.9 0 5 0 4.9 0.2 4.9 0.4 4.9 0.5 4.9 0.4 4.9 -0.2M781.1 363.1l4.9 0 4.9 -0.2 4.9 -0.5 4.9 -0.4 5 0 4.9 0.2 4.9 0.3 4.9 0.2 4.9 0.2 4.9 0.3M781.1 367l4.9 0.2 4.9 0.4 4.9 0.3 4.9 -0.1 5 -0.4 4.9 -0.4 4.9 -0.2 4.9 -0.1 4.9 0 4.9 0.1M781.1 371.2l4.9 0.2 4.9 0.3 4.9 0.2 4.9 0.1 5 0.2 4.9 0.1 4.9 -0.2 4.9 -0.4 4.9 -0.3 4.9 -0.1M781.1 376l4.9 0.3 4.9 0.4 4.9 0.5 4.9 0.3 5 -0.3 4.9 -0.8 4.9 -0.6 4.9 -0.2 4.9 0 4.9 0.2M781.1 380.8l4.9 0.5 4.9 0.2 4.9 0 4.9 0 5 -0.1 4.9 -0.4 4.9 -0.5 4.9 -0.2 4.9 0.2 4.9 0.3M781.1 385.2l4.9 0.3 4.9 0.5 4.9 0.5 4.9 0 5 -0.5 4.9 -0.6 4.9 -0.3 4.9 -0.1 4.9 -0.1 4.9 0.1M781.1 389.3l4.9 0.8 4.9 0.7 4.9 0.3 4.9 -0.1 5 -0.2 4.9 -0.2 4.9 -0.6 4.9 -0.6 4.9 -0.3 4.9 0.3" fill="none" stroke="#f4f2e0" stroke-width="1"/>
</g>
<g clip-path="url(#cf3r)">
<path d="M893 303.8l4.7 -0.4 4.6 0 4.7 0.2 4.7 0.3 4.6 0.2 4.7 0.2 4.6 0.2 4.7 0.1 4.7 -0.2 4.6 -0.4 4.7 -0.4M893 307.8l4.7 0.6 4.6 0.6 4.7 0.2 4.7 0.1 4.6 0 4.7 -0.1 4.6 -0.4 4.7 -0.7 4.7 -0.5 4.6 0.1 4.7 0.4M893 313.1l4.7 0.1 4.6 0.3 4.7 0.3 4.7 0 4.6 -0.3 4.7 -0.4 4.6 -0.3 4.7 -0.1 4.7 0.1 4.6 0 4.7 0.2M893 317.6l4.7 -0.7 4.6 -0.2 4.7 0.3 4.7 0.6 4.6 0.4 4.7 0.3 4.6 0.2 4.7 0.2 4.7 -0.1 4.6 -0.7 4.7 -0.7M893 323.4l4.7 -0.5 4.6 -0.4 4.7 -0.4 4.7 -0.5 4.6 -0.4 4.7 0.1 4.6 0.7 4.7 0.9 4.7 0.4 4.6 0 4.7 -0.1M893 327l4.7 0.5 4.6 0.2 4.7 0.2 4.7 0 4.6 -0.3 4.7 -0.7 4.6 -0.8 4.7 -0.3 4.7 0.3 4.6 0.5 4.7 0.4M893 331.3l4.7 -0.2 4.6 -0.2 4.7 0.1 4.7 0.4 4.6 0.5 4.7 0.3 4.6 0 4.7 -0.2 4.7 -0.1 4.6 -0.3 4.7 -0.3M893 335.1l4.7 0.5 4.6 0.7 4.7 0.5 4.7 0.1 4.6 0 4.7 0 4.6 -0.3 4.7 -0.6 4.7 -0.7 4.6 -0.2 4.7 0.3M893 340.1l4.7 0.1 4.6 0.3 4.7 0.2 4.7 0.3 4.6 0.3 4.7 0.2 4.6 0 4.7 -0.4 4.7 -0.6 4.6 -0.2 4.7 -0.1M893 346.1l4.7 0 4.6 -0.2 4.7 -0.4 4.7 -0.2 4.6 -0.2 4.7 -0.3 4.6 -0.2 4.7 0.3 4.7 0.5 4.6 0.5 4.7 0.1M893 349.3l4.7 0 4.6 0.4 4.7 0.5 4.7 0.3 4.6 0 4.7 0 4.6 -0.1 4.7 -0.2 4.7 -0.5 4.6 -0.4 4.7 0M893 354l4.7 0.1 4.6 0.4 4.7 0.3 4.7 0.1 4.6 0.1 4.7 0.1 4.6 -0.1 4.7 -0.3 4.7 -0.4 4.6 -0.3 4.7 0.1M893 359.1l4.7 -0.7 4.6 -0.3 4.7 0.3 4.7 0.4 4.6 0.3 4.7 0.4 4.6 0.4 4.7 0.4 4.7 -0.2 4.6 -0.6 4.7 -0.7M893 363.3l4.7 0.1 4.6 0.5 4.7 0.4 4.7 0.2 4.6 -0.2 4.7 -0.3 4.6 -0.2 4.7 -0.2 4.7 -0.3 4.6 -0.2 4.7 0.1M893 368.1l4.7 -0.3 4.6 0.1 4.7 0.2 4.7 0.2 4.6 0.2 4.7 0.2 4.6 0.2 4.7 0 4.7 -0.3 4.6 -0.4 4.7 -0.2M893 373.3l4.7 -0.1 4.6 -0.2 4.7 -0.3 4.7 -0.3 4.6 0 4.7 0.3 4.6 0.4 4.7 0.2 4.7 0.1 4.6 0.1 4.7 0M893 378.7l4.7 -0.7 4.6 -0.7 4.7 -0.4 4.7 -0.1 4.6 -0.1 4.7 0.1 4.6 0.5 4.7 0.8 4.7 0.6 4.6 0.1 4.7 -0.5M893 382.3l4.7 0.5 4.6 0.2 4.7 0.1 4.7 0 4.6 -0.3 4.7 -0.8 4.6 -0.8 4.7 -0.3 4.7 0.4 4.6 0.6 4.7 0.4M893 386.5l4.7 -0.2 4.6 -0.2 4.7 0.2 4.7 0.5 4.6 0.4 4.7 0.2 4.6 -0.1 4.7 -0.1 4.7 -0.2 4.6 -0.3 4.7 -0.4" fill="none" stroke="#16160a" stroke-width="2.1"/>
<path d="M893 305.9l4.7 -0.4 4.6 0 4.7 0.2 4.7 0.3 4.6 0.2 4.7 0.2 4.6 0.2 4.7 0.1 4.7 -0.2 4.6 -0.4 4.7 -0.4M893 309.9l4.7 0.6 4.6 0.6 4.7 0.2 4.7 0.1 4.6 0 4.7 -0.1 4.6 -0.4 4.7 -0.7 4.7 -0.5 4.6 0.1 4.7 0.4M893 315.2l4.7 0.1 4.6 0.3 4.7 0.3 4.7 0 4.6 -0.3 4.7 -0.4 4.6 -0.3 4.7 -0.1 4.7 0.1 4.6 0 4.7 0.2M893 319.7l4.7 -0.7 4.6 -0.2 4.7 0.3 4.7 0.6 4.6 0.4 4.7 0.3 4.6 0.2 4.7 0.2 4.7 -0.1 4.6 -0.7 4.7 -0.7M893 325.5l4.7 -0.5 4.6 -0.4 4.7 -0.4 4.7 -0.5 4.6 -0.4 4.7 0.1 4.6 0.7 4.7 0.9 4.7 0.4 4.6 0 4.7 -0.1M893 329.1l4.7 0.5 4.6 0.2 4.7 0.2 4.7 0 4.6 -0.3 4.7 -0.7 4.6 -0.8 4.7 -0.3 4.7 0.3 4.6 0.5 4.7 0.4M893 333.4l4.7 -0.2 4.6 -0.2 4.7 0.1 4.7 0.4 4.6 0.5 4.7 0.3 4.6 0 4.7 -0.2 4.7 -0.1 4.6 -0.3 4.7 -0.3M893 337.2l4.7 0.5 4.6 0.7 4.7 0.5 4.7 0.1 4.6 0 4.7 0 4.6 -0.3 4.7 -0.6 4.7 -0.7 4.6 -0.2 4.7 0.3M893 342.2l4.7 0.1 4.6 0.3 4.7 0.2 4.7 0.3 4.6 0.3 4.7 0.2 4.6 0 4.7 -0.4 4.7 -0.6 4.6 -0.2 4.7 -0.1M893 348.2l4.7 0 4.6 -0.2 4.7 -0.4 4.7 -0.2 4.6 -0.2 4.7 -0.3 4.6 -0.2 4.7 0.3 4.7 0.5 4.6 0.5 4.7 0.1M893 351.4l4.7 0 4.6 0.4 4.7 0.5 4.7 0.3 4.6 0 4.7 0 4.6 -0.1 4.7 -0.2 4.7 -0.5 4.6 -0.4 4.7 0M893 356.1l4.7 0.1 4.6 0.4 4.7 0.3 4.7 0.1 4.6 0.1 4.7 0.1 4.6 -0.1 4.7 -0.3 4.7 -0.4 4.6 -0.3 4.7 0.1M893 361.2l4.7 -0.7 4.6 -0.3 4.7 0.3 4.7 0.4 4.6 0.3 4.7 0.4 4.6 0.4 4.7 0.4 4.7 -0.2 4.6 -0.6 4.7 -0.7M893 365.4l4.7 0.1 4.6 0.5 4.7 0.4 4.7 0.2 4.6 -0.2 4.7 -0.3 4.6 -0.2 4.7 -0.2 4.7 -0.3 4.6 -0.2 4.7 0.1M893 370.2l4.7 -0.3 4.6 0.1 4.7 0.2 4.7 0.2 4.6 0.2 4.7 0.2 4.6 0.2 4.7 0 4.7 -0.3 4.6 -0.4 4.7 -0.2M893 375.4l4.7 -0.1 4.6 -0.2 4.7 -0.3 4.7 -0.3 4.6 0 4.7 0.3 4.6 0.4 4.7 0.2 4.7 0.1 4.6 0.1 4.7 0M893 380.8l4.7 -0.7 4.6 -0.7 4.7 -0.4 4.7 -0.1 4.6 -0.1 4.7 0.1 4.6 0.5 4.7 0.8 4.7 0.6 4.6 0.1 4.7 -0.5M893 384.4l4.7 0.5 4.6 0.2 4.7 0.1 4.7 0 4.6 -0.3 4.7 -0.8 4.6 -0.8 4.7 -0.3 4.7 0.4 4.6 0.6 4.7 0.4M893 388.6l4.7 -0.2 4.6 -0.2 4.7 0.2 4.7 0.5 4.6 0.4 4.7 0.2 4.6 -0.1 4.7 -0.1 4.7 -0.2 4.6 -0.3 4.7 -0.4" fill="none" stroke="#d8d690" stroke-width="1.3"/>
<path d="M893 307.2l4.7 -0.4 4.6 0 4.7 0.2 4.7 0.3 4.6 0.2 4.7 0.2 4.6 0.2 4.7 0.1 4.7 -0.2 4.6 -0.4 4.7 -0.4M893 311.2l4.7 0.6 4.6 0.6 4.7 0.2 4.7 0.1 4.6 0 4.7 -0.1 4.6 -0.4 4.7 -0.7 4.7 -0.5 4.6 0.1 4.7 0.4M893 316.5l4.7 0.1 4.6 0.3 4.7 0.3 4.7 0 4.6 -0.3 4.7 -0.4 4.6 -0.3 4.7 -0.1 4.7 0.1 4.6 0 4.7 0.2M893 321l4.7 -0.7 4.6 -0.2 4.7 0.3 4.7 0.6 4.6 0.4 4.7 0.3 4.6 0.2 4.7 0.2 4.7 -0.1 4.6 -0.7 4.7 -0.7M893 326.8l4.7 -0.5 4.6 -0.4 4.7 -0.4 4.7 -0.5 4.6 -0.4 4.7 0.1 4.6 0.7 4.7 0.9 4.7 0.4 4.6 0 4.7 -0.1M893 330.4l4.7 0.5 4.6 0.2 4.7 0.2 4.7 0 4.6 -0.3 4.7 -0.7 4.6 -0.8 4.7 -0.3 4.7 0.3 4.6 0.5 4.7 0.4M893 334.7l4.7 -0.2 4.6 -0.2 4.7 0.1 4.7 0.4 4.6 0.5 4.7 0.3 4.6 0 4.7 -0.2 4.7 -0.1 4.6 -0.3 4.7 -0.3M893 338.5l4.7 0.5 4.6 0.7 4.7 0.5 4.7 0.1 4.6 0 4.7 0 4.6 -0.3 4.7 -0.6 4.7 -0.7 4.6 -0.2 4.7 0.3M893 343.5l4.7 0.1 4.6 0.3 4.7 0.2 4.7 0.3 4.6 0.3 4.7 0.2 4.6 0 4.7 -0.4 4.7 -0.6 4.6 -0.2 4.7 -0.1M893 349.5l4.7 0 4.6 -0.2 4.7 -0.4 4.7 -0.2 4.6 -0.2 4.7 -0.3 4.6 -0.2 4.7 0.3 4.7 0.5 4.6 0.5 4.7 0.1M893 352.7l4.7 0 4.6 0.4 4.7 0.5 4.7 0.3 4.6 0 4.7 0 4.6 -0.1 4.7 -0.2 4.7 -0.5 4.6 -0.4 4.7 0M893 357.4l4.7 0.1 4.6 0.4 4.7 0.3 4.7 0.1 4.6 0.1 4.7 0.1 4.6 -0.1 4.7 -0.3 4.7 -0.4 4.6 -0.3 4.7 0.1M893 362.5l4.7 -0.7 4.6 -0.3 4.7 0.3 4.7 0.4 4.6 0.3 4.7 0.4 4.6 0.4 4.7 0.4 4.7 -0.2 4.6 -0.6 4.7 -0.7M893 366.7l4.7 0.1 4.6 0.5 4.7 0.4 4.7 0.2 4.6 -0.2 4.7 -0.3 4.6 -0.2 4.7 -0.2 4.7 -0.3 4.6 -0.2 4.7 0.1M893 371.5l4.7 -0.3 4.6 0.1 4.7 0.2 4.7 0.2 4.6 0.2 4.7 0.2 4.6 0.2 4.7 0 4.7 -0.3 4.6 -0.4 4.7 -0.2M893 376.7l4.7 -0.1 4.6 -0.2 4.7 -0.3 4.7 -0.3 4.6 0 4.7 0.3 4.6 0.4 4.7 0.2 4.7 0.1 4.6 0.1 4.7 0M893 382.1l4.7 -0.7 4.6 -0.7 4.7 -0.4 4.7 -0.1 4.6 -0.1 4.7 0.1 4.6 0.5 4.7 0.8 4.7 0.6 4.6 0.1 4.7 -0.5M893 385.7l4.7 0.5 4.6 0.2 4.7 0.1 4.7 0 4.6 -0.3 4.7 -0.8 4.6 -0.8 4.7 -0.3 4.7 0.4 4.6 0.6 4.7 0.4M893 389.9l4.7 -0.2 4.6 -0.2 4.7 0.2 4.7 0.5 4.6 0.4 4.7 0.2 4.6 -0.1 4.7 -0.1 4.7 -0.2 4.6 -0.3 4.7 -0.4" fill="none" stroke="#f4f2e0" stroke-width="1"/>
</g>
<rect x="830.2" y="311.6" width="62.8" height="63.4" fill="#3e3e26"/>
<ellipse cx="863.6" cy="343.3" rx="14" ry="18" fill="#9a9460"/>
<g clip-path="url(#cf3c)">
<path d="M879.1 277.8l0.6 5.5 0.7 5.4 7.9 1.3 1.2 5.1 0.1 5.8 4 3.5 -0.1 5.9 5.4 2.7 5.2 2.8 -2.3 7.2 3.2 4 3.3 3.9 1.6 4.9 6.7 2 -0.3 6 -0.7 6.3 6.1 2.2 1.8 4.9 3.6 3.7M872.4 281.6l3.6 3.8 2 4.7 2.6 4.3 5.7 2.5 -0.3 6.1 1 5.2 4.7 3.1 1.5 5 4.5 3.3 2.6 4.3 -1.3 6.6 4.7 3.1 3.7 3.7 1.5 4.9 4.2 3.4 -0.3 6.1 1.8 4.7 6.3 2.3 1.1 5.2M869.5 283.3l1.3 5.1 4.9 3 2.3 4.5 -1.3 6.6 4.9 3 3.4 3.9 1.8 4.7 4.3 3.4 -0.7 6.3 2.1 4.6 6.2 2.2 1 5.3 2.7 4.3 2.3 4.5 -0.2 5.9 6 2.4 3.4 3.8 -0.1 6 3.6 3.7M862.9 287.1l6.6 2.1 0.9 5.3 0.5 5.5 4 3.6 0.9 5.2 4.8 3.1 4 3.5 -1.5 6.7 3.5 3.9 3.5 3.8 1.9 4.7 5.2 2.8 0 5.9 0.4 5.6 5.8 2.5 1.8 4.7 3 4.1 3 4.1 -1.1 6.5M860.4 288.6l3.2 4 2.6 4.3 -2 7 6.2 2.2 4.8 3.1 -0.5 6.1 3.9 3.6 0.1 5.8 2.1 4.6 7.9 1.3 -0.3 6 0.8 5.4 3.9 3.6 0.2 5.7 6.3 2.2 3.7 3.7 -2.6 7.3 4.3 3.3 2.9 4.2M856 291.1l1.6 4.9 1.3 5.1 6.1 2.3 1.7 4.9 0.6 5.5 3.6 3.7 1.1 5.2 4.2 3.4 4.3 3.3 -0.8 6.4 2.9 4.1 3.4 3.9 1.9 4.7 5 3 0.8 5.4 0.2 5.7 5.2 2.8 2.1 4.6 2.9 4.2M852.6 293.1l2.9 4.1 -1.8 6.9 4.6 3.2 3.4 3.9 2 4.7 4.8 3 -0.9 6.3 1.5 5 6.3 2.2 1.2 5.1 3 4.2 2.4 4.4 -0.9 6.3 5.9 2.5 4 3.5 -0.1 5.9 3.7 3.7 0.6 5.5 2.6 4.3M850.8 294.1l-3.7 8 4.5 3.2 0.7 5.4 2.8 4.3 9.4 0.4 -3 7.5 -0.4 6.1 6.3 2.2 0.2 5.7 7 1.8 2.9 4.2 -5.3 8.8 6.6 2.1 4.4 3.3 1.2 5.1 6.3 2.2 -3.6 7.9 1 5.3 9.7 0.2M845.4 297.2l-3.6 8 3.5 3.7 6 2.5 0.6 5.4 5.2 2.8 -0.2 6 -1.1 6.5 8.3 1 2.1 4.6 1.1 5.2 3.8 3.6 -2.1 7.1 5.3 2.8 6.9 1.9 -1.9 6.8 3.1 4.1 1.8 4.8 0.8 5.4 8.5 0.9M833.8 303.9l4.2 3.4 7.7 1.4 -0.7 6.2 4.4 3.4 0.1 5.7 -1.2 6.6 9.8 0.1 2 4.7 -1 6.4 4.5 3.3 -1.6 6.7 5.7 2.6 7.6 1.4 -3.8 8 2.7 4.3 3.4 3.9 0.8 5.3 8.8 0.8 -0.2 6M835.5 302.9l-3.9 8.2 6.5 2 2.5 4.4 3 4.1 6.1 2.3 -4.3 8.3 2.4 4.5 7.9 1.3 0 5.8 4.7 3.1 0.8 5.4 -2.7 7.4 9.1 0.6 3.4 3.8 -0.7 6.3 4.5 3.2 -2.1 7 4.4 3.4 8.7 0.7M828.4 307l1.7 4.9 0.9 5.3 9.1 0.6 0.1 5.8 -1.8 6.9 5.6 2.5 0.6 5.5 5.4 2.8 5.2 2.8 -4.4 8.4 3.8 3.6 5.4 2.7 0.9 5.3 6.3 2.2 -1.1 6.5 -1.4 6.6 8.6 0.9 1.8 4.8 2 4.7M823.2 310l6.1 2.3 -0.4 6.1 2.5 4.4 2.4 4.4 1 5.3 6.6 2 1.8 4.8 -0.8 6.3 4.5 3.3 1.5 4.9 3.8 3.7 5 3 -1.8 6.8 2.5 4.4 4.8 3 1.4 5.1 4.9 3 0.9 5.3 -0.7 6.3M817.5 313.3l6.8 1.9 0.9 5.4 1.7 4.8 3 4.1 0 5.9 5.8 2.4 3.9 3.6 -1.1 6.5 3.6 3.7 2 4.7 2.5 4.4 6.1 2.3 -0.5 6.2 0.8 5.3 4.9 3 1.4 5 4.6 3.2 2.7 4.3 -1.7 6.8M814.5 315l3 4.1 2 4.7 1.9 4.8 5.9 2.4 1 5.3 0.5 5.5 4.1 3.5 1.5 4.9 4.2 3.5 3.7 3.7 -1.1 6.5 3.4 3.8 3.9 3.6 1.7 4.8 4.5 3.3 0.4 5.6 0.7 5.4 5.8 2.5 2 4.7M813.3 315.8l-1.8 6.9 4 3.5 1.6 4.9 2.8 4.2 6.8 1.9 -1.5 6.7 0.8 5.4 5.4 2.7 1 5.2 5.3 2.8 2.4 4.5 -2.5 7.3 5.6 2.5 3.8 3.7 1.5 5 4.7 3.1 -1.6 6.7 2 4.7 7.4 1.6M800.8 323l8.8 0.7 4.8 3.1 -1.6 6.8 4.7 3.1 -1.7 6.8 3.1 4.1 9.9 0 -2.4 7.2 0.8 5.4 4.1 3.5 -0.7 6.2 8.8 0.8 3 4.1 -4.7 8.5 5.8 2.5 2.4 4.5 2.9 4.1 7.6 1.5 -4.4 8.3M800.8 323l2.6 4.3 1 5.3 8.9 0.7 -0.3 6 -2.3 7.2 6.4 2.1 1.2 5.1 4.7 3.1 5 3 -4.7 8.5 4.2 3.5 6.2 2.2 0.4 5.6 5.7 2.5 -1 6.5 -1.3 6.5 9.3 0.5 1.7 4.8 1.1 5.3M799.4 323.8l-3.6 7.9 5.9 2.4 3.9 3.6 1.6 4.9 5.4 2.7 -2.5 7.3 1.6 4.9 8.2 1.1 0.3 5.7 2.9 4.1 2.2 4.6 -2 7 7.8 1.3 4.3 3.4 -1.6 6.7 4.2 3.4 0 5.9 3 4.1 8.3 1" fill="none" stroke="#14140a" stroke-width="2.6"/>
<path d="M876.8 279.1l0.6 5.5 0.8 5.4 7.9 1.3 1.2 5.1 0.1 5.8 3.9 3.5 0 5.9 5.4 2.7 5.2 2.8 -2.4 7.2 3.2 4 3.3 3.9 1.7 4.9 6.6 2 -0.3 6 -0.7 6.3 6.2 2.2 1.7 4.9 3.7 3.7M870.2 282.9l3.5 3.8 2 4.7 2.6 4.3 5.8 2.5 -0.4 6.1 1.1 5.2 4.7 3.1 1.5 5 4.4 3.3 2.6 4.3 -1.3 6.6 4.7 3.1 3.7 3.7 1.6 4.9 4.2 3.4 -0.4 6.1 1.9 4.7 6.2 2.3 1.1 5.2M867.2 284.6l1.4 5.1 4.9 3 2.3 4.5 -1.4 6.6 5 3 3.3 3.9 1.9 4.7 4.3 3.4 -0.8 6.3 2.2 4.6 6.1 2.2 1 5.3 2.8 4.3 2.2 4.5 -0.2 5.9 6 2.4 3.5 3.8 -0.2 6 3.7 3.7M860.7 288.4l6.5 2.1 1 5.3 0.5 5.5 3.9 3.6 1 5.2 4.7 3.1 4.1 3.5 -1.5 6.7 3.4 3.9 3.5 3.8 1.9 4.7 5.2 2.8 0 5.9 0.5 5.6 5.7 2.5 1.9 4.7 3 4.1 3 4.1 -1.2 6.5M858.2 289.9l3.1 4 2.6 4.3 -2 7 6.3 2.2 4.8 3.1 -0.5 6.1 3.9 3.6 0 5.8 2.2 4.6 7.8 1.3 -0.2 6 0.7 5.4 3.9 3.6 0.2 5.7 6.3 2.2 3.7 3.7 -2.5 7.3 4.3 3.3 2.9 4.2M853.7 292.4l1.6 4.9 1.4 5.1 6 2.3 1.7 4.9 0.6 5.5 3.7 3.7 1.1 5.2 4.1 3.4 4.4 3.3 -0.8 6.4 2.9 4.1 3.4 3.9 1.8 4.7 5 3 0.8 5.4 0.3 5.7 5.1 2.8 2.2 4.6 2.9 4.2M850.3 294.4l2.9 4.1 -1.7 6.9 4.5 3.2 3.4 3.9 2 4.7 4.8 3 -0.8 6.3 1.4 5 6.3 2.2 1.3 5.1 2.9 4.2 2.4 4.4 -0.8 6.3 5.8 2.5 4.1 3.5 -0.1 5.9 3.6 3.7 0.6 5.5 2.6 4.3M848.5 295.4l-3.6 8 4.5 3.2 0.7 5.4 2.7 4.3 9.5 0.4 -3 7.5 -0.5 6.1 6.3 2.2 0.3 5.7 6.9 1.8 2.9 4.2 -5.2 8.8 6.5 2.1 4.5 3.3 1.2 5.1 6.3 2.2 -3.6 7.9 0.9 5.3 9.7 0.2M843.2 298.5l-3.7 8 3.6 3.7 5.9 2.5 0.6 5.4 5.3 2.8 -0.2 6 -1.2 6.5 8.3 1 2.2 4.6 1.1 5.2 3.8 3.6 -2.1 7.1 5.2 2.8 6.9 1.9 -1.8 6.8 3 4.1 1.8 4.8 0.9 5.4 8.5 0.9M831.5 305.2l4.2 3.4 7.8 1.4 -0.7 6.2 4.3 3.4 0.1 5.7 -1.2 6.6 9.9 0.1 1.9 4.7 -0.9 6.4 4.4 3.3 -1.5 6.7 5.7 2.6 7.5 1.4 -3.7 8 2.6 4.3 3.5 3.9 0.8 5.3 8.7 0.8 -0.1 6M833.2 304.2l-3.9 8.2 6.5 2 2.5 4.4 3 4.1 6.1 2.3 -4.3 8.3 2.4 4.5 8 1.3 0 5.8 4.6 3.1 0.8 5.4 -2.7 7.4 9.1 0.6 3.5 3.8 -0.8 6.3 4.6 3.2 -2.1 7 4.3 3.4 8.8 0.7M826.1 308.3l1.8 4.9 0.8 5.3 9.2 0.6 0 5.8 -1.8 6.9 5.6 2.5 0.7 5.5 5.3 2.8 5.3 2.8 -4.5 8.4 3.9 3.6 5.3 2.7 0.9 5.3 6.4 2.2 -1.2 6.5 -1.4 6.6 8.6 0.9 1.8 4.8 2 4.7M820.9 311.3l6.2 2.3 -0.5 6.1 2.5 4.4 2.5 4.4 0.9 5.3 6.6 2 1.9 4.8 -0.8 6.3 4.4 3.3 1.6 4.9 3.7 3.7 5 3 -1.8 6.8 2.6 4.4 4.8 3 1.3 5.1 4.9 3 0.9 5.3 -0.7 6.3M815.3 314.6l6.8 1.9 0.8 5.4 1.7 4.8 3 4.1 0 5.9 5.9 2.4 3.8 3.6 -1.1 6.5 3.7 3.7 1.9 4.7 2.6 4.4 6.1 2.3 -0.6 6.2 0.9 5.3 4.9 3 1.4 5 4.6 3.2 2.7 4.3 -1.7 6.8M812.3 316.3l3 4.1 2 4.7 1.8 4.8 6 2.4 1 5.3 0.4 5.5 4.2 3.5 1.5 4.9 4.1 3.5 3.7 3.7 -1.1 6.5 3.4 3.8 3.9 3.6 1.7 4.8 4.6 3.3 0.4 5.6 0.7 5.4 5.7 2.5 2 4.7M811 317.1l-1.8 6.9 4 3.5 1.6 4.9 2.9 4.2 6.8 1.9 -1.5 6.7 0.8 5.4 5.3 2.7 1.1 5.2 5.3 2.8 2.3 4.5 -2.5 7.3 5.7 2.5 3.8 3.7 1.4 5 4.7 3.1 -1.5 6.7 2 4.7 7.3 1.6M798.5 324.3l8.9 0.7 4.8 3.1 -1.7 6.8 4.7 3.1 -1.7 6.8 3.1 4.1 10 0 -2.4 7.2 0.7 5.4 4.2 3.5 -0.7 6.2 8.8 0.8 3 4.1 -4.7 8.5 5.7 2.5 2.5 4.5 2.9 4.1 7.5 1.5 -4.3 8.3M798.5 324.3l2.6 4.3 1 5.3 8.9 0.7 -0.3 6 -2.3 7.2 6.4 2.1 1.2 5.1 4.7 3.1 5.1 3 -4.8 8.5 4.2 3.5 6.3 2.2 0.3 5.6 5.7 2.5 -1 6.5 -1.3 6.5 9.3 0.5 1.8 4.8 1 5.3M797.1 325.1l-3.6 7.9 6 2.4 3.9 3.6 1.5 4.9 5.5 2.7 -2.5 7.3 1.5 4.9 8.2 1.1 0.4 5.7 2.8 4.1 2.3 4.6 -2 7 7.7 1.3 4.4 3.4 -1.6 6.7 4.1 3.4 0 5.9 3.1 4.1 8.3 1" fill="none" stroke="#a8a068" stroke-width="1"/>
</g>
<line x1="830.2" y1="255.1" x2="830.2" y2="419.3" stroke="#111" stroke-width="2.2" stroke-dasharray="1.6 6.6" stroke-dashoffset="-5.9"/>
<line x1="893" y1="255.1" x2="893" y2="419.3" stroke="#111" stroke-width="2.2" stroke-dasharray="1.6 6.6" stroke-dashoffset="-5.9"/>
<line x1="781.1" y1="311.6" x2="944.3" y2="311.6" stroke="#111" stroke-width="2.2" stroke-dasharray="1.6 6.6" stroke-dashoffset="-5.9"/>
<line x1="781.1" y1="375" x2="944.3" y2="375" stroke="#111" stroke-width="2.2" stroke-dasharray="1.6 6.6" stroke-dashoffset="-5.9"/>
<line x1="830.2" y1="255.1" x2="830.2" y2="419.3" stroke="#fff" stroke-width="2.4" stroke-dasharray="5.4 2.8"/>
<line x1="893" y1="255.1" x2="893" y2="419.3" stroke="#fff" stroke-width="2.4" stroke-dasharray="5.4 2.8"/>
<line x1="781.1" y1="311.6" x2="944.3" y2="311.6" stroke="#fff" stroke-width="2.4" stroke-dasharray="5.4 2.8"/>
<line x1="781.1" y1="375" x2="944.3" y2="375" stroke="#fff" stroke-width="2.4" stroke-dasharray="5.4 2.8"/>
<text x="785.6" y="272.1" style="font-family:'Liberation Sans',sans-serif;font-size:14.5px;font-weight:bold" fill="#111">75 <tspan dy="-5.5" font-size="10">o</tspan><tspan dy="5.5">C</tspan></text>
<defs><clipPath id="cf4"><rect x="954.3" y="255.1" width="163.7" height="162.5"/></clipPath><clipPath id="cf4t"><rect x="998.1" y="255.1" width="70" height="56.4"/></clipPath><clipPath id="cf4b"><rect x="998.1" y="374.9" width="70" height="42.7"/></clipPath><clipPath id="cf4l"><rect x="954.3" y="308.5" width="46.8" height="69.4"/></clipPath><clipPath id="cf4r"><rect x="1065.1" y="308.5" width="52.9" height="69.4"/></clipPath><clipPath id="cf4c"><rect x="1001.1" y="311.5" width="64" height="63.4"/></clipPath></defs>
<rect x="954.3" y="255.1" width="163.7" height="162.5" fill="#d2ce80"/>
<g clip-path="url(#cf4)">
<path d="M902 269.3l2.7 -4.7 6.6 0 3.9 -3.2 5 -1.9 0.7 -7 3.8 -3.3 5 -1.9 5.1 -1.8 4.8 -2.1 0.7 -7.1 4.3 -2.7 3.5 -3.7 6.6 0 3.8 -3.4 1.9 -5.6 3.4 -3.7 3.2 -4.1 7.3 0.9 3 -4.4M905.7 273.7l2.6 -4.7 6.3 -0.4 3.8 -3.3 4.5 -2.5 1.7 -5.9 3.5 -3.6 5.3 -1.6 4.4 -2.6 4.8 -2.2 1.2 -6.4 4.2 -2.8 3.9 -3.2 5.7 -1.1 4.1 -3 1.8 -5.7 3.9 -3.2 3.3 -3.9 6.6 -0.1 3.2 -4M911 280l1.6 -6 4 -3 3.3 -4 6.5 -0.1 3.4 -3.7 2.9 -4.5 2.9 -4.3 3.6 -3.7 6.5 -0.1 3.2 -4 4 -3.1 1.6 -6 4.4 -2.5 5.5 -1.4 4.1 -3 4 -3.1 1.1 -6.5 5.1 -1.8 4.2 -2.9M912.5 281.8l5.3 -1.6 3.3 -3.9 3.7 -3.4 2.1 -5.4 5.2 -1.6 4.4 -2.7 4.5 -2.5 3 -4.2 2.4 -5 5 -1.9 4.1 -3.1 5.3 -1.5 2.3 -5.1 3.2 -4 4 -3.2 4.5 -2.4 5.3 -1.5 2.3 -5.2 3.7 -3.4M916.9 287.1l4.2 -2.9 1.5 -6.1 4 -3.1 5.6 -1.2 4.2 -2.8 4.4 -2.6 1 -6.7 4.6 -2.3 4.2 -2.9 5.7 -1.1 3.6 -3.5 1.7 -5.9 4.2 -2.9 3.6 -3.5 6.7 0.1 2.7 -4.7 3 -4.2 2.8 -4.6 4.2 -2.8M920.6 291.4l4.6 -2.3 0.4 -7.4 4.7 -2.3 3.9 -3.1 6.4 -0.4 3.6 -3.5 1.4 -6.2 4 -3.1 3.4 -3.8 7.3 0.9 2.7 -4.7 3 -4.2 2.3 -5.2 4.2 -2.8 6.8 0.2 2.9 -4.3 4 -3.2 0.8 -6.9 5.4 -1.4M922.1 293.2l4.5 -2.4 5.2 -1.8 2.9 -4.4 3.7 -3.4 2.6 -4.7 5.2 -1.6 4.4 -2.7 3.8 -3.3 3.3 -4 2.7 -4.7 5.2 -1.6 4 -3.1 4.7 -2.3 2.5 -4.8 3.3 -4 4.5 -2.4 4.3 -2.8 4.9 -2 2.2 -5.2M927.1 299.2l3.3 -3.9 3.7 -3.5 2.6 -4.7 5.1 -1.8 4.2 -2.9 4.2 -2.9 3.1 -4.1 2.9 -4.4 4.9 -2.1 4 -3.1 4.8 -2.1 2.5 -4.8 3.5 -3.7 4.1 -3 4.5 -2.5 4.8 -2.2 2.5 -4.8 3.8 -3.3 3.3 -4M930.5 303.2l2.6 -4.7 3.5 -3.7 4.4 -2.6 4.3 -2.7 4.7 -2.3 2.4 -5 3.9 -3.2 3.6 -3.6 5 -1.9 4.2 -2.8 2.9 -4.4 3.7 -3.5 3.3 -3.9 5.4 -1.5 3.7 -3.4 3.7 -3.4 3 -4.3 3.6 -3.6 5.2 -1.7M932.5 305.7l2.1 -5.4 6.9 0.3 3.9 -3.1 4.3 -2.8 1.8 -5.8 2.8 -4.4 6.1 -0.6 4.1 -3 5.2 -1.7 0.7 -7 4 -3.1 4.4 -2.6 5.4 -1.4 4.7 -2.2 1.1 -6.7 4.1 -2.9 3.2 -4.1 6.8 0.3 3.6 -3.6M935.1 308.7l4 -3 5.7 -1.1 3.8 -3.4 4.1 -2.9 1.4 -6.2 4.8 -2.1 4.5 -2.6 5 -1.9 3.6 -3.6 1.7 -5.8 4.6 -2.3 3.9 -3.3 6 -0.6 2.7 -4.7 2.9 -4.5 3.4 -3.7 4.3 -2.8 6.1 -0.6 2.5 -4.8M939.1 313.5l4 -3.1 5.7 -1.1 2.6 -4.7 3.4 -3.8 3.2 -4.1 4.6 -2.4 5.3 -1.5 2.9 -4.4 3.8 -3.4 2.3 -5 5.3 -1.6 4.5 -2.4 4 -3.2 3.2 -4.1 2.4 -5 5.3 -1.5 4 -3 4.9 -2 2.4 -5M943.7 319l5.1 -1.8 0.7 -7 4.3 -2.8 3.4 -3.7 6.4 -0.3 4.1 -3 1.9 -5.6 3.5 -3.7 3 -4.2 7.2 0.6 3.1 -4.1 3.5 -3.7 2 -5.5 3.8 -3.2 6.5 -0.2 3.5 -3.7 4.3 -2.8 0.7 -6.9 4.9 -2M946 321.8l4.1 -3 5.1 -1.8 3 -4.3 2.7 -4.7 4.3 -2.7 4 -3 5.6 -1.3 2.5 -4.8 3.5 -3.7 3.2 -4 4.8 -2.3 5.1 -1.7 2.9 -4.4 3.7 -3.5 2.5 -4.8 5.4 -1.5 4.4 -2.6 3.8 -3.3 3.2 -4.1M950 326.5l2.8 -4.5 2.7 -4.7 6.7 0.2 3.7 -3.5 4.4 -2.6 1.4 -6.2 3.6 -3.6 5.6 -1.1 4.4 -2.7 4.7 -2.2 0.8 -7 4.4 -2.5 4.1 -3 5.8 -0.9 4 -3.2 1.5 -6.1 4.1 -3 3.3 -3.8 6.9 0.3M952.1 329l4.2 -2.9 3.7 -3.4 5.6 -1.2 3.9 -3.2 2.3 -5.1 3.8 -3.4 3.4 -3.8 6.2 -0.5 3.3 -3.9 3.4 -3.8 2.7 -4.7 3.9 -3.2 5.8 -0.9 3.4 -3.8 4.1 -3 1.7 -5.7 4.7 -2.3 4.7 -2.3 4.5 -2.5M956.4 334.2l4.8 -2.2 2.6 -4.7 3.6 -3.7 4 -3 4.4 -2.6 4.8 -2.3 2.6 -4.7 3.8 -3.3 3.4 -3.8 5 -1.9 4.2 -2.8 3.3 -4 3.5 -3.7 3.2 -4.1 5.2 -1.5 3.9 -3.3 4 -3.1 2.8 -4.5 3.6 -3.6M960 338.4l3.7 -3.4 2 -5.5 5.6 -1.3 4.6 -2.2 4 -3.2 3.1 -4.1 2.1 -5.4 5.5 -1.3 4.1 -3 5.2 -1.7 2.1 -5.3 3 -4.3 4.5 -2.5 4.5 -2.5 5.5 -1.3 1.7 -5.8 3.7 -3.4 3.3 -4 5.4 -1.4M964 343.1l3.2 -4 3.8 -3.3 2.6 -4.7 4.5 -2.5 4.9 -2.1 3.7 -3.4 3.8 -3.4 2.4 -5 4.8 -2.1 4.1 -2.9 4.7 -2.4 3.2 -4 2.8 -4.6 4.4 -2.5 4 -3.1 5.2 -1.7 2.7 -4.6 3.5 -3.7 3.6 -3.6M1094.1 207.1l3.9 3.2 2.1 5.4 3.6 3.6 3.2 4 6.8 -0.2 3.2 4.1 3.5 3.6 2.1 5.3 4 3.2 6.2 0.5 3.5 3.7 4.1 2.9 1.2 6.5 4.8 2 4.8 2.1 4.9 2.1 3.7 3.5 1.3 6.3 4.8 2.1M1088.8 213.5l4.1 2.9 5.9 0.9 2.6 4.8 3.5 3.6 2.7 4.7 4.9 2 5.2 1.6 3.2 4 3.7 3.6 2 5.4 5.5 1.3 4.4 2.7 4.4 2.6 2.9 4.4 2.4 5 5.1 1.7 4.1 3 5.3 1.5 2.1 5.4M1086.2 216.5l4.3 2.8 5 1.9 2.2 5.2 2.4 5.1 5.1 1.7 4.3 2.7 5.8 1 1.4 6.2 3.5 3.7 3.6 3.6 5.3 1.4 5.4 1.5 1.8 5.8 3.6 3.4 2.5 4.9 6.5 0.2 4.3 2.8 3.2 4 2.7 4.6M1084 219.1l3.6 3.7 1.3 6.3 5.1 1.8 4 3 6 0.7 2.5 4.9 2.4 5 4 3.1 4.2 2.8 6.4 0.3 2.1 5.3 3.5 3.7 2.4 5 5.3 1.6 5.6 1.2 2.9 4.4 3.5 3.7 1.7 5.8 6 0.7M1078.3 226l5.5 1.3 3.8 3.3 4.4 2.6 2.4 5 3.6 3.6 4.7 2.2 4.3 2.8 4.6 2.4 2 5.4 4.1 3 3.8 3.3 5.1 1.8 4.1 3 2.6 4.8 3.8 3.3 3.4 3.8 5.7 1.1 3.5 3.6 3.5 3.7M1075.8 228.9l2.2 5.2 6.1 0.7 4.1 2.9 5.4 1.4 1.1 6.6 3.4 3.8 4.5 2.5 5.1 1.8 5.3 1.5 1.1 6.6 3.9 3.2 3.1 4.2 6.5 0.1 4.2 2.8 2.3 5.1 3.2 4.1 2.8 4.6 7 -0.6 3.5 3.8M1072 233.4l4.1 3 5 1.9 4.6 2.4 2.1 5.4 3.9 3.2 3.2 4 5.9 0.9 3.9 3.2 3 4.3 3.2 4 3.3 4 6 0.7 3.5 3.7 4 3 2.2 5.3 3.9 3.1 5.2 1.7 4.1 3 4.3 2.8M1070.1 235.7l3.6 3.5 4 3.2 2.7 4.6 3.9 3.3 4.9 2 3.9 3.2 4.2 2.9 2.3 5 4.3 2.8 4.1 2.9 4.7 2.3 3.8 3.3 2.6 4.8 4.2 2.9 3.7 3.4 5.3 1.5 3.3 3.9 3.3 4 3.5 3.7M1065.5 241.2l3.2 4 6.4 0.2 3.4 3.9 3.3 3.9 2.7 4.7 3.7 3.4 6.1 0.6 3.4 3.8 4.1 3 1.6 6 4.6 2.4 4.9 1.9 4.5 2.6 3.9 3.2 1.4 6.1 4.9 2.1 4 3.1 5.7 1.1 3 4.2M1061.7 245.8l3.6 3.5 7.3 -0.8 2.5 4.9 3.5 3.7 1.7 5.8 4.7 2.2 6.3 0.3 3.3 4 3.9 3.2 0.7 7.1 5.7 1.1 4.8 2.1 5 1.8 3 4.4 1.1 6.5 5.4 1.4 4.1 3 6.5 0.1 1.7 5.8M1058.2 249.9l5.3 1.5 4 3.2 4.5 2.4 2.6 4.8 3.3 3.9 4.6 2.4 4.3 2.8 4.8 2.1 2.2 5.2 3.9 3.3 3.7 3.4 5 1.9 4.3 2.7 2.7 4.7 3.7 3.4 3.3 4 5.5 1.2 3.8 3.4 3.6 3.6M1056 252.6l4.8 2 3.4 3.8 3.6 3.6 2.5 5 5.2 1.6 4.2 2.9 4.4 2.6 2.9 4.3 2.8 4.5 4.9 2.1 4.1 3 5 1.9 2.3 5.1 3.6 3.6 3.9 3.2 4.6 2.3 4.9 2.1 2.4 4.9 3.8 3.4M1053.6 255.4l2.5 4.9 3.9 3.2 3.6 3.6 5.7 1.1 3.3 3.8 3.4 3.9 3.1 4.2 3.9 3.2 5.5 1.3 3.4 3.8 3.9 3.1 2.3 5.2 4.5 2.5 4.7 2.2 4.2 2.9 3.7 3.4 2.2 5.3 4.7 2.2 4.1 3.1M1049.1 260.8l3.8 3.3 2.9 4.4 5.9 0.8 4.2 2.8 3.1 4.2 3.1 4.1 2.9 4.5 6.1 0.6 3.7 3.4 4.3 2.8 2 5.4 3.6 3.6 5.3 1.6 4.2 2.9 4.6 2.3 1.5 6.1 4.2 2.8 4.1 3 5.3 1.6M1046.8 263.5l4 3.1 1.6 5.9 4.8 2.2 4.2 2.8 5.2 1.7 3.4 3.9 2.1 5.2 4.4 2.7 3.8 3.3 6 0.7 2.7 4.7 3.2 4 3.2 4.1 4.4 2.6 5.7 1 2.8 4.6 3.7 3.4 2.2 5.2 5.3 1.6M1041.8 269.5l3.4 3.8 6 0.7 5.2 1.6 1.5 6.1 3.6 3.6 2.3 5.1 7.1 -0.7 4.1 3.1 3.3 3.9 2.2 5.2 2.7 4.7 6.9 -0.4 3.7 3.4 4.8 2.2 0.7 7 3.9 3.2 5.4 1.5 4.8 2.1 4.8 2.2M1038.8 273l3.5 3.7 4.7 2.3 5.4 1.4 2.5 4.8 3.7 3.5 2.6 4.8 5.5 1.3 4.6 2.4 3.5 3.7 3.2 4 2.4 5 5.7 1.1 4 3.1 4.7 2.3 2.2 5.1 3.2 4.2 4.9 2 4.2 2.7 5.1 1.9M1036.6 275.7l4.6 2.4 3.1 4 3 4.4 2.3 5.1 6.4 0.2 3.9 3.2 4.6 2.4 1.7 5.8 3.2 4.1 5.4 1.4 4.4 2.7 5.1 1.7 1 6.6 4.1 3.1 3.9 3.2 5.6 1.1 4.5 2.6 1.7 5.9 3.8 3.2M1031.2 282l5.3 1.6 4.8 2.1 3.6 3.6 3.4 3.9 2.2 5.2 5.5 1.3 4.1 2.9 4.8 2.2 2.5 4.9 2.8 4.5 4.8 2.1 4.3 2.8 5.3 1.6 1.9 5.5 3.6 3.6 3.6 3.5 5.2 1.8 4.8 2 2.4 5.1M962.6 338l5.1 1.8 4.1 2.9 3.3 4 1.5 6.1 5.5 1.3 4.2 2.9 5.6 1.1 2.2 5.3 2.4 4.9 4.5 2.5 4.4 2.7 6.1 0.5 1.7 5.9 3.5 3.7 2.9 4.4 5.5 1.3 5.4 1.5 2.4 5 3.5 3.7M959.4 341.8l3.3 4 4.3 2.7 4.4 2.6 5.1 1.8 2.2 5.2 3.8 3.4 3.3 4 5.3 1.5 4.4 2.5 2.9 4.5 3.5 3.6 2.9 4.4 5.8 1 3.8 3.3 4 3.2 2.6 4.7 3.4 3.8 5.3 1.5 3.9 3.2M954.5 347.7l5.9 0.8 5.1 1.9 3 4.1 3.2 4.1 1.9 5.7 6.4 0.2 4.1 3 4.7 2.2 1.9 5.6 2.6 4.7 5.6 1.3 4.3 2.7 5.4 1.4 1.1 6.5 3.7 3.5 3.9 3.2 5.5 1.3 5 1.9 1.5 6.1M951.9 350.8l5.2 1.7 4 3 4.6 2.4 2 5.5 4 3.1 4.2 2.9 4.8 2.1 4.3 2.7 2.2 5.3 4 3 3.5 3.7 5.6 1.2 3.7 3.4 3.1 4.3 3.3 3.8 3.5 3.7 5.8 1 3.4 3.8 3.9 3.2M948.5 354.9l7 -0.5 2.5 4.9 3.5 3.6 1.8 5.7 4.9 2.1 6 0.6 3.4 3.9 3.7 3.4 1 6.7 5.7 1.1 4.6 2.3 5 1.9 2.9 4.5 1.4 6.1 5.4 1.5 4 3 6.3 0.4 1.8 5.8 2.8 4.5M947.5 356l2.5 4.9 3.7 3.4 2.9 4.4 5.8 1 4 3.1 3.6 3.6 2.9 4.4 3.1 4.1 5.7 1.2 3.8 3.3 4.4 2.6 2 5.4 3.8 3.3 4.8 2.2 4.4 2.6 4.5 2.5 1.8 5.7 4.2 2.9 3.8 3.3M942.3 362.3l3.8 3.3 6.6 0 2.6 4.8 2.4 4.9 3.4 3.8 4.2 2.9 6.8 -0.2 2.3 5.1 3.6 3.6 1.8 5.7 5.2 1.6 5.8 1 3.3 3.9 3.5 3.6 1.2 6.5 5.9 0.8 4.5 2.5 5.1 1.9 2.4 4.9M940.7 364.2l1 6.6 4.9 2.1 4.9 1.9 4.8 2.2 3.8 3.4 1 6.5 5 2 4 3.1 6.2 0.4 2.7 4.7 2.2 5.2 3.9 3.3 4.1 2.9 6.6 0 2.2 5.2 3.5 3.8 2.2 5.2 5.2 1.7 5.8 1M936.1 369.6l2.8 4.6 5.2 1.6 4.7 2.3 3.4 3.8 3.4 3.8 2.5 4.9 5.5 1.3 4.1 3 4.4 2.6 2.6 4.7 3 4.3 5 1.9 4.1 2.9 5 2 2 5.4 3.7 3.5 3.9 3.2 5 1.9 4.6 2.4M932.4 374l3.7 3.5 2.9 4.3 7 -0.3 3.4 3.8 3.3 3.8 2.3 5.2 3.5 3.6 6.5 0.1 3.5 3.8 4.3 2.7 1 6.6 4.6 2.4 5.1 1.8 4.7 2.2 4.1 3.1 0.9 6.7 4.9 2.1 3.9 3.2 6.2 0.4M930.2 376.7l4.3 2.6 1.7 6 4.4 2.6 4.3 2.7 5 1.9 3.9 3.2 1.9 5.5 4.3 2.8 3.7 3.5 5.9 0.8 3.2 4.1 2.9 4.3 3.3 3.9 4 3.2 5.9 0.8 3 4.2 3.8 3.4 2.2 5.2 4.7 2.3M926.3 381.3l5 2 2.6 4.6 3.3 4 4 3 4.4 2.7 5.1 1.8 2.5 4.8 3.7 3.5 3.2 4 5.1 1.9 4.5 2.4 3.2 4.1 3.5 3.7 2.8 4.4 5.5 1.4 4 3.1 4 3.1 2.9 4.4 3.2 4.1M924 384.1l0.7 7 5 1.9 5.4 1.3 4.6 2.5 3.8 3.3 0.5 7.2 5.4 1.5 4.1 3 6.3 0.3 2.6 4.8 1.7 5.8 4.3 2.8 4 3 7.1 -0.6 1.8 5.7 3.2 4.1 2.4 5.1 5.2 1.6 6.3 0.3M920.5 388.2l3.1 4.2 1.6 5.9 6.1 0.7 4.1 2.9 5.3 1.5 1.8 5.8 2.6 4.7 5 2 4.5 2.4 5.8 1 1.2 6.4 3.6 3.5 3.3 3.9 5.8 1 5.1 1.8 1.9 5.6 3.6 3.6 2.4 5 6.7 -0.2M915.4 394.3l4.5 2.4 4.9 2.1 4.3 2.8 1.6 5.9 4.3 2.7 3.6 3.6 6 0.8 3.4 3.7 2.6 4.7 3.5 3.7 3.7 3.6 6.2 0.4 3.1 4.2 3.6 3.5 2.3 5.1 4.4 2.7 5.5 1.2 3.6 3.6 4 3.2M911.4 399l5.7 1.2 4.9 2 2.7 4.5 3.4 3.9 2.4 5 6.1 0.5 4.1 3.1 4.2 2.9 2.3 5.1 2.9 4.4 5.6 1.1 4.1 3 4.9 2 1.5 6.1 3.8 3.3 4.3 2.7 5.1 1.9 4.7 2.2 1.6 6M908.3 402.7l6.5 0.1 3.1 4.3 3.9 3.2 1.7 5.8 4.6 2.4 5.4 1.3 4 3.2 3.9 3.2 1.2 6.4 5.2 1.7 4.3 2.8 5.3 1.4 3.1 4.2 1.9 5.6 4.6 2.4 3.9 3.2 6.3 0.3 2.3 5.2 3.1 4.2M906.4 405l4.7 2.3 3.6 3.5 1.7 5.9 4.8 2.1 4 3.2 5.8 0.9 2.7 4.6 2.7 4.7 3.8 3.3 4.2 2.9 6.1 0.6 2.4 5 3.5 3.6 2.5 4.9 5.1 1.8 5.4 1.5 3.1 4.1 3.6 3.6 1.8 5.6M901.9 410.3l5.5 1.4 4.1 3 2.9 4.3 3.5 3.8 3.2 4 5.7 1 3.7 3.6 3.9 3.2 2.5 4.8 3.7 3.4 5.3 1.6 3.9 3.3 4.3 2.7 2 5.5 4.2 2.7 4.3 2.8 4.8 2.1 4 3.2 2.2 5.2M1033.6 400.4l3.5 -3.8 2.4 -5 3.3 -3.9 6.3 -0.3 3.6 -3.6 4.5 -2.6 1.2 -6.4 4.3 -2.7 5 -1.9 4.7 -2.3 4.2 -2.8 1.1 -6.5 4.7 -2.4 3.8 -3.2 6.1 -0.7 3.3 -3.9 2.1 -5.3 3.8 -3.3 3.7 -3.5M1037 404.4l3.6 -3.6 3.4 -3.8 2.9 -4.4 3.6 -3.5 5.7 -1.1 3.5 -3.7 4.2 -2.9 2 -5.5 4.3 -2.7 4.8 -2.1 4.3 -2.7 4 -3.2 1.9 -5.5 4.6 -2.4 4 -3.2 5.3 -1.5 3.3 -3.9 2.6 -4.8 4 -3.1M1038.6 406.2l5.1 -1.7 4.7 -2.3 2.4 -5 3.7 -3.4 3 -4.3 5.8 -0.9 3.9 -3.2 3.5 -3.7 2.9 -4.4 3.2 -4 5.8 -1.1 3.7 -3.4 4.4 -2.7 1.9 -5.5 4 -3.1 4.8 -2.1 4.4 -2.6 4.4 -2.7 1.7 -5.8M1042.2 410.6l4 -3.2 6.3 -0.2 2.1 -5.4 2.7 -4.6 3.6 -3.6 4.6 -2.4 6.4 -0.3 2 -5.5 3.6 -3.5 2 -5.5 5.8 -1 5.3 -1.5 3.2 -4.1 3.2 -3.9 1.6 -6 6.3 -0.4 4.2 -2.8 4.9 -2.1 2 -5.4M1048.2 417.7l1.8 -5.7 2.4 -5 4.4 -2.6 4.6 -2.4 6.4 -0.2 1.3 -6.3 3.5 -3.7 2.6 -4.7 6 -0.8 5.4 -1.4 2.3 -5.1 3.4 -3.8 1.8 -5.8 6.8 0.2 4.2 -2.7 4.1 -3 2.1 -5.4 2.3 -5.1 6.4 -0.3M1049.9 419.8l1.5 -6.1 5 -1.9 5.7 -1.1 3.8 -3.4 3.7 -3.4 0.9 -6.7 5.6 -1.2 4.4 -2.7 5.5 -1.3 2.6 -4.7 1.8 -5.8 4.8 -2 4.1 -3 6.5 -0.2 1.8 -5.7 3 -4.3 3.2 -4 5 -1.9 6.2 -0.5M1051.7 421.9l4.8 -2.1 4.8 -2.2 4.5 -2.5 1.3 -6.3 4.4 -2.7 3.6 -3.5 6 -0.7 3.7 -3.5 2.3 -5.1 3.6 -3.5 3.4 -3.8 6.6 -0.1 3 -4.2 3.5 -3.7 2.3 -5.1 4.2 -2.8 5.9 -0.9 3.5 -3.7 4 -3.1M1055.1 426l5 -2 4.7 -2.2 4.2 -2.8 1.2 -6.5 4.6 -2.4 3.8 -3.3 6.2 -0.5 3.2 -4.1 2.2 -5.2 3.7 -3.4 3.8 -3.4 6.6 0.1 2.6 -4.8 3.5 -3.7 2.2 -5.2 4.7 -2.3 5.9 -0.8 3.2 -4 3.8 -3.4M1060.6 432.5l2.5 -4.9 3.6 -3.5 3.7 -3.5 4.7 -2.3 4.7 -2.2 2.8 -4.6 3.7 -3.4 3 -4.2 5.4 -1.5 4.1 -3 3.6 -3.6 3.2 -4 3.1 -4.2 5.3 -1.5 3.8 -3.3 4.4 -2.7 2.5 -4.9 3.6 -3.5 4.7 -2.3M1063.3 435.7l3.5 -3.7 2.1 -5.4 5.6 -1.1 4.3 -2.8 4.4 -2.5 2.7 -4.6 2.6 -4.9 5.2 -1.7 4.1 -3 5.3 -1.5 1.9 -5.6 3.4 -3.8 4 -3 4.8 -2.2 5.2 -1.7 2 -5.4 3.8 -3.4 2.9 -4.3 5.8 -1M1067.7 441l2.8 -4.6 3.7 -3.4 1.8 -5.8 5.2 -1.5 5.2 -1.8 3.9 -3.2 3.4 -3.8 1.5 -6 5.6 -1.2 4.2 -2.9 5.3 -1.5 2.4 -5 2.4 -5 4.7 -2.3 4.2 -2.8 6 -0.7 1.8 -5.8 3.4 -3.8 3.2 -4.1M1069.4 443l4.8 -2.2 3.5 -3.6 2.6 -4.8 4.3 -2.8 3.8 -3.3 5.4 -1.4 3 -4.2 3.3 -4 3.5 -3.7 4.2 -2.9 5.3 -1.5 3 -4.2 3.8 -3.4 2.6 -4.7 4.9 -2.1 4.6 -2.3 3.8 -3.4 3.5 -3.6 2.5 -5M1071.8 445.9l4.4 -2.6 5.3 -1.6 3.3 -3.9 3.8 -3.3 2.3 -5.2 5 -1.9 4.4 -2.6 4.3 -2.8 3.3 -3.9 2.4 -4.9 4.9 -2.1 4 -3.1 5.2 -1.7 2.6 -4.7 3.1 -4.1 4.1 -3.1 4.3 -2.6 5.3 -1.7 2.5 -4.9M1076.8 451.8l4.2 -2.8 1.5 -6.1 4.5 -2.6 4.8 -2 4.6 -2.4 4.1 -3.1 1.4 -6.1 4.7 -2.3 3.9 -3.2 5.8 -0.9 3.1 -4.1 2.4 -5 3.9 -3.3 3.8 -3.3 6.4 -0.3 2.6 -4.7 3.5 -3.8 2.4 -4.9 4.7 -2.2M1080.6 456.4l2.1 -5.5 4.1 -2.9 3.5 -3.6 5.5 -1.3 3.9 -3.4 2.8 -4.5 3.5 -3.6 3.5 -3.7 5.8 -0.9 3.4 -3.9 3.7 -3.4 2.6 -4.8 4 -3 5.3 -1.6 3.8 -3.4 4 -3 2 -5.5 4.6 -2.4 4.4 -2.6M1082.8 459l4.2 -2.9 4.7 -2.3 2.2 -5.2 3.9 -3.2 3.9 -3.2 4.9 -2.1 4.3 -2.7 2.5 -4.8 3.9 -3.3 3.3 -3.8 5.6 -1.3 3.7 -3.5 3.4 -3.7 3.2 -4.1 3.5 -3.7 5.4 -1.4 3.6 -3.5 4.1 -3 2.4 -5M1086 462.7l5.1 -1.7 3.2 -4.1 3.6 -3.5 2.3 -5.2 5.4 -1.4 4.3 -2.7 4.3 -2.8 3 -4.3 2.5 -4.8 5.1 -1.7 4.1 -3.1 5.1 -1.8 2.2 -5.2 3.3 -3.9 4.2 -2.9 4.6 -2.4 5.1 -1.7 2.1 -5.3 3.8 -3.4M1090 467.5l4.1 -2.9 2.8 -4.6 3.3 -3.9 4.9 -2 4.1 -3 4.6 -2.3 2.3 -5.2 3.8 -3.3 4 -3 4.8 -2.2 4.4 -2.7 2.4 -4.9 4 -3.2 3.4 -3.8 5.4 -1.4 3.8 -3.3 3.2 -4 3.4 -3.9 3.4 -3.7M1091.8 469.6l4.4 -2.6 4.4 -2.5 5.6 -1.2 1.9 -5.7 3.6 -3.5 3.1 -4.1 5.5 -1.4 4.9 -2 2.6 -4.8 3.5 -3.6 2.5 -5 6.1 -0.5 4.1 -3 3.9 -3.2 2.5 -4.9 2.9 -4.4 5.7 -1 4 -3.1 4.8 -2.2" fill="none" stroke="#8c8848" stroke-width="1.2"/>
<path d="M903.5 271.1l2.6 -4.7 6.6 0 3.9 -3.2 5 -1.9 0.8 -7 3.8 -3.3 5 -2 5 -1.8 4.9 -2 0.6 -7.2 4.4 -2.7 3.4 -3.7 6.7 0.1 3.7 -3.4 1.9 -5.6 3.5 -3.8 3.2 -4 7.3 0.8 2.9 -4.3M907.1 275.4l2.7 -4.7 6.3 -0.3 3.8 -3.4 4.5 -2.4 1.7 -5.9 3.5 -3.7 5.3 -1.5 4.4 -2.7 4.8 -2.1 1.1 -6.5 4.3 -2.8 3.9 -3.2 5.7 -1.1 4 -3 1.9 -5.6 3.9 -3.2 3.3 -4 6.6 0 3.2 -4M912.5 281.8l1.5 -6 4.1 -3.1 3.3 -3.9 6.5 -0.1 3.4 -3.8 2.9 -4.4 2.9 -4.4 3.5 -3.6 6.6 -0.1 3.2 -4.1 3.9 -3.1 1.6 -6 4.5 -2.5 5.5 -1.3 4.1 -3 4 -3.1 1.1 -6.5 5 -1.9 4.3 -2.8M914 283.6l5.2 -1.6 3.4 -3.9 3.7 -3.5 2 -5.4 5.3 -1.5 4.4 -2.7 4.4 -2.5 3.1 -4.3 2.4 -5 5 -1.9 4 -3 5.3 -1.5 2.3 -5.2 3.3 -4 3.9 -3.1 4.6 -2.4 5.3 -1.6 2.3 -5.1 3.7 -3.4M918.4 288.9l4.2 -2.9 1.5 -6.1 4 -3.1 5.5 -1.2 4.3 -2.8 4.4 -2.6 0.9 -6.8 4.7 -2.3 4.2 -2.9 5.7 -1 3.6 -3.6 1.7 -5.9 4.2 -2.8 3.6 -3.6 6.7 0.1 2.7 -4.6 3 -4.3 2.8 -4.5 4.2 -2.8M922 293.2l4.7 -2.3 0.4 -7.4 4.7 -2.3 3.9 -3.2 6.3 -0.3 3.7 -3.5 1.4 -6.2 4 -3.1 3.4 -3.8 7.3 0.9 2.7 -4.7 3 -4.3 2.3 -5.1 4.2 -2.8 6.8 0.2 2.9 -4.4 4 -3.1 0.8 -6.9 5.4 -1.4M923.5 295l4.6 -2.4 5.1 -1.8 2.9 -4.4 3.8 -3.4 2.6 -4.7 5.2 -1.7 4.4 -2.6 3.8 -3.3 3.3 -4 2.6 -4.7 5.3 -1.6 4 -3.1 4.7 -2.3 2.5 -4.9 3.3 -3.9 4.5 -2.5 4.3 -2.7 4.9 -2 2.2 -5.2M928.6 300.9l3.3 -3.9 3.7 -3.4 2.6 -4.8 5.1 -1.8 4.2 -2.8 4.1 -2.9 3.2 -4.1 2.9 -4.4 4.8 -2.1 4 -3.1 4.9 -2.1 2.5 -4.8 3.5 -3.7 4.1 -3 4.4 -2.6 4.8 -2.1 2.6 -4.9 3.8 -3.3 3.3 -3.9M932 305l2.6 -4.7 3.5 -3.7 4.4 -2.6 4.3 -2.8 4.6 -2.3 2.5 -4.9 3.9 -3.3 3.6 -3.5 5 -1.9 4.2 -2.9 2.9 -4.4 3.7 -3.4 3.3 -4 5.4 -1.4 3.7 -3.4 3.7 -3.4 3 -4.3 3.6 -3.6 5.2 -1.7M934 307.4l2.1 -5.3 6.9 0.3 3.9 -3.2 4.2 -2.8 1.8 -5.7 2.9 -4.5 6.1 -0.6 4.1 -2.9 5.1 -1.7 0.8 -7 3.9 -3.2 4.5 -2.5 5.4 -1.4 4.7 -2.3 1.1 -6.6 4.1 -2.9 3.2 -4.1 6.8 0.2 3.6 -3.5M936.5 310.5l4.1 -3 5.7 -1.1 3.7 -3.4 4.2 -2.9 1.4 -6.2 4.8 -2.2 4.5 -2.5 5 -1.9 3.5 -3.6 1.8 -5.8 4.6 -2.4 3.8 -3.2 6.1 -0.7 2.7 -4.6 2.8 -4.5 3.5 -3.7 4.2 -2.8 6.1 -0.6 2.6 -4.8M940.6 315.3l4 -3.2 5.7 -1 2.6 -4.7 3.4 -3.9 3.1 -4 4.6 -2.4 5.4 -1.5 2.9 -4.4 3.7 -3.4 2.4 -5.1 5.3 -1.5 4.5 -2.5 3.9 -3.2 3.2 -4 2.4 -5 5.4 -1.5 4 -3.1 4.9 -2 2.4 -5M945.2 320.8l5.1 -1.9 0.7 -6.9 4.2 -2.9 3.5 -3.7 6.4 -0.2 4 -3.1 1.9 -5.6 3.5 -3.6 3.1 -4.2 7.1 0.6 3.2 -4.1 3.5 -3.7 1.9 -5.5 3.9 -3.3 6.5 -0.1 3.5 -3.7 4.2 -2.8 0.8 -7 4.9 -2M947.5 323.5l4.1 -3 5.1 -1.8 3 -4.2 2.7 -4.7 4.3 -2.8 4 -3 5.6 -1.2 2.5 -4.9 3.5 -3.7 3.2 -4 4.7 -2.2 5.2 -1.7 2.9 -4.4 3.7 -3.5 2.5 -4.9 5.4 -1.4 4.3 -2.7 3.9 -3.2 3.2 -4.1M951.5 328.3l2.8 -4.5 2.7 -4.7 6.7 0.1 3.7 -3.5 4.3 -2.6 1.4 -6.2 3.7 -3.5 5.6 -1.2 4.3 -2.7 4.8 -2.1 0.8 -7 4.4 -2.6 4.1 -3 5.8 -0.9 4 -3.1 1.5 -6.1 4 -3 3.4 -3.8 6.9 0.3M953.5 330.7l4.2 -2.8 3.8 -3.4 5.5 -1.3 4 -3.1 2.3 -5.1 3.8 -3.4 3.4 -3.8 6.1 -0.5 3.3 -4 3.5 -3.7 2.6 -4.7 3.9 -3.2 5.8 -1 3.5 -3.7 4.1 -3 1.7 -5.8 4.7 -2.3 4.7 -2.2 4.5 -2.5M957.9 335.9l4.8 -2.2 2.6 -4.7 3.5 -3.6 4.1 -3.1 4.4 -2.6 4.7 -2.2 2.7 -4.7 3.8 -3.3 3.3 -3.9 5.1 -1.8 4.2 -2.9 3.2 -4 3.6 -3.6 3.1 -4.1 5.3 -1.6 3.8 -3.3 4 -3.1 2.9 -4.4 3.6 -3.6M961.5 340.2l3.7 -3.5 2 -5.4 5.5 -1.3 4.7 -2.3 4 -3.1 3.1 -4.1 2.1 -5.4 5.5 -1.3 4.1 -3 5.2 -1.7 2.1 -5.3 3 -4.4 4.5 -2.4 4.5 -2.5 5.4 -1.4 1.8 -5.7 3.7 -3.5 3.2 -4 5.5 -1.3M965.4 344.9l3.3 -4 3.7 -3.4 2.7 -4.6 4.5 -2.5 4.8 -2.2 3.8 -3.3 3.8 -3.4 2.3 -5 4.9 -2.2 4.1 -2.9 4.6 -2.3 3.3 -4 2.7 -4.6 4.5 -2.5 4 -3.1 5.2 -1.7 2.7 -4.6 3.4 -3.8 3.6 -3.6M1092.6 208.9l3.9 3.2 2.1 5.3 3.6 3.6 3.2 4.1 6.8 -0.3 3.2 4.1 3.5 3.7 2.2 5.3 3.9 3.1 6.2 0.5 3.5 3.7 4.2 2.9 1.1 6.5 4.9 2.1 4.8 2.1 4.8 2.1 3.7 3.5 1.3 6.3 4.9 2M1087.3 215.2l4.1 3 5.9 0.8 2.6 4.8 3.5 3.6 2.7 4.7 4.9 2 5.3 1.6 3.2 4.1 3.6 3.5 2 5.4 5.5 1.3 4.4 2.7 4.4 2.6 2.9 4.5 2.4 4.9 5.2 1.7 4 3 5.3 1.6 2.1 5.4M1084.8 218.2l4.2 2.9 5 1.8 2.2 5.3 2.4 5 5.1 1.7 4.3 2.8 5.8 0.9 1.4 6.2 3.5 3.8 3.6 3.5 5.3 1.5 5.4 1.5 1.8 5.7 3.7 3.5 2.5 4.9 6.4 0.2 4.3 2.7 3.2 4 2.8 4.6M1082.5 220.9l3.6 3.6 1.3 6.3 5.1 1.8 4 3.1 6 0.7 2.5 4.9 2.5 4.9 3.9 3.2 4.3 2.8 6.3 0.2 2.1 5.4 3.5 3.7 2.5 5 5.2 1.5 5.6 1.3 2.9 4.4 3.5 3.6 1.7 5.9 6 0.7M1076.8 227.7l5.5 1.4 3.8 3.2 4.4 2.7 2.4 5 3.6 3.6 4.7 2.2 4.3 2.8 4.6 2.4 2.1 5.3 4 3.1 3.8 3.3 5.1 1.7 4.1 3 2.6 4.8 3.8 3.3 3.4 3.8 5.7 1.1 3.5 3.7 3.5 3.7M1074.3 230.7l2.2 5.2 6.1 0.6 4.1 3 5.4 1.4 1.1 6.6 3.4 3.8 4.5 2.5 5.1 1.7 5.4 1.6 1 6.6 3.9 3.1 3.1 4.3 6.5 0.1 4.2 2.8 2.4 5.1 3.2 4 2.7 4.6 7 -0.5 3.5 3.7M1070.6 235.2l4.1 2.9 4.9 2 4.7 2.3 2 5.5 3.9 3.2 3.2 4 5.9 0.8 3.9 3.3 3 4.2 3.2 4.1 3.3 3.9 6 0.8 3.5 3.6 4 3.1 2.2 5.3 3.9 3.1 5.3 1.6 4 3.1 4.3 2.8M1068.6 237.5l3.7 3.5 3.9 3.2 2.8 4.6 3.8 3.3 4.9 2 3.9 3.2 4.2 2.8 2.3 5.1 4.3 2.8 4.2 2.9 4.6 2.3 3.9 3.3 2.5 4.7 4.2 2.9 3.8 3.4 5.2 1.6 3.4 3.9 3.2 4 3.5 3.7M1064 243l3.3 4 6.4 0.2 3.3 3.8 3.3 4 2.7 4.7 3.7 3.4 6.1 0.6 3.4 3.8 4.1 2.9 1.6 6 4.6 2.4 5 2 4.4 2.5 3.9 3.3 1.4 6.1 4.9 2.1 4 3.1 5.7 1 3 4.3M1060.2 247.5l3.6 3.6 7.3 -0.8 2.5 4.8 3.5 3.7 1.7 5.8 4.7 2.3 6.4 0.3 3.2 4 3.9 3.2 0.7 7 5.7 1.1 4.8 2.2 5 1.8 3 4.3 1.1 6.5 5.4 1.5 4.1 3 6.5 0.1 1.8 5.8M1056.7 251.6l5.3 1.6 4 3.1 4.5 2.5 2.6 4.8 3.3 3.9 4.7 2.3 4.2 2.8 4.8 2.2 2.2 5.2 3.9 3.3 3.7 3.4 5 1.9 4.4 2.6 2.6 4.8 3.8 3.3 3.2 4.1 5.6 1.2 3.7 3.3 3.6 3.7M1054.5 254.3l4.9 2.1 3.4 3.8 3.6 3.6 2.4 4.9 5.2 1.6 4.2 2.9 4.4 2.7 2.9 4.3 2.9 4.5 4.8 2.1 4.1 3 5 1.9 2.4 5 3.5 3.7 3.9 3.2 4.6 2.3 4.9 2.1 2.5 4.9 3.8 3.3M1052.1 257.2l2.5 4.9 3.9 3.1 3.6 3.6 5.7 1.1 3.3 3.9 3.4 3.8 3.1 4.2 3.9 3.2 5.5 1.3 3.4 3.8 3.9 3.2 2.3 5.2 4.5 2.4 4.8 2.3 4.1 2.9 3.8 3.3 2.1 5.3 4.8 2.3 4 3M1047.6 262.5l3.8 3.4 2.9 4.3 5.9 0.9 4.2 2.8 3.1 4.2 3.2 4.1 2.8 4.5 6.1 0.6 3.8 3.4 4.2 2.8 2 5.4 3.6 3.6 5.3 1.5 4.2 2.9 4.6 2.4 1.5 6.1 4.2 2.8 4.1 3 5.3 1.5M1045.3 265.3l4 3 1.7 6 4.7 2.1 4.2 2.9 5.2 1.7 3.4 3.8 2.2 5.3 4.3 2.7 3.9 3.2 5.9 0.8 2.7 4.7 3.2 4 3.2 4.1 4.4 2.6 5.7 1 2.8 4.5 3.8 3.4 2.1 5.3 5.3 1.6M1040.3 271.2l3.4 3.9 6 0.7 5.2 1.6 1.6 6 3.5 3.6 2.3 5.2 7.2 -0.7 4 3.1 3.3 3.9 2.3 5.2 2.6 4.6 6.9 -0.4 3.7 3.5 4.8 2.2 0.7 7 3.9 3.2 5.4 1.5 4.8 2.1 4.8 2.1M1037.3 274.8l3.5 3.6 4.7 2.3 5.5 1.4 2.5 4.9 3.6 3.5 2.6 4.8 5.5 1.3 4.6 2.4 3.5 3.7 3.2 4 2.4 5 5.7 1 4 3.1 4.7 2.3 2.2 5.2 3.2 4.1 4.9 2.1 4.3 2.7 5 1.8M1035.1 277.5l4.6 2.3 3.2 4.1 2.9 4.3 2.3 5.2 6.4 0.2 3.9 3.2 4.7 2.3 1.6 5.9 3.2 4.1 5.4 1.4 4.4 2.6 5.1 1.8 1.1 6.6 4 3.1 3.9 3.2 5.6 1.1 4.5 2.5 1.7 5.9 3.8 3.3M1029.8 283.8l5.3 1.5 4.8 2.2 3.6 3.6 3.3 3.8 2.2 5.3 5.5 1.2 4.1 3 4.8 2.2 2.5 4.9 2.8 4.5 4.9 2.1 4.2 2.8 5.3 1.5 1.9 5.6 3.6 3.5 3.7 3.6 5.1 1.7 4.9 2.1 2.3 5.1M961.2 339.7l5 1.9 4.2 2.9 3.3 3.9 1.4 6.2 5.6 1.2 4.1 2.9 5.6 1.2 2.2 5.2 2.5 5 4.5 2.5 4.3 2.6 6.2 0.6 1.6 5.9 3.5 3.7 2.9 4.4 5.5 1.3 5.4 1.4 2.4 5 3.5 3.7M957.9 343.6l3.3 3.9 4.3 2.8 4.5 2.5 5 1.9 2.2 5.2 3.8 3.4 3.3 3.9 5.3 1.5 4.4 2.6 2.9 4.4 3.6 3.7 2.9 4.4 5.7 1 3.9 3.3 3.9 3.1 2.6 4.7 3.4 3.9 5.3 1.5 4 3.2M953 349.5l5.9 0.8 5.1 1.8 3.1 4.2 3.1 4.1 1.9 5.6 6.4 0.3 4.1 2.9 4.7 2.3 1.9 5.6 2.7 4.7 5.5 1.2 4.3 2.8 5.4 1.3 1.1 6.6 3.7 3.5 4 3.1 5.5 1.3 4.9 2 1.5 6.1M950.4 352.6l5.2 1.6 4 3.1 4.7 2.4 2 5.4 3.9 3.2 4.2 2.9 4.8 2.1 4.4 2.6 2.1 5.3 4.1 3.1 3.4 3.7 5.7 1.2 3.7 3.4 3 4.2 3.4 3.9 3.5 3.7 5.7 1 3.4 3.8 3.9 3.2M947 356.6l7 -0.5 2.5 4.9 3.5 3.7 1.9 5.7 4.8 2 6.1 0.7 3.3 3.9 3.7 3.4 1 6.7 5.7 1 4.7 2.4 5 1.9 2.8 4.4 1.5 6.2 5.3 1.5 4.1 3 6.3 0.3 1.7 5.8 2.8 4.6M946.1 357.8l2.4 4.8 3.7 3.5 3 4.4 5.7 1 4 3.1 3.6 3.6 2.9 4.3 3.1 4.2 5.7 1.1 3.8 3.4 4.4 2.6 2.1 5.4 3.8 3.3 4.7 2.2 4.4 2.6 4.5 2.5 1.8 5.7 4.3 2.8 3.8 3.4M940.8 364l3.8 3.4 6.6 0 2.6 4.7 2.4 5 3.5 3.7 4.1 3 6.8 -0.3 2.3 5.2 3.6 3.5 1.8 5.7 5.3 1.6 5.7 1.1 3.3 3.8 3.6 3.7 1.1 6.5 6 0.7 4.4 2.6 5.1 1.8 2.4 5M939.2 365.9l1 6.7 4.9 2 4.9 2 4.8 2.1 3.8 3.4 1.1 6.6 4.9 1.9 4 3.2 6.2 0.4 2.7 4.7 2.3 5.1 3.8 3.3 4.1 3 6.6 -0.1 2.2 5.3 3.5 3.7 2.2 5.3 5.2 1.6 5.8 1M934.7 371.3l2.7 4.6 5.3 1.6 4.6 2.3 3.4 3.9 3.4 3.8 2.5 4.9 5.5 1.2 4.1 3.1 4.4 2.5 2.6 4.8 3 4.3 5 1.9 4.2 2.9 4.9 1.9 2 5.5 3.8 3.4 3.9 3.2 4.9 2 4.7 2.3M930.9 375.8l3.7 3.5 3 4.3 6.9 -0.4 3.4 3.8 3.3 3.9 2.3 5.1 3.5 3.7 6.6 0.1 3.4 3.7 4.3 2.7 1.1 6.7 4.5 2.4 5.1 1.7 4.8 2.3 4 3.1 0.9 6.7 4.9 2 3.9 3.2 6.2 0.5M928.7 378.5l4.4 2.6 1.6 5.9 4.4 2.6 4.3 2.8 5 1.8 3.9 3.3 2 5.5 4.2 2.8 3.7 3.5 5.9 0.7 3.2 4.2 3 4.3 3.3 3.9 3.9 3.2 6 0.7 3 4.3 3.7 3.4 2.2 5.2 4.8 2.2M924.8 383.1l5 1.9 2.7 4.7 3.2 4 4.1 3 4.3 2.7 5.1 1.8 2.5 4.8 3.8 3.4 3.1 4.1 5.1 1.8 4.6 2.5 3.1 4.1 3.5 3.6 2.9 4.5 5.4 1.4 4 3.1 4 3 2.9 4.5 3.2 4.1M922.5 385.8l0.7 7 5 2 5.5 1.3 4.5 2.5 3.8 3.3 0.5 7.2 5.4 1.5 4.1 3 6.3 0.3 2.6 4.8 1.7 5.8 4.3 2.8 4 3 7.1 -0.6 1.8 5.7 3.2 4.1 2.4 5 5.2 1.6 6.3 0.4M919.1 389.9l3 4.3 1.6 5.9 6.1 0.6 4.1 3 5.3 1.5 1.8 5.7 2.7 4.7 4.9 2 4.5 2.5 5.8 0.9 1.2 6.4 3.7 3.6 3.3 3.9 5.7 1 5.1 1.8 2 5.5 3.5 3.6 2.4 5 6.7 -0.1M913.9 396.1l4.6 2.4 4.8 2.1 4.3 2.7 1.6 6 4.3 2.7 3.6 3.5 6 0.8 3.5 3.7 2.6 4.8 3.5 3.7 3.6 3.5 6.2 0.4 3.1 4.3 3.7 3.5 2.2 5.1 4.4 2.6 5.6 1.3 3.6 3.6 3.9 3.1M910 400.8l5.6 1.1 4.9 2.1 2.8 4.5 3.3 3.8 2.4 5.1 6.2 0.5 4 3 4.2 2.9 2.3 5.1 2.9 4.4 5.6 1.2 4.1 3 5 1.9 1.4 6.2 3.8 3.3 4.3 2.7 5.1 1.9 4.7 2.2 1.6 6M906.8 404.5l6.5 0.1 3.1 4.2 3.9 3.3 1.7 5.8 4.6 2.4 5.5 1.3 3.9 3.2 3.9 3.1 1.3 6.4 5.1 1.8 4.3 2.7 5.4 1.5 3 4.2 1.9 5.6 4.6 2.4 4 3.1 6.2 0.4 2.3 5.2 3.1 4.2M905 406.7l4.6 2.3 3.7 3.5 1.6 6 4.8 2.1 4 3.1 5.8 0.9 2.8 4.6 2.6 4.7 3.8 3.3 4.2 3 6.1 0.5 2.4 5 3.5 3.6 2.6 4.9 5 1.8 5.4 1.5 3.1 4.1 3.6 3.6 1.9 5.7M900.5 412.1l5.4 1.4 4.1 2.9 2.9 4.4 3.5 3.7 3.2 4.1 5.7 1 3.7 3.5 3.9 3.2 2.6 4.8 3.7 3.5 5.2 1.6 3.9 3.2 4.3 2.7 2 5.5 4.3 2.8 4.3 2.7 4.7 2.2 4 3.2 2.2 5.2M1035.1 402.1l3.5 -3.7 2.4 -5 3.3 -4 6.3 -0.3 3.6 -3.5 4.4 -2.6 1.3 -6.4 4.2 -2.8 5.1 -1.8 4.6 -2.3 4.3 -2.8 1.1 -6.5 4.6 -2.4 3.9 -3.3 6.1 -0.6 3.3 -3.9 2.1 -5.3 3.8 -3.4 3.7 -3.4M1038.5 406.1l3.5 -3.6 3.5 -3.8 2.9 -4.3 3.6 -3.6 5.7 -1.1 3.5 -3.6 4.1 -3 2.1 -5.4 4.3 -2.7 4.8 -2.2 4.3 -2.7 4 -3.1 1.9 -5.6 4.6 -2.4 3.9 -3.1 5.4 -1.5 3.3 -4 2.6 -4.7 4 -3.1M1040 408l5.2 -1.7 4.6 -2.3 2.5 -5 3.7 -3.5 2.9 -4.3 5.9 -0.8 3.9 -3.2 3.5 -3.7 2.9 -4.4 3.2 -4.1 5.8 -1 3.7 -3.4 4.3 -2.7 2 -5.5 4 -3.2 4.8 -2.1 4.4 -2.6 4.3 -2.7 1.8 -5.7M1043.7 412.3l3.9 -3.1 6.4 -0.2 2.1 -5.4 2.7 -4.7 3.6 -3.6 4.6 -2.4 6.4 -0.2 2 -5.5 3.5 -3.6 2.1 -5.4 5.8 -1 5.3 -1.5 3.1 -4.1 3.3 -4 1.6 -6 6.2 -0.3 4.3 -2.8 4.8 -2.1 2.1 -5.4M1049.7 419.5l1.8 -5.7 2.4 -5.1 4.4 -2.5 4.6 -2.4 6.4 -0.3 1.3 -6.2 3.5 -3.7 2.6 -4.8 5.9 -0.8 5.5 -1.3 2.3 -5.1 3.4 -3.9 1.7 -5.7 6.8 0.2 4.3 -2.8 4.1 -2.9 2.1 -5.4 2.3 -5.1 6.3 -0.3M1051.4 421.5l1.5 -6 5 -2 5.7 -1 3.7 -3.4 3.8 -3.4 0.9 -6.8 5.6 -1.2 4.4 -2.6 5.4 -1.4 2.7 -4.6 1.7 -5.8 4.9 -2.1 4.1 -3 6.5 -0.1 1.8 -5.8 3 -4.2 3.2 -4 5 -1.9 6.1 -0.6M1053.2 423.7l4.8 -2.1 4.8 -2.2 4.5 -2.5 1.3 -6.3 4.3 -2.7 3.7 -3.5 6 -0.7 3.6 -3.5 2.3 -5.1 3.7 -3.6 3.4 -3.7 6.5 -0.1 3.1 -4.3 3.5 -3.6 2.3 -5.1 4.2 -2.9 5.9 -0.8 3.5 -3.8 4 -3M1056.6 427.8l5 -2 4.7 -2.2 4.2 -2.9 1.1 -6.5 4.7 -2.3 3.8 -3.3 6.1 -0.6 3.2 -4 2.2 -5.2 3.8 -3.4 3.7 -3.4 6.7 0 2.6 -4.7 3.5 -3.7 2.2 -5.2 4.7 -2.3 5.9 -0.8 3.2 -4.1 3.8 -3.3M1062.1 434.3l2.5 -4.9 3.6 -3.6 3.6 -3.5 4.8 -2.2 4.7 -2.2 2.8 -4.6 3.7 -3.4 3 -4.3 5.4 -1.5 4.1 -2.9 3.6 -3.6 3.2 -4 3.1 -4.2 5.3 -1.5 3.8 -3.3 4.4 -2.7 2.5 -4.9 3.6 -3.5 4.7 -2.3M1064.7 437.4l3.6 -3.6 2 -5.4 5.7 -1.2 4.2 -2.7 4.5 -2.6 2.7 -4.6 2.5 -4.9 5.2 -1.6 4.1 -3 5.3 -1.5 2 -5.6 3.4 -3.8 4 -3.1 4.8 -2.1 5.2 -1.7 2 -5.5 3.8 -3.3 2.9 -4.4 5.8 -0.9M1069.2 442.7l2.7 -4.6 3.8 -3.3 1.7 -5.8 5.3 -1.6 5.1 -1.7 4 -3.2 3.4 -3.8 1.5 -6.1 5.6 -1.2 4.1 -2.9 5.4 -1.4 2.4 -5.1 2.4 -5 4.6 -2.3 4.3 -2.7 6 -0.8 1.7 -5.7 3.5 -3.8 3.2 -4.1M1070.9 444.7l4.8 -2.1 3.5 -3.6 2.6 -4.9 4.2 -2.7 3.9 -3.3 5.4 -1.4 3 -4.3 3.3 -3.9 3.4 -3.8 4.3 -2.8 5.3 -1.5 3 -4.3 3.8 -3.3 2.6 -4.8 4.9 -2.1 4.6 -2.3 3.8 -3.3 3.5 -3.7 2.5 -4.9M1073.3 447.7l4.4 -2.7 5.2 -1.6 3.4 -3.9 3.8 -3.3 2.3 -5.1 4.9 -2 4.5 -2.6 4.3 -2.7 3.3 -3.9 2.4 -5 4.9 -2 4 -3.1 5.1 -1.7 2.7 -4.8 3.1 -4.1 4.1 -3 4.3 -2.7 5.3 -1.6 2.4 -4.9M1078.2 453.5l4.3 -2.7 1.5 -6.1 4.4 -2.6 4.9 -2.1 4.6 -2.3 4 -3.1 1.5 -6.1 4.6 -2.3 3.9 -3.3 5.9 -0.8 3.1 -4.2 2.4 -5 3.8 -3.3 3.9 -3.2 6.3 -0.4 2.7 -4.7 3.4 -3.7 2.5 -4.9 4.7 -2.3M1082.1 458.1l2 -5.4 4.1 -3 3.6 -3.6 5.5 -1.3 3.8 -3.3 2.8 -4.5 3.6 -3.6 3.5 -3.8 5.8 -0.9 3.4 -3.8 3.7 -3.4 2.6 -4.8 4 -3 5.3 -1.6 3.7 -3.4 4.1 -3 2 -5.5 4.6 -2.4 4.4 -2.6M1084.3 460.8l4.2 -2.9 4.6 -2.3 2.3 -5.2 3.9 -3.2 3.8 -3.3 5 -2 4.2 -2.7 2.6 -4.8 3.9 -3.3 3.3 -3.9 5.5 -1.3 3.8 -3.4 3.4 -3.8 3.1 -4.1 3.6 -3.6 5.4 -1.4 3.6 -3.6 4.1 -3 2.4 -5M1087.5 464.5l5.1 -1.7 3.2 -4.1 3.6 -3.5 2.3 -5.2 5.4 -1.4 4.3 -2.7 4.2 -2.8 3 -4.3 2.6 -4.9 5.1 -1.7 4.1 -3 5.1 -1.8 2.2 -5.2 3.3 -3.9 4.2 -2.9 4.6 -2.4 5.1 -1.8 2.1 -5.3 3.8 -3.3M1091.4 469.2l4.2 -2.8 2.8 -4.6 3.2 -4 5 -1.9 4 -3.1 4.7 -2.3 2.2 -5.2 3.9 -3.3 4 -3 4.8 -2.2 4.4 -2.6 2.4 -5 3.9 -3.1 3.4 -3.8 5.5 -1.4 3.8 -3.3 3.2 -4.1 3.4 -3.8 3.4 -3.8M1093.2 471.4l4.4 -2.6 4.5 -2.5 5.6 -1.2 1.9 -5.7 3.6 -3.5 3.1 -4.2 5.5 -1.3 4.9 -2 2.6 -4.8 3.5 -3.7 2.4 -4.9 6.2 -0.5 4 -3.1 4 -3.2 2.5 -4.8 2.9 -4.4 5.7 -1 4 -3.2 4.8 -2.1" fill="none" stroke="#f6f4e4" stroke-width="2.2"/>
</g>
<rect x="998.1" y="255.1" width="70" height="162.5" fill="#3a3a22"/>
<rect x="954.3" y="308.5" width="163.7" height="69.4" fill="#3a3a22"/>
<g clip-path="url(#cf4t)">
<path d="M994.2 255.1l-0.1 4.7 -0.5 4.7 -0.7 4.7 -0.4 4.7 0 4.7 0.2 4.7 0.2 4.7 0.3 4.7 0.5 4.7 0.5 4.7 0.1 4.7 -0.5 4.7M997.6 255.1l-0.5 4.7 0 4.7 0.4 4.7 0.5 4.7 0.3 4.7 0.4 4.7 0.4 4.7 0 4.7 -0.5 4.7 -0.7 4.7 -0.6 4.7 -0.1 4.7M1002.3 255.1l0.7 4.7 0.5 4.7 0.1 4.7 -0.1 4.7 -0.2 4.7 -0.2 4.7 -0.4 4.7 -0.5 4.7 -0.2 4.7 0.2 4.7 0.5 4.7 0.5 4.7M1008.4 255.1l-0.4 4.7 -0.5 4.7 -0.3 4.7 0 4.7 0 4.7 0 4.7 0.3 4.7 0.6 4.7 0.4 4.7 -0.1 4.7 -0.3 4.7 -0.4 4.7M1011.7 255.1l-0.3 4.7 0.2 4.7 0.7 4.7 0.7 4.7 0.3 4.7 0 4.7 -0.1 4.7 -0.2 4.7 -0.5 4.7 -0.7 4.7 -0.4 4.7 0.1 4.7M1017.7 255.1l-0.3 4.7 -0.2 4.7 -0.1 4.7 -0.2 4.7 -0.1 4.7 0.1 4.7 0.4 4.7 0.3 4.7 0.2 4.7 -0.1 4.7 -0.1 4.7 -0.1 4.7M1022.8 255.1l0.4 4.7 -0.1 4.7 -0.5 4.7 -0.4 4.7 -0.4 4.7 -0.4 4.7 -0.3 4.7 0 4.7 0.6 4.7 0.8 4.7 0.5 4.7 0 4.7M1026.4 255.1l-0.2 4.7 0.2 4.7 0.5 4.7 0.5 4.7 0.2 4.7 -0.1 4.7 -0.2 4.7 -0.2 4.7 -0.3 4.7 -0.4 4.7 -0.3 4.7 0.2 4.7M1031.2 255.1l-0.7 4.7 0 4.7 0.6 4.7 0.6 4.7 0.4 4.7 0.3 4.7 0.2 4.7 0.1 4.7 -0.4 4.7 -0.9 4.7 -0.7 4.7 -0.1 4.7M1036.7 255.1l-0.7 4.7 -0.4 4.7 0.1 4.7 0.2 4.7 0.2 4.7 0.4 4.7 0.6 4.7 0.5 4.7 -0.1 4.7 -0.6 4.7 -0.6 4.7 -0.4 4.7M1042.2 255.1l-0.2 4.7 -0.4 4.7 -0.4 4.7 -0.3 4.7 -0.2 4.7 -0.1 4.7 0.1 4.7 0.4 4.7 0.6 4.7 0.4 4.7 -0.1 4.7 -0.3 4.7M1045.4 255.1l-0.2 4.7 0.3 4.7 0.4 4.7 0.3 4.7 0.3 4.7 0.3 4.7 0.1 4.7 -0.2 4.7 -0.6 4.7 -0.6 4.7 -0.1 4.7 0.1 4.7M1052 255.1l-0.5 4.7 -0.6 4.7 -0.4 4.7 -0.3 4.7 -0.2 4.7 0 4.7 0.4 4.7 0.8 4.7 0.6 4.7 0.1 4.7 -0.3 4.7 -0.3 4.7M1056.3 255.1l-0.2 4.7 -0.5 4.7 -0.4 4.7 -0.1 4.7 0.1 4.7 0.2 4.7 0.2 4.7 0.3 4.7 0.3 4.7 0.2 4.7 -0.2 4.7 -0.4 4.7M1061.1 255.1l0.3 4.7 -0.1 4.7 -0.2 4.7 -0.2 4.7 -0.4 4.7 -0.7 4.7 -0.4 4.7 0.1 4.7 0.6 4.7 0.6 4.7 0.3 4.7 0.2 4.7M1064.5 255.1l0.7 4.7 0.5 4.7 0.3 4.7 0 4.7 0 4.7 -0.1 4.7 -0.6 4.7 -0.7 4.7 -0.4 4.7 0.2 4.7 0.5 4.7 0.4 4.7M1070.9 255.1l0.1 4.7 -0.2 4.7 -0.6 4.7 -0.8 4.7 -0.4 4.7 0.2 4.7 0.4 4.7 0.4 4.7 0.3 4.7 0.5 4.7 0.4 4.7 -0.1 4.7M1076.1 255.1l-0.5 4.7 -0.8 4.7 -0.5 4.7 -0.2 4.7 0 4.7 0 4.7 0.3 4.7 0.7 4.7 0.8 4.7 0.2 4.7 -0.4 4.7 -0.6 4.7" fill="none" stroke="#1a1a0e" stroke-width="2.3"/>
<path d="M996.6 255.1l-0.1 4.7 -0.5 4.7 -0.7 4.7 -0.4 4.7 0 4.7 0.2 4.7 0.2 4.7 0.3 4.7 0.5 4.7 0.5 4.7 0.1 4.7 -0.5 4.7M1000 255.1l-0.5 4.7 0 4.7 0.4 4.7 0.5 4.7 0.3 4.7 0.4 4.7 0.4 4.7 0 4.7 -0.5 4.7 -0.7 4.7 -0.6 4.7 -0.1 4.7M1004.7 255.1l0.7 4.7 0.5 4.7 0.1 4.7 -0.1 4.7 -0.2 4.7 -0.2 4.7 -0.4 4.7 -0.5 4.7 -0.2 4.7 0.2 4.7 0.5 4.7 0.5 4.7M1010.8 255.1l-0.4 4.7 -0.5 4.7 -0.3 4.7 0 4.7 0 4.7 0 4.7 0.3 4.7 0.6 4.7 0.4 4.7 -0.1 4.7 -0.3 4.7 -0.4 4.7M1014.1 255.1l-0.3 4.7 0.2 4.7 0.7 4.7 0.7 4.7 0.3 4.7 0 4.7 -0.1 4.7 -0.2 4.7 -0.5 4.7 -0.7 4.7 -0.4 4.7 0.1 4.7M1020.1 255.1l-0.3 4.7 -0.2 4.7 -0.1 4.7 -0.2 4.7 -0.1 4.7 0.1 4.7 0.4 4.7 0.3 4.7 0.2 4.7 -0.1 4.7 -0.1 4.7 -0.1 4.7M1025.2 255.1l0.4 4.7 -0.1 4.7 -0.5 4.7 -0.4 4.7 -0.4 4.7 -0.4 4.7 -0.3 4.7 0 4.7 0.6 4.7 0.8 4.7 0.5 4.7 0 4.7M1028.8 255.1l-0.2 4.7 0.2 4.7 0.5 4.7 0.5 4.7 0.2 4.7 -0.1 4.7 -0.2 4.7 -0.2 4.7 -0.3 4.7 -0.4 4.7 -0.3 4.7 0.2 4.7M1033.6 255.1l-0.7 4.7 0 4.7 0.6 4.7 0.6 4.7 0.4 4.7 0.3 4.7 0.2 4.7 0.1 4.7 -0.4 4.7 -0.9 4.7 -0.7 4.7 -0.1 4.7M1039.1 255.1l-0.7 4.7 -0.4 4.7 0.1 4.7 0.2 4.7 0.2 4.7 0.4 4.7 0.6 4.7 0.5 4.7 -0.1 4.7 -0.6 4.7 -0.6 4.7 -0.4 4.7M1044.6 255.1l-0.2 4.7 -0.4 4.7 -0.4 4.7 -0.3 4.7 -0.2 4.7 -0.1 4.7 0.1 4.7 0.4 4.7 0.6 4.7 0.4 4.7 -0.1 4.7 -0.3 4.7M1047.8 255.1l-0.2 4.7 0.3 4.7 0.4 4.7 0.3 4.7 0.3 4.7 0.3 4.7 0.1 4.7 -0.2 4.7 -0.6 4.7 -0.6 4.7 -0.1 4.7 0.1 4.7M1054.4 255.1l-0.5 4.7 -0.6 4.7 -0.4 4.7 -0.3 4.7 -0.2 4.7 0 4.7 0.4 4.7 0.8 4.7 0.6 4.7 0.1 4.7 -0.3 4.7 -0.3 4.7M1058.7 255.1l-0.2 4.7 -0.5 4.7 -0.4 4.7 -0.1 4.7 0.1 4.7 0.2 4.7 0.2 4.7 0.3 4.7 0.3 4.7 0.2 4.7 -0.2 4.7 -0.4 4.7M1063.5 255.1l0.3 4.7 -0.1 4.7 -0.2 4.7 -0.2 4.7 -0.4 4.7 -0.7 4.7 -0.4 4.7 0.1 4.7 0.6 4.7 0.6 4.7 0.3 4.7 0.2 4.7M1066.9 255.1l0.7 4.7 0.5 4.7 0.3 4.7 0 4.7 0 4.7 -0.1 4.7 -0.6 4.7 -0.7 4.7 -0.4 4.7 0.2 4.7 0.5 4.7 0.4 4.7M1073.3 255.1l0.1 4.7 -0.2 4.7 -0.6 4.7 -0.8 4.7 -0.4 4.7 0.2 4.7 0.4 4.7 0.4 4.7 0.3 4.7 0.5 4.7 0.4 4.7 -0.1 4.7M1078.5 255.1l-0.5 4.7 -0.8 4.7 -0.5 4.7 -0.2 4.7 0 4.7 0 4.7 0.3 4.7 0.7 4.7 0.8 4.7 0.2 4.7 -0.4 4.7 -0.6 4.7" fill="none" stroke="#dedcb0" stroke-width="1.2"/>
</g>
<g clip-path="url(#cf4b)">
<path d="M993.3 374.9l-0.1 4.7 -0.2 4.8 -0.1 4.7 -0.1 4.8 0.2 4.7 0.4 4.8 0.3 4.7 0.1 4.8 -0.1 4.7M998 374.9l-0.1 4.7 -0.2 4.8 -0.1 4.7 0 4.8 0.3 4.7 0.5 4.8 0.2 4.7 0 4.8 -0.2 4.7M1003.7 374.9l0.4 4.7 -0.2 4.8 -0.7 4.7 -0.6 4.8 -0.3 4.7 -0.2 4.8 -0.1 4.7 0.1 4.8 0.7 4.7M1007 374.9l0 4.7 0.4 4.8 0.5 4.7 0.2 4.8 0.1 4.7 0 4.8 0 4.7 -0.3 4.8 -0.5 4.7M1012.9 374.9l0.3 4.7 0.2 4.8 -0.1 4.7 -0.6 4.8 -0.7 4.7 -0.4 4.8 0.1 4.7 0.3 4.8 0.2 4.7M1017.6 374.9l-0.4 4.7 -0.3 4.8 -0.1 4.7 0.1 4.8 0.1 4.7 0.2 4.8 0.3 4.7 0.3 4.8 0.1 4.7M1022.7 374.9l-0.4 4.7 -0.6 4.8 -0.2 4.7 0 4.8 0.2 4.7 0.2 4.8 0.2 4.7 0.4 4.8 0.3 4.7M1026.1 374.9l-0.2 4.7 0.3 4.8 0.7 4.7 0.5 4.8 0.1 4.7 0.1 4.8 -0.1 4.7 -0.2 4.8 -0.5 4.7M1032.2 374.9l-0.8 4.7 -0.6 4.8 -0.1 4.7 0.2 4.8 0.2 4.7 0.4 4.8 0.7 4.7 0.6 4.8 0.1 4.7M1036.9 374.9l0.2 4.7 0.1 4.8 0 4.7 -0.2 4.8 -0.6 4.7 -0.6 4.8 -0.3 4.7 0.3 4.8 0.4 4.7M1040.6 374.9l0.1 4.7 0.4 4.8 0.5 4.7 0.2 4.8 0 4.7 0 4.8 -0.1 4.7 -0.3 4.8 -0.5 4.7M1046.8 374.9l-0.2 4.7 -0.3 4.8 -0.3 4.7 -0.6 4.8 -0.3 4.7 0.2 4.8 0.6 4.7 0.5 4.8 0.3 4.7M1050.3 374.9l-0.4 4.7 0.1 4.8 0.6 4.7 0.5 4.8 0.3 4.7 0.2 4.8 0.1 4.7 -0.1 4.8 -0.5 4.7M1054.8 374.9l0 4.7 0.4 4.8 0.5 4.7 0.2 4.8 0.3 4.7 0.3 4.8 0 4.7 -0.4 4.8 -0.7 4.7M1060.3 374.9l-0.5 4.7 -0.1 4.8 0.2 4.7 0.2 4.8 0.3 4.7 0.4 4.8 0.5 4.7 0.1 4.8 -0.3 4.7M1065.4 374.9l0.6 4.7 0.1 4.8 -0.1 4.7 -0.2 4.8 -0.3 4.7 -0.5 4.8 -0.5 4.7 -0.2 4.8 0.3 4.7M1070.4 374.9l-0.2 4.7 -0.4 4.8 -0.4 4.7 -0.1 4.8 0.4 4.7 0.4 4.8 0.4 4.7 0.1 4.8 0.1 4.7M1075.2 374.9l0.6 4.7 0 4.8 -0.3 4.7 -0.5 4.8 -0.4 4.7 -0.2 4.8 -0.2 4.7 -0.1 4.8 0.3 4.7" fill="none" stroke="#1a1a0e" stroke-width="2.3"/>
<path d="M995.7 374.9l-0.1 4.7 -0.2 4.8 -0.1 4.7 -0.1 4.8 0.2 4.7 0.4 4.8 0.3 4.7 0.1 4.8 -0.1 4.7M1000.4 374.9l-0.1 4.7 -0.2 4.8 -0.1 4.7 0 4.8 0.3 4.7 0.5 4.8 0.2 4.7 0 4.8 -0.2 4.7M1006.1 374.9l0.4 4.7 -0.2 4.8 -0.7 4.7 -0.6 4.8 -0.3 4.7 -0.2 4.8 -0.1 4.7 0.1 4.8 0.7 4.7M1009.4 374.9l0 4.7 0.4 4.8 0.5 4.7 0.2 4.8 0.1 4.7 0 4.8 0 4.7 -0.3 4.8 -0.5 4.7M1015.3 374.9l0.3 4.7 0.2 4.8 -0.1 4.7 -0.6 4.8 -0.7 4.7 -0.4 4.8 0.1 4.7 0.3 4.8 0.2 4.7M1020 374.9l-0.4 4.7 -0.3 4.8 -0.1 4.7 0.1 4.8 0.1 4.7 0.2 4.8 0.3 4.7 0.3 4.8 0.1 4.7M1025.1 374.9l-0.4 4.7 -0.6 4.8 -0.2 4.7 0 4.8 0.2 4.7 0.2 4.8 0.2 4.7 0.4 4.8 0.3 4.7M1028.5 374.9l-0.2 4.7 0.3 4.8 0.7 4.7 0.5 4.8 0.1 4.7 0.1 4.8 -0.1 4.7 -0.2 4.8 -0.5 4.7M1034.6 374.9l-0.8 4.7 -0.6 4.8 -0.1 4.7 0.2 4.8 0.2 4.7 0.4 4.8 0.7 4.7 0.6 4.8 0.1 4.7M1039.3 374.9l0.2 4.7 0.1 4.8 0 4.7 -0.2 4.8 -0.6 4.7 -0.6 4.8 -0.3 4.7 0.3 4.8 0.4 4.7M1043 374.9l0.1 4.7 0.4 4.8 0.5 4.7 0.2 4.8 0 4.7 0 4.8 -0.1 4.7 -0.3 4.8 -0.5 4.7M1049.2 374.9l-0.2 4.7 -0.3 4.8 -0.3 4.7 -0.6 4.8 -0.3 4.7 0.2 4.8 0.6 4.7 0.5 4.8 0.3 4.7M1052.7 374.9l-0.4 4.7 0.1 4.8 0.6 4.7 0.5 4.8 0.3 4.7 0.2 4.8 0.1 4.7 -0.1 4.8 -0.5 4.7M1057.2 374.9l0 4.7 0.4 4.8 0.5 4.7 0.2 4.8 0.3 4.7 0.3 4.8 0 4.7 -0.4 4.8 -0.7 4.7M1062.7 374.9l-0.5 4.7 -0.1 4.8 0.2 4.7 0.2 4.8 0.3 4.7 0.4 4.8 0.5 4.7 0.1 4.8 -0.3 4.7M1067.8 374.9l0.6 4.7 0.1 4.8 -0.1 4.7 -0.2 4.8 -0.3 4.7 -0.5 4.8 -0.5 4.7 -0.2 4.8 0.3 4.7M1072.8 374.9l-0.2 4.7 -0.4 4.8 -0.4 4.7 -0.1 4.8 0.4 4.7 0.4 4.8 0.4 4.7 0.1 4.8 0.1 4.7M1077.6 374.9l0.6 4.7 0 4.8 -0.3 4.7 -0.5 4.8 -0.4 4.7 -0.2 4.8 -0.2 4.7 -0.1 4.8 0.3 4.7" fill="none" stroke="#dedcb0" stroke-width="1.2"/>
</g>
<g clip-path="url(#cf4l)">
<path d="M954.3 303.9l4.7 0.3 4.7 0.2 4.6 0.2 4.7 0 4.7 -0.6 4.7 -0.8 4.7 -0.5 4.6 0 4.7 0.4 4.7 0.3M954.3 309.1l4.7 0.3 4.7 -0.2 4.6 -0.5 4.7 -0.5 4.7 -0.2 4.7 -0.1 4.7 0 4.6 0.1 4.7 0.4 4.7 0.6M954.3 312.9l4.7 -0.3 4.7 0.1 4.6 0.3 4.7 0.3 4.7 0.2 4.7 0.2 4.7 0.2 4.6 0 4.7 -0.3 4.7 -0.5M954.3 317.9l4.7 -0.4 4.7 -0.1 4.6 0.1 4.7 0.2 4.7 0.2 4.7 0.4 4.7 0.5 4.6 0.2 4.7 -0.3 4.7 -0.5M954.3 323.5l4.7 0.1 4.7 0.1 4.6 -0.1 4.7 -0.4 4.7 -0.7 4.7 -0.5 4.7 -0.1 4.6 0.4 4.7 0.4 4.7 0.3M954.3 327.6l4.7 -0.3 4.7 -0.3 4.6 -0.2 4.7 0.1 4.7 0.5 4.7 0.8 4.7 0.4 4.6 -0.1 4.7 -0.2 4.7 -0.2M954.3 332.9l4.7 -0.7 4.7 -0.5 4.6 0 4.7 0.1 4.7 0.2 4.7 0.3 4.7 0.6 4.6 0.6 4.7 0.1 4.7 -0.4M954.3 336.6l4.7 0 4.7 0.1 4.6 0.2 4.7 0.5 4.7 0.6 4.7 0.3 4.7 -0.2 4.6 -0.5 4.7 -0.4 4.7 -0.3M954.3 342.2l4.7 0.6 4.7 0.4 4.6 -0.1 4.7 -0.7 4.7 -0.6 4.7 -0.3 4.7 -0.1 4.6 -0.1 4.7 0.1 4.7 0.4M954.3 347.2l4.7 -0.4 4.7 -0.4 4.6 -0.4 4.7 -0.1 4.7 0.6 4.7 0.6 4.7 0.4 4.6 0.1 4.7 0 4.7 -0.1M954.3 352.2l4.7 -0.6 4.7 -0.3 4.6 -0.2 4.7 0 4.7 0 4.7 0.2 4.7 0.5 4.6 0.6 4.7 0.2 4.7 -0.3M954.3 355.8l4.7 0.4 4.7 0.3 4.6 0.2 4.7 0.3 4.7 0.2 4.7 0 4.7 -0.4 4.6 -0.6 4.7 -0.4 4.7 0M954.3 360.7l4.7 0 4.7 0.3 4.6 0.4 4.7 0.3 4.7 0 4.7 0.1 4.7 -0.1 4.6 -0.2 4.7 -0.4 4.7 -0.4M954.3 366.5l4.7 -0.3 4.7 -0.5 4.6 -0.2 4.7 0.1 4.7 0.2 4.7 0.2 4.7 0.2 4.6 0.3 4.7 0.2 4.7 0M954.3 371.3l4.7 0 4.7 -0.1 4.6 -0.2 4.7 -0.2 4.7 -0.3 4.7 -0.2 4.7 0.2 4.6 0.3 4.7 0.3 4.7 0.1M954.3 376.4l4.7 -0.2 4.7 -0.6 4.6 -0.7 4.7 -0.3 4.7 0.2 4.7 0.6 4.7 0.4 4.6 0.3 4.7 0.3 4.7 0.3M954.3 380.7l4.7 -0.2 4.7 -0.2 4.6 -0.3 4.7 -0.2 4.7 0.1 4.7 0.5 4.7 0.5 4.6 0.2 4.7 -0.1 4.7 -0.1M954.3 386l4.7 -0.5 4.7 -0.6 4.6 -0.4 4.7 0 4.7 0.3 4.7 0.3 4.7 0.3 4.6 0.3 4.7 0.4 4.7 0.1" fill="none" stroke="#1a1a0e" stroke-width="2.3"/>
<path d="M954.3 306.3l4.7 0.3 4.7 0.2 4.6 0.2 4.7 0 4.7 -0.6 4.7 -0.8 4.7 -0.5 4.6 0 4.7 0.4 4.7 0.3M954.3 311.5l4.7 0.3 4.7 -0.2 4.6 -0.5 4.7 -0.5 4.7 -0.2 4.7 -0.1 4.7 0 4.6 0.1 4.7 0.4 4.7 0.6M954.3 315.3l4.7 -0.3 4.7 0.1 4.6 0.3 4.7 0.3 4.7 0.2 4.7 0.2 4.7 0.2 4.6 0 4.7 -0.3 4.7 -0.5M954.3 320.3l4.7 -0.4 4.7 -0.1 4.6 0.1 4.7 0.2 4.7 0.2 4.7 0.4 4.7 0.5 4.6 0.2 4.7 -0.3 4.7 -0.5M954.3 325.9l4.7 0.1 4.7 0.1 4.6 -0.1 4.7 -0.4 4.7 -0.7 4.7 -0.5 4.7 -0.1 4.6 0.4 4.7 0.4 4.7 0.3M954.3 330l4.7 -0.3 4.7 -0.3 4.6 -0.2 4.7 0.1 4.7 0.5 4.7 0.8 4.7 0.4 4.6 -0.1 4.7 -0.2 4.7 -0.2M954.3 335.3l4.7 -0.7 4.7 -0.5 4.6 0 4.7 0.1 4.7 0.2 4.7 0.3 4.7 0.6 4.6 0.6 4.7 0.1 4.7 -0.4M954.3 339l4.7 0 4.7 0.1 4.6 0.2 4.7 0.5 4.7 0.6 4.7 0.3 4.7 -0.2 4.6 -0.5 4.7 -0.4 4.7 -0.3M954.3 344.6l4.7 0.6 4.7 0.4 4.6 -0.1 4.7 -0.7 4.7 -0.6 4.7 -0.3 4.7 -0.1 4.6 -0.1 4.7 0.1 4.7 0.4M954.3 349.6l4.7 -0.4 4.7 -0.4 4.6 -0.4 4.7 -0.1 4.7 0.6 4.7 0.6 4.7 0.4 4.6 0.1 4.7 0 4.7 -0.1M954.3 354.6l4.7 -0.6 4.7 -0.3 4.6 -0.2 4.7 0 4.7 0 4.7 0.2 4.7 0.5 4.6 0.6 4.7 0.2 4.7 -0.3M954.3 358.2l4.7 0.4 4.7 0.3 4.6 0.2 4.7 0.3 4.7 0.2 4.7 0 4.7 -0.4 4.6 -0.6 4.7 -0.4 4.7 0M954.3 363.1l4.7 0 4.7 0.3 4.6 0.4 4.7 0.3 4.7 0 4.7 0.1 4.7 -0.1 4.6 -0.2 4.7 -0.4 4.7 -0.4M954.3 368.9l4.7 -0.3 4.7 -0.5 4.6 -0.2 4.7 0.1 4.7 0.2 4.7 0.2 4.7 0.2 4.6 0.3 4.7 0.2 4.7 0M954.3 373.7l4.7 0 4.7 -0.1 4.6 -0.2 4.7 -0.2 4.7 -0.3 4.7 -0.2 4.7 0.2 4.6 0.3 4.7 0.3 4.7 0.1M954.3 378.8l4.7 -0.2 4.7 -0.6 4.6 -0.7 4.7 -0.3 4.7 0.2 4.7 0.6 4.7 0.4 4.6 0.3 4.7 0.3 4.7 0.3M954.3 383.1l4.7 -0.2 4.7 -0.2 4.6 -0.3 4.7 -0.2 4.7 0.1 4.7 0.5 4.7 0.5 4.6 0.2 4.7 -0.1 4.7 -0.1M954.3 388.4l4.7 -0.5 4.7 -0.6 4.6 -0.4 4.7 0 4.7 0.3 4.7 0.3 4.7 0.3 4.6 0.3 4.7 0.4 4.7 0.1" fill="none" stroke="#dedcb0" stroke-width="1.2"/>
</g>
<g clip-path="url(#cf4r)">
<path d="M1065.1 303.8l4.8 0.3 4.8 0.1 4.8 -0.1 4.8 0 4.8 -0.2 4.9 -0.4 4.8 -0.4 4.8 0 4.8 0.2 4.8 0.4 4.8 0.2M1065.1 309.3l4.8 -0.4 4.8 -0.4 4.8 -0.3 4.8 -0.3 4.8 -0.3 4.9 0.1 4.8 0.6 4.8 0.7 4.8 0.3 4.8 -0.1 4.8 -0.1M1065.1 313.7l4.8 -0.2 4.8 -0.4 4.8 -0.4 4.8 0 4.8 0.3 4.9 0.3 4.8 0.1 4.8 0.2 4.8 0.2 4.8 0.1 4.8 -0.3M1065.1 318.1l4.8 0.7 4.8 0.2 4.8 -0.2 4.8 -0.2 4.8 -0.3 4.9 -0.5 4.8 -0.6 4.8 -0.2 4.8 0.3 4.8 0.7 4.8 0.5M1065.1 322l4.8 0.1 4.8 0.2 4.8 0.5 4.8 0.9 4.8 0.5 4.9 -0.2 4.8 -0.7 4.8 -0.5 4.8 -0.4 4.8 -0.3 4.8 -0.3M1065.1 328.1l4.8 -0.4 4.8 -0.4 4.8 -0.6 4.8 -0.2 4.8 0.4 4.9 0.8 4.8 0.7 4.8 0.2 4.8 -0.1 4.8 -0.1 4.8 -0.3M1065.1 332.5l4.8 0.4 4.8 0.3 4.8 0 4.8 -0.5 4.8 -0.4 4.9 -0.2 4.8 -0.1 4.8 -0.1 4.8 0.1 4.8 0.4 4.8 0.5M1065.1 338.3l4.8 -0.3 4.8 -0.5 4.8 -0.3 4.8 -0.4 4.8 -0.4 4.9 -0.1 4.8 0.4 4.8 0.8 4.8 0.6 4.8 0.1 4.8 -0.2M1065.1 342.6l4.8 0 4.8 0 4.8 -0.1 4.8 -0.4 4.8 -0.5 4.9 -0.3 4.8 0.2 4.8 0.3 4.8 0.4 4.8 0.2 4.8 0.2M1065.1 346.4l4.8 -0.1 4.8 0.1 4.8 0.1 4.8 0.2 4.8 0.5 4.9 0.4 4.8 0.1 4.8 -0.3 4.8 -0.5 4.8 -0.2 4.8 -0.2M1065.1 352.4l4.8 0 4.8 -0.4 4.8 -0.3 4.8 -0.2 4.8 -0.2 4.9 -0.3 4.8 0.1 4.8 0.4 4.8 0.5 4.8 0.3 4.8 0M1065.1 357l4.8 -0.1 4.8 -0.1 4.8 -0.2 4.8 -0.2 4.8 -0.3 4.9 -0.2 4.8 0.1 4.8 0.4 4.8 0.4 4.8 0.1 4.8 0M1065.1 361.2l4.8 0.6 4.8 0.2 4.8 0.1 4.8 0 4.8 -0.3 4.9 -0.6 4.8 -0.7 4.8 -0.3 4.8 0.3 4.8 0.5 4.8 0.4M1065.1 366.8l4.8 -0.2 4.8 -0.5 4.8 -0.4 4.8 -0.1 4.8 0 4.9 0.1 4.8 0.1 4.8 0.4 4.8 0.5 4.8 0.1 4.8 -0.2M1065.1 371.1l4.8 0.2 4.8 0 4.8 0 4.8 -0.1 4.8 -0.3 4.9 -0.3 4.8 -0.3 4.8 0.1 4.8 0.3 4.8 0.3 4.8 0.1M1065.1 375.2l4.8 0 4.8 0.4 4.8 0.4 4.8 0.3 4.8 -0.1 4.9 -0.2 4.8 -0.2 4.8 -0.2 4.8 -0.3 4.8 -0.2 4.8 0.1M1065.1 379.4l4.8 0.5 4.8 0.5 4.8 0.3 4.8 0.5 4.8 0.4 4.9 0 4.8 -0.7 4.8 -0.9 4.8 -0.4 4.8 0 4.8 0.1M1065.1 385.6l4.8 -0.4 4.8 -0.4 4.8 -0.5 4.8 -0.2 4.8 0.4 4.9 0.9 4.8 0.7 4.8 0.2 4.8 -0.2 4.8 -0.1 4.8 -0.4" fill="none" stroke="#1a1a0e" stroke-width="2.3"/>
<path d="M1065.1 306.2l4.8 0.3 4.8 0.1 4.8 -0.1 4.8 0 4.8 -0.2 4.9 -0.4 4.8 -0.4 4.8 0 4.8 0.2 4.8 0.4 4.8 0.2M1065.1 311.7l4.8 -0.4 4.8 -0.4 4.8 -0.3 4.8 -0.3 4.8 -0.3 4.9 0.1 4.8 0.6 4.8 0.7 4.8 0.3 4.8 -0.1 4.8 -0.1M1065.1 316.1l4.8 -0.2 4.8 -0.4 4.8 -0.4 4.8 0 4.8 0.3 4.9 0.3 4.8 0.1 4.8 0.2 4.8 0.2 4.8 0.1 4.8 -0.3M1065.1 320.5l4.8 0.7 4.8 0.2 4.8 -0.2 4.8 -0.2 4.8 -0.3 4.9 -0.5 4.8 -0.6 4.8 -0.2 4.8 0.3 4.8 0.7 4.8 0.5M1065.1 324.4l4.8 0.1 4.8 0.2 4.8 0.5 4.8 0.9 4.8 0.5 4.9 -0.2 4.8 -0.7 4.8 -0.5 4.8 -0.4 4.8 -0.3 4.8 -0.3M1065.1 330.5l4.8 -0.4 4.8 -0.4 4.8 -0.6 4.8 -0.2 4.8 0.4 4.9 0.8 4.8 0.7 4.8 0.2 4.8 -0.1 4.8 -0.1 4.8 -0.3M1065.1 334.9l4.8 0.4 4.8 0.3 4.8 0 4.8 -0.5 4.8 -0.4 4.9 -0.2 4.8 -0.1 4.8 -0.1 4.8 0.1 4.8 0.4 4.8 0.5M1065.1 340.7l4.8 -0.3 4.8 -0.5 4.8 -0.3 4.8 -0.4 4.8 -0.4 4.9 -0.1 4.8 0.4 4.8 0.8 4.8 0.6 4.8 0.1 4.8 -0.2M1065.1 345l4.8 0 4.8 0 4.8 -0.1 4.8 -0.4 4.8 -0.5 4.9 -0.3 4.8 0.2 4.8 0.3 4.8 0.4 4.8 0.2 4.8 0.2M1065.1 348.8l4.8 -0.1 4.8 0.1 4.8 0.1 4.8 0.2 4.8 0.5 4.9 0.4 4.8 0.1 4.8 -0.3 4.8 -0.5 4.8 -0.2 4.8 -0.2M1065.1 354.8l4.8 0 4.8 -0.4 4.8 -0.3 4.8 -0.2 4.8 -0.2 4.9 -0.3 4.8 0.1 4.8 0.4 4.8 0.5 4.8 0.3 4.8 0M1065.1 359.4l4.8 -0.1 4.8 -0.1 4.8 -0.2 4.8 -0.2 4.8 -0.3 4.9 -0.2 4.8 0.1 4.8 0.4 4.8 0.4 4.8 0.1 4.8 0M1065.1 363.6l4.8 0.6 4.8 0.2 4.8 0.1 4.8 0 4.8 -0.3 4.9 -0.6 4.8 -0.7 4.8 -0.3 4.8 0.3 4.8 0.5 4.8 0.4M1065.1 369.2l4.8 -0.2 4.8 -0.5 4.8 -0.4 4.8 -0.1 4.8 0 4.9 0.1 4.8 0.1 4.8 0.4 4.8 0.5 4.8 0.1 4.8 -0.2M1065.1 373.5l4.8 0.2 4.8 0 4.8 0 4.8 -0.1 4.8 -0.3 4.9 -0.3 4.8 -0.3 4.8 0.1 4.8 0.3 4.8 0.3 4.8 0.1M1065.1 377.6l4.8 0 4.8 0.4 4.8 0.4 4.8 0.3 4.8 -0.1 4.9 -0.2 4.8 -0.2 4.8 -0.2 4.8 -0.3 4.8 -0.2 4.8 0.1M1065.1 381.8l4.8 0.5 4.8 0.5 4.8 0.3 4.8 0.5 4.8 0.4 4.9 0 4.8 -0.7 4.8 -0.9 4.8 -0.4 4.8 0 4.8 0.1M1065.1 388l4.8 -0.4 4.8 -0.4 4.8 -0.5 4.8 -0.2 4.8 0.4 4.9 0.9 4.8 0.7 4.8 0.2 4.8 -0.2 4.8 -0.1 4.8 -0.4" fill="none" stroke="#dedcb0" stroke-width="1.2"/>
</g>
<rect x="1001.1" y="311.5" width="64" height="63.4" fill="#1e1e10"/>
<g clip-path="url(#cf4c)">
<path d="M1024.5 324l-0.7 2.4 -1.1 2.2 -1.9 1.7 -2 1.5M1024.7 359.7l-1.2 -2.1 -0.6 -2.5 1.2 -2.2 0.8 -2.3M1008.3 318.2l-1.9 -1.7 -1.2 -2.1 -0.8 -2.4 -2.2 -1M1053.6 309.9l2.4 -0.4 1.9 -1.7 2.4 -0.7 2.5 0.5M1006.1 355.3l-0.1 2.5 -1 2.3 -2.4 0.5 -1.2 2.2M1020 351.8l-2.5 -0.1 -1.7 -1.9 -0.2 -2.5 -1.1 -2.2M1007.6 355.2l-2.4 0.6 -2.4 0.7 -2.2 1.1 -0.4 2.5M1006.8 340.2l-0.7 -2.4 0.5 -2.4 0.7 -2.4 2.2 -1.3M1044.3 330.5l2.5 0 1.5 -2 2.4 -0.5 2.2 1.3M1051.2 315.3l-2.4 -0.6 -1.3 -2.2 -0.5 -2.4 0.7 -2.4M1041 337.4l2.5 -0.1 2.1 -1.3 1.9 -1.6 2.5 -0.5M1046.1 336.8l-2.1 -1.4 -2.4 -0.5 -2.3 1 -2.5 0.1M1017 371.6l-2.4 0.6 -2.2 1.2 -2.4 -0.7 -1.8 -1.8M1049.8 322.8l2.5 0.2 2.1 -1.3 2.5 -0.5 1.1 -2.2M1014.2 348l2 1.5 2.5 0.2 2.2 1.1 2.4 -0.8M1068.9 350.2l-0.3 -2.4 -0.3 -2.5 1.8 -1.7 2.5 0M1056.3 309.6l-0.3 -2.4 0.3 -2.5 0.5 -2.5 1.1 -2.2M1009.8 359.5l-1.5 -2 -1.4 -2.1 -1.1 -2.2 -1.7 -1.9M1046.2 373.3l1.4 -2 -0.3 -2.5 1.4 -2.1 1.9 -1.7M1056.8 369.5l-0.9 2.4 0.1 2.5 -1.3 2.1 -2 1.5M1014.3 343.2l-2.5 -0.1 -2.1 1.3 -2 1.5 -0.2 2.5M1032.8 374.6l-1.1 -2.3 0.6 -2.4 1.6 -2 2.2 -1.1M999 361.8l-0.6 2.4 0.2 2.5 0.9 2.3 2.1 1.3M1059.6 323.3l1.8 -1.7 0.2 -2.5 1 -2.3 1.1 -2.2M999 366.3l1.9 1.7 0.7 2.4 -0.4 2.5 0.1 2.5M1010.5 345.1l-1.5 -2 -1.6 -1.9 -1.2 -2.2 -0.3 -2.5M1010.8 320.4l-2.3 -1 -1.4 -2.1 0.4 -2.5 0.1 -2.5M1048.5 315.1l0 2.5 -1.6 1.9 -2.5 -0.2 -2.2 -1.1M1051.3 334.1l-1.3 -2.2 -1.8 -1.7 -2.3 -1.1 -0.9 -2.3M1009.6 318.9l0.8 2.3 1.5 2 -0.2 2.4 0.6 2.5M1057.3 321.4l2.4 0.8 1.2 2.2 0.2 2.5 -1.6 2M1062.9 376.3l-1.9 1.6 -2.4 0.4 -2.3 1.1 -1 2.3M1061.9 341.2l-1.5 -2 -1.5 -2 -2.2 -1.1 -1.8 -1.8M1035.4 326.9l1.1 -2.2 -0.2 -2.5 1.4 -2.1 2.1 -1.2M1034.7 321.3l-2.1 -1.4 -2.4 -0.3 -1.8 -1.8 -2.3 -0.8M1003.8 367.9l2.2 -1.1 2.1 -1.4 2.1 -1.3 2.5 0M998 353.8l-1.7 1.8 -1.4 2.1 -2.5 0.2 -2.5 0.5M1044.3 310.2l1.6 1.9 2 1.4 2.5 -0.1 2.5 -0.5M1003.4 347.9l2.3 1.2 1.8 1.6 -0.2 2.5 -1.4 2.1M1042.8 340.2l0.6 2.4 -1.2 2.1 -2.3 1.1 -2.5 0.1M1055.6 375.9l2.4 0.9 2 -1.4 2.4 0.7 2.3 1M1029.7 338.3l1.8 1.7 1.3 2.1 0.8 2.4 2.3 1M1063.5 372l1.8 -1.7 1.4 -2.2 1.2 -2.2 0.6 -2.4M1065.9 373.1l2.1 -1.4 2.1 -1.3 2.4 -0.5 2 -1.5M1010.4 377.8l0.8 2.4 0.8 2.3 2.4 1 2.2 1.1M1008.6 366.7l1.1 2.2 2 1.6 0.8 2.3 -0.6 2.4M1065.9 320l1.7 -1.8 1.2 -2.3 -1.3 -2.1 -1.2 -2.2M1003 347.2l2.5 0.3 2.2 1.1 2.4 -1 2 1.4M1023.4 375.3l2.1 1.2 0.4 2.5 -0.8 2.4 0.8 2.3M1030 346.2l1.4 2.2 2.4 0.4 2.5 0.5 2.5 0.1M1022.3 341.7l-0.9 2.4 -2 1.5 -0.5 2.5 1.4 2M1029.3 328.2l-2.1 -1.4 -0.3 -2.4 1.2 -2.2 2.5 -0.5M1013.7 332.2l2.4 0.7 2.5 -0.5 1.8 -1.6 1.3 -2.2M1064.8 344.3l2.1 -1.4 2.5 -0.2 2.4 0.7 2.3 1M1063.7 349.9l-2.2 1.3 -0.6 2.4 -0.3 2.5 0.2 2.5M1006.5 375.5l2.5 0 2.2 -1.2 1.9 -1.6 2.5 -0.1M1066.5 336l1.3 -2.2 0.3 -2.5 -0.2 -2.5 -0.5 -2.4M1057.4 329.2l0.7 -2.4 1.5 -2 2 -1.6 -0.1 -2.5M1020.7 367.2l-0.2 2.5 0 2.5 -0.2 2.4 -0.1 2.5M1027.4 374.5l-1.4 -2.1 -1.7 -1.8 -0.4 -2.5 -1.6 -1.9M1031.8 361.8l2.5 -0.4 1.3 -2.1 1.9 -1.6 2.5 -0.2M1044.7 351.8l2.5 -0.2 2.5 -0.4 2.2 -1.1 1.4 -2.1M1023.8 323.7l2.1 1.4 2.4 -0.9 2.2 -1.2 1.9 -1.6M1055.4 357.9l-0.7 2.4 -1.7 1.8 -2.4 1 -2.4 0.2M1068.4 342.6l-2.1 1.4 -0.4 2.5 -1.1 2.2 0.7 2.4M1045.3 351.2l-2.2 -1.3 -1.4 -2 0.7 -2.4 2.3 -0.8M1052.2 318.7l-1.2 -2.2 1.1 -2.2 -1.1 -2.2 -2.5 -0.4M1026 313.1l2.2 1.3 2.4 0.2 1.8 1.8 2.1 1.2M1056 316.4l2.2 -1.2 1.3 -2.1 1.1 -2.2 -1.3 -2.2M999.8 341.4l0 -2.5 0.2 -2.5 -0.6 -2.4 -1.7 -1.9M998.6 372.9l-1.8 -1.7 -0.6 -2.4 0.2 -2.5 0.9 -2.4M1029.6 369.6l2.5 0.2 2.1 -1.4 2 -1.6 2.3 -1M1065.6 343.6l-1.4 2 0.7 2.4 1.7 1.9 1 2.3M1012.5 361.4l-2.2 -1.1 -2.2 -1.3 -0.9 -2.3 -2.4 -0.6M1042.2 361.2l2.2 -1.3 2.4 -0.7 2.3 0.8 2.5 -0.1M1052.9 361l2.2 -1.1 0.8 -2.4 0.8 -2.4 1.7 -1.9M1062.9 361.5l-1.3 -2.1 0.3 -2.5 0.9 -2.3 -0.3 -2.5M997.8 349.4l2.4 -0.6 1.8 1.8 2.4 0.6 2 1.6M1050 330.6l-0.4 -2.5 0.7 -2.4 -0.1 -2.5 2 -1.4M1045.4 324.7l2 -1.5 2.5 0.2 1.8 1.8 0.4 2.5M1025.3 361.5l1.6 -1.9 0.4 -2.4 2.3 -1.1 2.4 -0.7M1062.5 344.4l1 -2.3 -0.1 -2.5 -0.1 -2.5 1.5 -2M1017.2 373.5l1.1 -2.2 1.2 -2.2 2 -1.5 2.4 -0.9M1027 307.6l-1.8 -1.7 -1.6 -1.9 -2 -1.5 -1.8 -1.8M1004.6 353.5l2.4 -0.8 1 -2.3 2.4 -0.6 2.1 1.3M1042.2 374.4l-0.2 2.5 0 2.5 1.7 1.8 1.5 2.1M1005 327.5l2.4 1 0.9 2.3 1 2.3 0.7 2.4M1007.5 318.4l1.2 2.2 0.9 2.3 -0.4 2.5 -0.7 2.4M1015.2 336l-2.5 -0.1 -2.3 -1 -1.2 -2.2 -0.4 -2.5M1066.4 362.1l1.7 -1.9 -0.5 -2.4 1.4 -2.1 0.1 -2.5M1030.4 349.2l1.4 2.1 -0.3 2.5 1.1 2.2 -0.4 2.4M1030.9 356.7l-2.4 0.8 -2.5 -0.2 -2.5 0.1 -2.2 1.2M1028 360.7l2.2 -1.2 1.7 -1.8 2.3 -1 2.3 -1M1013.3 370.2l-0.8 -2.3 -1.3 -2.1 0.8 -2.4 1.2 -2.2M1022 318.5l-0.8 -2.4 0.7 -2.4 2 -1.5 0.5 -2.4M1049.5 357.6l1.1 2.2 -1 2.3 -0.3 2.4 -0.4 2.5M1026.7 324.5l0.5 2.5 -1.6 1.9 0.1 2.5 2.1 1.3M1036 326.4l0.8 -2.3 -1.4 -2 -2.1 -1.4 -2.4 -0.9M1028.3 336.8l-2.3 1 -0.4 2.5 0.9 2.3 -0.7 2.4M1011.6 322.5l-2.3 1 -2.4 -0.6 -1.8 -1.7 -2.4 -0.4M1064.2 320l2.2 -1.2 0.8 -2.4 0.1 -2.5 -1.2 -2.2M1030.3 363.4l1.9 -1.7 -0.3 -2.5 -1.2 -2.2 0.8 -2.3M1050.2 362l2.3 1 2.3 0.9 2.1 1.4 2.4 -0.4M1060.1 348.4l2.3 0.9 2.5 0.4 2.4 -0.8 2.3 1M1032.9 350.4l1.8 -1.8 1.7 -1.8 1.7 -1.9 2.5 -0.3M1002.6 338.8l-0.1 2.5 -1.5 2 -1.3 2.1 0.2 2.5M1005.8 371.8l-0.4 -2.4 -1.5 -2 -2.1 -1.3 -2.5 0.3M1043 347.6l1.9 -1.7 1.2 -2.2 -0.7 -2.4 0.7 -2.4M1065.4 330.9l-1.1 2.3 -0.5 2.4 -1.5 2 -1.5 2M1031.9 334.5l-1.9 1.6 -2.5 -0.4 -2.3 1 -2 1.5M1048.9 332.8l-2.5 0.6 -1.9 1.6 -1.5 2 -2.2 1.1M1064.7 312.1l-0.1 -2.5 0.7 -2.4 -1.4 -2 -1.3 -2.2M1013.6 365.2l2.4 0.4 1.2 2.2 1.1 2.3 1.3 2.1M1043.8 364.2l-1.3 -2.1 -2.3 -1 -1.4 -2.1 -1.4 -2M1066 331.7l-0.7 2.4 -2.4 0.8 -2.4 -0.6 -2.5 0.4M1047 366.3l1.6 1.8 1.7 1.8 0.1 2.5 -1.2 2.2M1023.5 313.3l-1.7 1.9 -0.4 2.4 -1.2 2.2 -2.4 0.8M1029 315.8l-2.5 -0.2 -1.6 1.9 0.3 2.5 0.7 2.4M999.6 316.9l2.4 -0.7 1.5 -2 -0.6 -2.4 -1.6 -1.9M1020.4 374.8l-1 2.3 -1.1 2.2 -2.2 1.3 -2.3 1M1066.2 376l-2.3 -1 -2.5 -0.1 -2 1.5 -0.9 2.3M1041.2 337.3l-1 -2.3 0.1 -2.5 2 -1.5 2.4 -0.4M1014.9 310.5l-2.2 -1.3 -1.6 -1.9 -2.5 -0.1 -2.5 -0.4M1035.1 340.3l1.7 -1.8 0.6 -2.5 0.4 -2.4 0.1 -2.5M1025 323.7l-0.2 2.5 1.9 1.7 2 1.4 2.1 1.5M1030.3 356.9l1 -2.3 -0.6 -2.4 -2 -1.6 -0.1 -2.5M1030.7 342.4l-0.1 2.5 0.4 2.5 0.1 2.5 -0.2 2.4M1062.7 362.9l2.5 0.5 2 -1.5 2.3 -0.9 1.7 -1.9M1021.7 344.2l-2.4 -0.7 -2.5 -0.5 -2 1.5 -2.4 -0.9M999.7 375.1l2.5 0.6 2.3 -0.8 2.5 0.2 2.4 -0.7M1023 368.1l-2.3 -1.1 -0.5 -2.5 -1.1 -2.2 -1.9 -1.7M1025 322.1l-2.4 -0.5 -1 -2.3 0.8 -2.4 1.3 -2.1M1027.7 341.6l2.3 1.1 2.2 -1.1 2.5 0.2 1.9 -1.6M1010 337.9l-1.2 -2.2 0.1 -2.5 -0.8 -2.3 -1.3 -2.2M1029.5 378l2.2 -1.2 2.4 -0.7 2 -1.5 1.3 -2.1M1056.4 353.5l-2.5 0.5 -2.3 1 -2.1 1.2 -2.5 -0.4M1016.3 348.1l-1.5 -2.1 -2.3 -0.9 -1.5 -2 -2.5 -0.2M1065.2 338.5l-2.4 -0.2 -2.5 0.2 -2.5 0.3 -2.3 -1M1039.9 318.2l2.5 0 2.5 0.5 2.1 -1.4 0.7 -2.4M1022.3 324.5l-2.5 -0.3 -2.2 1.1 -2.5 0 -2.4 -0.7M1050.4 317.9l-2.2 -1.3 -2.2 -1.2 -2.5 0.1 -2.1 -1.3M1055.7 340.5l-0.5 2.4 -0.5 2.4 0.5 2.5 0.7 2.4M1040.9 368.3l-0.6 -2.5 0.9 -2.3 0.3 -2.5 -1.6 -2M1029.9 369.8l-1.2 2.2 -1.3 2.1 -1.7 1.9 -2.5 0.1M1062.4 377.6l1.6 1.9 1.6 1.9 1.3 2.1 -0.3 2.5M1018.7 307.8l-2.1 1.5 -2.4 -0.6 -2.5 -0.4 -2.1 1.4M1050.5 329.8l1.8 -1.7 1 -2.3 -1.1 -2.2 -2 -1.5M1021.4 328.6l1.6 -1.9 2.1 -1.4 2 -1.6 2.4 -0.8M1000.3 343.9l-2.2 -1.1 -2.5 0 -1.9 -1.6 -2.3 -1M1029.6 316.1l-1.6 1.9 -1.7 1.9 -0.4 2.4 -2.2 1.2M1029.3 324.1l-2.4 -0.7 -2.3 -0.9 -2.5 -0.6 -1 -2.3M1050.4 368.8l2.5 0.3 2.2 1.1 1.7 1.8 0.3 2.5M1059.6 369.9l2.4 0.9 2.4 -0.7 2.4 0.7 1.9 1.6M1061.5 333.3l-2 -1.6 -2.3 -1 -2.4 0.3 -2.1 1.4M1003.2 344.2l2.5 0 2.4 0.5 1.8 1.7 2.3 1M1000.1 369.6l-1.1 2.3 -2.3 0.8 -1.3 2.1 -1.9 1.7M1023.5 350.6l-1.6 1.9 -2.5 0.1 -2.5 -0.1 -2 1.5M1030.2 350.3l1.5 -2 -0.4 -2.4 -0.5 -2.5 1.2 -2.2M999.3 373.2l-2.5 0.2 -2.5 -0.4 -2 -1.5 -1.5 -2M1063.6 351.4l-0.5 2.5 -0.1 2.5 1.2 2.2 2 1.5M1024.1 375l2.4 -0.6 2.5 0.6 2.4 -0.7 2.1 -1.3M1011.8 366l-0.3 -2.5 -2.3 -1.2 -1.5 -2 -0.1 -2.5M1034.7 361.6l1.5 -2 0.8 -2.3 1 -2.3 2.3 -1M1004.2 366.7l-2.1 1.4 -0.5 2.5 -0.3 2.5 -2.2 1.1M1039.2 341.8l-0.3 2.5 -1.1 2.2 -2.4 0.7 -1.3 2.1M1021.7 334.1l-2.3 1 -2.5 -0.7 -2.4 -0.7 -1.9 1.6M1061.6 360l1 -2.3 0.2 -2.5 -0.3 -2.4 -0.7 -2.4M1029.8 378.1l-0.5 -2.4 -0.8 -2.4 -2.2 -1.2 -2.2 -1.2M1029.7 355l1.3 -2.1 2.4 -0.7 1.5 -1.9 0.9 -2.4M1006.1 366.2l1.3 -2.1 0.4 -2.4 -0.5 -2.5 -2.2 -1.1M1042.5 322.8l1.3 2.1 0 2.5 1 2.3 -1.1 2.2M1038.9 316.1l-1.8 1.7 -1.9 1.8 -2 1.4 -0.4 2.5M1054.3 334.1l2 -1.5 1.4 -2.1 -0.6 -2.4 -1.5 -2M1043.6 321.5l2.5 0.3 2.3 1.1 2 1.5 1.9 1.5M1043.5 326.4l0 2.5 -0.4 2.4 -0.6 2.5 -2 1.5M1047.8 368.9l-2.5 -0.3 -2.1 1.3 -2.1 1.4 -2.3 0.8M998.9 325.7l-2.4 0.7 -2.3 1 -2.2 -1.3 -1.6 -1.9M1057.3 377.7l-2.3 -0.9 -2.3 1 -2.4 0.7 -1.8 1.8M1022.4 346l0.4 2.4 1.4 2.1 0 2.5 -2.2 1.3M1018.9 328.6l2.4 -0.7 1.2 -2.2 0 -2.5 0.9 -2.3M1049.3 338.6l-1.6 1.9 -0.2 2.5 -2.1 1.3 -0.8 2.4M1027.6 309.7l-2.4 -0.7 -2.1 1.4 -2.4 0.9 -2.3 0.8M1047.5 347l-1.8 1.7 -1.8 1.8 -2.5 0.1 -1.7 -1.9M1060.5 354.4l1.3 2.1 -0.3 2.5 1.8 1.7 0.2 2.5M1009.6 327.7l-2.2 -1.1 -2.5 -0.6 -2.4 -0.4 -1.8 1.7M1007.2 324.7l-1.1 -2.2 -2.4 -0.9 -0.6 -2.4 -1.8 -1.7M1008.9 331l2.2 1.1 2.3 -1.1 1.4 -2.1 2.4 -0.8M1008.7 348.9l-2.4 -0.7 -2.3 1 -2.1 -1.3 -2.5 -0.5M1065 323.3l-1.6 1.9 -1.3 2.2 -2 1.5 -2.5 -0.1M1047.3 359.7l-1.2 -2.1 -2.2 -1.2 -0.6 -2.5 0.8 -2.3M1004.1 371.1l-0.6 -2.5 -1 -2.2 -1.7 -1.9 -0.3 -2.5M1016.4 337.5l-1.9 -1.6 -2 -1.6 -2.5 0.1 -2.4 -0.6M1017.1 376.1l-1.7 1.9 -1.4 2 0.5 2.5 0.9 2.3M1023.6 323l-2.1 -1.4 -1.4 -2 -1.3 -2.2 -2.3 -1M1059.5 340.6l2.1 1.3 0.2 2.5 -1.3 2.1 -2.3 1M1046.6 318.8l-0.6 2.4 -1.7 1.9 -1.9 1.6 -1.1 2.2M1041.1 373.5l2.4 0.7 2.3 1 2.5 -0.1 2.3 1M1011.6 317.6l2.3 0.9 2.5 0.4 2.4 0.6 1 2.3M1031.7 372.5l2.4 0.6 1.2 2.2 1.8 1.7 2.4 -0.5M1003 355.7l-0.6 -2.4 1 -2.3 2.3 -1.1 2.4 0.6M1051.3 328.7l-2.5 -0.2 -2.5 0.1 -1.6 1.9 -1 2.3M1026 328.8l2 1.5 2.5 0.2 2.4 0.8 2.5 0M1045.5 365.9l-2.5 0.3 -2.4 -0.6 -2.4 0.4 -2.4 -0.8M1065.7 366.7l-0.7 -2.5 -0.4 -2.4 0.3 -2.5 -1.9 -1.6M1024.4 328.9l2 -1.5 2.3 -1 1.2 -2.2 0.8 -2.4M1061 311.9l-1.2 2.2 -2 1.5 -1.6 1.9 0.5 2.5M1035.2 313.4l-0.2 2.5 1.5 2 2.5 0.1 1.7 1.9M1004.1 363.2l1.9 -1.7 -0.2 -2.4 -2 -1.6 -0.2 -2.5M1030.8 345.7l2.5 -0.2 1.1 -2.2 1.2 -2.2 0.2 -2.5M1052.3 364.1l-2.3 0.9 -1.9 1.6 -0.3 2.5 0.8 2.4M1056.7 345.4l1.5 -2 2.4 -0.7 1.8 -1.7 2.4 -0.9M1059.3 343.7l2.4 -0.9 2.3 -0.8 2.4 0.6 2.5 0M1018.9 324.7l2.5 -0.1 2.5 0.2 2.3 1 2.3 -1M1066.8 342.7l-0.6 2.4 0.6 2.5 -1.7 1.8 -0.1 2.5M1055.2 337.3l2.2 -1.3 2.1 -1.2 1.3 -2.2 1.5 -2M1031.2 315.5l-2.5 -0.1 -2.1 1.5 -2.3 0.9 -2.1 -1.3M1043.4 319.3l-2.1 1.3 -1.9 1.6 -2.4 -0.5 -2.2 1.3M1008.1 361.3l0.7 2.4 1.3 2.1 0.7 2.4 -1.3 2.1M1020 352.7l-1.4 2.1 -1.9 1.6 -2.2 1.2 -2.5 -0.1M1020.9 349.3l0.1 2.5 -0.5 2.5 -2.3 1 -2.4 -0.8M1048.3 363.8l-2.4 -0.7 -2.4 0.6 -2.5 0 -1.9 -1.6M1011 343.8l-2.5 0.6 -2.3 0.8 -1.7 1.9 -1.2 2.1M1009.1 377.9l1.8 1.8 0.4 2.4 0.4 2.5 2 1.5M1020.5 376.8l-2.5 -0.1 -1.6 -1.9 -1.5 -2.1 -1.6 -1.9M1042.9 308l0.5 2.5 -1.2 2.2 -1.8 1.8 -2.5 0M1026.4 326.2l2.4 -0.5 1.3 -2.2 2.1 -1.3 2.1 -1.4M1053.6 316.8l2 -1.4 1.7 -1.9 2.4 -0.4 2.5 0.4M1052.5 334.9l-0.4 2.4 -1.8 1.8 -0.1 2.5 1.9 1.6M1024.5 359.6l0 2.5 -1.5 1.9 0.5 2.5 1.4 2.1M1007.5 330.6l-0.7 2.4 -2.3 1 -1.3 2.1 -0.2 2.5" fill="none" stroke="#9a9458" stroke-width="1.1"/>
</g>
<line x1="1001.1" y1="255.1" x2="1001.1" y2="417.6" stroke="#111" stroke-width="2.2" stroke-dasharray="1.6 6.6" stroke-dashoffset="-5.9"/>
<line x1="1065.1" y1="255.1" x2="1065.1" y2="417.6" stroke="#111" stroke-width="2.2" stroke-dasharray="1.6 6.6" stroke-dashoffset="-5.9"/>
<line x1="954.3" y1="311.5" x2="1118" y2="311.5" stroke="#111" stroke-width="2.2" stroke-dasharray="1.6 6.6" stroke-dashoffset="-5.9"/>
<line x1="954.3" y1="374.9" x2="1118" y2="374.9" stroke="#111" stroke-width="2.2" stroke-dasharray="1.6 6.6" stroke-dashoffset="-5.9"/>
<line x1="1001.1" y1="255.1" x2="1001.1" y2="417.6" stroke="#fff" stroke-width="2.4" stroke-dasharray="5.4 2.8"/>
<line x1="1065.1" y1="255.1" x2="1065.1" y2="417.6" stroke="#fff" stroke-width="2.4" stroke-dasharray="5.4 2.8"/>
<line x1="954.3" y1="311.5" x2="1118" y2="311.5" stroke="#fff" stroke-width="2.4" stroke-dasharray="5.4 2.8"/>
<line x1="954.3" y1="374.9" x2="1118" y2="374.9" stroke="#fff" stroke-width="2.4" stroke-dasharray="5.4 2.8"/>
<text x="958.8" y="272.1" style="font-family:'Liberation Sans',sans-serif;font-size:14.5px;font-weight:bold" fill="#111">100 <tspan dy="-5.5" font-size="10">o</tspan><tspan dy="5.5">C</tspan></text>
<rect x="426.1" y="436.9" width="163.7" height="122.5" fill="#93bbb5"/>
<rect x="433.4" y="436.9" width="26.9" height="122.5" fill="#3e5853"/>
<path d="M433.9 437.9H460.8M434.3 440.1H461.3M434.2 442.3H461.3M432.3 444.5H460.1M434.7 446.7H460.6M434.6 448.9H459.1M433.5 451.1H459.5M433.7 453.3H460.3M432.2 455.5H459.4M433 457.7H461.3M434.3 459.9H459.2M434.4 462.1H459.2M433.9 464.3H459.1M432.2 466.5H461.2M432.8 468.7H459.4M434.9 470.9H461.2M433 473.1H461.4M433.7 475.3H460.6M432.8 477.5H461.3M434.1 479.7H461.4M434.6 481.9H459.6M433.2 484.1H459.2M432.6 486.3H459M433 488.5H460.4M432.2 490.7H460.6M433.1 492.9H459.6M434.4 495.1H460.1M433.1 497.3H460.1M434.1 499.5H459M434.8 501.7H458.9M434.2 503.9H461.1M432.2 506.1H460.9M433.2 508.3H460.4M432.2 510.5H458.9M432.7 512.7H461.4M432.7 514.9H460.8M434.7 517.1H461.3M433.1 519.3H459.8M433.6 521.5H460.9M432.5 523.7H460.8M434.4 525.9H461.1M432.3 528.1H461.4M432.4 530.3H459.7M433.8 532.5H461.3M433.1 534.7H461.3M433.7 536.9H459.6M433.1 539.1H459.3M432.4 541.3H459.2M434.1 543.5H461.5M432.6 545.7H458.9M434.9 547.9H460.2M433.3 550.1H459.4M433.8 552.3H461M433.4 554.5H459.9M432.4 556.7H461.3M432.3 558.9H460.1" stroke="#5f7a75" stroke-width="0.9" fill="none"/>
<path d="M437.6 536.9h6.7M446.1 549.7h6.9M442.7 453.1h3.7M440.4 537.6h5.3M449.8 555.3h7.9M443.6 492.8h6.6M440.3 495.8h5M441.8 457.7h7.9M446 550.8h5.5M436.9 479.7h4.4" stroke="#c8ddd8" stroke-width="0.9" fill="none" opacity="0.8"/>
<rect x="493.4" y="436.9" width="26.6" height="122.5" fill="#3e5853"/>
<path d="M494.3 437.9H520.8M493.2 440.1H520.6M494.3 442.3H520.4M494 444.5H520.6M493.2 446.7H520.4M493 448.9H519.8M494.3 451.1H520.4M493 453.3H521.1M494 455.5H520.1M492.2 457.7H520M492.9 459.9H520.3M493.4 462.1H520.7M493.9 464.3H520.7M493.1 466.5H520.2M494.2 468.7H520.7M493.1 470.9H520.8M494.5 473.1H520.4M494.8 475.3H521.1M493.6 477.5H519.9M492.6 479.7H520.8M494.7 481.9H519.8M494.1 484.1H520.4M494.2 486.3H519M494.3 488.5H520.1M494 490.7H519.6M493.9 492.9H520.6M493.9 495.1H520.4M492.3 497.3H518.9M493.4 499.5H520.3M492.8 501.7H520.4M493.9 503.9H518.6M493.5 506.1H519.1M492.3 508.3H518.9M493.1 510.5H519M492.7 512.7H518.6M493.5 514.9H519.5M493.9 517.1H520.1M492.8 519.3H520.9M492.2 521.5H519.6M493 523.7H519.6M492.5 525.9H520.7M493.2 528.1H518.6M493.9 530.3H518.8M493.7 532.5H519.4M493.8 534.7H521.1M494.4 536.9H519.6M494.4 539.1H520.2M493.2 541.3H518.9M493.8 543.5H520M494.8 545.7H521.1M493.8 547.9H519.4M494.6 550.1H518.5M492.5 552.3H520M493.9 554.5H518.9M493.9 556.7H520.9M493.2 558.9H519.7" stroke="#5f7a75" stroke-width="0.9" fill="none"/>
<path d="M500.2 466.8h7.9M511.4 484.4h7.6M499.7 509.1h7.9M502.3 497.7h4.6M503.6 553.6h4.4M497.4 495.5h6.1M500.3 491.7h6.9M495.6 535.6h5.7M510.9 472.2h6.9M499.8 469h3.8" stroke="#c8ddd8" stroke-width="0.9" fill="none" opacity="0.8"/>
<rect x="552" y="436.9" width="27.3" height="122.5" fill="#3e5853"/>
<path d="M553.5 437.9H578.6M552.4 440.1H579.1M552.5 442.3H579.4M552.8 444.5H578.1M552.9 446.7H578.6M552.2 448.9H578.7M551.6 451.1H579.2M552.1 453.3H578.8M552.8 455.5H579.4M550.9 457.7H578.5M552 459.9H580.3M553.2 462.1H579.3M550.8 464.3H579.9M552 466.5H579.4M552.7 468.7H579.5M552.1 470.9H580.3M551.8 473.1H578.9M553.1 475.3H578.3M551.6 477.5H580M551 479.7H580.1M552.7 481.9H579M551.6 484.1H579.9M553.3 486.3H578.2M552.1 488.5H579.3M552.1 490.7H578.7M551.2 492.9H579.4M553 495.1H578M551.4 497.3H580M552.9 499.5H579.6M550.9 501.7H579.8M553.4 503.9H580.5M552.7 506.1H577.9M553.1 508.3H578.4M552.5 510.5H580.4M552.7 512.7H578.2M551.6 514.9H580.3M551.2 517.1H579.4M551.9 519.3H578.2M552.5 521.5H577.9M551.1 523.7H578.8M551 525.9H578M552.4 528.1H579.8M553.2 530.3H578.2M552 532.5H578.6M552.4 534.7H579.1M553.3 536.9H578.8M551 539.1H579.7M551.2 541.3H579.5M552.2 543.5H580.3M552.3 545.7H579.5M551.5 547.9H579.3M551.5 550.1H579.8M552.2 552.3H578.2M551.4 554.5H578.8M552.8 556.7H578.3M552.7 558.9H579.6" stroke="#5f7a75" stroke-width="0.9" fill="none"/>
<path d="M565.6 450.7h3.5M564.3 455.2h4.2M562.3 541.3h4.6M554.5 532.1h6.6M556.6 447h7.8M557.9 518.9h3.6M565.5 552.3h7.1M564.8 456.9h4.8M559.8 467.8h6.1M560.7 480.8h3.7" stroke="#c8ddd8" stroke-width="0.9" fill="none" opacity="0.8"/>
<defs><clipPath id="cg2"><rect x="603.1" y="436.3" width="163.2" height="122.2"/></clipPath></defs>
<rect x="603.1" y="436.3" width="163.2" height="122.2" fill="#e2f2ec"/>
<g clip-path="url(#cg2)">
<path d="M603.2 436.3l-0.3 48.7M602.9 512l-1.1 46.5M607.9 436.3l-1.2 48.7M606.7 512l0 46.5M612.2 436.3l-1 48.7M611.2 512l0.2 46.5M616.1 436.3l-1.1 48.7M615 512l-0.4 46.5M620.4 436.3l-0.1 48.7M620.3 512l0.7 46.5M624 436.3l-0.6 48.7M623.4 512l-1.2 46.5M628.7 436.3l1 48.7M629.7 512l0.3 46.5M633.3 436.3l-0.3 48.7M633 512l0.7 46.5M636.7 436.3l-0.5 48.7M636.2 512l0.5 46.5M641.7 436.3l-0.2 48.7M641.5 512l-1.2 46.5M645.4 436.3l-0.7 48.7M644.7 512l-0.7 46.5M650.3 436.3l-0.7 48.7M649.6 512l1.2 46.5M654.7 436.3l-1.1 48.7M653.6 512l-0.4 46.5M658.4 436.3l-1.1 48.7M657.3 512l-0.2 46.5M663.2 436.3l-0.9 48.7M662.3 512l0.3 46.5M666.5 436.3l0.2 48.7M666.7 512l1.2 46.5M670.8 436.3l-1.2 48.7M669.7 512l-1.2 46.5M675.5 436.3l-1.2 48.7M674.3 512l-1.2 46.5M679.7 436.3l1 48.7M680.7 512l-0.2 46.5M683.8 436.3l0.3 48.7M684.2 512l-1.2 46.5M688.3 436.3l-0.8 48.7M687.5 512l0.3 46.5M693 436.3l-1.1 48.7M691.9 512l0.2 46.5M696.8 436.3l-0.8 48.7M696 512l-0.7 46.5M701.5 436.3l1.2 48.7M702.7 512l-1.1 46.5M705.4 436.3l1.1 48.7M706.5 512l-0.8 46.5M709.6 436.3l-1.1 48.7M708.5 512l-0.4 46.5M713.9 436.3l0.2 48.7M714.1 512l0.8 46.5M717.5 436.3l-0.4 48.7M717.1 512l1.1 46.5M722.3 436.3l-0.1 48.7M722.2 512l-0.3 46.5M727 436.3l0.2 48.7M727.2 512l-1.4 46.5M731.1 436.3l-0.4 48.7M730.6 512l-0.2 46.5M734.6 436.3l-0.1 48.7M734.5 512l-0.5 46.5M738.7 436.3l0.3 48.7M739 512l-1.2 46.5M743.8 436.3l-1.1 48.7M742.7 512l0.8 46.5M748.1 436.3l-0 48.7M748.1 512l0.6 46.5M751.6 436.3l0.6 48.7M752.2 512l-0.2 46.5M755.9 436.3l1.1 48.7M757 512l-0.3 46.5M760.3 436.3l0.9 48.7M761.2 512l-0.4 46.5M764.9 436.3l-0.8 48.7M764.1 512l1 46.5" stroke="#a8c0b8" stroke-width="1.2" fill="none"/>
<path d="M604.6 436.3l-0.3 48.7M604.3 512l-1.1 46.5M609.3 436.3l-1.2 48.7M608.1 512l0 46.5M613.6 436.3l-1 48.7M612.6 512l0.2 46.5M617.5 436.3l-1.1 48.7M616.4 512l-0.4 46.5M621.8 436.3l-0.1 48.7M621.7 512l0.7 46.5M625.4 436.3l-0.6 48.7M624.8 512l-1.2 46.5M630.1 436.3l1 48.7M631.1 512l0.3 46.5M634.7 436.3l-0.3 48.7M634.4 512l0.7 46.5M638.1 436.3l-0.5 48.7M637.6 512l0.5 46.5M643.1 436.3l-0.2 48.7M642.9 512l-1.2 46.5M646.8 436.3l-0.7 48.7M646.1 512l-0.7 46.5M651.7 436.3l-0.7 48.7M651 512l1.2 46.5M656.1 436.3l-1.1 48.7M655 512l-0.4 46.5M659.8 436.3l-1.1 48.7M658.7 512l-0.2 46.5M664.6 436.3l-0.9 48.7M663.7 512l0.3 46.5M667.9 436.3l0.2 48.7M668.1 512l1.2 46.5M672.2 436.3l-1.2 48.7M671.1 512l-1.2 46.5M676.9 436.3l-1.2 48.7M675.7 512l-1.2 46.5M681.1 436.3l1 48.7M682.1 512l-0.2 46.5M685.2 436.3l0.3 48.7M685.6 512l-1.2 46.5M689.7 436.3l-0.8 48.7M688.9 512l0.3 46.5M694.4 436.3l-1.1 48.7M693.3 512l0.2 46.5M698.2 436.3l-0.8 48.7M697.4 512l-0.7 46.5M702.9 436.3l1.2 48.7M704.1 512l-1.1 46.5M706.8 436.3l1.1 48.7M707.9 512l-0.8 46.5M711 436.3l-1.1 48.7M709.9 512l-0.4 46.5M715.3 436.3l0.2 48.7M715.5 512l0.8 46.5M718.9 436.3l-0.4 48.7M718.5 512l1.1 46.5M723.7 436.3l-0.1 48.7M723.6 512l-0.3 46.5M728.4 436.3l0.2 48.7M728.6 512l-1.4 46.5M732.5 436.3l-0.4 48.7M732 512l-0.2 46.5M736 436.3l-0.1 48.7M735.9 512l-0.5 46.5M740.1 436.3l0.3 48.7M740.4 512l-1.2 46.5M745.2 436.3l-1.1 48.7M744.1 512l0.8 46.5M749.5 436.3l-0 48.7M749.5 512l0.6 46.5M753 436.3l0.6 48.7M753.6 512l-0.2 46.5M757.3 436.3l1.1 48.7M758.4 512l-0.3 46.5M761.7 436.3l0.9 48.7M762.6 512l-0.4 46.5M766.3 436.3l-0.8 48.7M765.5 512l1 46.5" stroke="#54527a" stroke-width="0.8" fill="none"/>
<rect x="603.1" y="485.5" width="163.2" height="27" fill="#b4bab4"/>
<rect x="603.1" y="490.5" width="163.2" height="16" fill="#6c6862"/>
<rect x="603.1" y="495" width="163.2" height="8" fill="#3c3834"/>
<path d="M645.4 488.2h6.9M631.3 508.8h6.9M702.1 487.3h3.2M637.1 495.9h5.4M760.8 495.2h3.6M694.8 490.2h3.3M693.8 503h3.3M676.8 503.2h6.1M665.6 507.4h3.7M719.9 504.7h6.5M683.8 489.3h3.2M689.4 491h5.5M616.9 504.9h3.9M605.2 491h4.8M694.4 495.9h3.7M681.8 508.8h5.1M756.7 487.7h7M748.2 499.5h5.1M690.8 507.9h3.3M708 499.5h4.2M721.4 503.6h3.4M717.3 497.4h5M707 488.2h5.4M664 507.2h3.9M737.4 503.8h5.5M746 487.8h5.4M703.2 502.6h4.6M614.4 491.3h5.4M632.7 488.5h4.4M679.8 499.3h3.1M729.7 494.7h6.1M604.5 508.9h5.4M762.4 509.7h6.3M620.4 495h3.9M730.4 491.4h3.9M621.2 489.8h6.8M762.4 495.6h6M679.4 499h4.5M706.7 492.4h4M687.6 491.5h4.8M757.1 487.5h3.4M733.7 488.3h4M742.1 500.9h3.9M612.7 493.3h4.2M733.7 509.4h6.1" stroke="#2a2622" stroke-width="2.2" fill="none" opacity="0.7"/>
<path d="M750.3 511.3h4.9M618.5 507.5h3.5M659.7 490.2h2.2M652.2 511.5h3.3M633.5 488h3M607.5 487.1h4.8M617.1 511.8h2.6M691.5 506.1h3.4M744.6 487.6h3.4M603.6 490.6h2M753.4 486.2h4.1M686.3 508.4h3.2M698.8 509.1h3.1M647.2 487.6h4.4M729.9 507h4.1M606.4 511.2h4.7M726.3 506.9h3.4M765.3 506.9h4.2M611.4 487.4h3.6M758.2 508.7h2.6M691.7 490.5h4.5M695.9 486.1h4.8M719.9 506.4h4.7M674.5 489.6h4.8M760.4 486.4h4.3M761.3 509.2h4M762.2 486.9h4M658.4 508h2.1M669.3 489.9h2.9M740 510.3h4.5M732 506.9h2.1M766.2 486.7h4.5M711.7 509.1h3.6M644.5 511.7h3.6M766 509.9h2.9M742.1 506.1h4.2M644.7 506.1h4.8M663.5 489.2h3.7M607.9 489.7h2.6M645.3 508.6h3.7M718.2 510.2h4.8M612.7 509h3.1M711.2 508.1h2.1M762.1 508.7h3.3M762.8 488.1h4.6M737.1 507.3h3.1M664.2 491h2.2M622.4 507.9h2.1M674.2 511.7h2.5M607.9 487.5h3.8M604 506.6h4.1M747.9 506.4h2.4M724.7 507.2h2.9M722.2 509h4.9M685.7 506.4h4.5M616.4 511h2.2M681.1 488.9h5M682.9 488.1h3.7M605.1 487.4h4.6M696.1 509.3h2" stroke="#d8e0da" stroke-width="1.6" fill="none" opacity="0.7"/>
<path d="M603.1 485.6H766.3" stroke="#1a1a1a" stroke-width="1.3"/>
</g>
<defs><clipPath id="cg3"><rect x="780.6" y="437.3" width="163" height="122.4"/></clipPath></defs>
<rect x="780.6" y="437.3" width="163" height="122.4" fill="#e8e2cd"/>
<g clip-path="url(#cg3)">
<path d="M757 392.3h14.4M758.5 395.5h11.8M757.8 398.8h11.8M757 402h14.4M756.9 392.3h14.4M757.8 395.5h11.8M758 398.8h11.8M756.5 402h14.4M757 432.1h14.4M758.4 435.4h11.8M757.7 438.6h11.8M756.9 441.9h14.4M756.8 472h14.4M757.8 475.2h11.8M757.6 478.5h11.8M757.1 481.7h14.4M757.1 511.8h14.4M757.5 515.1h11.8M757.9 518.3h11.8M756.3 521.6h14.4M757.1 551.7h14.4M757.7 554.9h11.8M758.1 558.2h11.8M757.2 561.4h14.4M795.9 392.3h14.4M797.2 395.5h11.8M797.2 398.8h11.8M795.4 402h14.4M795.9 392.3h14.4M796.9 395.5h11.8M796.6 398.8h11.8M796.1 402h14.4M795.6 432.1h14.4M796.7 435.4h11.8M797.6 438.6h11.8M796.2 441.9h14.4M796.3 472h14.4M797.2 475.2h11.8M797 478.5h11.8M795.5 481.7h14.4M795.8 511.8h14.4M797.4 515.1h11.8M797.5 518.3h11.8M796.1 521.6h14.4M796 551.7h14.4M797 554.9h11.8M796.7 558.2h11.8M795.4 561.4h14.4M834.7 392.3h14.4M836.4 395.5h11.8M836.2 398.8h11.8M834.8 402h14.4M835.2 392.3h14.4M835.9 395.5h11.8M836 398.8h11.8M834.6 402h14.4M835.3 432.1h14.4M836 435.4h11.8M836.3 438.6h11.8M835.3 441.9h14.4M834.7 472h14.4M836.1 475.2h11.8M836.3 478.5h11.8M834.9 481.7h14.4M834.8 511.8h14.4M836.1 515.1h11.8M836.2 518.3h11.8M834.9 521.6h14.4M834.9 551.7h14.4M836.5 554.9h11.8M835.9 558.2h11.8M834.7 561.4h14.4M874.1 392.3h14.4M875.8 395.5h11.8M874.9 398.8h11.8M874.4 402h14.4M874.1 392.3h14.4M875.7 395.5h11.8M875.6 398.8h11.8M873.9 402h14.4M873.8 432.1h14.4M875.3 435.4h11.8M875.6 438.6h11.8M874.5 441.9h14.4M874.3 472h14.4M874.8 475.2h11.8M875.5 478.5h11.8M873.8 481.7h14.4M873.8 511.8h14.4M874.9 515.1h11.8M875 518.3h11.8M874.2 521.6h14.4M874.3 551.7h14.4M875 554.9h11.8M875.1 558.2h11.8M873.9 561.4h14.4M913.2 392.3h14.4M914.1 395.5h11.8M914.4 398.8h11.8M912.9 402h14.4M912.8 392.3h14.4M914.6 395.5h11.8M914.7 398.8h11.8M913 402h14.4M912.8 432.1h14.4M914.2 435.4h11.8M914.1 438.6h11.8M912.6 441.9h14.4M912.8 472h14.4M914.8 475.2h11.8M914 478.5h11.8M912.9 481.7h14.4M913.5 511.8h14.4M914.8 515.1h11.8M914.4 518.3h11.8M912.7 521.6h14.4M913.4 551.7h14.4M914.1 554.9h11.8M914.1 558.2h11.8M913.5 561.4h14.4M952.6 392.3h14.4M953.2 395.5h11.8M953.3 398.8h11.8M951.7 402h14.4M952 392.3h14.4M953.3 395.5h11.8M953.9 398.8h11.8M952.6 402h14.4M952.6 432.1h14.4M953.2 435.4h11.8M953.6 438.6h11.8M952.1 441.9h14.4M952.2 472h14.4M953.4 475.2h11.8M953.6 478.5h11.8M951.8 481.7h14.4M952.6 511.8h14.4M953.7 515.1h11.8M953.2 518.3h11.8M952.7 521.6h14.4M952.7 551.7h14.4M953.5 554.9h11.8M954 558.2h11.8M951.9 561.4h14.4M776.7 450.3V462.4M779.8 450.5V462.2M783 450.6V462.5M786 450.9V461.9M788.7 450.9V462.3M777 490.9V501.6M780.8 491.1V502.8M783.1 490.7V502.5M786.6 490.7V501.5M788.7 491.2V502.8M777.2 530.7V541.4M779.7 530.4V542.6M783.6 530V542.5M786.7 529.9V541.5M789 531.3V542.6M816.2 451.1V462.6M819.2 450.1V463M821.8 450.8V461.8M825.4 450.6V462.4M828.7 451.4V463M816.9 491V502.1M819.6 491.1V502.8M822.2 490V502.7M825.9 490.8V502.6M828.2 490.6V502.8M815.9 530.6V542.2M819.7 530.2V542.4M822.4 530.4V542.6M825.7 531.1V541.6M828.6 530.5V541.6M855.1 450.9V462.8M858.4 451.3V462.2M861.1 450.3V463.1M864 450.5V462M867.9 450.7V463M854.9 490.9V501.5M858.3 490.8V501.7M861.7 490.2V501.8M864.6 490.9V502.1M867.9 490.8V501.6M855.1 530.6V541.7M859 529.8V542.8M861.4 530.8V542.2M864.2 530.1V541.7M867.6 531.2V542.3M894.8 450.5V462M897.5 450.2V462.9M900.6 450.6V462.7M903.9 450.5V462.4M906.6 450.1V461.9M894.6 490.3V502.9M897.1 490V502.4M900.4 490.3V502.7M904 490.8V502M906 491.3V502.9M894.5 530.3V542M897.7 531.1V542.7M900.1 530.7V542.4M903.7 530.4V542.7M907 530.1V542.3M934.1 451.5V462.6M936.4 450.8V461.9M939.9 451V462M942.4 451V462.5M946.2 450.6V462.3M934 491.1V502.8M937.3 490V501.9M939.5 490.1V502.4M942.2 490.3V501.5M946.1 490.5V502.2M933.3 530.5V541.5M937.3 530.7V541.6M939.6 531V541.6M943.2 530.1V542M945.2 530.7V542.1M972.6 450.3V462.6M976.1 450.5V461.7M979.2 450.5V462.4M982.2 450.1V461.9M984.7 451.1V463.1M972.5 490.9V502M975.6 490.3V502.4M978.6 490.3V502.6M981.8 491.1V501.7M984.7 491.4V502.4M973.1 531.2V541.9M976.3 530.2V542M978.9 530.6V542.7M981.5 530.7V542.2M985 530.9V542" stroke="#4a4640" stroke-width="2.5" fill="none"/>
<path d="M756.7 389h14.4M756.9 405.3h14.4M756.6 389h14.4M757 405.3h14.4M756.3 428.9h14.4M756.8 445.2h14.4M757.1 468.7h14.4M756.7 485h14.4M757 508.6h14.4M757 524.9h14.4M757 548.4h14.4M756.7 564.7h14.4M795.5 389h14.4M796 405.3h14.4M796.2 389h14.4M795.6 405.3h14.4M796 428.9h14.4M795.3 445.2h14.4M796 468.7h14.4M795.6 485h14.4M796.1 508.6h14.4M795.3 524.9h14.4M796.1 548.4h14.4M795.9 564.7h14.4M834.6 389h14.4M834.9 405.3h14.4M835.4 389h14.4M834.8 405.3h14.4M834.8 428.9h14.4M835 445.2h14.4M835.2 468.7h14.4M834.9 485h14.4M835.2 508.6h14.4M834.9 524.9h14.4M835.2 548.4h14.4M834.9 564.7h14.4M874.4 389h14.4M874.3 405.3h14.4M873.7 389h14.4M873.6 405.3h14.4M873.8 428.9h14.4M873.9 445.2h14.4M874.3 468.7h14.4M873.8 485h14.4M874 508.6h14.4M873.8 524.9h14.4M874.5 548.4h14.4M874 564.7h14.4M912.8 389h14.4M913.4 405.3h14.4M913.2 389h14.4M912.9 405.3h14.4M912.9 428.9h14.4M912.7 445.2h14.4M913 468.7h14.4M913.4 485h14.4M912.9 508.6h14.4M912.7 524.9h14.4M913.4 548.4h14.4M913.4 564.7h14.4M952.1 389h14.4M952.3 405.3h14.4M952.1 389h14.4M952.5 405.3h14.4M952.6 428.9h14.4M952.2 445.2h14.4M952.6 468.7h14.4M952.6 485h14.4M952.2 508.6h14.4M952.6 524.9h14.4M952.1 548.4h14.4M951.7 564.7h14.4M774.4 448.6V464.6M792.2 448.6V464.6M774.4 488.5V504.5M792.2 488.5V504.5M774.4 528.3V544.3M792.2 528.3V544.3M813.5 448.6V464.6M831.3 448.6V464.6M813.5 488.5V504.5M831.3 488.5V504.5M813.5 528.3V544.3M831.3 528.3V544.3M852.6 448.6V464.6M870.4 448.6V464.6M852.6 488.5V504.5M870.4 488.5V504.5M852.6 528.3V544.3M870.4 528.3V544.3M891.7 448.6V464.6M909.5 448.6V464.6M891.7 488.5V504.5M909.5 488.5V504.5M891.7 528.3V544.3M909.5 528.3V544.3M930.8 448.6V464.6M948.6 448.6V464.6M930.8 488.5V504.5M948.6 488.5V504.5M930.8 528.3V544.3M948.6 528.3V544.3M969.9 448.6V464.6M987.7 448.6V464.6M969.9 488.5V504.5M987.7 488.5V504.5M969.9 528.3V544.3M987.7 528.3V544.3" stroke="#2a2622" stroke-width="3.4" fill="none"/>
<path d="M760.5 394h3.1M761.7 396.4h6M761.7 434.7h4.6M761.9 474h5.4M759.3 520.4h4.1M759.3 554.7h5.4M800.7 395.7h4M798.9 395.3h4.9M799.3 438.5h4.2M797.6 473.7h3.6M800.7 513.4h5.3M798 556.8h3.8M838.3 397.3h4.3M836.2 399.1h4.7M838.6 435.9h6M836.9 477.5h5.1M836.1 514.8h6M838.9 552.8h4.4M875.3 397.4h5.3M877.4 394.7h4.6M875.2 439h4M876.5 477.2h3.7M876 515.6h3.6M876.8 556.7h5.3M917.8 400.8h4.2M917.3 399.2h5.4M916.3 436.4h5.7M915.6 480.6h5.2M917.6 519.8h5M916 554.7h3.2M953.6 398.5h4.5M954.3 394.8h4.1M954.2 438.8h5.3M956.5 474.7h4.2M956.8 516.6h4.4M955.3 554.1h3.8M787.5 452.6v6.8M783.5 492.5v4.6M779.3 532.3v5.9M823.9 452.6v5.2M825.5 492.5v5.5M819.5 532.3v4.4M862.1 452.6v7.8M857.6 492.5v4.1M861.3 532.3v7.8M898.3 452.6v4.6M903.2 492.5v6.6M903 532.3v7.7M941 452.6v6.8M940.7 492.5v5.3M940.6 532.3v6.1M980.3 452.6v4.2M982.1 492.5v7.3M975.1 532.3v5.8" stroke="#9aa0a0" stroke-width="1.2" fill="none" opacity="0.8"/>
</g>
<defs><clipPath id="cg4"><rect x="955.1" y="437.1" width="163.6" height="122.5"/></clipPath></defs>
<rect x="955.1" y="437.1" width="163.6" height="122.5" fill="#b39a7e"/>
<g clip-path="url(#cg4)">
<path d="M1106.4 553.3l4.2 -2.3M986.5 491.6l2.6 -1.6M1039 527l2.9 -2.4M1113.9 481.5l3.9 -1.8M1032.7 525l3.5 -1.6M1088.6 461.1l2.3 -2.3M1009.2 482.4l2.7 -1.9M1083.3 523.7l4.1 -2M982.5 556.5l2.1 -1.7M1086.8 553.3l3.3 -0.5M986.7 446.4l3.2 -2.1M1041.6 457.9l3.4 -0.9M1011.2 546.4l4 -0.7M1059.7 466.3l2.7 -1.7M972.8 514.4l2.8 -1.4M1047 503.5l2.6 -1.4M1016.8 533.3l2.4 -0.8M1024.2 447.1l3.7 -1.5M1003.8 547.2l2.2 -0.7M1054.1 472.8l2.8 -1.8M1023.7 537.1l3.2 -1.4M998.3 541.5l3.3 -2.3M1095.5 468.9l4.1 -2M1000.2 481.5l2.4 -0.8M1003 446.7l4.3 -1.2M958.2 511.9l2.3 -1M1089.5 511l3.5 -1.8M1024.9 475.9l3.5 -1.4M1076.9 550.5l2.8 -0.7M1081.7 538.9l2.1 -1.7M1021.7 444.3l2.8 -1.6M1006.7 519.3l3.1 -2.2M1057 489.5l3.5 -0.7M1092.6 485l3 -2.4M1071.1 519l2.7 -2.2M1043.9 452l2.2 -1.6M1077.8 511.4l3.3 -2.1M1035.8 504l4 -1.9M1102.5 455.9l3.7 -0.6M973.2 538.4l2.2 -2.3M1038.8 470.4l3.4 -0.5M1074.8 445.8l4.1 -2.1M1114.7 437.1l4 -1M977.9 534.7l2.9 -1.3M968.5 477.1l3.7 -1.3M978.5 454.2l3.5 -0.5M1040.5 502.9l3.5 -0.6M1089.8 525.1l4.4 -0.7M1037 557.6l3.9 -2.3M981.2 504.5l2.6 -2.4M980.1 505.9l3.6 -1M1075.9 494l3.9 -1.8M1021.2 518.7l2.9 -1M1095.5 532.4l3.7 -2.3M1110 514.7l4.3 -2.2M1059.1 513.2l3.6 -0.6M1010.6 455.9l2 -1.8M1106.6 532.7l3.7 -0.8M1116.3 489.2l4.2 -2M1106.7 556.3l3.7 -0.5M1074.8 478.7l3.4 -1.3M1084.6 451.4l2.2 -2.3M971.6 519.2l2.8 -1.4M1094.5 530.5l4.3 -1M1074.6 540.4l4.1 -1.4M1104.6 541l3.1 -2M1098.7 507.7l2.3 -0.5M1040.6 458.2l3.5 -1.6M955.4 486.9l4.4 -0.8M1059.4 473.1l2.5 -2.3M1043.5 463.1l3.8 -2.5M1008.4 496.4l3.6 -2.3M970.4 460.8l2.2 -2M1036.3 499.4l4 -2.4M1057.3 541.2l2 -1.7M1111.7 504.3l3.7 -0.8M1085.1 540.5l3.8 -1.9M991.8 466.6l4.3 -2.4M1102.8 464l2.2 -1.5M1047.9 443.4l2.7 -1.7M1087.1 458.6l3.8 -2.4M1010.8 542.4l4 -2.2M981 526.2l2.1 -2.1M1030.3 549.5l3.5 -1.4M1088.3 492.2l3.4 -2.4M1010.6 529.8l4.1 -0.6M1047.9 493.2l4.2 -1.3M1083.2 482.8l2.6 -1.4M1068.2 467.6l2.8 -1.4M1006.6 496.8l4.1 -2.1M1053.7 459.1l3.5 -1.7M984.4 438.8l2.3 -1.1M1056.9 439.6l3.1 -0.5M1087.8 479.2l3 -1.1M1007.2 465.5l2.3 -1M1057.4 446.7l4.4 -0.5M999.8 466.1l2.1 -1.2M1001 451.2l2.6 -0.8M1014.2 555.6l2.2 -1.7M1079.1 525.7l2.7 -1.1M1072.9 462.8l3.4 -2.1M1084.3 539.5l2.9 -1.3M1038.2 456.8l3.6 -1.5M1063.3 498.5l3 -1.6M963.8 443.1l2.9 -1.7M1002.6 469.1l3.2 -1M1058.5 481.8l4.4 -1.1M1084.5 485l4.3 -2.4M1042.7 493.4l2.5 -0.9M1003.7 442.5l3.2 -1.8M1043.6 477.8l2.1 -0.6M995.8 503l2.7 -1.9M1081.1 477.7l4.5 -1.8M1097.7 453.9l3 -1.8M983.3 445.2l2.3 -2.4M1079.6 477.6l2.8 -1.7M963.5 498.8l2.6 -1M978.6 546l2 -0.6M1057.5 494.7l3.5 -1.7M964.7 545.5l2.9 -1.8M1034.1 511.2l2.7 -1.9M1078.2 459l4 -1.5M1102.9 498.4l3.6 -1.7M1037.1 442l4 -2.3M1027.1 502l3.6 -1.1M1029.9 541.4l2 -0.9M1049.3 443.9l2.7 -1.6M976.2 516.9l2.5 -1.3M1003.1 481.3l2.4 -1.9M1087.3 541.5l2.8 -1M1007.4 477.6l2.6 -2M959.1 463.2l2.4 -1.3M967.3 528.6l3.9 -2.2M1018.4 484.3l3.4 -0.9M984 533.4l3.6 -1.5M1027.3 550.9l3.2 -1.7M974 437.6l3 -2.2M1114.3 476.3l2.7 -1.8M1041.7 445.8l4.1 -2.2M979.4 517.3l2.4 -2.3M987.9 507.5l2.1 -0.6M1088.4 458.6l3.9 -1.4M996.7 440.9l2.4 -1M1106.6 506.8l3.5 -1.5M979.4 538.3l3.6 -1.8M1090 528.7l4.2 -1M1031.8 520.1l2.2 -2.4M1112.1 542.3l3.2 -1.4M1044 535.1l3.3 -2.3M1003 491.8l4.4 -1.5M966.8 500.8l2.3 -2.4M1100.3 481.3l2.7 -1.5M1012.8 551.6l2.7 -2.1M955.4 535l4.3 -2.2M1037.2 522.2l3.2 -1.4M1036.4 444l2.7 -2.1M1024.1 514.1l4.4 -1.8M1080.5 508.5l3.8 -1M1052.1 481.1l3.2 -1.5M980.6 447.8l2.9 -0.6M1061.7 554.4l4 -2.3M1111.1 558l3.3 -1.8M955.7 484.6l4.1 -0.7M1033.4 500.4l2.5 -1.8M1046.6 444.4l2.5 -1.6M1026.3 500.5l3.4 -0.6M1100.8 551.1l3 -1.7M1090.9 476.7l3.9 -2.5M955.6 554.1l3.7 -0.5M1057.8 469.1l3.5 -2.1M992.2 548.7l2.8 -1.1M998.7 557.4l4.3 -1.7M989.8 479.3l2.8 -2.1M998.8 532l2.7 -0.6M1005.9 486.1l3.9 -1.2M1014 529.8l3.4 -1.5M1106.5 486.8l2.2 -2.1M1036.3 479.3l4.5 -0.5M1081.2 441.3l2.4 -0.8M996.3 458.8l2.7 -0.8M1075.7 533.5l3.3 -1.4M1095.2 468.3l3 -1.8M1039.6 479.9l2.9 -2.3M1039.8 491.4l3.6 -2.4M1088.2 438.7l3.5 -1.9M957 481.9l2.2 -2.4M1112.7 458.8l2.4 -1.5M973.7 505.3l3.3 -1.6M969.7 437.2l4.1 -1.8M1089.1 556.9l2.8 -1.9M1055.1 468.9l3.3 -1.4M1038.6 509.7l2.4 -1.8M1030.8 462.4l3 -0.5M1099.4 550.5l2.1 -1.6M1015.3 557.3l3.5 -2M985.3 450.2l2.9 -0.8M1016.3 543.3l4 -1.4M964.4 492.3l3.5 -1.2M1003.8 466.2l2.7 -0.8M1055.9 441.3l3.2 -1.8M955.3 501.2l3 -1.8M1008.6 549l3.2 -2.2M994.7 525.6l2.2 -1.3M1099.4 555.8l3.5 -1.1M1023 542.1l4 -1.8M1033.7 446.9l2.7 -0.9M1024.9 444.1l3.1 -1.2M1074.5 470.5l4 -0.5M1110.9 532.3l2.8 -0.6M999.3 452.4l4.2 -0.9M1044.9 519.5l4.4 -2M1012.5 489.9l4.1 -1.3M983.7 539.9l4.3 -1.4M1083 548.4l2.6 -1.6M1064.6 511l2.3 -2.4M1099.7 521.7l3.7 -2M1062 510.7l2.8 -0.5M1012.8 517.3l4.2 -1.7M974.1 522.6l3.9 -0.9M1070.8 463.7l4.4 -0.9M1032.5 510.1l2.1 -2.2M1063 482.6l2 -1.2M986 457l4.1 -0.7M1037.8 533.4l3.6 -1.4M1006.7 491.2l2.3 -0.8M1028.2 469.1l2.5 -2.3M1025.7 501l2.1 -1.1M957.7 466.9l2.8 -1.5M1010.7 525.6l2.4 -2.4M1103.4 526.6l4 -0.6M1025.1 520.8l2.2 -0.9M1059.7 486.4l3.3 -1.6M1008.8 522.1l3 -1.9M1029.3 521.6l2.1 -0.5M1082.6 500.6l4.5 -2.3M1000.1 523.6l2.8 -1.4M1000.9 527.9l2.8 -1.6M1034.2 544.1l2.1 -1.7M1103.7 547.2l2.7 -1.6M1069.9 454.3l3.1 -0.8M1109.1 462.3l3.1 -1.3M1009.8 442.7l2.1 -1.7M1113.1 523.8l2.3 -1.1M1063.7 489.4l3.7 -1.9M1014.5 516.6l2.2 -1.2M1100.8 521l3.5 -2.3M1051.9 452.4l3.3 -1.7M1036.7 461.4l4.5 -1.9M1084.1 526.7l2.4 -1.9M986 530.8l3 -2M1039.8 450.7l2.4 -1.1M979.3 503.3l3.2 -1M964.8 478.8l4.3 -2M979.5 511.6l4.1 -2.3M1019 533.3l4.2 -2.1M1001.1 506.9l3.9 -2.3M999.3 525.6l4.2 -1.5M1088.6 438.1l3.6 -0.7M985.7 540.1l2.7 -2.4M1103.6 480.1l2.6 -2" stroke="#e2d2b8" stroke-width="1.2" fill="none" opacity="0.75"/>
<path d="M1052 489l3.3 -2.2M959.2 447.6l3.8 -1.7M1083.2 509.3l3.6 -1.3M1048.7 518l2.8 -2.3M1060.2 459.4l2.4 -1.9M961.5 470.9l3.4 -0.9M1082.3 504.4l2.6 -2.3M1044.3 549.6l3.5 -0.6M958.9 536.3l3.7 -0.6M1077.6 479.5l4.4 -1.7M1107.8 553.5l2.5 -2.3M996.5 488.8l4.3 -1.6M1067.6 487.6l3.7 -0.8M1081.3 505.3l3.4 -0.8M1091.8 467.5l4.4 -2.3M1032.1 492.2l3.8 -2.5M988.4 520.5l2.4 -1.6M1067.8 503.1l3.4 -1.4M1096.4 498.1l3.9 -1.2M1004.5 554.7l2.9 -1.7M996.9 471.2l2.2 -2.1M1030.8 451.9l3.4 -1.6M1115.9 514.8l2.1 -0.9M969.9 527.5l3 -1.1M982.9 556.7l4.3 -2.1M1031.8 524l3.4 -1M977 448.4l4.1 -2.1M1095.6 490.5l2.9 -1.2M1115.7 557.4l2.3 -1.7M1073.6 530l3.3 -2.1M1089.7 509.3l3 -2M1089.5 507.6l4.4 -1.4M1115.6 518.1l3.1 -2.4M960.7 484.9l4.4 -1M1053.6 444.9l3.5 -1.5M978.9 515.7l2.8 -1.3M1011.9 556.9l2.7 -1.9M1112.6 439.8l4 -1.4M1064.2 450.9l4.3 -0.6M1085.2 525.3l4.4 -1.2M1060.9 544.4l2.5 -1M990.7 444.6l3.7 -2.2M1048.2 507.2l4 -1.2M1038.9 547.8l3 -0.8M1091.3 462.6l4 -0.9M1055.5 489.5l3.3 -0.9M1086 539.9l2.7 -1.3M976 499.4l2.9 -2.1M995.6 482.4l4.2 -1.6M1052.1 558.5l3.9 -1M1028.2 443.6l4.3 -2M970.2 489.5l3.2 -0.9M983.6 544.9l4.4 -2.5M1075 531.6l3.6 -0.6M1003.9 502l3.3 -0.6M1020.6 527.7l3.5 -1.7M1004.2 447l3.2 -1.8M1000 451.3l3.5 -2M970.4 513.9l3.7 -2M1115.9 455.2l3.8 -1M1094.2 443.4l2.9 -1.9M974.1 490.4l4.2 -1.8M1077.4 492.9l3.8 -1.3M1001.3 498.9l3.9 -0.9M1059.9 442.5l3.2 -1M1100 517.6l2.5 -2.4M1051.2 530l4 -2M1084.3 451.3l2.5 -1.7M984.6 539l2.6 -2M984 460.7l4.3 -2.4M1015.9 527.5l2.1 -1.7M1096.8 470.2l3.9 -2.2M977.9 447.7l4.1 -1.4M962.5 518.7l2 -1.5M1006.3 508.2l2.1 -1M1093.1 537.5l3.2 -2.3M1114.6 513.4l2.8 -0.9M1097.4 485.7l3.4 -1.1M991.8 489.1l2.3 -2.3M970.6 535.8l4.3 -2.4M1077.1 551.3l2.6 -2.2M1102.6 527.6l4.4 -0.6M1042.9 465.7l2.5 -1.8M1072.8 460.2l4 -1M1030.1 516l4.4 -0.7M1066.4 477.5l4.2 -2.5M987.9 457.4l2.1 -1M987.1 501.6l2.9 -1.9M1109.2 455.5l2.8 -2M1072.7 490l3.4 -1.5M1083.4 510.1l3 -0.5M970.1 527.2l2.2 -1.9M1074.2 484.8l4.3 -1.4M1079.6 521.9l2.4 -1.7M978.3 480.4l2 -1.1M1077.8 535.8l3.8 -2.5M1051.8 481.5l3.9 -2M1035.3 527.3l4.2 -1.2M1099.9 520.7l2.9 -0.8M1062.4 540l3.3 -0.6M1056.1 477l4.5 -1.8M993.2 483.1l3.1 -1.1M1041 491.7l4.2 -1.2M1066.2 490.7l2.2 -2.1M1029.8 461.7l2.6 -1.6M965 438.8l3.1 -0.7M1090.1 540.3l2.1 -2.1M1108.5 513.1l3 -0.8M979 473.9l2.2 -2.5M958.1 493.9l2.7 -2M1114.1 466.1l3.6 -1.3M1029.3 442.6l2.6 -0.5M1094.4 476.6l4.2 -1.6M1083 543.1l2.3 -1.7M1004.5 489.9l4.3 -1.2M993.2 439.5l2.7 -0.6M961.3 499.6l3.8 -1.6M1089 545.4l4.2 -1.8M1094.9 474.8l3.4 -2.4M1116.4 525.6l2.4 -1.4M1109.7 510.1l3.4 -1.1M979.7 475.9l4.5 -0.8M1075.3 502.7l2.9 -0.5M1000.9 492.6l2.5 -1.6M963.3 466.1l2.3 -1.8M980.6 527.8l4.1 -0.5M1065.5 555.8l4.2 -2.4M1038.4 503.9l2.9 -0.7M976.8 515.4l2.1 -2M1087.6 516.7l3.6 -1M1039.1 503.2l2.5 -2.3M1087.9 502.6l3.6 -1.7M1005.9 520.7l3.8 -2.2M979.1 483.2l4.3 -2.1M1030.1 444.7l3.6 -2M1012.8 472l3.5 -1.1M1053 456.8l3.3 -1.6M1063 466.5l2.6 -1.1M1003.6 504l3.1 -1M1069.4 532.2l2.3 -2.4M958.1 528l4 -1.7M1094.4 534.4l4 -0.8M1039.8 497.6l3.2 -2.4M1099.8 495l3.3 -0.9M979.4 500.2l2.7 -2.5M1021.5 549.1l2.6 -2M1107.5 438.8l3.9 -1.6M1069.1 469.1l2 -0.5M971.9 465.9l4.4 -0.9M1006.9 501.9l2.4 -1.4M1078.6 499l2.4 -1.7M1101.6 512.6l3.2 -1.2M1034.9 535.2l3.9 -1.2M987.2 463.9l2.3 -2.2M1067.5 538.1l4.4 -1.1M1112 526.3l2.3 -1.8M1069.4 487.7l4.3 -1.5M1019 491.8l3.6 -1.1M1017.5 476.4l2.2 -2.4M1020.7 548.9l3.7 -0.6M955.5 554.9l2.9 -1.2M1051.7 522.5l2.2 -0.9M1096.1 543.1l3.1 -1.7M1033.5 439.4l3.4 -2.4M1079.4 558.2l3.9 -0.9M1093.9 438.7l3.7 -1.1M993.6 460.7l4.2 -1M1036.6 475.4l2.8 -0.5M1021.5 547.3l3.4 -1.3M960.4 525.4l2.1 -0.7M1010.5 522.2l2.5 -2M1111.8 551.6l2.4 -1.3M1051.1 463.7l2.8 -2.2M973.2 440.5l2.6 -1.5M994.6 544.8l2.9 -1.4M983.3 446.5l2.7 -0.8M1108.1 452.8l3 -2.4M1037.4 539.4l3.7 -1.6M1039.8 520.8l3.5 -0.8M1037.6 530.6l3.9 -1.8M1032.1 492.8l2.5 -1.4M1003.6 550.6l3.8 -2.3M1053.6 481.1l3.7 -2.3M1084 501.5l2.6 -2.2M1011.2 555.5l2.3 -2.1M1066.9 552.8l2.4 -1.3M963.6 508.1l4.1 -0.7M985.2 511.3l2.4 -1.1M1022 500l3.2 -2.5M1000.6 518l3.3 -1.4M1057.5 515.5l4.5 -2.2M995.3 503.7l3.8 -2M1100.3 481.4l2.9 -2.1M1020.5 466.4l3.7 -0.8M1067 453.4l3 -1.3M988.4 495l3.5 -2.1M1057.6 437.9l2.6 -1.8M1054.6 499.8l4.1 -2M1029.8 548.8l3.2 -1.7M1034.2 487l3.7 -1.2M985.5 536.2l2.4 -2M989.9 474.7l4.1 -2.5M1092.4 493.5l3.7 -1.4M1070.4 538.5l3 -1.2M1043.9 558l3.8 -2.1M984.3 512.5l3.9 -0.6M1079.6 542l2.2 -1.6M1008.9 511.6l2.1 -1.2M955.6 506.1l2.2 -1.7M1042.6 457.2l3.3 -2M998.7 459.9l4.4 -0.9M1051.2 487.2l3.5 -2.5M1062.9 490.4l2.9 -1.3M1027.2 528.7l4.2 -0.6M958.6 513l3.4 -2.4M1004.7 504.9l2.8 -1.4M996.8 505.6l3 -2.4M981.1 514.7l2.1 -1.5M1011.1 533.7l3.3 -2M956.9 521.6l3.1 -2.4M1080.5 468.9l4.2 -1.7M1002.7 505.4l3.8 -1.4M1010.1 512.9l4.4 -2.2M1084.5 482.6l2.6 -1.9M1060.7 523.2l3.6 -1M1113.2 520.2l3.6 -1.3M1025 447.7l4.4 -1.5M955.2 486.9l3.7 -1.2M958.5 458.1l4.1 -1.9M1061.4 519.8l4 -1.2M965.4 552.9l3.7 -0.6M970.4 539.3l2.4 -2.1M1050.8 475.5l2.5 -0.9M984.8 504.3l2.4 -1.8M1098.2 548.3l2.8 -0.7M1058 541.4l2.8 -2.3M1062.1 487.1l4.2 -1.7M1064.9 517.9l3.1 -1.6M956.6 450.3l2.9 -1.8M974.8 463.6l2.9 -1.3M1089.5 549.7l4.3 -2.2M1026.5 512.2l4.4 -2.3M975 446l3.6 -2.2M1055.3 448.9l4.2 -0.9M994.1 554.8l2.3 -2.4M1027.2 526.5l2.2 -0.9M1085.6 506.3l4.1 -1M1058.1 539.5l2.5 -2.4M1056.4 506.4l4.1 -1.5M978.2 467.8l2.3 -2.2M984.6 529.6l2.1 -1.9M1026.3 541.4l2.1 -1.3M965 557.4l2 -1.3M1105.6 520.1l2.3 -2.1M1097.4 512.5l2.1 -1.4M967.8 444.2l3.3 -1M970.8 438.7l2.3 -1M1003.8 554.6l4 -2.1M957.8 520.3l3.7 -2.2M1061.7 530.6l4.1 -2.4" stroke="#8a7058" stroke-width="1.1" fill="none" opacity="0.6"/>
<path d="M1043.1 709.3A241.1 241.1 0 0 1 1284.2 468.2M1017.7 709.3A266.5 266.5 0 0 1 1284.2 442.8M992.3 709.3A291.9 291.9 0 0 1 1284.2 417.4M966.9 709.3A317.3 317.3 0 0 1 1284.2 392M941.5 709.3A342.7 342.7 0 0 1 1284.2 366.6M916.1 709.3A368.1 368.1 0 0 1 1284.2 341.2M890.7 709.3A393.5 393.5 0 0 1 1284.2 315.8M865.3 709.3A418.9 418.9 0 0 1 1284.2 290.4M839.9 709.3A444.3 444.3 0 0 1 1284.2 265" stroke="#3e3024" stroke-width="5.4" fill="none"/>
</g>
<text x="229.3" y="226.6" text-anchor="middle" style="font-family:'Liberation Sans',sans-serif;font-size:21px;font-weight:bold" fill="#fff">Mode-I</text>
<text x="412" y="214" text-anchor="end" style="font-family:'Liberation Sans',sans-serif;font-size:19px;font-weight:normal" fill="#fff">10 μm</text>
<rect x="372.8" y="221.6" width="30.2" height="5" fill="#fff"/>
<text x="621" y="227" text-anchor="middle" style="font-family:'Liberation Sans',sans-serif;font-size:21px;font-weight:bold" fill="#fff">Mode-II</text>
<text x="758.4" y="214.5" text-anchor="end" style="font-family:'Liberation Sans',sans-serif;font-size:19px;font-weight:normal" fill="#fff">2 μm</text>
<rect x="724.8" y="221.8" width="25.8" height="5" fill="#fff"/>
<text x="968.8" y="227" text-anchor="middle" style="font-family:'Liberation Sans',sans-serif;font-size:21px;font-weight:bold" fill="#fff">Mode-III</text>
<text x="1115.7" y="215.4" text-anchor="end" style="font-family:'Liberation Sans',sans-serif;font-size:19px;font-weight:normal" fill="#fff">1 μm</text>
<rect x="1084.6" y="223.6" width="20.2" height="4" fill="#fff"/>
</svg></body></html>
